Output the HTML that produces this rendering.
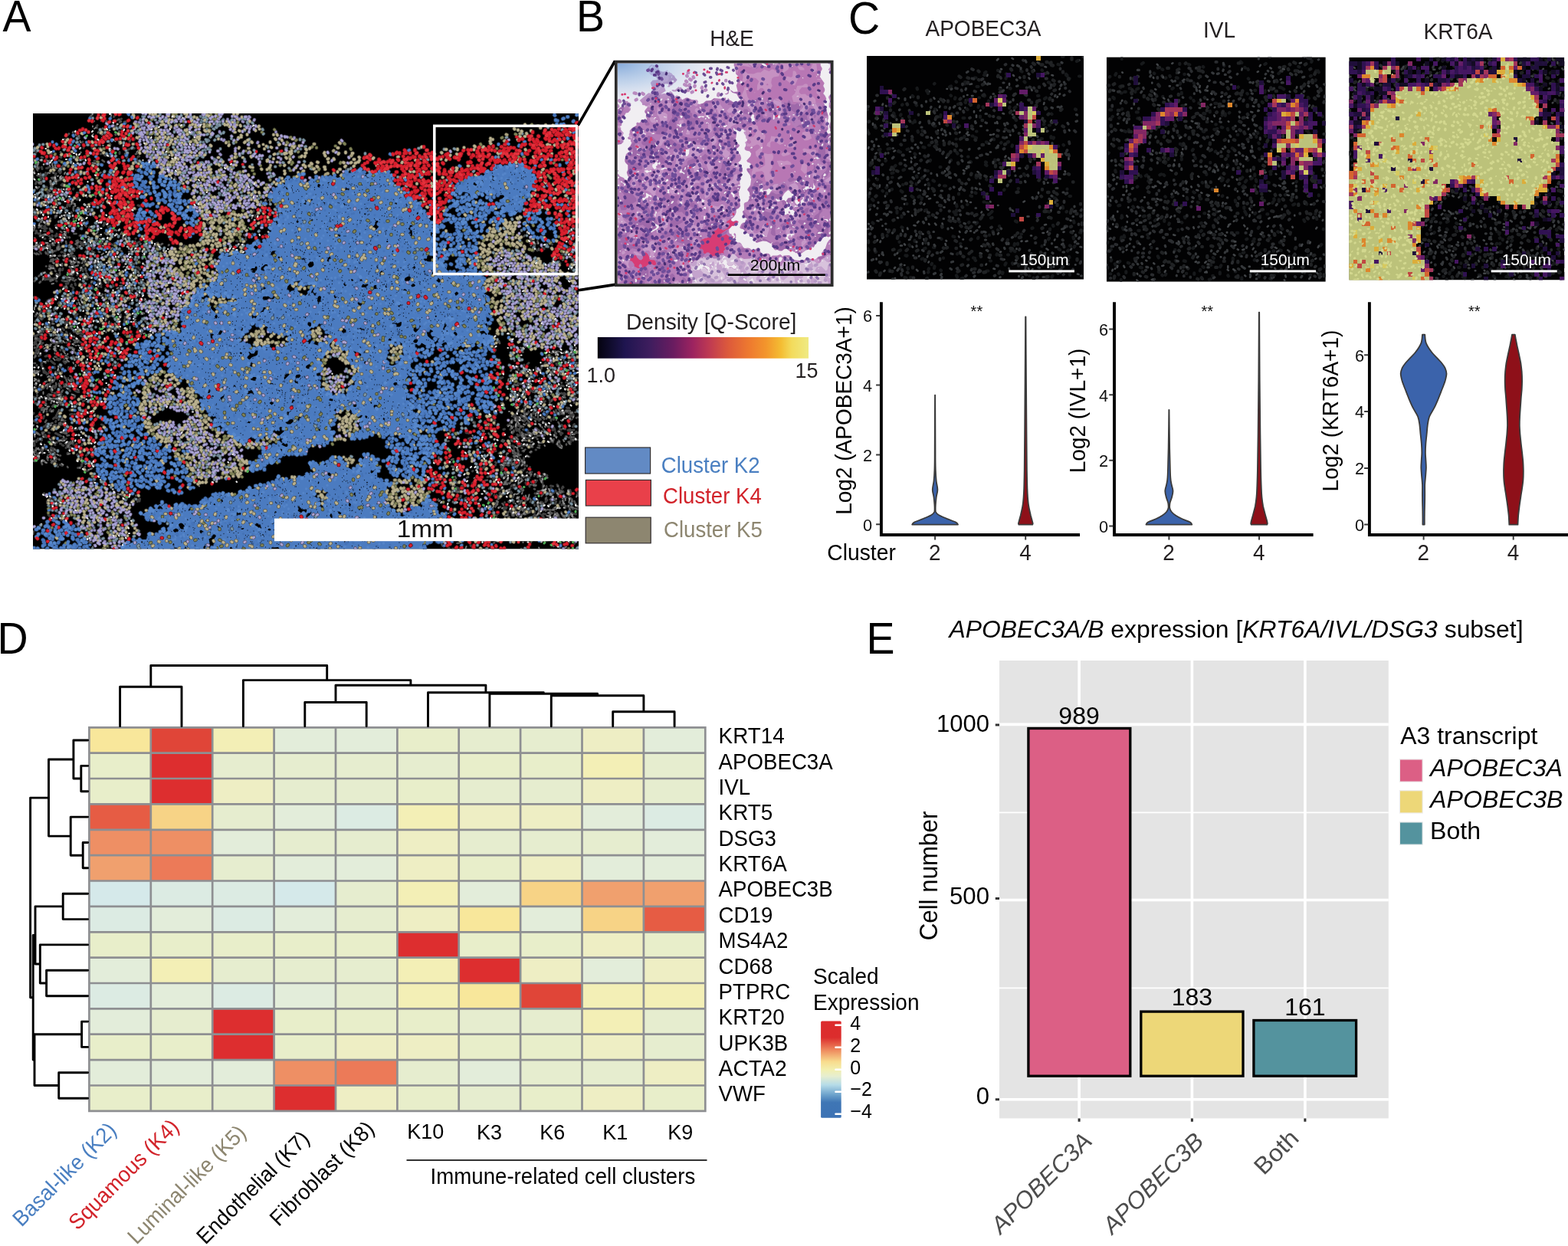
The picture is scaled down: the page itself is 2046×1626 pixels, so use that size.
<!DOCTYPE html>
<html><head><meta charset="utf-8"><title>Figure</title>
<style>html,body{margin:0;padding:0;background:#fff}svg{display:block;font-family:"Liberation Sans",sans-serif}</style>
</head><body>
<svg width="2046" height="1626" viewBox="0 0 2046 1626">
<defs>
<linearGradient id="inf" x1="0" x2="1" y1="0" y2="0">
<stop offset="0" stop-color="#04030f"/><stop offset=".06" stop-color="#100c2d"/><stop offset=".13" stop-color="#1f1550"/>
<stop offset=".25" stop-color="#3f1d5e"/><stop offset=".36" stop-color="#6a1c60"/><stop offset=".45" stop-color="#9c2360"/>
<stop offset=".53" stop-color="#bf3a52"/><stop offset=".62" stop-color="#dd5a3b"/><stop offset=".72" stop-color="#ee7a2f"/>
<stop offset=".8" stop-color="#f3962c"/><stop offset=".87" stop-color="#f4bd33"/><stop offset=".92" stop-color="#f3db5c"/>
<stop offset="1" stop-color="#efea83"/></linearGradient>
<linearGradient id="rdbu" x1="0" x2="0" y1="0" y2="1">
<stop offset="0" stop-color="#dc2b2c"/><stop offset=".17" stop-color="#dc2d2d"/><stop offset=".3" stop-color="#ee8a5e"/>
<stop offset=".42" stop-color="#f8dc8e"/><stop offset=".5" stop-color="#f3efae"/><stop offset=".57" stop-color="#e6eed0"/>
<stop offset=".66" stop-color="#b5dbe8"/><stop offset=".76" stop-color="#6ea3cc"/><stop offset=".84" stop-color="#3f76b5"/>
<stop offset="1" stop-color="#3c72b4"/></linearGradient><clipPath id="cpA"><rect width="712" height="568.6"/></clipPath>
<clipPath id="cpB"><rect width="278.3" height="288.2"/></clipPath>
<radialGradient id="hebl" cx="0" cy="0" r="1" gradientUnits="objectBoundingBox" gradientTransform="scale(1 1)">
<stop offset="0" stop-color="#7fa6d8" stop-opacity=".95"/><stop offset=".45" stop-color="#a9c6e8" stop-opacity=".6"/><stop offset="1" stop-color="#dfeaf6" stop-opacity="0"/></radialGradient>
<clipPath id="cpC1"><rect width="283.1" height="291.7"/></clipPath>
<clipPath id="cpC2"><rect width="286" height="293.3"/></clipPath>
<clipPath id="cpC3"><rect width="281" height="290.7"/></clipPath>

</defs>
<rect width="2046" height="1626" fill="#fff"/>
<g transform="translate(43 148)" clip-path="url(#cpA)">
<rect width="712" height="568.6" fill="#000"/>
<path transform="scale(.5)" d="M88 481l2 0M1196 990l-1 5M195 234l1 0M1245 941l4 4M16 696l-2 -1M1322 867l-2 -1M1253 632l2 2M28 665l1 2M38 736l4 5M1315 761l4 -1M1298 941l1 0M103 854l1 -2M1257 968l-5 3M122 390l-4 2M1405 1019l2 -6M19 740l1 2M1288 955l2 1M1281 882l-3 -1M76 188l2 -2M1285 771l2 -6M234 374l1 -1M1300 698l-5 -4M55 814l5 -1M1190 1104l0 4M1215 1076l-5 -1M21 259l4 -5M272 471l5 4M1300 1009l-2 5M4 862l0 5M56 391l-2 0M271 118l0 6M1199 793l4 4M1390 1004l2 -2M27 564l4 0M1295 969l1 5M199 472l-1 -3M1289 1044l-1 0M123 782l1 -1M1251 970l-3 3M118 706l0 1M192 537l-2 -5M1312 1066l-5 4M95 1050l5 -1M127 916l3 -3M1371 387l2 -1M1289 785l0 -3M1340 633l3 0M1127 1006l4 -3M1350 1093l4 -2M1321 1032l0 2M188 312l5 4M269 147l2 2M248 346l1 2M1218 691l3 -1M1314 799l-3 -3M42 320l2 1M293 445l2 1M44 776l2 -4M129 446l5 1M45 181l6 4M58 1016l2 1M1272 977l-1 1M1263 1068l0 4M148 250l-3 -2M1411 788l-3 3M1325 674l-1 -4M123 573l7 2M5 756l7 2M240 532l0 -1M1347 821l0 -5M206 676l3 0M32 161l1 2M1231 1015l0 1M1148 933l-1 1M65 211l4 1M50 696l-1 6M605 317l4 0M105 417l-4 -3M46 667l1 4M1370 676l-6 -2M1210 996l-1 4M1361 1116l0 -5M139 512l-4 -5M74 1061l-2 -4M1275 934l5 -3M5 199l-5 4M1380 369l6 -4M1227 1029l2 -1M1250 918l3 -2M1267 893l-2 -1M1330 965l-2 -6M1356 826l0 -3M27 349l6 1M43 560l6 1M13 849l1 4M123 348l0 2M237 491l6 -3M8 236l1 -2M217 379l1 -3M1258 922l2 0M1 878l0 5M1288 847l-2 0M72 760l2 -6M53 874l2 2M28 843l3 1M86 546l3 -1M36 199l2 6M1190 821l1 2M87 598l1 0M62 747l2 -4M166 529l-3 -6M105 284l1 -3M156 708l2 7M17 748l1 3M1250 990l-3 2M1382 835l-5 -3M56 662l1 3M86 873l5 -5M1323 696l-1 -4M1248 854l0 -2M127 884l4 -6M37 645l3 1M1283 866l-4 1M1325 769l2 -3M50 318l1 2M1272 932l5 -1M156 531l-1 -3M1305 727l-3 -6M1284 826l-5 -1M1420 418l5 1M1372 782l-5 -2M1137 849l6 -2M13 129l-1 4M6 590l3 -4M1413 811l-2 2M10 807l2 0M21 569l6 1M266 476l2 0M15 589l4 -1M250 396l6 1M30 672l-2 1M1222 924l4 3M1167 917l1 4M1264 904l0 -2M1312 772l1 -1M1405 726l-6 0M168 282l-1 -2M1264 738l2 -4M141 218l-1 -1M179 218l3 -5M29 295l3 0M24 883l1 4M1279 662l3 -6M212 35l6 -2M115 891l1 -1M1250 748l-1 -5M111 569l3 2M1420 987l0 -1M131 751l4 -2M1411 836l-2 0M22 876l-1 3M1256 900l1 -3M436 284l3 3M198 171l1 -1M289 408l2 1M131 509l-2 -2M51 851l1 1M246 113l-1 3M44 688l-2 5M6 529l3 -3M160 124l6 0M136 535l1 -6M1157 816l5 2M118 60l-2 -4M1066 977l4 -2M13 619l1 -1M137 914l1 -3M79 212l1 -2M1284 838l-6 1M1266 1045l-1 5M1273 820l-3 -5M1365 836l-2 -4M25 837l1 1M202 340l6 3M100 85l-3 -6M1202 882l6 -1M185 292l1 -7M194 479l-4 -2M59 1031l3 -5M118 224l-2 -1M11 579l2 -1M1399 770l-6 -2M1352 802l0 -4M9 178l-2 6M118 161l3 -2M1242 903l2 -2M1340 810l-4 -2M104 375l-3 -4M223 423l2 -2M39 364l0 4M64 138l-4 -5M1330 794l-3 -4M1101 983l2 -2M12 570l5 0M1382 676l-6 -3M211 9l4 -6M192 547l0 -1M131 370l-1 5M182 718l0 2M241 578l-2 -6M87 570l2 5M7 337l3 -1M154 896l3 -1M59 859l3 0M1402 985l0 -2M111 528l5 -4M1400 997l-3 -3M454 284l4 4M1383 767l-2 -3M256 1016l1 -2M531 333l3 1M9 853l0 4M1409 1067l-2 1M1266 842l-1 -1M195 336l5 2M119 222l-2 -3M326 338l-3 1M187 168l3 -4M233 388l0 -1M60 791l1 -3M58 711l2 2M1273 1025l-3 3M67 597l2 1M177 336l4 1M102 822l1 0M231 996l3 2M1410 786l-1 4M1279 1004l0 2M1375 1017l1 -4M9 619l1 -7M143 540l1 -6M72 714l1 1M1129 1012l2 -3M147 299l1 -3M1417 721l-2 1M9 232l6 1M8 307l1 -1M1407 782l-1 1M1267 882l-1 -1M109 373l-2 -1M1259 910l0 -3M1310 1040l-5 2M117 338l-2 5M1416 342l0 2M78 633l5 5M1309 1021l0 2M87 449l0 2M31 758l4 1M1252 835l-1 -4M1373 980l0 -1M1420 1096l-4 3M158 958l2 5M237 549l1 -2M29 416l-4 0M1204 669l2 1M71 156l2 -4M1328 1048l3 3M1335 840l-1 -2M1267 841l-3 -3M182 164l4 0M72 296l7 2M158 882l5 1M1262 850l-3 -5M1307 971l2 0M1168 929l-1 1M38 204l3 6M55 819l5 -1M87 864l2 -2M266 601l6 1M1403 858l-2 -2M56 730l2 0M1381 979l0 -2M1390 733l-4 -3M72 729l3 -1M126 338l0 4M59 898l3 4M1418 1023l-1 -3M1375 392l1 -1M1299 937l3 -1M579 334l1 2M1268 964l-1 6M205 379l-3 -6M1409 854l-5 -4M1236 942l-2 5M1355 994l1 -7M194 192l2 -1M139 240l-6 -2M32 338l7 1M266 67l-3 3M1420 832l-1 1M95 612l7 -1M156 854l4 -1M119 595l6 3M1287 1008l-2 5M91 285l4 -4M74 684l-1 1M55 599l3 1M122 319l3 1M1118 977l4 2M9 723l-1 0M1096 1058l-1 -1M1283 1030l-4 1M1135 832l2 3M61 600l3 0M23 538l2 -2M123 255l-1 -1M1338 1009l3 -1M1301 1036l-6 3M80 143l-5 -4M237 487l4 -3M191 717l1 4M1237 887l1 0M1371 998l-2 -5M1384 988l-1 -2M1207 910l2 2M1308 965l4 -2M71 862l2 0M9 229l6 -1M77 611l4 1M1332 1045l6 1M104 454l2 3M42 433l-6 0M104 863l1 -4M60 423l0 -1M56 844l2 2M1389 626l-1 -3M7 313l3 -3M36 226l4 0M1268 863l-5 -2M136 426l4 2M268 389l6 1M59 293l5 -2M1262 1046l2 5M32 219l6 1M248 389l7 0M40 857l5 2M250 471l3 0M1295 847l-3 1M204 304l5 1M178 453l-1 -1M1337 831l-4 -1M1376 662l-3 -4M41 833l2 1M1418 831l-4 5M102 422l-5 -3M200 382l0 -5M615 281l0 -4M1301 883l-2 2M54 154l0 -1M25 535l2 -4M1327 727l2 -1M1349 985l-1 -4M1214 649l1 2M15 633l5 -3M89 244l1 -6M127 76l3 -2M73 332l1 4M1228 825l3 -1M1113 905l4 -4M1340 787l3 -5M118 208l0 -1M1260 1098l3 1M37 1013l2 -2M222 424l-1 -5M30 327l2 0M98 337l-1 6M1278 1087l-2 1M92 444l-6 0M1392 629l-2 -4M258 584l1 -7M1262 664l4 -3M1397 630l-3 -3M179 812l6 3M109 528l2 -2M1262 894l-1 -2M1400 1119l-6 1M139 295l-2 -6M1313 878l-1 0M141 391l0 2M1294 951l2 0M1389 795l-2 0M1246 910l4 -4M1252 949l0 2M33 873l1 3M1310 992l5 1M100 387l-5 -3M1285 786l1 -3M63 330l2 4M1209 1115l-1 1M63 210l1 0M1384 976l-1 -2M191 23l1 -3M1404 990l-1 -3M1263 1096l2 3M1262 828l-2 -6M1289 937l1 -1M30 674l-2 2M59 805l1 -2M178 447l-2 -6M152 684l-4 6M48 359l0 3M155 91l0 -2M1336 720l1 -6M1253 1116l1 -1M124 580l5 3M271 410l4 3M28 172l-1 3M1272 1095l-1 7M108 179l1 -3M171 319l6 0M1291 966l4 3M46 875l2 2M68 839l5 3M63 822l1 -2M1302 792l-3 -5M1346 1021l3 0M47 905l3 2M75 326l0 3M1166 1136l2 -1M1141 896l4 -2M1046 952l1 -1M50 597l6 1M44 211l4 3M1292 1056l-3 1M1287 1078l-3 0M35 633l7 -2M1405 786l-4 3M254 92l-6 3M1248 987l-7 0M157 918l2 -1M23 140l1 5M1415 320l0 3M1258 852l-3 -2M3 855l-1 4M1154 1103l2 4M30 222l4 1M1404 1097l-3 1M1404 780l-5 2M69 321l0 1M1417 1046l-3 -1M1360 702l-2 -1M1260 689l-2 -5M1154 1075l-3 1M26 776l3 -2M602 255l0 -5M1154 965l-3 5M261 1020l3 -3M58 889l1 1M0 718l-3 0M26 352l5 -1M6 218l1 5M1262 925l3 -6M1270 812l0 -1M1401 1039l-1 -3M91 718l4 3M1422 621l-2 -2M270 340l-4 4M1395 694l-2 -1M28 818l3 -2M95 438l-3 1M104 461l1 7M86 709l6 1M153 406l1 0M1288 798l-3 1M127 667l2 5M195 492l0 -1M82 587l2 1M54 151l4 -5M62 643l6 1M125 613l6 0M8 743l0 4M11 889l1 5M1233 963l-3 0M36 192l1 3M187 109l3 1M115 270l-2 -3M135 375l0 4M1286 839l-6 -2M1347 1054l2 0M129 337l-1 6M150 427l3 -1M1271 1018l-2 1M1057 965l3 2M1362 1045l0 -5M22 576l5 3M80 190l3 0M133 676l-1 1M4 297l0 -3M334 572l1 1M49 690l-1 3M139 800l4 -4M196 443l2 -5M102 713l2 1M1408 699l-2 -1M123 335l3 6M1399 1005l0 -2M63 398l-1 -4M1362 1117l-1 -4M1285 801l-2 -6M599 292l1 -4M1356 984l-4 -5M332 246l2 4M1402 1036l-1 -2M265 91l-2 1M108 640l0 3M303 578l4 -2M39 892l3 0M1335 731l2 -2M1314 355l2 3M96 875l2 -4M1286 947l5 1M1376 869l0 -5M72 397l0 -2M152 410l4 0M89 322l0 2M1259 922l4 -1M1121 1115l-4 3M1229 1034l6 -3M46 397l-3 0M78 849l3 0M1386 645l-2 -2M231 479l3 -2M297 335l-5 3M1207 779l3 5M1097 910l1 0M148 256l-1 -1M1236 929l1 7M70 421l0 -5M1250 933l2 2M25 665l2 5M154 534l-1 -6M1265 798l-3 -6M1130 833l2 1M1392 1111l-4 1M31 302l1 -1M387 342l-3 4M110 724l6 3M1270 828l-1 1M1335 736l2 -1M1308 1098l-3 6M1273 867l-6 -2M198 352l6 2M1381 769l-2 -5M26 519l0 -2M1379 1044l0 -3M171 436l-5 -4M1402 825l-6 2M184 522l-2 -1M1293 834l-3 -3M48 1031l4 -5M1240 965l-5 1M1065 966l6 2M1120 1124l-1 1M106 637l5 5M196 296l6 -2M1208 1018l4 0M120 346l-5 5M1097 925l3 1M50 419l-2 -1M51 171l5 -1M1330 1051l3 3M56 614l4 1M226 17l5 -3M1286 767l0 -1M53 797l3 -3M1207 917l0 1M1413 701l-4 -1M1417 1092l-6 3M1349 755l0 -1M184 293l2 -6M1399 695l-4 -1M1421 852l-6 -2M573 314l2 1M18 601l3 -3M74 187l4 -3M1309 686l0 -3M159 497l-3 -5M264 549l4 -5M128 910l6 -4M1367 1049l0 -5M163 530l-2 -6M90 864l2 -6M1386 645l-2 -3M1380 1022l4 -5M254 526l1 -1M172 948l3 1M158 411l3 -2M53 371l-3 1M1099 1100l-3 -6M167 38l0 -2M122 619l1 1M184 517l-2 -1M140 250l-2 -1M281 447l2 1M1366 1111l-6 -2M1339 725l2 -2M6 626l2 -2M140 933l4 -1M1308 946l2 -3M278 458l3 2M1131 895l5 -4M1246 825l2 -5M1402 376l4 1M139 893l4 -4M157 387l4 4M1219 1000l0 3M61 795l2 -2M183 351l5 3M1166 1027l0 -3M1079 903l3 -3M165 244l-2 -2M18 498l1 -4M1260 820l0 -6M1322 988l3 -1M3 604l5 -4M77 866l3 1M1198 1080l-1 1M1143 1062l-1 -1M109 91l-1 -1M1344 1101l3 -3M1229 906l5 3M1214 1045l-3 -3M1423 998l0 -4M97 575l2 7M1228 912l5 1M51 650l6 4M1152 1013l5 -1M1172 928l-1 1M226 641l1 -1M1255 995l-2 6M17 672l-3 3M1363 1019l2 -6M144 782l5 -2M1277 792l-3 -5M193 424l-1 -5M278 1012l1 -6M253 496l3 0M1253 1037l3 3M276 444l7 1M1 803l5 -2M297 558l3 -2M1227 981l-4 -1M175 470l-5 -1M109 297l3 -1M1239 814l1 -1M159 473l-4 -4M135 686l0 6M1287 1032l-5 0M1398 1055l0 -3M105 198l1 -2M114 573l2 1M1311 961l4 -3M1357 858l-4 -3M1353 625l1 0M107 570l3 -1M32 634l7 -1M1280 912l-5 -5M1333 755l4 -4M253 44l3 5M1096 999l-1 -4M4 598l5 -4M194 109l6 3M1230 993l-4 2M1111 1093l-2 -2M40 679l-2 1M116 422l-1 0M76 224l6 -2M118 895l4 -3M48 872l1 3M523 950l3 -3M1333 352l1 2M157 391l1 0M9 213l0 2M52 573l6 0M1402 792l-3 6M1203 809l2 3M156 457l-3 -4M50 340l1 4M231 375l2 -2M131 551l3 0M37 680l-1 1M1106 976l6 3M25 590l3 -2M1369 1049l0 -3M177 286l0 -5M56 406l-5 -5M82 452l-2 4M1282 765l0 -3M1210 1099l-5 0M167 303l1 -5M163 383l6 1M25 580l5 0M1409 1109l-4 3M65 640l2 4M156 350l1 3M1308 972l4 0M1211 1102l-3 0M64 356l-6 3M170 448l0 -5M13 887l0 5M1349 1055l6 0M148 475l-1 -3M1367 656l-1 -3M117 727l3 0M1261 685l0 -2M33 155l4 3M291 453l1 1M1102 1017l-6 -2M1422 995l2 -2M1396 1026l0 -2M194 443l-3 -3M141 669l3 4M244 405l3 -2M1297 744l0 -3M189 288l4 -1M1172 1067l-2 1M1315 1008l3 2M117 387l-4 0M1268 762l4 -4M1236 1042l4 -1M1423 312l4 4M222 503l2 -3M1158 870l4 -2M1328 1028l1 3M1408 827l-4 2M60 432l-4 -2M113 378l-6 -1M1171 1086l0 2M54 434l-5 -3M1397 1049l-4 -1M5 804l5 -5M1280 677l-3 -4M21 163l-2 2M277 112l-3 1M1297 928l0 -5M1247 1030l5 4M46 527l-2 -5M1340 996l2 -6M86 544l4 1M28 257l6 -4M207 397l0 -2M167 389l4 1M16 141l-1 3M1323 695l-1 -2M1322 1081l2 6M1206 953l-5 1M1287 703l-1 0M1358 1032l2 0M72 1055l-2 -5M58 319l1 2M370 167l3 5M1264 1004l-1 1M6 350l6 -1M1229 1074l-1 -3M1250 698l1 -4M248 486l2 0M1320 751l4 -4M44 327l2 1M1302 1081l-1 1M588 330l3 3M64 921l1 1M1413 1059l-6 -1M56 918l3 1M1272 902l-2 -3M1373 1001l-1 -1M1346 643l3 -3M248 135l5 2M264 475l4 6M221 497l1 -6M1407 798l-6 3M91 434l-3 -5M55 527l3 -4M264 447l2 3M72 635l2 2M45 704l-1 5M1235 747l1 -1M115 225l-1 -3M1372 651l-1 -7M138 500l-6 -1M51 544l4 -6M1266 815l-4 -4M1207 616l-1 1M1263 823l-2 -3M71 617l1 1M10 592l3 -1M70 740l2 -5M90 887l1 -1M82 68l1 -1M154 90l5 -4M580 270l0 -4M1261 893l-2 -3M1239 957l-6 3M20 281l4 -5M444 286l3 4M1351 1080l0 -5M84 256l3 -4M75 801l2 0M1218 982l-6 2M257 357l4 4M1400 349l4 2M1286 964l2 5M1404 833l-1 0M202 563l-2 -5M1173 826l4 2M1051 963l6 -2M117 412l-6 0M52 599l2 0M22 656l2 4M73 812l3 -3M7 428l-2 2M1210 1050l0 -1M106 883l0 -5M1385 1012l-2 -5M116 468l1 -1M101 447l-2 4M1372 1025l-2 -4M1224 926l-1 5M199 313l6 1M96 611l2 1M1412 826l-5 1M1075 918l2 -6M1284 844l-6 -1M29 907l3 3M59 689l0 2M1327 1016l1 1M485 376l6 3M1211 1014l2 0M77 212l1 -1M1116 987l3 -2M111 626l3 2M1403 712l-3 0M85 638l3 2M110 532l4 -2M64 677l-1 2M1225 1102l-3 -3M47 721l3 6M9 675l-2 1M269 326l-1 1M1215 646l1 1M99 476l5 0M1395 624l-3 -4M176 614l-1 -6M1410 638l-3 -1M555 327l1 3M1414 356l3 5M1414 387l1 -1M1283 1020l-2 2M1265 1040l-1 2M103 350l-2 5M1353 853l-1 -2M96 724l1 0M80 706l2 3M167 301l6 -3M132 207l-5 -4M1330 1106l7 0M27 428l-1 1M1385 782l-1 -1M40 127l4 -4M1276 617l2 2M17 594l5 -3M1150 805l3 1M1416 1118l-3 5M600 272l0 -4M58 163l2 -6M1322 1095l4 3M39 517l0 -2M106 235l-4 -4M1394 779l-4 -1M10 592l6 -1M239 543l0 -1M61 318l1 2M1220 993l-2 3M1374 786l-3 -2M208 303l4 2M1411 1102l-2 1M1378 639l0 -4M117 925l6 0M84 271l1 -6M268 427l3 4M99 405l-1 -4M24 905l1 1M1341 951l-3 -1M127 866l3 -4M179 544l0 -1M62 438l-1 -1M1322 830l-3 -4M96 242l1 -4M23 683l-2 1M19 122l4 2M1229 967l-1 1M267 249l1 1M1305 784l2 -5M1267 886l-2 -1M1255 872l-2 -3M1245 809l4 -4M1225 940l-3 4M22 602l4 -3M55 514l0 -5M1216 887l1 0M226 590l0 -6M1337 709l2 -2M1413 414l2 -1M1095 1137l1 -1M107 415l-3 -2M255 49l4 5M53 711l4 6M1255 731l0 -5M57 588l2 1M231 424l1 -2M62 512l3 -5M234 996l5 -1M1032 953l1 -3M62 314l0 5M1270 829l-6 -2M1134 858l6 -2M1392 1096l-1 -1M103 359l-4 4M1405 338l4 5M66 735l5 -1M1270 910l-1 -2M152 753l3 2M68 738l6 -4M32 434l-1 0M1348 794l1 -2M1283 919l0 -1M1326 838l-2 -6M148 1113l-6 -3M200 360l5 0M643 266l1 -6M27 796l2 -6M1376 998l0 -7M131 339l1 6M116 627l2 0M1179 1113l2 5M92 691l0 2M1181 1034l-1 -5M116 696l-1 3M134 881l1 -3M35 518l0 -5M236 323l0 6M242 25l1 0M119 1071l0 1M1278 980l-2 5M13 533l3 -3M126 921l1 -1M1320 987l6 -2M258 454l3 4M1379 825l-4 -1M1361 794l-1 -1M1411 391l5 2M109 825l7 -1M149 257l-2 -2M1112 983l2 0M27 260l2 -3M207 406l-1 -3M19 519l1 -4M1259 972l-5 5M1100 1105l0 -4M77 362l-3 0M1281 1002l-1 1M38 248l1 -4M38 489l5 -3M6 632l1 -1M1397 702l-6 0M1330 755l2 -3M1200 1036l0 -3M1292 1086l-1 2M1201 789l6 -1M40 817l6 0M44 559l6 2M1254 700l-4 -4M608 229l1 -1M101 260l-1 -2M576 256l0 -2M335 364l-4 5M42 552l2 0M29 588l6 -2M1271 795l-1 -2M1136 866l4 -4M177 106l6 -3M1303 848l-3 0M19 338l2 -1M1281 1044l-5 3M1356 385l3 1M1204 996l0 2M206 318l2 4M1420 996l3 -4M1331 845l-1 -2M76 812l4 -3M1281 903l0 -4M1 867l-4 3M1268 750l1 -3M84 549l2 0M89 833l3 -2M95 239l0 -1M31 713l-4 5M1 265l3 -2M118 254l-4 -3M1416 359l4 5M28 992l2 0M1255 1011l-1 5M1399 811l-1 1M157 362l3 1M1254 1092l6 2M1382 816l-2 -3M1359 990l-2 -4M1246 979l-2 1M60 541l3 0M63 785l2 -5M1409 300l3 2M21 171l-1 1M122 444l1 1M11 578l1 0M1410 1045l-5 -3M16 700l-5 -2M8 99l1 2M131 704l-1 7M1402 863l-1 -6M1094 1109l2 -3M75 173l3 -3M1228 982l-1 0M154 540l-2 -3M1310 1047l-4 4M214 364l5 -4M52 650l1 1M1255 1116l2 -1M1292 828l-3 -2M1251 1029l0 7M1385 778l-5 -3M115 70l-1 -3M1249 903l0 -2M1407 1138l-3 1M308 584l4 -1M132 90l1 -6M1107 934l6 3M52 1015l2 0M60 599l1 4M285 445l1 1M23 236l7 -1M1204 930l-3 5M1168 1039l0 -1M1295 732l1 -6M1324 956l0 -3M157 420l2 -1M1244 1037l5 4M1326 1014l6 3M1385 712l-6 -2M34 813l3 -3M47 646l3 3M201 79l1 3M243 1003l3 -1M192 463l-3 -6M1195 1073l-1 5M1323 813l-1 -1M15 343l7 0M109 867l5 -4M10 483l2 -1M1116 1002l1 -4M1377 716l-1 -2M1342 945l-5 -1M1263 890l-1 -2M1413 814l-4 4M101 707l2 3M18 320l1 -1M1403 833l-2 1M116 155l3 -4M128 701l1 4M27 214l1 1M1258 800l3 -5M1423 833l-6 0M210 385l-1 -5M33 112l1 0M1341 945l-1 -1M1152 1102l2 4M1389 824l-5 -2M82 438l-6 -2M105 634l2 2M461 366l2 3M1252 848l-2 -4M1340 979l0 -6M24 715l-2 4M1110 986l3 -1M19 712l-3 1M125 708l4 6M1153 1085l-1 7M96 775l3 -2M5 437l-1 1M1398 989l-1 -6M1096 1062l-1 -3M1403 832l-5 -3M150 919l1 -1M1356 677l-1 -4M149 170l4 0M270 11l5 -3M1354 655l1 -4M1331 977l0 -7M201 678l1 -1M98 207l1 -3M44 342l0 2M182 53l5 -4M23 166l-2 1M1303 837l-5 -2M72 853l2 -1M6 880l1 4M1246 905l1 -1M1192 947l-6 2M1247 1082l2 0M1055 1022l0 -3M139 673l2 3M210 451l-1 -3M1362 826l-2 -5M65 583l2 0M1382 375l4 -1M41 497l2 -3M1387 361l5 2M63 1058l-2 -1M58 272l3 -3M156 238l-5 -4M82 806l2 -4M1243 1107l2 -6M71 174l2 -3M61 177l5 -2M1385 998l0 -2M257 405l3 -1M70 593l4 0M1136 1073l-5 -4M273 374l0 6M1282 795l-1 -5M201 173l1 -1M142 338l3 5M8 832l5 3M1366 1051l6 -2M1340 1103l6 -1M1298 726l0 -5M127 877l1 -2M274 504l6 4M1370 971l-2 -2M90 605l3 2M1286 1046l-3 0M126 184l3 -1M1350 337l5 5M1327 666l0 -7M130 406l0 5M185 3l1 -2M1178 922l-5 4M1239 1047l1 0M47 309l4 0M87 398l-2 -5M201 646l0 -4M1422 1027l-2 -2M41 733l3 1M5 829l3 2M50 880l3 1M326 345l-4 1M1285 1069l-6 0M84 200l2 -2M1313 667l0 -4M126 339l0 4M1268 949l2 3M1390 690l-6 -2M194 643l-2 -5M1231 1028l5 0M1243 914l6 -2M150 574l0 -1M91 309l1 1M401 195l5 -2M40 141l5 -1M1364 698l-4 -1M75 598l1 0M202 620l-1 0M94 374l-1 -1M1293 782l1 -4M106 786l3 -1M66 747l1 -3M281 435l5 1M34 676l-3 1M153 439l0 -1M1168 1061l-6 -2M66 496l3 -4M156 454l-4 -5M1257 870l-5 -3M1274 706l-4 0M1330 773l0 -1M153 485l-1 -1M167 114l2 1M278 335l-4 2M136 384l-1 5M106 276l0 -1M1256 878l-1 -1M1282 1036l-3 1M48 716l1 7M123 858l0 -2M108 880l2 -5M76 217l1 -3M1259 1082l-1 4M65 688l1 2M201 553l3 -5M1203 798l3 4M45 1052l-5 -4M13 892l1 3M1 784l1 -2M1267 669l0 -2M33 289l2 -1M1365 779l0 -5M11 605l0 -1M1262 1030l-4 4M14 314l5 -1M20 179l-6 1M50 489l2 -3M1357 973l-6 -1M50 847l3 5M1101 1080l0 -2M1279 774l0 -2M25 349l3 0M11 735l0 2M66 641l5 1M1339 789l0 -4M85 382l-2 -1M1325 1079l0 1M1357 827l-1 -3M29 307l4 0M1275 838l-4 -5M77 409l1 -4M82 852l5 -3M1284 608l2 1M1314 845l-6 0M51 765l4 -5M90 200l4 -3M1416 692l-4 2M65 838l5 2M23 197l-4 5M1330 1034l1 2M1409 787l-5 4M191 531l-3 -6M1268 797l0 -5M20 170l-2 1M71 524l1 -2M77 561l4 4M1378 839l-2 -5M1415 1056l-5 -1M1237 1081l1 -2M40 258l1 -3M1077 1108l2 0M278 389l1 0M199 562l0 -7M1090 1041l-1 -1M97 786l5 -1M1352 1014l2 -3M186 974l-1 2M110 444l1 4M65 689l-1 4M91 706l1 4M67 135l-5 -4M1401 683l-7 2M17 360l4 6M1351 1100l3 -1M1399 769l-4 1M70 315l3 5M1403 844l-4 2M1373 1056l0 -2M1335 655l3 -5M124 301l4 -4M18 294l5 -1M1304 871l-2 -2M208 399l0 -4M1338 943l-6 -2M1321 802l-3 -6M1346 776l3 -3M1085 835l3 4M43 534l2 -3M226 101l0 4M1349 832l-2 -4M1408 686l-1 1M1142 1127l3 4M10 657l0 1M1276 947l4 2M1268 735l-1 -5M5 741l0 2M1282 804l-2 -2M1405 406l5 0M253 73l-1 1M274 240l7 2M114 635l1 3M1420 1137l0 6M273 1013l2 -5M22 851l1 2M202 667l2 -1M1311 765l2 -5M67 152l0 -2M62 795l1 -1M58 196l3 1M1249 821l1 -1M136 774l4 -3M71 917l6 2M22 298l1 1M106 418l-6 -2M1415 734l-2 0M67 340l1 4M247 1107l1 3M1417 302l4 1M22 651l1 1M5 904l4 2M74 595l4 0M165 329l5 3M45 668l0 4M1393 357l3 3M1291 810l-3 -1M1392 1082l-3 -3M35 143l3 0M9 342l2 -1M1411 1031l-3 -3M1192 996l-1 5M73 349l-4 4M1378 1122l-1 -1M1338 347l1 2M21 860l0 2M1141 793l6 0M71 124l-3 -1M1275 919l2 -4M1268 778l0 -4M1036 924l1 -2M1283 851l-4 0M1418 755l-6 0M275 402l4 5M169 461l-4 -1M247 418l2 0M32 192l1 4M175 402l0 -2M67 345l-4 5M196 567l-2 -4M1382 732l-3 -2M28 300l1 0M1084 1133l2 1M2 740l2 3M1367 990l-3 -6M53 1004l1 1M1359 621l5 0M60 297l3 1M62 916l1 0M1185 1105l0 3M1314 696l-4 0M31 301l5 -1M139 377l0 3M49 106l-1 -4M1347 991l1 -5M72 679l0 5M1225 926l1 4M133 562l4 0M53 987l2 4M56 1008l6 3M194 372l4 -3M269 401l3 1M571 268l3 -3M1260 765l1 -1M281 436l4 2M1256 793l2 -6M53 399l-4 0M1396 352l3 6M1095 1104l2 -6M124 884l4 -5M1307 794l0 -1M59 835l3 1M1352 635l6 2M52 579l1 1M49 825l4 2M93 593l4 2M36 745l6 0M3 90l-3 4M1393 843l-3 0M80 647l4 5M47 690l-2 6M67 659l5 4M1359 799l-1 -2M273 475l4 1M1325 1017l3 1M1290 655l4 -4M265 78l-4 4M263 412l6 -1M1251 803l1 -2M111 405l-2 -3M1121 1104l-3 2M1404 693l-6 2M1220 990l-2 1M1409 1033l-3 -5M1266 704l-1 -1M1366 783l0 -4M67 349l-2 1M90 889l2 -1M486 389l3 1M114 760l6 -4M34 771l4 -5M58 738l5 -5M1250 1046l1 4M126 690l-3 6M45 427l-5 1M136 431l6 2M1274 747l1 -1M34 240l4 -2M1297 1097l1 2M1374 698l-5 -4M74 115l-4 -1M73 250l1 -5M1306 1015l-2 2M76 575l3 6M116 212l-1 -5M263 344l-1 4M166 34l2 -3M48 1035l-1 -2M93 417l0 -1M36 778l0 -1M1374 992l-2 -3M1348 748l0 -6M1381 1089l-3 -4M144 503l-5 -1M13 577l5 -1M166 83l1 0M1334 986l0 -2M126 953l5 0M80 638l2 3M1353 855l-2 -3M132 486l0 -5M70 711l4 5M1331 948l-2 -1M56 863l2 2M1238 1079l1 -1M1273 840l-3 0M1299 794l-2 -5M174 546l0 -2M1338 1014l4 -5M133 396l-1 2M1221 692l5 -3M1404 724l-4 0M274 566l1 -6M7 585l4 1M22 848l1 1M35 428l-7 -1M1086 825l-1 2M137 407l2 4M1405 658l-5 0M138 671l-2 3M32 839l3 6M88 632l4 5M239 540l2 -6M50 432l-6 1M395 345l-4 5M35 428l-6 4M81 1055l3 -6M149 556l6 -2M100 622l6 0M1374 859l-2 -5M1208 1086l-7 0M154 359l1 1M333 343l-5 4M1096 827l2 6M2 580l4 0" stroke="#5a5a5a" stroke-opacity="0.7" stroke-width="6.0" stroke-linecap="round" fill="none"/>
<path transform="scale(.5)" d="M1330 957l0 -3M158 873l5 -1M201 352l3 1M95 323l1 1M1225 669l2 0M1107 922l1 1M1090 969l2 0M57 635l4 1M386 199l3 0M23 240l5 -1M267 334l-4 6M1086 1062l-2 -4M174 156l3 -2M1248 804l1 -2M38 423l-3 -3M1362 1008l0 -2M439 271l6 1M152 442l3 -3M102 691l0 4M97 685l3 2M1262 680l-2 -7M145 359l1 1M260 1015l1 -7M1300 882l-3 2M112 340l-1 1M93 224l0 -1M1376 676l-7 1M81 834l6 2M103 79l-2 -5M216 555l-2 -7M58 268l4 -2M79 317l1 4M512 353l0 6M1413 602l0 -1M153 927l1 -1M128 600l1 0M229 530l0 -5M1365 630l3 -2M188 54l3 -3M1379 989l-1 -2M234 322l1 6M115 498l0 -3M1255 641l2 5M136 292l-1 -2M1283 787l0 -3M1421 1132l-3 5M82 826l4 4M1212 706l3 -4M7 716l-2 0M118 573l1 2M45 565l7 0M44 353l2 2M40 516l0 -6M78 741l2 -2M1272 677l1 -5M1344 779l5 -3M1120 972l3 5M1338 1005l2 -2M1384 1053l-2 -4M82 375l-4 -4M1366 800l0 -6M1240 953l-3 4M1365 1051l-1 -5M26 510l-1 -2M271 105l-3 1M1353 751l3 -5M1400 816l-1 0M22 610l1 -1M114 758l1 -1M1200 1056l-2 -1M19 320l4 -2M1316 1069l-2 2M35 399l-1 0M1314 1050l-1 1M76 673l0 5M1164 937l-2 2M240 106l0 2M48 911l1 1M1407 646l-1 -1M58 1021l3 -4M1308 1092l-2 7M1415 1061l-4 -2M1 166l-5 1M22 183l-2 1M1225 1018l3 4M60 704l1 4M1281 846l-4 -2M110 567l3 2M69 354l-2 2M33 560l4 -1M1363 646l5 -5M1302 718l0 -1M153 742l2 2M1214 1004l0 3M67 813l3 0M1290 797l-2 -2M1299 686l-2 -1M68 705l3 2M4 671l-1 1M1240 1054l3 -1M202 529l-1 -1M1356 1087l3 -6M1115 988l6 -2M1265 878l-1 -2M267 474l3 5M1303 325l-1 2M1285 735l1 -5M70 893l2 0M1291 682l-2 -3M1340 1035l4 -1M107 314l6 0M66 668l1 4M1224 947l-1 1M16 192l-5 4M1394 1108l-4 1M73 628l1 0M31 620l4 0M140 804l4 -2M256 477l2 4M1401 375l3 0M1400 862l-3 -5M1372 831l-1 -1M185 10l0 -2M1066 1123l3 6M1297 1005l0 1M56 688l0 1M60 585l5 2M1421 380l6 1M36 233l3 -3M1412 690l-3 1M264 555l2 -2M257 392l7 1M126 402l-2 1M1308 335l-1 2M1407 1073l-4 -1M193 315l6 0M52 778l1 -4M1418 779l-3 1M1409 1094l-4 -1M44 218l6 2M1210 1011l3 3M10 273l1 -6M68 903l1 1M1298 700l-3 -4M52 696l0 5M304 585l5 0M412 296l-1 2M190 765l2 0M97 75l-1 -6M1254 1033l0 3M1406 1013l1 -6M244 630l1 -1M99 558l3 4M1393 1049l-1 -4M1269 891l-3 -2M1403 996l1 -2M85 632l1 0M71 371l-4 1M1335 828l-3 -4M4 834l6 0M100 386l-2 -2M73 203l1 -6M22 216l2 5M48 168l6 -1M1213 774l1 0M1269 824l0 -1M22 910l2 6M287 369l3 2M1347 719l1 -2M1046 908l0 -3M151 8l2 -5M12 627l3 -4M247 531l2 -3M1303 1093l-1 2M22 114l4 1M1266 909l-3 -4M1263 742l-1 -6M119 472l3 -5M1307 1008l0 3M144 427l6 2M152 560l0 -6M1079 856l6 -1M9 255l0 -5M1042 957l5 0M185 484l-2 -2M117 331l1 4M76 725l2 -2M1227 857l3 -3M221 642l0 -1M1237 918l5 1M1384 667l-6 -3M82 816l6 -4M46 879l2 1M235 87l1 5M1259 894l-2 -1M97 401l-2 -1M213 513l-1 -7M31 123l4 -5M16 785l2 -5M231 993l5 3M38 291l3 0M88 438l-3 0M1223 855l3 -3M100 149l0 -5M15 892l1 4M7 270l-1 -4M1115 1095l-3 0M82 170l0 -2M132 329l4 4M17 423l-2 2M144 257l-6 3M1423 302l2 6M1353 994l0 -2M72 635l3 2M115 332l0 5M45 149l2 -1M1256 745l1 -4M1231 949l-2 1M263 2l1 -1M125 158l5 -4M51 720l0 2M1189 1011l4 3M1401 1033l-1 -4M174 434l-3 -1M1218 771l1 0M1255 831l0 -4M1327 999l3 -4M1302 867l-6 -2M86 427l-5 -2M1332 783l2 -5M178 20l0 -3M1349 858l-6 -1M1268 1026l-5 2M1274 862l-6 1M384 177l6 1M261 456l1 2M20 439l-2 1M67 550l6 0M91 232l-1 -3M97 419l-2 -2M36 699l-5 2M1362 625l5 -2M1287 760l1 -2M81 713l4 0M1255 848l-3 -4M83 372l-1 -1M1259 766l5 -1M180 132l2 1M25 905l4 2M1236 905l3 -2M152 594l5 -3M1360 1113l1 -6M1322 832l-2 -1M119 562l3 1M265 359l0 1M73 569l4 4M1026 952l1 -4M1317 1016l2 3M1059 904l0 -7M1097 1110l1 -6M1338 1058l1 0M1287 794l-3 -4M182 473l-1 -1M1250 808l0 -3M1415 1018l-2 -6M74 749l1 -2M1241 1013l2 2M1227 917l4 2M1331 1103l4 4M46 116l2 -5M1347 1035l2 -1M22 356l4 -3M1360 1107l-3 -6M1251 1043l4 4M1350 838l-2 -2M108 391l-3 -3M218 466l1 -1M89 58l5 -5M31 756l2 0M272 463l1 1M1306 970l7 0M1110 873l1 -1M62 206l2 0M186 265l-1 -4M157 346l4 5M19 583l6 -3M1368 1088l0 -1M238 371l3 -2M1285 1106l0 2M42 632l2 0M1173 829l4 1M1359 671l-3 -4M1276 945l7 2M12 609l2 -1M246 455l4 2M159 441l0 -2M1308 836l-3 -3M47 109l0 -1M108 353l0 6M162 475l-2 -3M1424 625l-3 -3M1186 957l-6 1M44 277l2 -3M140 479l-1 -4M1421 377l7 -1M327 571l4 -3M1275 978l-2 3M44 110l3 -3M230 460l2 -2M1238 714l0 -1M115 574l1 1M1410 650l-2 0M1223 742l2 -3M1284 318l-3 3M23 773l4 -5M1217 1108l-3 -4M29 775l2 -4M74 103l-2 -2M78 480l7 0M1382 383l2 -1M186 505l-2 -1M66 719l3 2M1267 1005l1 4M292 484l-1 3M1258 895l-4 -1M3 652l3 0M81 77l0 -2M79 618l3 2M51 435l-6 3M168 401l1 -1M1370 1049l-2 -6M87 452l-3 4M24 610l2 -2M1398 985l-1 -1M86 334l1 6M54 578l6 0M21 284l1 -1M1309 1104l-1 6M1222 939l-2 3M213 339l5 5M79 620l4 0M250 361l7 0M174 418l-1 -3M32 806l3 -5M1276 1032l-5 4M1274 953l4 5M1411 390l2 1M1335 1076l2 3M122 925l1 0M20 261l0 -4M274 414l3 4M91 196l2 -3M1116 1087l-2 -1M126 902l2 -4M1315 823l-4 -2M1252 1047l3 3M106 248l0 -5M47 1036l-1 -3M1300 815l-3 -5M18 182l-2 1M32 415l-3 1M1340 1114l4 -3M16 160l-3 1M12 836l6 3M166 236l-5 -4M143 387l0 2M1330 859l-6 1M1118 1048l-3 -1M62 596l1 0M42 664l2 4M283 519l0 5M43 673l-1 1M1320 1039l3 6M1250 790l4 -5M215 119l6 1M12 131l1 3M139 394l0 1M1102 1015l-6 -2M92 107l-1 -1M1220 1115l-1 0M55 904l5 4M105 582l3 1M242 1009l3 -2M67 424l-5 -5M1349 1037l2 -2M1247 961l-3 5M171 693l1 3M95 287l1 0M95 609l3 3M47 325l4 2M300 548l5 5M200 97l3 2M138 360l-1 2M1334 798l-1 -4M182 234l1 -2M73 833l6 -3M1360 1010l0 -4M1323 841l-6 0M6 543l3 -3M1284 1046l-3 0M56 695l-2 4M268 384l5 3M37 345l5 1M1189 835l4 4M83 310l3 4M207 351l2 1M1254 888l-2 -2M1100 1060l-5 -2M21 532l0 -3M108 598l3 0M1270 869l-4 -2M156 380l1 1M99 694l1 6M1401 646l-3 -1M1321 1027l-1 4M54 383l-5 0M76 398l0 -6M149 538l-1 -3M94 706l2 0M102 876l1 -1M294 593l5 0M1421 651l-7 0M48 372l-3 3M21 825l1 1M201 95l4 0M1408 780l-4 2M45 734l2 1M156 817l3 -5M138 647l6 3M161 135l6 3M34 229l4 -2M1266 710l-3 -2M2 907l3 1M257 458l2 5M86 706l4 5M65 817l1 0M1389 742l-3 -6M1103 960l4 5M1393 845l-1 -1M1422 666l-5 0M53 156l1 0M74 801l5 -1M1408 1051l-1 -4M116 509l-1 -1M1094 986l3 -2M159 790l3 -5M1199 989l-2 4M1273 1081l0 7M104 602l3 2M40 548l4 -1M1347 712l0 -1M1110 1081l-4 -3M1293 688l-4 -4M17 615l1 -2M1296 613l6 1M1301 841l-6 0M227 357l5 3M34 605l5 0M1220 917l1 2M214 103l1 0M1222 917l1 2M125 610l4 1M46 192l2 3M1295 896l-5 -3M1367 844l-5 -3M1372 1131l-4 -1M9 873l-1 6M1290 869l-4 -5M195 326l3 1M68 410l1 -4M1414 1017l0 -2M40 127l3 -2M355 343l-1 1M1343 1114l0 -1M1358 854l1 -4M1250 822l3 -5M48 437l-2 -1M1326 1099l1 3M82 686l0 3M46 186l5 4M599 258l1 -4M16 768l7 0M220 405l2 -3M1207 1027l2 -4M164 707l-4 5M102 612l6 3M9 524l1 -3M208 657l1 -3M1268 858l-1 -1M1205 600l0 2M1401 646l-2 2M1274 1136l3 2M1280 1031l-3 4M78 1039l5 -1M175 438l-3 -5M53 816l4 0M33 749l1 1M246 34l5 1M1386 785l-7 -1M23 180l-7 0M4 637l3 -3M1192 1092l-5 5M292 541l2 1M181 122l5 4M17 565l1 1M1068 950l3 4M6 907l2 0M75 833l4 0M188 415l-1 -1M1157 976l0 5M1195 693l4 1M187 824l1 1M1311 340l-2 6M69 755l-1 -7M1372 1028l1 -1M1085 900l2 -3M1349 1046l6 -3M113 590l6 2M98 345l-4 4M602 280l0 -2M162 403l1 -1M1291 1005l0 4M125 318l2 4M87 587l4 2M1268 645l6 1M127 456l2 -5M1415 742l-3 -1M1353 1006l3 -5M74 630l2 4M1301 676l-1 -5M83 740l3 -1M1350 1008l3 -3M1407 1011l-1 -3M4 365l5 3M1266 851l-4 -5M171 611l4 -6M143 285l0 -3M1112 1008l-2 -6M93 662l0 7M12 353l4 -1M146 471l-4 -3M246 510l6 -4M300 374l4 5M43 426l-3 -1M1323 1105l1 0M133 277l-2 -2M1260 941l3 2M1118 973l3 1M1269 914l0 -2M90 922l1 2M75 797l3 -4M567 264l4 -5M67 800l1 -3M1232 935l0 5M127 610l3 -1M230 40l6 -2M2 298l3 -1M1278 910l-2 -5M1316 1020l1 4M1086 913l4 -2M81 829l5 -3M67 777l1 -3M81 315l4 4M89 841l5 -1M1377 1071l0 -5M33 866l0 2M1377 1060l0 -3M1 306l3 -5M1412 845l-6 0M262 1010l4 -5M160 586l3 -5M1057 1009l1 -2M1380 703l-1 0M48 385l-3 1M202 694l5 3M1195 974l-5 5M197 1132l-5 -1M35 821l2 0M1416 1068l-7 0M37 1017l1 -1M52 1038l0 -3M1395 776l-4 -1M219 658l3 -6M1424 691l-6 -1M287 441l2 1M1410 623l-3 -5M43 246l1 -1M34 494l2 -1M174 562l0 -2M222 993l3 1M15 293l1 -1M314 273l-3 5M1267 1042l0 3M85 137l-6 -2M1359 683l0 -2M295 329l-4 4M91 208l1 -1M67 348l-4 5M1108 1060l-4 -1M1417 691l-2 -1M1281 720l-3 -4M1392 865l0 -2M1371 974l-2 -1M65 466l0 2M1299 969l2 0M1176 875l5 0M1187 799l5 3M157 421l3 -2M93 559l1 1M29 319l4 -3M45 523l2 -3M1364 1073l4 -4M1104 1104l-1 -4M1 722l-2 3M112 593l4 4M1320 948l1 -4M210 471l0 -4M811 157l4 -3M1239 1067l2 -1M1319 1043l-1 4M1332 806l-1 -2M104 542l6 -1M68 705l1 7M1179 871l1 1M1127 1091l-2 1M71 411l0 -6M1228 913l6 0M206 375l2 -4M1401 1113l-5 3M1279 1003l-2 2M78 320l0 4M1245 846l-1 -2M162 269l-4 -2M1099 1040l-6 -2M72 308l3 2M79 474l1 1M1317 850l-1 0M70 782l2 -2M108 742l2 -5M1320 353l1 4M176 438l-1 -6M100 414l1 -6M247 541l0 -2M48 745l6 -1M1302 869l-6 3M236 512l6 -2M155 312l1 0M1384 754l-1 -5M47 756l2 -5M112 382l-5 -2M1308 980l2 1M1166 1078l-3 3M226 23l4 -2M1278 802l-2 -2M1402 776l-4 0M1389 1030l1 -6M224 47l3 0M211 19l3 -2M1178 1070l-1 2M222 503l0 -3M28 284l7 1M1400 1056l-2 -3M92 871l1 -1M1274 1012l-1 2M1283 927l1 -1M28 872l-2 6M141 633l3 0M303 444l3 3M1275 1049l-5 4M1370 1087l-1 -5M9 143l3 6M226 546l-1 -2M1402 1006l1 -2M54 391l-3 -4M201 479l-3 -4M175 517l-5 -5M1283 914l0 -5M1343 951l-2 -1M1264 954l0 2M85 690l0 1M1308 342l-1 2M1289 956l4 2M1414 711l-1 -1M1314 669l2 -3M26 194l-1 4M1275 959l0 1M1102 948l2 4M1366 1073l2 -4M176 352l5 1M304 341l-2 3M279 575l6 -4M611 287l3 -5M38 213l4 4M1411 637l-5 -2M216 565l-1 -3M59 674l-1 5M122 257l-5 -4M1276 1085l-2 6M1299 946l2 -4M173 585l0 -4M81 762l0 -3M1401 395l6 -2M1228 921l0 5M104 394l-1 -1M77 476l3 0M1375 1133l-1 -1M1136 949l-4 2M1119 1097l-5 -2M1384 360l4 1M1378 780l-3 -2M1148 964l-1 1M8 742l2 1M84 366l-2 -1M227 450l5 0M19 596l1 -1M226 563l-3 -4M9 270l1 -4M71 466l0 1M1416 851l-6 0M31 172l-1 3M272 80l-1 1M53 338l2 6M1349 833l-2 -4M87 695l2 6M1299 865l-5 3M1346 1042l5 -1M29 262l1 -6M47 402l-4 -2M20 157l0 3M178 520l-5 -3M269 339l-5 2M100 561l5 4M1317 986l5 1M1323 1016l2 2M1380 745l-3 -2M1246 871l0 -5M7 133l0 1M215 55l1 1M36 347l5 3M438 266l4 -2M94 344l-1 1M215 304l3 2M33 749l1 0M1280 983l-1 2M153 1121l-6 -3M49 857l2 2M1251 731l0 -6M113 333l2 5M234 644l5 -3M1231 951l-3 2M1200 1098l-3 1M271 572l3 -3M157 919l7 1M1375 641l0 -1M338 340l-2 1M1072 1115l6 -2M141 475l-1 -1M48 825l4 0M60 176l1 -1M1343 817l-5 -4M24 833l1 2M1236 890l4 -3M1233 899l3 -4M68 809l4 -2M1146 968l0 2M1322 873l-5 -1M77 757l2 -2M50 684l-1 3M102 429l-7 0M1144 1080l-1 0M291 444l2 1M1221 717l1 -2M171 591l1 -5M51 153l0 -2M1165 1011l3 -1M96 421l-1 -1M1280 818l-6 -2M1422 793l-4 2M191 571l-1 -2M197 435l-3 -4M159 947l3 0M293 376l2 4M213 358l1 0M1310 1110l3 4M51 371l-1 2M1278 909l-1 -1M46 885l1 2M15 162l-4 0M56 764l5 -2M92 868l3 -3M210 519l-2 -5M6 562l2 1M1232 989l-5 4M164 217l-1 -5M3 151l-2 2M37 900l2 5M71 172l1 -6M65 1053l-4 -5M12 555l5 -2M1311 1000l1 1M1252 916l4 -5M139 417l2 1M1259 886l-5 -5M22 721l-6 2M1243 870l1 -3M1421 1033l-6 -2M283 400l2 2M1252 1103l4 -1M254 68l-1 2M1316 684l-2 -3M62 727l6 2M1090 828l-1 3M148 695l-2 5M169 128l5 4M74 1055l1 -2M185 59l7 0M1210 649l2 4M1257 923l2 0M1213 999l3 6M1316 1091l-2 3M1238 968l-5 0M114 719l5 3M171 452l-1 -2M22 577l2 0M1278 836l-2 -4M1420 1114l-3 4M7 695l-2 0M47 211l7 0M115 210l0 -1M1380 989l-1 -4M1302 334l-5 5M1309 838l-2 -3M107 622l5 3M250 995l6 -2M118 488l-1 -2M4 612l1 -1M106 430l-3 5M70 755l2 -1M1407 1011l-1 -2M181 957l-1 7M241 410l3 -3M45 305l5 1M1180 803l2 2M1209 720l5 -4M147 448l0 -1M1178 848l3 -2M42 1018l5 -4M105 757l2 -2M141 470l-2 -2M1144 1009l2 -4M142 420l3 6M64 725l2 0M104 50l1 -2M106 254l-1 -6M259 479l4 1M220 18l4 -3M1336 1035l2 2M1252 856l-1 -1M22 774l2 -2M11 672l-2 1M188 440l-2 -2M1298 614l3 4M20 439l-3 3M0 481l5 -2M37 549l4 -3M1367 1029l4 -4M1389 821l-5 1M42 200l2 3M233 385l1 -1M179 526l-2 -1M1201 1106l-2 2M88 108l-2 -1M1385 1085l-6 -4M1113 1121l-6 1M1369 621l5 1M1279 841l-3 -1M1301 1116l-1 3M1332 993l0 -1M140 466l1 -2M1366 710l-6 -2M266 420l1 2M285 520l5 2M142 389l0 2M89 454l0 2M1376 989l-2 -7M1202 1044l-2 -2M36 772l1 -1M238 22l5 -1M1317 949l0 -5M545 327l3 3M181 40l1 -1M14 791l2 -3M129 273l-5 -2M33 362l1 4M1392 719l-1 0M12 209l0 6M101 394l-2 -3M1310 942l1 -1M1402 1048l-3 0M225 78l2 2M6 587l3 1M121 65l-1 -7M1257 917l4 -4M138 1110l-6 1M112 434l-4 3M1263 920l5 -3M1310 728l3 -3M226 591l-3 -3M223 555l0 -1M43 1005l2 0M1093 921l6 1M99 348l-4 2M1398 337l4 3M1092 904l5 -2M1400 1100l-6 -1M1394 1066l-2 0M41 747l5 0M105 696l1 4M1320 1024l0 1M544 343l2 2M170 50l3 -3M294 544l5 2M39 706l-2 6M1204 1120l-1 1M64 383l-5 -2M53 380l-6 2M93 609l2 2M254 616l1 0M1317 333l1 7M48 685l-1 3M1149 807l4 3M1321 1035l0 2M1053 987l1 0M8 709l-3 -2M1276 1011l-7 1M1173 883l2 0M1196 904l1 1M1303 1106l-1 5M22 178l-1 1M46 810l5 -2M1275 942l2 1M207 570l-3 -6M145 343l5 2M224 590l-5 -2M1373 857l1 -1M1104 987l2 -6M1296 806l-4 -4M1320 778l0 -1M103 707l2 2M1372 869l-3 -4M1308 357l-3 3M44 563l5 -1M1244 1010l-1 3M66 394l0 -2M13 895l3 5M227 676l5 1M50 714l0 2M1289 921l0 -2M1283 846l-6 -1M1353 762l1 -2M1374 812l-3 -6M66 854l2 2M18 569l2 1M137 403l0 1M93 889l3 -1M44 301l1 1M13 144l-1 1M223 399l0 -7M1299 836l-4 -3M10 365l5 3M1385 780l-2 1M39 713l-2 5M175 341l2 0M1107 989l4 -1M112 1071l2 1M1339 1088l3 0M129 423l1 2M43 222l3 1M3 255l-1 -5M1 1091l-1 7M243 320l0 6M1204 1018l2 -1M551 317l5 4M95 862l3 -5M1401 717l-1 0M7 792l5 -3M527 357l3 3M257 388l2 0M216 636l-1 -3M58 182l3 1M241 520l1 -4M0 161l-2 -1M1247 672l3 -6M1215 1029l5 -2M44 177l2 2M1285 877l-4 3M136 287l1 -2M180 8l0 -6M1386 1022l1 -3M54 359l-3 5M1112 1093l-3 -3M158 832l5 -1M1262 808l1 -6M224 73l1 1M1181 985l0 2M1283 1104l-1 1M1289 1071l-2 1M27 164l1 6M1412 838l-1 0M1409 1029l-3 -2M135 700l0 5M1257 1070l1 4M31 649l2 2M1234 962l-2 1M1131 1076l-3 -1M1279 677l-2 -3M304 336l-6 4M1418 742l-5 -1M403 194l4 -2M1273 891l-4 1M1216 700l3 -2M1373 774l-3 -4M122 744l5 2M216 343l4 -1M79 666l0 2M298 437l1 1M125 502l-2 -4M1368 864l-1 -1M1233 966l-3 2M636 274l1 -6M107 412l-2 -3M241 104l1 4M224 476l4 -3M96 373l-6 -4M80 384l-1 -2M1290 1098l-1 4M1280 781l3 -4M44 347l1 3M1277 1096l-2 3M77 316l2 5M16 644l1 1M1417 336l3 3M1 678l-1 0M104 365l-6 2M106 224l0 -2M1222 756l4 -1M33 131l6 0M61 526l1 -3M125 616l4 1M251 351l0 1M17 235l5 -3M1261 905l0 -3M1216 594l2 6M1405 1028l-1 -2M1303 857l-4 1M1359 1130l-5 -4M164 481l-3 -3M1295 939l2 -2M56 895l3 3M130 120l4 -5M1300 327l-2 3M1269 987l0 2M1211 1022l1 -2M281 340l-1 1M1282 707l-7 -1M1274 1028l-4 2M1165 1034l-1 -5M66 1018l6 3M1277 874l-2 -1M1157 883l1 -1M107 400l0 -2M1275 622l4 1M1 118l1 4M273 573l3 -3M219 480l2 -4M106 885l0 -4M268 531l3 -4M1207 619l-4 5M1291 708l-2 -1M46 1003l4 -2M1397 802l-2 0M32 553l3 0M279 359l-1 1M1164 1100l3 1M27 316l1 0M1097 845l5 2M1246 997l-2 2M1306 691l-1 -2M1132 1106l-1 4M63 300l1 1M106 591l3 2M86 534l3 0M124 613l4 2M1239 945l0 2M276 494l1 1M1192 1098l-5 5M163 333l2 1M47 182l4 4M1337 1094l2 -1M223 119l2 1M1297 1041l-5 2M85 647l3 2M1219 888l4 0M133 382l-3 3M269 998l0 -1M1415 720l-3 1M1262 710l-6 -3M1249 1062l4 3M1327 986l5 0M98 862l4 -3M1395 790l-2 0M548 350l3 4M1318 792l0 -7M119 801l2 -1M1244 1024l1 1M27 832l2 1M132 927l4 -5M186 408l-3 -5M229 442l6 1M1288 854l-7 -1M103 470l1 -1M1168 819l2 4M817 147l0 -3M1346 721l1 -3M191 477l-2 -5M49 734l2 2M57 626l5 4M51 908l2 1M15 298l5 -4M1340 797l1 -2M1325 799l-1 -2M1230 937l0 1M57 877l5 4M1293 839l-6 -1M172 91l4 -1M1316 755l3 -1M59 412l-1 -1M19 535l2 1M1359 674l0 -5" stroke="#8a8a8a" stroke-opacity="0.6" stroke-width="5.2" stroke-linecap="round" fill="none"/>
<path transform="scale(.5)" d="M66 735l4 -1M1355 1035l5 0M18 351l1 0M27 648l6 0M1305 687l-1 -5M37 896l4 3M1295 995l-1 5M1244 982l-7 1M155 129l6 1M151 15l-3 -6M122 499l-2 -6M35 124l4 -1M170 474l-3 -3M274 546l6 -2M1231 1051l7 -2M51 696l-1 1M90 628l1 0M49 245l6 1M1420 306l1 1M1262 872l-3 -2M139 738l2 0M53 526l2 -4M247 339l1 2M1126 1071l-3 0M1323 771l2 -5M1284 680l-1 -1M1269 1040l-2 4M1361 782l-2 -5M54 404l-2 0M1269 1043l-2 1M165 403l-1 -5M1376 771l-1 -1M137 385l0 1M1420 425l2 2M1270 1028l-1 4M33 911l3 1M1300 962l6 3M1259 760l1 -6M1382 1004l0 -5M14 126l1 3M1240 699l1 -6M82 345l-1 2M1388 1066l-2 -1M84 861l4 -3M1348 1023l4 -4M1308 828l-3 -2M63 143l-6 -2M173 239l0 -4M1318 1025l0 4M105 650l1 3M1314 838l-6 -2M1277 990l-1 3M124 852l1 -2M1404 834l-3 0M1085 1027l-4 -3M1371 699l-2 -3M7 225l4 1M44 743l3 1M97 555l6 0M1386 686l-1 0M171 361l4 1M35 607l4 -3M1074 921l2 -2M53 202l6 1M119 430l0 2M1379 743l-3 -2M1312 784l4 -5M72 168l-1 -3M1292 896l-4 -3M1328 836l-4 -2M49 719l2 3M1325 813l-5 -3M66 284l4 -1M39 358l0 1M119 657l1 1M1373 996l-5 -5M179 369l5 -4M1161 1031l1 -1M12 894l1 1M232 310l-3 5M171 748l6 2M58 140l-1 -6M31 315l4 2M158 22l2 -2M198 561l1 -4M1269 1001l-4 2M1224 1031l1 -1M258 508l1 0M1315 991l5 2M1267 959l0 7M165 314l4 -4M51 338l0 2M2 352l2 -1M1418 1001l1 -2M75 298l4 2M81 308l5 1M1386 1018l-2 -2M1198 922l-1 2M1156 949l-5 3M191 684l1 0M1345 1050l5 -1M181 345l4 1M35 708l-2 2M1364 624l3 -1M141 473l0 -2M173 84l3 0M144 321l5 4M59 178l2 1M137 915l7 -2M145 930l6 -2M106 638l3 5M157 1133l-1 -2M1228 770l2 0M1380 874l-5 -2M135 317l6 -3M1355 855l-1 -3M1403 364l4 1M129 390l-1 1M5 698l-2 0M163 130l5 3M587 277l1 -3M1408 396l4 1M30 864l1 6M1260 817l0 -6M27 727l0 5M118 397l-6 1M1329 713l0 -2M179 476l-6 -2M54 615l4 2M15 604l3 -4M9 434l-2 1M1420 984l0 -1M103 416l-2 -5M202 508l-3 -4M101 388l-1 -1M158 214l2 -4M1259 802l0 -7M1080 1046l-6 -1M343 363l-3 3M179 955l1 2M1171 897l4 1M1353 763l-2 -3M1266 1045l-4 3M1147 840l1 2M1386 856l-2 -4M133 428l2 3M67 382l-4 -5M192 425l0 -2M1265 872l-3 0M1411 702l-2 1M124 376l-4 0M1288 1040l-4 -1M70 149l-2 -1M1418 613l-1 -2M1327 963l-1 -4M66 282l2 -1M101 420l-2 -1M113 563l7 2M4 673l-6 1M180 63l5 2M1360 842l0 -4M63 586l3 4M189 541l1 -5M1341 1050l5 1M39 155l5 0M1178 836l3 0M32 256l3 -5M49 413l-2 0M1411 791l-1 3M53 141l-2 -5M12 522l0 -1M1089 1055l-4 -3M1352 733l2 -2M1352 1095l3 -6M242 988l2 0M112 636l3 0M1401 692l-4 0M26 230l7 0M289 464l1 1M1294 1110l0 1M1302 342l-3 3M74 778l1 -5M605 230l2 -5M54 444l-5 1M104 855l1 -5M134 168l4 0M163 612l0 -3M128 258l-4 -2M270 381l2 2M1258 993l-2 2M46 195l5 0M167 352l6 1M182 84l2 0M1381 803l-3 -2M443 287l4 3M1275 960l-4 4M118 605l3 2M136 372l0 2M1408 838l-1 0M1280 667l-1 -5M141 464l3 -4M64 764l2 -4M1304 756l1 -1M53 857l5 4M1400 804l-3 2M1362 1120l-1 -4M219 457l4 -2M2 238l1 -3M56 615l3 -4M204 204l5 -3M1374 830l-1 -1M112 606l1 0M275 441l3 2M294 485l0 1M1337 819l-1 -2M1187 862l6 1M1341 741l5 -3M1330 955l-1 -2M1319 338l0 1M35 316l2 2M124 373l-4 5M1285 955l1 3M1336 868l-1 -2M1350 681l1 -7M1265 897l-2 -3M1267 992l-5 2M1375 732l-5 -5M16 894l0 2M249 56l2 2M57 173l3 -1M87 1048l3 -4M41 155l3 1M1220 965l-6 -3M1406 379l3 0M192 188l2 0M256 374l3 3M1054 966l3 2M1326 777l3 -3M1396 355l1 1M1194 1083l-2 1M50 356l-1 5M1364 630l1 -3M1278 1060l-2 -1M1168 936l-5 3M1325 1118l1 1M63 1040l0 -2M154 755l6 -2M71 832l4 0M1220 660l1 1M165 71l1 -2M63 430l-2 -1M56 332l2 6M1273 611l1 1M64 240l1 -4M74 507l4 -4M265 540l3 -2M60 596l3 1M219 556l-2 -5M174 174l3 -3M1356 985l-3 -2M200 86l1 1M27 781l2 -3M152 554l4 -2M27 353l5 -1M288 575l4 -1M1274 974l-2 2M117 511l1 -2M189 341l3 2M203 10l2 -7M8 694l-4 -2M123 346l0 4M253 421l4 -2M1369 863l0 -5M26 843l2 2M1333 974l1 -3M1240 817l4 -3M1320 1133l1 1M137 191l4 -5M1409 1053l-3 -2M1090 1066l-2 -5M38 765l4 0M1381 1047l-1 -3M1286 1086l-1 1M1352 997l-2 -6M1243 988l-5 2M181 729l2 3M1272 797l-2 -4M1263 781l3 -6M1325 817l-3 -6M168 614l0 -2M85 498l3 -5M13 728l-3 2M132 542l2 -1M103 616l4 2M1415 715l-6 2M45 603l3 0M50 405l-4 -1M195 421l-1 -5M9 898l4 5M1384 626l0 -1M19 277l3 -3M144 266l-5 -3M45 568l4 0M195 224l3 -5M156 35l0 -2M1288 1095l2 6M130 782l3 -2M1412 412l6 1M1268 951l1 5M130 430l1 3M44 137l-2 -5M76 287l2 -2M1403 839l-4 -2M201 501l-1 -1M1197 1089l-1 0M253 563l0 -6M207 497l-3 -3M234 1009l3 -1M7 343l4 1M127 402l-2 3M198 548l1 -5M1204 612l0 1M1040 973l1 0M10 678l-7 0M1350 653l2 -4M1100 970l1 2M120 388l-2 0M1259 1018l0 1M53 639l4 5M249 528l0 -3M39 822l3 -1M271 355l1 3M49 1023l2 -1M301 577l5 -1M1211 594l2 4M1293 1001l-1 6M24 587l3 0M4 325l2 1M190 424l-2 -4M43 640l1 0M213 627l-1 -4M156 3l0 -6M1131 1130l-2 6M1158 794l4 1M56 885l1 0M111 656l0 4M1416 662l-5 0M1287 676l-3 -6M116 1075l3 4M96 428l-5 -1M1282 791l-3 -2M1161 858l2 -2M1361 1029l3 -2M141 249l-7 1M1399 670l-7 -1M55 609l4 -2M146 363l2 2M1223 916l4 3M51 147l0 -6M266 353l-1 6M4 482l1 -1M1246 1012l0 2M50 549l5 0M236 483l6 -3M19 219l3 0M1256 970l-1 0M88 717l3 2M1333 1033l3 0M1107 854l5 1M1109 916l5 -1M1366 847l-1 -2M319 343l-3 3M1386 782l-3 -1M1251 881l-3 -5M1242 778l2 0M160 40l4 -3M70 698l3 6M1258 851l-2 -2M1284 813l-4 -2M1200 1029l2 -4M231 601l0 -3M22 683l-1 1M33 578l2 1M1329 986l0 -4M433 971l1 2M1252 1075l2 4M582 289l2 0M1310 1007l1 4M45 814l3 0M14 873l-2 3M1399 1016l0 -5M110 389l-5 -4M1398 790l-3 3M1264 1001l-1 4M15 875l1 3M1283 912l0 -3M1365 1033l3 -3M1301 707l-3 -2M27 431l-2 4M16 292l1 -5M57 370l-1 1M66 666l-2 5M127 490l-2 -3M1419 305l2 5M174 327l4 3M248 348l3 6M562 298l1 1M1354 710l-1 -2M29 158l-1 1M1318 832l-4 -3M91 420l-1 -5M1319 1043l-3 4M89 266l0 -2M50 135l1 -5M75 914l4 3M1290 726l0 -2M66 660l0 2M129 762l1 -1M45 407l-4 -2M222 364l1 -1M98 623l3 1M1400 1011l0 -6M100 231l1 -4M1284 715l-1 -1M1415 747l-1 0M194 434l0 -2M1249 834l0 -3M101 733l6 2M48 588l1 2M1215 1030l0 -1M103 544l7 0M1255 948l2 3M94 696l2 3M42 574l4 3M48 779l1 -3M1264 779l2 -5M1325 756l1 0M199 44l2 0M1153 897l4 0M16 525l1 -3M1 815l1 -2M2 684l-5 1M1200 1043l-1 0M1350 660l2 -2M217 411l0 -2M57 370l-2 0M1287 1039l-6 4M2 855l0 1M64 745l5 -4M72 744l1 -5M81 623l3 4M192 199l0 -2M1368 378l4 -1M225 516l-3 -5M14 674l-2 3M42 883l0 1M1168 1107l4 3M119 566l7 1M119 618l3 2M213 419l1 -4M1383 1013l-1 -2M16 698l-2 0M43 849l3 3M58 745l3 -1M1232 905l5 0M1351 1106l3 -3M103 602l2 0M1327 659l3 -2M1286 997l1 6M189 981l0 1M1400 316l2 4M115 252l-1 -1M1392 1131l-4 2M1289 944l1 0M17 567l5 -2M1261 813l-1 -1M1284 762l1 -2M99 433l-4 2M111 241l-3 -5M1330 733l2 -1M1398 1025l1 -2M1240 910l3 -1M83 821l5 0M4 512l0 -6M1263 785l1 -3M233 381l1 -1M1093 1082l-1 -2M1372 677l-1 -1M1317 1088l0 5M24 741l1 1M227 995l3 -2M1389 1055l-3 -6M1185 1100l-1 2M1309 942l0 -1M1042 966l3 -1M1395 685l-6 4M1302 798l-5 -5M79 843l2 2M89 644l5 4M126 484l0 -1M1349 986l-3 -6M73 171l5 -5M1281 999l2 5M1145 849l1 -2M290 394l2 2M1298 324l-2 1M49 750l2 0M179 329l3 5M236 401l3 -2M1223 993l-2 4M197 302l3 1M1254 939l2 6M11 137l1 3M1248 1114l2 -1M8 800l3 0M60 577l5 4M1402 797l-2 1M277 581l5 -4M616 226l1 -2M585 264l0 -4M110 242l0 -6M120 247l-1 -1M120 248l-4 -2M18 257l1 -3M46 175l1 2M1071 1129l1 2M55 177l6 1M40 616l4 -1M29 614l4 -3M24 279l1 0M172 475l-4 -2M155 676l3 4M82 314l3 4M571 274l1 -3M32 701l-1 0M1357 683l-4 -5M125 103l0 -2M82 158l2 -4M79 594l3 4M233 483l4 -4M77 300l6 2M1296 1064l-3 2M1362 276l-4 1M1284 773l2 -4M82 344l-1 1M1390 1010l-1 -5M64 890l2 2M1385 742l-3 -3M45 517l2 -3M1334 686l-2 -5M268 478l1 1M1289 1109l1 1M1423 771l-4 3M1312 805l-2 -3M112 57l-1 -4M1414 694l-4 0M1365 1057l2 -6M284 521l2 3M619 235l-1 -5M32 605l4 -2M1349 996l-1 -2M2 883l1 5M84 1043l5 -1M1254 1027l2 6M1289 786l0 -2M169 527l-1 -5M1378 682l-1 -2M1408 1048l-5 -4M73 631l2 2M125 408l-2 3M34 338l4 0M1328 837l-6 -4M154 58l3 -4M1421 1025l0 -1M212 405l-1 -2M83 249l1 -3M1268 810l-2 -5M1155 1062l-5 0M4 839l1 5M85 385l-3 -2M56 619l5 1M1122 1116l-5 1M1381 870l-1 -3M1249 807l0 -2M180 56l1 -3M1093 990l3 -2M1279 1119l0 1M1324 1082l2 1M31 415l-3 2M32 762l2 0M77 855l6 -1M70 168l4 -5M198 624l-4 -5M1362 786l-1 -3M1307 722l4 -4M142 524l-3 -3M47 242l1 -1M274 98l-3 3M31 740l3 5M570 320l2 3M1287 1022l-2 1M103 136l0 -3M1232 928l5 5M9 824l1 -1M1328 831l0 -2M201 316l2 0M1329 820l0 -1M1085 1044l-4 0M29 426l-2 0M257 469l4 3M2 347l6 -1M160 1128l-1 -2M1408 384l4 1M124 76l-1 -4M146 468l-4 -4M200 731l1 1M68 853l6 1M1331 1020l5 2M99 100l-3 -2M222 999l3 3M246 389l4 -1M117 871l1 -2M1060 1012l2 -2M1344 1043l3 0M45 889l2 6M1392 795l-7 2M1366 1007l0 -2M86 639l3 1M1359 1052l3 -6M193 509l-2 -1M147 548l2 -3M1312 789l-1 -6M38 344l1 2M1301 1030l-2 -1M1301 790l-1 -6M36 228l5 1M39 607l7 0M4 890l3 2M212 69l3 4M177 962l1 1M1349 726l1 -4M64 164l2 -1M1276 919l2 -3M1248 817l0 -2M1370 608l3 1M1305 960l6 -3M1411 1070l-3 0M1326 346l3 4M4 747l0 3M60 233l2 -3M42 685l-4 3M101 237l0 -7" stroke="#c4c4c4" stroke-opacity="0.6" stroke-width="4.0" stroke-linecap="round" fill="none"/>
<g transform="scale(.5)" stroke-linecap="round" stroke-linejoin="round" fill="none">
<defs>
<path id="a1" d="M87 214l0 2m-65 1l0-1m250 5l0 1m-183 32l-2-1m-22 2l1 0m25 11l2 1m72 20l-2-1m-80-5l-1-1m-70-2l2 1m81 15l2-1m61 5l-2 1m1119 6l0 1m-1148-5l0 0m96 21l1-2m67 0l2-2m-155 22l0 1m132 5l2-2m260 2l-1-1m810-2l-2 1m54 5l0-1m-49 0l-2-2m-34 3l-2 1m-973 2l-2 2m-107 1l2-2m1185 30l-2 0m-1123-7l0 2m-19 3l-1 0m-104-9l0-1m14 18l1 0m31 0l2 1m14-3l1-1m27 6l1 0m17-2l0 1m-108 6l1 2m-32 38l1 1m5 6l-2 2m67 5l2 2m-58 3l-1-1m57 20l1-2m-65-2l1-1m8 19l0-1m54-6l-2 1m72 5l0-1m0 13l2-1m-85 3l-1 2m-29-10l-1 0m-75 1l1 2m-4 6l2 0m-36 12l0 2m173-2l0 1m55 0l0 1m-116 1l1-2m12 12l2 1m38 0l-2-1m78 8l2 1m-1 15l1 0m-282 9l2 1m17 1l-2 0m29-2l-1-2m113-1l0 0m50 4l2-2m67 5l2 2m-131-2l-2-2m-9 1l-2 0m-1 6l2-2m-36-2l0 0m146 16l1-2m1003 29l-1-2m72 19l0 1m81 3l2-2m4 15l-1-2m-63 22l1 1m-106 21l2 0m88 23l-1 2m72 3l0-2m-33 7l-2 2m-27-2l-2 1m27 6l0 2m53 1l-1 1m-174 5l2 2m72 29l-2-1m30 7l1-1m-1191 184l2 1m-15 1l1-2m93 54l2 1m-200 16l-2-2m20 14l2-2m1258 21l1 2m-114 4l0-2m61 4l0 2m60 12l-1 2m-60-6l1-2m-60-2l-2 1m-6 0l-2 1m-83-2l-2-1m47 14l1 0m70 9l-2-1m3-6l-1 1m122 4l0 1m-81 8l1 2m-39 1l2 1m-111 9l0-2m216 1l0 2"/>
<path id="a2" d="M286 8l0 0m152 0l-1 0m111 7l-2 1m-51 2l2-2m-21 7l0-1m-36-5l0 0m-1 6l-1 0m-22-7l2 2m-48 5l-1-2m-89-4l0-1m9 12l0-1m33 6l2 0m70-2l0-1m14 5l2 0m56-1l1-1m14 1l2-1m70 12l-1-1m-98-3l-2 2m-147 11l1 0m14 1l1-2m98 3l-2-2m2-5l1 2m37 18l2 2m-52-9l0-1m-102 7l0-1m3 8l1 0m43-1l-1-1m93 2l1 0m253 18l1 0m-238-5l0 0m-163 18l0 2m43-2l-1 1m51-6l-2 1m61-6l-2-1m126 13l1 0m22 10l0 0m-175 8l1-2m20 5l-2-1m32-7l1-2m7 8l2 2m40 13l-2 1m-185 3l1 0m96 0l1 2m37 15l-1 1m-54 5l-1 1m97 9l-2 1m60 8l0-2m-75 2l-1-2m-33 9l-1 2m24-3l1 2m90 4l2 2m-24 13l2 2m-29-2l0 1m-38-7l-2-1m1 3l0 2m-31 2l-2 0m-23 11l1-1m46 2l-1-2m90-4l1-1m21 2l-1 1m7 10l0-2m-35 8l0 0m-270 106l1-2m4 4l1-1m7 12l-1-1m-3-5l1-2m928 13l1-2m28 5l-1 2m22 16l2-1m70 9l1 2m-59 3l1 1m-64-2l1-1m-919 17l1 1m1018-3l-2 2m66 18l1 1m-91-1l0 2m-21-6l-2-1m-931 0l0-1m-15 14l0-1m923 6l-2 0m6-5l0 1m48-6l2 0m2 3l-2 1m9-2l-2-1m37 21l1 0m-1045 7l-1 1m114-1l-2-1m838 2l0 0m80 5l-1 2m-932 8l0-1m-14 0l-2 2m-59-4l-2 2m-30-8l1-1m32 22l-2 0m12-7l2 0m919-1l1 0m76 0l1 1m4 2l2 0m46-4l1 1m15 2l-1 0m-126 18l-1 2m-4-1l-2 1m-10-10l-2 0m-884 10l0 2m-94 1l2-2m47 0l-1 0m909 2l-2-1m178 12l-1 1m-76 4l-2 1m-102 4l-2 0m-872-1l-1 2m873 8l-2 1m82-2l-2 0m13-5l0 0m-1020 17l2-2m52 16l2 2m881-7l1-2m19 7l2-2m20 4l2 2m38-6l1 2m23-2l1-1m2-3l0 0m8 13l2-1m-18 13l0-1m19 20l-1 1m-69-1l-1 1m110 7l2 2m-631 25l1 1m-412 79l-2 2m-46 16l-2 1m3 20l-1 1m-3 13l-1-1m13 12l-2 0m17-8l-2 2m67 12l-2-1m35 23l-1-1m-21 1l0-1m3 13l-2 0m-3 33l2-2m-19 10l0 1m34 12l0-2m51-5l-2-2m-34 16l-2-1m38 14l2-2m-31 25l1 0m9-3l2 1m38 8l1 1m23-4l1 2m-74 18l-1 0m23-1l0 0m-380 43l2 2m-42 1l0-2m26 7l-2-2m83 37l-2-1m-7 4l-2-1m-50 10l-1 0m119 9l-2-1m6 18l-2 2m23-3l-1-1m-72 14l-1 0m-17-4l1 0m-24 6l-1-2m29 7l0 1m71 1l-1-2m47 9l-1-1m-69 7l-2 2m-31 11l-1-1m44 7l-2-1m12 7l-1-1"/>
<path id="a3" d="M280 126l-2-2m-272 15l-1-1m818 8l-1 2m7-3l1-2m-804 18l1-1m0 17l2 0m354 3l2 2m-331 0l1 0m-26 9l-1-2m-25 12l0 1m23-3l-2 0m25-2l-2-1m26 5l1 2m21 3l-1 1m-12 3l2 2m-58-1l0 2m-4-8l2 1m-12 4l-1 0m2 14l1-2m19-5l0-2m30 2l2-2m11 10l0 0m351 2l1 0m192 10l-1 0m-15 0l1 2m-178-6l0-1m-359 2l2 1m-23-4l-2-1m-25 10l1 2m57 4l-2-1m44 6l-2 0m1203 1l2-1m-1253 8l2-2m-23-4l-2-1m-41 7l-2-1m91 9l1 2m470-3l1-1m78-1l0 0m-213 15l0 1m-300 7l2-1m-58 0l-2-2m0-4l-1 1m4 18l-1-2m27 3l2-1m55-4l-1 0m1251 4l0-2m-10 10l-1 0m-3 4l-2 0m-1226-6l2-2m-32 19l-1-2m68 0l1 2m2-6l0-1m1081 4l0 0m117 9l0-1m-859 2l-1-1m-248 3l0 0m-38 4l0 1m-8-2l-1-1m0-6l-1-2m-28 9l0 1m-30 0l1-1m-8-6l0 0m-20-2l2 0m-9 10l1-1m-5-9l-2 2m-6 5l2-2m-3 16l0 2m7-4l0-1m9-6l-1-2m11 5l-2-1m72-1l-2-1m311 7l-2 2m792 0l0 0m72-4l1-2m3 17l-2-2m-912 4l-2-2m-158-5l1-2m-64 2l-1 0m-7 6l-2 2m-51-8l0-2m-39 2l-2-1m-35 0l-1-2m-14 2l-1 0m-23 2l2 0m-6-5l1-2m-5 10l1 2m-11-3l-1 2m-58-5l-1 2m19 7l1 0m97 4l0 0m1-5l-1 2m8 3l2 1m76 3l2-2m28-1l-1-1m36-4l2-1m220 4l-1 2m876 1l1 0m17-6l-1-2m-48 20l0-1m-1083-4l0 1m-8-1l0 0m-79-1l2 0m-21 6l-2-2m-14 1l-1 2m-4-2l1 2m21 14l2-1m7 0l2 2m62-9l2-2m1124 3l-2 2m51 16l0 2m-6 0l-2 2m-9-11l0 1m-1146-3l0-2m-63 11l2 1m-20-7l1-1m-154 20l0 1m138-6l1-1m7 3l2 1m2-8l2-2m10 8l-1-1m6 0l0 2m12-2l-1-2m67-3l0 2m0 5l-2 0m-49 6l2 2m-10 3l-2-2m-21-3l0-1m-6-1l2 2m-15 7l1-2m-35-7l-2 1m-51 8l2 0m-72 3l0-1m184 2l1-1m54 3l0 1m10-2l1-2m3 9l1-1m20 2l0-2m6 10l-1-2m-21 8l1 1m-12-10l2 0m-6 8l-2-2m-120 14l1-2m20 3l2 1m71-6l1 2m27 2l0 2m24-13l0-2m2 10l0 1m7-8l-1 0m2 14l0-1m-161 7l-2 0m-24-6l-1-1m-16 0l2 1m-6 6l-1 0m-17 0l0 2m37 2l-1 0m11 3l2 0m112-2l1 2m16 0l1 2m21 8l-1 2m-75 2l1 0m-4 3l-2 0m-39 1l-2-1m-40-5l-1 0m-25-1l1 2m-50 6l-2 1m-11-10l-2 0m33 21l0 2m18-8l0-2m61 2l1-2m3 7l0 0m7-9l1 1m10 9l-1-1m59-5l-2 0m7-4l2-2m3 2l2-1m24 7l1-2m30 15l2 1m-24-2l0-1m-20-4l1-1m-37 6l-1 1m-3-2l1 1m-80-2l1 2m-35-1l2 1m-16-2l-2 2m-29-1l1-1m-16 17l-1 1m18-11l1 2m40 0l-2 0m31 7l-2 0m31 0l-1 1m87-2l1 2m50-7l1 0m26 4l-1-1m8 14l2 2m-19-6l1-2m-15 8l0 0m-48-7l2 1m-56-3l2 2m-53 6l-2-1m-36-4l2 1m-6 4l0-1m-2-6l1-1m-58 0l1 1m25 16l-2-1m93-2l2-1m76 3l-2 1m-160 20l0 1m19-1l2 2m2 6l-1 2m1143 2l0 1m-1140 2l-1 1m5 18l-1-2m1173 1l0 1m35-8l-1-2m125 15l-2-1m-10 7l-2-1m-116-5l-2 2m-28 6l0 1m5 3l-1 0m147 1l2-2m12 8l2 2m-33-1l0-2m-31 3l-2-1m-73 6l2 0m-8-4l-2 0m-12 0l0 1m-6 0l-1 0m-37 3l-2-1m-1107-2l-2-2m-27 19l-2-1m1142 1l2-1m28 1l2 1m133-1l-2 0m14-7l0 2m26 5l0 2m-5 5l-2 2m-7-2l2 2m-16 1l1 2m-26-2l-1-2m-5-1l-1-1m-70 3l2 2m-7 2l2 1m-12 8l1 1m5-7l-1 1m65 3l0-2m36-2l1 1m5-1l0 2m21 16l2 1m-7-5l1-1m-4 5l2 1m-27 2l2-1m-27-8l0 2m-46 0l2 1m-40 4l0-2m35 9l-1 1m39 0l1-1m24 2l2 1m40 2l2 1m-41 12l1-1m-12-3l2 1m-15-1l-1-2m-22 6l2-2m-25-2l-2 2m-38-3l0 2m-16 0l0-1m-1142-2l2 1m-30 10l0-2m1183 5l1 1m6 6l1-1m24-5l-2 1m35-3l-2 1m54 6l1 2m44-1l1 0m-8 12l-2-1m-32-9l-2 1m-25 5l2 2m-18-4l-2 0m-14 0l2 1m-38-1l0-2m-18 4l0-2m-1252 7l0 0m1256 5l1-2m26 6l0 2m21-9l1 2m13 6l0-2m67-2l0 1m-3 6l-2 0m-46 10l-2 1m-6-5l0 0m-77-5l-2 1m-25 8l2 2m-1218-10l2-2m1207 21l2 1m88-5l-2-2m112 4l2 2m-52 5l0-1m-1300 8l-2 0m-28 20l-1 0m-1 6l-1 0m22 5l1 1m1313-6l1-1m41 1l2 0m-82 14l2 1m-1319 18l0 0m1371-1l-1 0m-1324 33l0-2m-14 10l2-1m66 7l0-1m1126 10l-2 1m-1095 4l-1-1m-88 10l-1 1m1182-7l1-1m-1082 29l2 0m1062 2l2 0m67 12l-1 2m-1167 4l1-1m53 1l2 1m5 5l1 1m0-6l1 1m1074 15l-2 1m-1055-3l0-1m40 13l1 1m986 3l0 0m36-7l2 2m74 5l-2 1m-1072 14l0 0m-221 4l2 1m9-4l0-2m8 4l1 1m1183-2l-1 1m55 4l-1 2m53 1l0 0m47 1l2 2m-79 4l1 1m-67 0l1-1m-1201-3l-1-2m-8 16l-1 1m1152 8l0-2m89-9l1-1m21 1l0-2m80 17l-2 2m-91 5l-1 2m-117-6l1-2m-1093 2l2-1m-32 6l-2 0m1161 7l-1-1m122 6l1 2m21-11l-2-2m14 20l0 2m-74-4l-1-1m-24 2l0-1m-16 1l-1 2m-5-8l-1-1m-24 10l-1 1m-92-3l2 0m-45-7l-2 0m-1071 5l1 0m1087 8l-1 1m28 7l1-2m78-4l2 2m71-2l-2-1m19 5l0 1m30-5l-2-1m90 6l2-1m-23 13l-2-2m-11-4l2-2m-79 3l-1-1m-94 3l2 1m-20 3l-1 0m-1051-5l-1 2m-1 2l-1 2m988 7l-2-2m49 2l2 1m30 1l1 2m35-4l0-1m35 0l1 0m24-4l0 2m19 3l2-1m11-5l0-1m41 5l1 0m15 2l-1 1m16-2l-1-1m-163 9l0 1m-65-2l-1 0m-1025 19l0 0"/>
<path id="a4" d="M291 8l-2 1m34-2l0 1m9-5l-1 0m45 4l0 2m11-5l0 2m27 4l-2-1m33 2l-1 0m8-3l-2 2m122 14l2 2m-14-4l-1 1m-5-8l-2-1m-25 10l-2 2m-7-8l2-2m-32 6l-1 0m-32-7l-2-1m0 8l0-1m-7-1l-1 0m-95-5l-2-1m-5 2l2 0m-13 5l-2-2m-11-2l1 0m-164-4l0-1m120 22l-1-2m33-8l-2-2m50 8l1 1m123-2l1-2m6 2l1 2m8-4l1-1m55 7l1 0m9-5l-2-2m820 17l2-1m-38-5l-1-2m-744 6l1 2m-123-7l2 1m-8 3l2 1m-104 6l0 2m-94-5l1 2m-7 2l2 2m-44-13l0-1m-7 4l-2-2m-43 4l1 2m12 6l1-1m162 5l1 0m41-4l-2-1m21 4l-2-2m21 3l1-1m22 2l2-1m35-1l-2-2m9-2l-1 2m104 3l1-1m674-1l1 1m-42 10l2-1m-529 9l-2-2m-9-2l0 2m-132-2l0 1m-47-2l0-1m-33-5l-2-2m-3 2l-1 0m-5 10l1-1m-12-7l1-1m-13 7l2 1m-68-6l1-1m-8 8l0-1m-19-2l-2 0m-36 0l-2 2m-84-4l2 1m-121 0l-1-1m-89 16l1 0m87-5l2-1m26 7l2 0m20 0l1 0m30-9l2 0m40 3l0 2m101-5l1 1m32 7l0 0m13-5l-2-1m16 0l-2-1m10-1l2 0m29 1l-1 2m18-2l-1-2m70 4l1 2m40-2l0 1m77 0l-1-1m461 17l-2-1m-26 2l0-1m-67-2l2 0m-296-5l-2 1m-48 4l-2 0m-47-2l0-2m-124 5l0 1m-28 2l2 0m-7-2l0-2m-23 2l-2-1m-41-4l-1 2m-8 4l-2-1m-13-5l1 1m-15 1l1 2m-15-3l1 0m-12 6l-2-2m-67-2l2-2m-18 7l1 1m-162-2l2-2m-66-9l0-2m-12 9l1 1m-4 5l-2-2m3 12l2 0m7-10l2 0m178 8l1 1m54-3l-2 0m53-7l-1 2m50 9l-2 1m23-6l-2-2m10 0l0 2m67-5l0 0m8 6l0 1m95 0l2 0m29-8l2 2m59 8l2-1m9 1l2 0m33-7l2-2m181 7l0 2m354-1l1-2m-7 10l0 2m-203 3l1 0m-394-6l-1 2m-66 5l0 2m-12-11l-1-2m-95 6l-2-1m-7-4l0 1m-6 6l-2 2m-7-5l0 1m-17-4l-2-1m-63 5l-1 0m-27-4l2-2m-2 11l1 2m-96-9l1-1m-92 9l0 1m-17-6l0-1m-8 12l0 2m139-5l-2 1m33 4l-2-2m47 2l0 1m17-3l-1 2m65-7l2 0m40 8l0 0m56-7l-2-2m161 8l2 1m55-3l-1-1m323-4l-2-2m216 9l0 2m154-9l0-1m-731 23l1 1m-36-5l-1 0m-60-5l0 0m-21 6l-2-1m-35 3l1-1m-21-6l-1-2m-28 0l-2 1m-6 1l0 2m-98 2l-2 1m-13 3l2 2m-10-5l1 0m-168-6l1-2m-85 3l2-2m-15 13l-1-1m115 8l1-2m14 2l2 2m168-1l1 1m19-1l1 2m5-3l0 2m4-7l1-2m132 9l2-1m1-1l2 2m80 1l-2-1m110-10l-2-1m152 7l2 2m270-1l2-2m-138 17l2-2m-63 1l1 0m-325-3l2-2m-8 4l-1-2m-74-2l1 1m-32-3l1 1m-2 7l1 1m-30-6l2 0m-8-3l1 2m-82 7l1-1m-13-7l0 0m-178 0l2 1m-86-4l-1 1m-22 3l2-2m-14-1l2-1m63 16l-2 0m241 0l0-1m27-4l0 2m121 9l0 1m3-6l1-2m21 8l-1 0m79-12l-1 0m436 6l-1 0m335 15l2-2m-441 3l-2-1m-29-1l2 0m-321-5l-2 2m-67 0l0 1m-20-5l-2-2m-100 10l0 2m-5-10l2 2m-231 8l0-2m-76 11l2 0m278-7l-1-1m40 4l-2 0m20 4l1-2m39 3l-1 2m8-4l1 0m5-5l2 1m97 5l1-1m487-4l-2-1m235-2l-1-2m-731 25l-2 0m-8-1l0 0m-18-6l0 0m-11 6l0 1m-17 0l-1 0m-1-9l-1 0m-38 1l0 0m-10 6l2 0m-50-2l-1-2m-17-4l-2-1m-282 1l2 1m292 18l-2 0m8-6l-1 1m852 4l-1 2m101-4l0 1m-76 10l2 0m-787 3l0 1m-64 2l1 0m-11-4l-2 2m-280 4l0 2m-18-11l0 1m8 13l0 0m55 6l1 1m241-8l1 0m34-3l0-2m132 12l-2-1m250 1l0 0m400 1l2-2m-656 10l-2-1m-33-7l1 2m-85 0l2 1m-10-3l2 2m-53-2l2-2m-12 11l-2 0m-283-8l0-2m320 20l0 0m69 0l-1 2m390-7l2 0m317 11l-1-2m-542 9l1-2m-211 4l2-2m-279 6l2-1m358 3l0 1m37-3l1 0m609 9l2 2m-13 6l-2 0m-3-5l-1-2m-493 6l0-2m-128 3l-1 1m-44 0l0-2m-20-4l-2 0m-4 6l2 1m-64 2l-2 0m-97 11l-2 0m85 2l2 0m24 0l-1 1m24-11l-1 2m746 1l0-2m35 15l1 2m-834-1l1-2m61 16l2-1m14 3l0-2m187-6l-2 2m568 19l-2-1m-3-1l-1-2m-10 3l-1 2m-24-8l-2-2m-222 3l1 2m-579 4l0-1m-106 0l0 1m-6 3l-1 0m11 3l2-2m0 5l-1 1m92-6l1 1m39 5l-2 0m35-8l1 0m712 2l-1-1m51 9l-1 0m36-3l1 2m27 13l-2 2m-4-7l2-2m-68-1l-2-1m-55 4l1 1m-19-5l-2 0m-166 1l-1 2m-613 2l2-1m-35 1l-2-1m-4 0l2 1m-37 2l-2-1m-10 11l-1 2m19-8l2 2m150 4l-1-2m7-6l-1-1m711 10l2 1m11-1l-1 0m45-1l2-2m89 3l1 1m30-3l-2-2m-119 17l1 1m-600-1l0-2m-290 0l-1 0m-6-7l-2 2m-17 5l0-2m-15 15l2-2m5-3l0-1m35-2l2 2m823 6l-2 0m25-3l-2 2m37-4l1 0m87 5l-1 0m22 0l-1 2m19-4l-2 0m36 4l0-1m4 4l-1-2m-22 2l-1-2m-73 5l-1-1m-5-1l-1-2m-63 2l2 0m-22 1l2-2m-26-2l1-1m-735 13l-2 1m-36-3l-2-1m-2-7l0 2m-37-1l-2 1m-6 1l2 0m-16-3l-2 0m-55 6l1-2m11 17l-2 0m7-5l-2-1m30 6l1 1m14-12l-2 2m49 5l-1-2m94-3l1 2m238-2l0-2m507 6l1 0m28 0l-1 1m21-6l2 0m51 0l-2-2m10 14l0-1m-37 7l2-2m-36-4l2 0m-18 7l-1-2m-26 4l-2 1m-795 0l0-1m-56-8l2-1m-6 6l-2-1m-14-2l1-2m-66 4l-2 1m-1 8l1 1m37 5l1-1m33-5l-2 0m27-1l-2 2m33 1l0-2m776 2l0 2m49 2l-1-2m9-5l-2-1m62 7l1-1m82-1l2 1m1-6l-2 2m7 6l0-1m-48 13l-2-1m-38-5l1 1m-45-1l2 2m-19-1l-2-2m-34 1l1 0m-851 5l0 0m-18-6l2-1m-4 5l2 1m-37-6l-1-2m-27 25l1 2m15-2l0-1m4-10l-1-2m44 3l-1 1m43 7l2-2m39 2l1-2m785-6l2-2m0 10l-1 1m24 0l-1-1m35-6l-2-1m37 7l2-2m2-5l-2-1m21 8l0-1m17-1l-1 2m22-2l1-1m5-6l-2-2m4 13l2 2m21-6l0 0m-24 13l1 1m-39-1l2 1m-8 0l2-2m-7-2l2-1m-30 0l2 1m-76 6l1 1m-839-2l-1-2m-17-4l1 0m-34 5l-1-2m-28-6l2 2m-4 8l1 0m-9-2l-1 0m-12 2l0 1m-7-8l2 2m28 12l0 2m63-1l1-1m851-4l-2 2m27 7l1-1m9-10l2 2m75 3l0-1m26-1l-2 1m12 5l1 0m15 1l-2 1m19 5l-2 2m-14-3l2-1m-31 4l1 0m-35-6l-1-2m-92 2l2-1m-824 10l1 0m-100 2l2-1m-12-4l2 0m-5-7l2-1m19 22l-1 0m295-4l-1 2m26-1l2-2m591 6l-2 0m5-7l2 1m37 4l0 0m18 0l0-1m36 1l-1 0m10 1l1-1m30 0l0-1m27-5l-2-2m3 19l0-2m-53 3l1 0m-95-5l2 0m-24 0l1-1m-862-1l1-2m-18 8l2-2m-32 5l2-1m-5-6l-1 2m20 18l2 0m24-9l0-1m857 5l1 1m22-3l-1-1m16 0l0 1m4 4l-2 1m20-8l-1 1m18 3l2 2m4 3l-1 1m17-7l-2 0m6 8l0 0m82-10l0 2m5-1l2-2m-25 23l1 2m-13-11l0 2m-14 6l0 1m-85-3l1 2m-1-9l0 2m-34 8l-2 0m-25-2l0 2m-1011-1l2 2m-43 6l1 2m390-4l1 2m25 0l1-1m61 0l-1-2m671 0l-2 2m39 0l-1-2m4-4l2-1m59 8l0 2m-12 5l-1 2m-50 3l1-1m-7 2l0 2m-26-4l2 0m-5-5l-1 1m-193 2l-1 1m-590-3l1 1m-368 4l-1 2m-32 8l0 0m27 0l1 1m77-5l0-2m332 4l1 0m234 4l1-1m503 1l-1 1m34-7l1-1m30 1l-2 2m-1145 11l1 0m-50 20l0 0m605-1l-2 0m9 1l0-2m145-2l-1 2m276 13l0-1m-285-7l-2-1m-51 7l-1 2m-19-3l0-2m-651 3l-1-2m-86 1l1-1m39 7l1 0m53 1l1 1m0 9l0 1m729 8l-1-2m-125 3l0-2m-623 2l1 0m-92-3l2-1m81 15l0-1m635-4l-1-1m-1 13l0 1m-29-1l2-2m-23 6l2-1m-8 3l-2 0m-455-2l-2 1m-151 15l-1-1m174-2l1 2m174-10l0-2m265 7l-1 0m13 5l2-2m0-2l-1-1m31 19l-2 1m-85-3l1-1m-366 1l-2 2m-35-10l-1 1m-170-1l1 0m-64 18l2 2m53 0l1 1m7-5l1 1m197 2l-1-1m38-3l1-1m421 1l1 2m400 2l1 2m-343 2l-1 2m-511 4l2 0m-6 1l-1-1m-38 0l-2 2m-10-7l-2 0m-199 21l-1-2m46-1l1-2m155-1l0 1m70-5l-1 1m15-2l2-2m17 13l1-1m93-7l-1 2m715-3l-2 2m-381 9l-2 2m-426 0l-1-2m-13 10l1-2m-19-7l2 1m-28 5l1-1m-8 2l-1-2m-224 2l-2 0m-19 0l-1-2m-10-3l0 0m-2 13l-1 2m45-6l2 0m0 4l2 1m6 3l1-1m165 1l-1-1m13 3l-2 1m110-9l1 1m297 4l2-2m92-1l-1 2m398 3l0 2m-240 5l2 2m-694-5l1-2m-6 11l0 2m173 1l-2 1m26 7l-1-1m221 0l-2 2m110-8l1-2m351 7l0-2m69 14l-1 2m-31-1l1-2m-17-6l2-2m-16 12l2 1m-35-7l-1 2m-276-5l1-2m-107 11l2 2m-356-4l-1 1m-48-7l0-2m-9 5l1 2m-7 1l0-1m-216-5l0 0m-13 10l2 1m31 3l1 2m48 5l2-1m171-4l-1 1m12 3l1 1m22-4l2-1m308-2l-1-2m432 2l1 1m10 2l-1-2m-19 13l-2-1m-288-5l1-1m-383 8l-1-1m-5-1l0 1m-11 5l1 0m-24-1l2-2m-37-6l-1-2m-10 11l-2 1m-9-5l-1-1m-5-2l0 2m-170 3l-1-2m-17 10l-1-2m19 0l0 2m186 1l-2 2m12-9l0-1m21 12l-1-2m31-2l1 2m9 2l-1-1m204-8l1-2m473 5l0-1m100 20l-2 2m-72-4l0-2m-48-6l0-2m-489 6l2 1m-43-1l1 1m-45 0l2 1m-37 3l-2-1m-56-5l0-1m-6 3l-2 0m-17 0l1-2m34 14l0-1m3-4l-1 1m69-2l1 0m14 2l1 2m56 2l-2 2m522 2l-1 1m59-5l-1 0m53-4l2 2m33 14l1-1m-68-3l0-1m-22 4l-1 2m-621 2l0-1m-24-1l-1-1m0-3l-2 2m-36 4l1 1m-59 0l1 2m-241-4l0 0m-10 0l-1 1m329 6l-2 2m15 2l2-2m341 1l2 1m289 4l0 2m58-9l2 2m-117 7l1 2m-576-2l0-2m-1 12l2-1m-30-8l1-2m-7 8l0-2m-15-1l2 1m-47-6l-1 0m32 22l0 1m8-1l2-2m0-6l1 2m19 5l-2 2m58-1l-2-1m648-7l-2-1m5 9l0 2m17-10l1-1m-45 16l-1 1m-22-1l0-1m-38-5l0 2m-582 2l-1-1m-20 2l2 2m-68-3l-2-2m16 13l0 0m9-1l-2-2m12 9l-2 1m35-3l2-2m287 2l-2-2m326-1l1-1m13 0l2-1m97 8l1 2m-723 6l0 2m-17-7l-2-1m-384 21l-2-1m30-3l1-1m25 5l-2-2m34 4l0 1m794-8l-2 2m103-4l2 2m24-3l-2 0m26 2l-2 0m36 9l0-1m59-11l0 1m1 16l1 2m-22-2l2-1m-76 8l0 1m-56-1l1-1m-905-1l-2-1m-38-4l-1 1m-7-2l1-1m-24 13l2 0m1 7l-1-2m24 2l-1 0m79-6l-1-2m32 5l-2-2m752-5l-2 1m197 10l0 0m35-5l2 0m-175 9l2 1m-56 2l0 0m-212-4l0 0m-570 2l-2-1m-24-4l2 1m-32 1l1-1m-8 1l-1-2m-12 21l0 2m119-7l-1-1m299 5l0-1m239-6l1-1m223 7l-1 1m107-6l1-1m15 7l2-1m26-5l0 0m19-1l2-2m43 19l-2 0m-54-4l2 1m-945 1l2 1m-24-4l2-2m-24 5l-1 0m-33 4l0 0m-27 3l-2 1m1-9l2 2m-8 3l-1 0m114 6l2 1m943 5l1 2m45 0l2-1m-15 15l0 0m-435-3l0-2m-498-1l1 1m-83-1l-1-1m-9 0l1 0m-31 2l1 0m-11 5l2 1m38 7l-2-1m52-6l2-2m29 12l-2 1m24-11l0-2m10 7l1 1m535 7l1-2m-447 2l0 1m-90 5l2 0m-48-1l0 0m-14-1l-1 0m-71 9l2 0m8 4l0 0m50-4l0 1m14 6l1 0m35-3l1 1m279-5l1 2m542 15l-2 2m-601-6l0 2m-227 3l2 0m-58-2l0-2m-30-4l2 0m3 13l1 0m30 4l2-1m26 6l2 0m7-5l-2 1m46-7l2-1m692 3l-1-1m296 8l2-2m-94 16l0-1m-923-5l1 2m-43-1l0 0m79 7l2-2m0 7l2 2m907 0l-2 1m103-1l-2-1m136 0l2-2"/>
<path id="a5" d="M365 3l2-1m6 0l1 0m90 0l1 2m13-3l1 1m3 6l1 1m51 15l1-2m-58-8l-1 2m-4-1l-2 0m-78 6l-1-1m-81-4l2-1m-38 14l-1 0m109 1l0-1m8 5l-2 1m66-1l-1-2m2-3l0 2m5 3l1-2m169 10l1 1m-169 1l-2-1m-32-6l-2-1m-99 8l2-1m-31 10l-1-1m1-3l1 0m10 5l2-1m4-4l1 1m85-1l2 0m25 0l2 2m168-2l-1 0m89 22l2-2m-15-7l-2 1m-252 7l-1-1m-95-5l-2-1m2 11l2-1m52 3l-1 0m47-1l-1 0m2 8l0 0m87-9l0 1m19 0l0-2m135 4l-2-2m547 17l1 0m-527-7l-2-2m-8 9l2-1m-325 3l2-2m-31-3l-2-1m-4 0l0-1m-2 8l-1-2m-129-1l2 0m-128 14l-1 2m247-1l-1 0m50-8l0 2m203-3l0 0m88 2l2 2m47-2l-1 1m588 12l2 0m-14 1l-1-1m-572 1l1 0m-26-2l-1 2m-137-1l-2 2m-183 0l-2-1m-203-4l2-1m-28 5l1 2m-42 11l1 0m94 0l-2-1m187 3l-2-2m322 5l0 1m2-6l1 2m681 1l1-1m22-8l-1 0m-735 14l-1 1m-51 0l-1 0m-71 3l-2-2m-29 6l0 1m-73-9l-2-2m-31 10l2 1m-21-9l2-2m-276 5l0-1m328 10l-2 1m123 6l-1-2m32-3l2 0m46-2l-1 1m52 1l2 0m29 5l2 1m337-3l-2-1m310 16l2 2m-7-8l1 2m-457-1l1-1m-206 5l-2 0m-103-8l-1 0m-48 8l1 1m-40 0l0 1m0-12l-2-2m-25 6l2 2m-11-3l0-2m-18 10l2-2m-271 4l0-1m79 0l1 2m144-1l2 0m54 6l1 1m18-7l-2 0m46 4l2 1m25-5l0-1m82 4l0 2m124 3l1 0m65-8l0-2m312 10l-1 2m-53 2l-1 0m-182 3l2 0m-32 0l-1 0m-244 2l2 0m-84 5l-1-2m-7-7l-1-2m-269 4l-1 1m-215 14l2-1m211 2l0 2m135-1l-2-1m9-6l1 2m19 1l-2 0m41 4l-2-1m71 1l-2 2m10-1l-1 0m12-9l1 0m12 8l0 2m165-6l-2-2m161 7l2-1m526-1l-2 0m-240 7l2-2m-353 5l2 1m-145 0l0-1m-202 3l2 1m-26-6l0 1m-378 18l-1 1m361 0l-1 2m176-11l2-1m25 8l0-1m268-3l0-2m390 0l2 0m118 12l-1-2m-159-1l-2 0m-225 3l-1 0m-78 3l0 1m-290-2l1-1m-12 4l1 0m-117 2l-2 2m-265-9l-2-1m257 15l-2 2m95-7l0 1m178 1l2 1m299 1l-1 1m-355 17l-1-1m-278-1l-1 1m-326 10l-1 1m60-5l1 0m60 1l1-2m755 19l2 2m-66-7l-2 0m-50-1l-2-1m-150 6l2-2m-473-1l0 1m176 5l0 1m537 0l-2 0m342 2l1 2m77 1l-2-1m-257 12l2-1m-288 5l2-2m-64-6l1 0m-542 13l2 0m5 0l2 0m691 3l0-1m56 7l1 0m381-1l-1 0m-572 11l-1-2m-257 2l0-2m-326 15l-2-1m41-3l-1 0m6 5l2-1m642 2l0-1m445-8l2-2m22 17l-2-2m-358 3l2 0m-279-2l-1-2m-409 4l-2-2m9 13l-1-1m299 5l-2 1m350-9l2 2m15-1l1 0m33 3l2-1m64 5l-1-2m111 3l0 2m173-13l1-1m4 18l-2-1m-136 7l1-1m-204 1l0-1m-127 2l0-1m-128 0l-1-1m-91-5l-2 0m-475 4l2 2m-20-4l-1 2m76 7l0 0m30 4l2 2m7-1l-1-1m38-2l-2 0m283-6l-1-1m173 1l-2 2m331 0l0 0m69 4l1 1m57-7l-2-2m90 23l1 1m-38 0l-2-2m-8-2l0 2m-12 2l2-1m-64 1l-1-1m-2-8l0 0m-519 8l2-2m-346-3l-2 2m-35-6l1-2m-22 2l0 2m-101 12l1 1m28 4l-2-1m68-1l2 0m33-3l-2 1m13 8l1 0m148-4l-1 0m13-3l2-2m295 1l-1 1m414-3l-1 2m86-1l2 0m1 8l-1 1m108 10l0-1m-71-3l-2-2m-388 4l2 2m-226-6l1-1m-168-1l0 1m-173 0l1 2m-71 7l1-1m-53-7l0 1m352 18l0 1m46-6l1 2m478 4l2 0m100-1l1 2m132 6l2 0m-80 1l2-2m-28 7l2-2m-130-5l-2 0m-41-1l1-2m-779 9l-2 0m-249 8l-2 2m560 1l-2 1m256-11l2 1m95 11l0 0m256-12l-2 0m170 20l-1-1m-83-6l-2-2m-271 7l1 2m-699-1l-1 1m-4 0l0 2m-5-6l-1-1m-105 5l-1 2m-183 10l-1-2m89-4l-2 2m55-1l1-1m62 0l1-1m151 3l-2-1m236-2l-2-1m171 3l1 2m312 3l-1 1m65-4l-1-2m86 4l1-2m45-1l2 1m-1 5l-1 0m50-8l1-2m48 24l1 2m-308-13l0-2m-22 13l-2-2m-222-8l-2-1m-163 3l-1-2m-220 9l-1 1m-16-3l-1-2m-84 2l1-2m-184-5l2 2m-58-1l-1-2m-65 8l2 0m158 10l2 2m689-1l-2-1m89 1l-2 1m106-5l0-1m58 3l0 2m93-8l-2 1m10 11l-2-2m16 1l-1 1m35-5l0 2m-9 4l0 0m-374 3l2 2m-40 1l0 0m-388 1l-1 1m-466-4l-2 1m729 9l0 2m54-1l-1 2m20 5l-2 2m99-4l2-2m48 5l-2 1m168-2l1-2m100-4l2 1m39 3l-2-1m109 11l0-1m-44-5l-2 2m-59-1l1-2m-52 2l1 0m-348 5l1 2m-72-4l0 0m-94 1l-1-2m-281 1l-1 1m-78 2l-2 2m-3 0l2 0m-7-8l2-1m-56 16l2-2m13-1l0-2m11 11l-2-2m20-6l-1 1m13 5l2-1m307 1l-1 1m321-7l-2 1m46-1l1 1m86 0l-2-2m46 2l2-1m19 7l-1 0m88 0l-1 1m5-7l2-2m39 1l1-1m29 8l2 1m26-8l-1-2m-66 15l1 1m-69-1l0 1m-85 0l1 1m-277-2l0 2m-505 0l-2 0m-262-1l2-1m-75-4l2 0m200 18l2 0m666 3l0 1m48-4l-1 0m10 2l0 0m285-7l-1-2m28 8l2-1m46 1l-1-1m3-5l-1-2m66 7l2 2m-61 12l1 1m-180 1l1 1m-247-7l-1 0m-686 6l-2-1m-20 14l1 0m137-7l-2-2m27 5l2-2m200 7l-2-1m91-7l2-1m509 9l-1 0m-62 1l-1 0m-697 8l-2-2m-202 14l-2 0m159-6l-1-1m348 10l-2 2m561-5l-2-2m81 0l0 0m-687 8l-2 1m-19-1l-1 2m-124-4l2 1m-21 0l0 0m-100 22l-1 0m87-1l2 2m245-8l-1 2m202 17l-2 1m-362-4l0-2m-8-2l1 0m-22 15l1 2m267 0l-1 0m35 2l-1-2m550 2l-1-2m-971 21l-1 2m380 0l2-2m180-6l1-2m282 5l2-1m-289 18l1 2m-123-2l-2-1m-56-3l-1 0m-456 3l-1 0m-4 6l1-2m363 6l-1-2m664 10l1 2m-452 7l0 0m-9-11l0 0m-153 11l2-1m-399-9l2 0m-81 3l-1 1m98 16l0 0m27-5l1-1m147 9l2 0m49-2l2-2m157-4l0-1m259-1l0 1m323-2l-1-1m-285 15l-2-1m-139 4l-2 2m-182 0l1-2m-190 2l0-2m-117-1l-1 1m-52-2l-1 2m-24-2l1-1m-22-1l0-1m-73 4l-2 2m76 15l-2 2m213-8l1 2m122-4l-1 2m164-2l2-1m347 6l-1 0m-410 9l-2 2m-130 5l-1-2m-39-2l-1 2m-30-3l2 2m-51-8l0 2m-77 6l0-1m-254 3l1 2m517 2l2 0m23-1l2-2m31 10l0-1m206 0l1-1m236 14l1-2m-414-3l2 2m-268 0l-1-1m-86 1l0 1m-120-6l2-2m121 14l-2 2m22 5l1-1m164 1l1 0m50-1l-1 1m81 1l0-1m24-2l1-1m109 4l-2 0m231 12l-1-2m-105 3l-2-1m-571-3l2 1m-56-1l2-2m96 11l0 0m6 8l-1 0m431-8l0-2m130 0l0-1m-254 22l1 2m-411-6l-2 2m-185 3l-2 2m319 7l0-2m37 1l0 0m141-2l1 2m-10 9l-1 2m-163-2l-1-1m-9 0l0 2m-56 3l0 0m-11 6l-2 2m32-2l2 2m177 20l-1-1m-54-5l-1 0m-56-2l-1-1m-75 8l2-2m-37-6l0 2m12 13l2 1m12 4l0 2m21-2l0-1m32-9l2 0m17 5l-2 0m6-5l1 1m233 0l0-1m147 4l0 0m8 5l-1 2m118-11l-1 2m-563 17l-1 2m-4-2l1-1m-19 1l1-1m-280 16l-2 0m85-4l2 2m128 1l1 0m68-10l0-1m12 10l2 0m646 12l1 0m-109-8l-1 2m-154 6l0-2m-290-6l-1-1m-439 17l-2 2m142 2l0 0m-73 8l-1 2m-21-1l0 1m-33-7l-2-1m-11 8l-2 0m24 6l-1-2m39 12l-1-2m5-5l1-1m357 7l-2 1m383 0l-2 1m4-7l2-1m-80 8l-1-2m-178 7l-1-1m-110 3l2-2m-333-4l2-2m-15 9l-1 2m-119-9l-2 2m-4 9l1 1m-3-4l0 1m6 9l0-2m409-3l1-1m585 6l0-1m-163 8l-1 2m-49 5l-1-2m-6 2l1 0m-266 1l-2 0m-134-7l-2-2m-34 11l1 0m-175-8l2 0m-103 0l0 1m-8-3l-2-2m-10 10l-2-1m-76 2l-1 1m0 11l0-1m99-7l0 0m68 6l1-2m16-1l2-1m206 7l2 2m321-14l1 2m447 14l1 1m-277-4l1-2m-590 10l0-1m-169-1l0 2m-60-3l-1-2m-7 0l-1-1m-24 4l0-1m126 11l-1-2m3 8l0 2m39-12l-2-2m294 5l1-2m202 9l-1 2m433-5l1 2m44-3l0 1m37 0l1 2m8-8l0 0m-142 18l1-1m-89-2l1-2m-10 5l-1 2m-265-3l1 1m-313-7l2 1m-204 1l-1 0m-191 10l-1 0m94 2l-1-1m8 1l-2 2m34-2l2 1m14-1l1-2m288 3l0 2m516-5l1 0m275 2l-1 0m72 0l1 2m13 13l-1 1m-362-1l-2-2m-804-3l2 2m-28-1l1 0m30 22l2-1m26-5l2 2m125-8l0 2m70 7l-2 1m64-1l2 1m167-8l1 0m69 9l1-2m576-1l-2 2m-110 5l-2-1m-166 2l-2 1m-274 2l2 2m-28-6l-2 1m-53 6l-2 2m-65-1l-2 0m-238-8l-1 0m-50 1l-2 1m-220 0l-1 1m99 13l-1 1m11-7l0 0m286 7l0-2m13-5l-2 1m60 6l-2 0m420-7l0 2m429 5l0 2"/>
<path id="a6" d="M1300 31l2-2m17 3l-2 0m-56 23l-2-1m-34 9l-2 1m-409 16l-2-2m356 2l1 2m-339 12l-1-2m-40-7l1 0m-50 4l0 1m-11-3l-1 1m75 40l-1 2m-74 10l-2 0m21 5l-1 2"/>
<path id="a7" d="M548 254l0-1m-25 4l2 1m-28 13l-1-1m10-1l2-2m28 9l-2 0m734 0l-2-1m-717 11l0 1m-49-8l2-1m-35 1l1 2m-25 18l1-1m40-3l0 0m30 3l0 0m13-6l1 1m25 3l-2-1m-7 7l0 1m-44 4l-1-2m-20-5l1 2m-29 20l-1 0m11-5l-1-1m72 1l0-2m7 8l1 2m1-9l0-1m667 3l2 1m33 5l1 1m8-11l0 2m40 17l-2 0m-63 1l0 0m-32-4l2-2m-21 4l1-1m-655-1l-1 1m-8-6l-2 0m-15 5l1 1m-57 8l2-2m771 0l-2-2m35 10l-1-2m30-4l0-1m27 19l2-1m-9-1l2 0m-55 1l-2 1m-798-4l2-2m-21 3l1 2m-20 1l2-2m-6-7l1 1m-19 13l-2 1m11-1l2 1m10-2l-1 0m65 9l-1 2m-39 6l0 0m-29 8l-1 2m12 2l0-2m10 3l2 2m12-9l-1 2m30 8l2-2m700 2l0 1m7-9l-2-1m15 20l1 0m-12-3l2-1m-764 7l1 0m-12-3l0 0m-1-6l-2-2m-16 12l1 1m23 6l-1 1m19-2l1 1m34-3l-2-1m743 3l0-1m9 16l-2 0m-736-9l-1 1m-37 7l-1 1m-4-8l-1-1m-11 10l0 0m-12-6l-2 0m-1 13l1-2m54 1l1 0m744-1l1 2m-26 16l2 0m-457 0l2 0m-31 1l2 1m518 10l-1-2m4-5l1 2m-703 31l0-1m678 0l2 2m12 1l1 1m-719-3l0 1m710 12l2-2m29 44l2 2m-11-4l0 2m-639 29l2 1m157 4l-2 1m-3 11l1-2m-93 6l-2 2m-27 5l-1 1m186 16l-2-2m154 9l2 0m8 2l1 2m-15 6l2 1m-140-3l-2 2m-48 6l2-2m1 9l2 1m175-1l1 0m-606 29l-1 1m12-6l0 1m414 0l-1-1m3 16l0 2m-454 2l2 2m0 10l-2 1m14-12l1 2m509 6l-1-2m-526 11l-2 2m-10 6l-1-1m113 6l0-1m23 12l0 2m-147 16l1 1m161 22l2-1m378 5l1 2m-36 7l1-1m-339-2l0 0m3 11l1 1m371 1l-2-1m26-2l-2-2m-530 24l-2-2m157 7l0-1m8 1l1 2m346-8l1-1m14 9l-1 2m-6 8l2 1m-520-2l-2 1m-10-8l-1 2m40 13l1 1m157 6l-1 2m3-11l-2 2m8 4l-2 1m97 3l-1-1m195-3l0 2m-161 7l1-1m-18 0l2-2m-97 12l0 1m34 3l0 0m32 2l2 2m-209 4l-2 0m-8 9l1-1m9 9l2 2m159 12l-2 0m-134-8l2-1m-19 6l-1 2m13 5l-2-2m447 8l0-1m-305 7l0 1m-14 9l0-1m-118 9l2-2m85 0l-2 0m10 1l1 2m11-4l2-1m4 3l-1 1m488 14l-2 1m-585-8l1-2m581 15l2 1m-61 9l0 1m-12 20l-2 1m16-1l0 0m39 0l1 0m47-6l-1 0m-13 19l2-2m-2-8l0-2m-89 13l2-2m12 13l1-1m29-9l2-1m9 1l-1 2m20 1l0-1m1 4l-2-2"/>
<path id="a8" d="M1338 30l0 2m-101 24l-2-1m36-2l2-1m-540 28l2 0m495-8l2-1m-447 26l-1 1m46 13l2-2m-47 47l0 2m-15-1l-2 0m-5 4l1-2"/>
<path id="a9" d="M570 257l-1-1m-54 12l-2-1m32 13l1 2m-33-2l1-2m-25 6l-2 1m-3-5l1-2m-22 7l2-2m81 8l1 1m702 3l2-1m-12 14l0 1m-37-8l-1 1m-662 6l-1 1m-52-3l1-2m690 18l-2-2m12 1l-1-1m5-5l2 2m6 5l-2-1m26 0l1-2m-15 6l2-2m-709 2l-1-1m-83 21l2 2m27-7l-2 1m32-1l1 1m11 4l0-2m674-5l1 0m31 3l1 1m39-4l1 2m47 8l-1-1m1 6l0-2m-21-3l2 1m-798 4l2-1m-81 2l-2-2m3 20l-1 0m9-4l1 1m26 0l1 0m14 2l-2 1m742 0l-2 2m12-7l-1 1m-744 14l1 2m-36-8l-2 1m-21 6l-2 2m21 1l-2 2m35 2l0-1m742-4l0 0m-16 14l-1 2m-728-2l0-1m-60 7l-1 0m-4 9l-2 0m19 3l-1 2m54-4l0-1m8 3l2 0m31 4l1 0m-91 0l-1 2m-1 6l2-2m47 13l0 0m9-4l1 2m738-2l-1 1m7-4l-2 2m7 13l1-1m-786 7l1 2m12 3l-2 1m760 2l1-2m24 14l0 0m-748 16l-1-1m741-5l1-1m-1 8l2 0m12 1l-2 1m-1 4l-1 0m-25 2l2 0m-658-7l0-1m-26 1l-2 1m-9 8l-2 2m732 48l2 2m-627 7l1 2m148-2l1 0m466 14l2 1m-463-1l-2 1m-21 0l1 1m-126-1l0 1m-2-7l-2 0m-9 0l-1 1m-5 5l-2 1m1-7l2 1m-30 14l2-1m26-1l0 2m66-7l-2-2m87 3l-1-2m19 13l2-1m-130 9l2-1m155 10l1-1m164 18l-2 0m-140-3l-2 2m-15 0l1-2m-3-8l0-1m-6 11l1-2m35 15l1 2m138 0l0-2m-5 7l-1 2m-8 0l0 0m-123 2l-2 0m-51-2l1-1m-10 15l-2-2m-432 26l-2 0m442-1l-2 1m7-5l1-2m-470 30l1 1m33-9l2 1m27 6l2 0m402 3l-1 2m3 10l-1-2m-351 2l0-1m-99-6l-2 0m459 9l-2-2m50 3l1 2m-406 12l2-1m-124 22l1 2m-5 9l-2 2m554 18l-1 2m-45 0l-1 0m-342 0l-2 1m-157-4l0-1m154 17l-1-2m362 2l0 1m2-8l2-1m19 8l-2-2m10 10l1 1m-534-1l1-1m-16-1l1-1m23 18l0-1m485 0l0 1m30-7l-1-2m18 8l-1-2m-522 25l-2-1m189-5l2-1m13 9l-2 1m105 0l-2-1m177-2l-1 1m24-7l0-2m-217 23l1-1m-28-4l2 0m-225-2l-1 0m-6-1l1-1m-5 13l0 0m24 29l-1-1m18-1l1 1m18 3l1 1m422 12l1-1m-7-9l2 2m-11 0l2 1m-279 12l2 2m4-1l-2 1m312-1l-2-2m-337 18l-2 0m-95-1l-2 0m-8-7l2 1m587 32l0-2m-43 1l0 2m-10-2l-2 0m-452-7l0 0m-40 4l0 1m-35 1l2-1m-15-7l1 0m537 18l-2 0m62 5l1 2m9-9l1-1m9 0l2-2m-10 20l0 0m-48-2l2-1m-26 1l-1 0m-181 8l1 0m268 5l-1 2m-1 7l0 2m-53 0l1 2m-27-1l0-2m-18-1l0 0m-5 6l-2-2m-161-1l2-1m-9-6l-1-1m186 16l0 0m17 8l-1-1m37-10l1-1m-51 17l1-1m18 14l0-2"/>
<path id="a10" d="M275 131l1 1m-277 13l-2-2m50 5l-1 2m9-2l-2-2m292 19l2-1m45 19l0 0m-310 4l0 1m197 18l-2 0m-222-1l1-1m-56 13l-2-2m94 13l1 0m16-7l-1-1m-49 17l0-1m-30 3l-1-1m-5-4l-1 1m-18 3l0-2m51 8l-1 1m211 3l-2 0m157-1l-2-2m868 14l-2 2m-1151-3l0 2m-3-5l-1 2m-74 1l0 0m-16 0l1 2m-27-2l0 2m67 15l0 1m46-2l-2-2m-33 14l2 0m-49-5l0-1m-5 7l2 1m354 3l1 2m161 13l1-1m-362 6l1-2m-47-4l2 1m-10 6l-2-1m18 2l2 2m6 6l2 1m73-8l2-2m42 10l0-1m981-2l-2-1m135 4l-2 2m25 4l0 2m-118-3l2 0m-757 8l2-1m-242 0l-1 2m-63-2l1 1m-44-9l-1 2m-47 5l-1-1m-73 15l-2 0m110-6l2-1m136 2l1 1m1086 2l0 2m-871 2l2 2m-23 9l-1 0m-230-6l0 1m-15 4l-1 1m-66 2l0-2m1177 1l0 0m10 0l-2 2m-31 12l-1 1m-1121 4l0 0m-55 1l-2 0m-51-3l1 2m-71 15l1 2m24-2l-2 0m55-1l2 2m56-10l2 2m2 7l1 2m1170-3l1 2m32-2l2 2m-1149 10l1 2m-213 9l1 1m164-8l-1 2m16 7l0-2m42 11l0 1m-15-1l0-2m-15 4l-2 2m-2-9l-2 0m-30 1l1 1m-66 1l-2-1m51 11l0-1m15-1l-2-1m101 8l-1 0m-2 6l1-1m-49 5l1-1m-129-1l1-2m-66 20l-1 0m81-10l1 2m27-2l0 0m126-1l0 0m-83 12l2 0m-77 9l-1-2m-40-1l-1 0m1 10l-1-1m48 4l2-2m99 6l2-2m-13 6l1 2m-4 3l-2 1m-29 1l1 2m-29-8l-1 1m-16 3l0 2m-106-6l0 0m-27 15l-1-2m76 1l0-1m53 1l-2-2m38 6l1-2m24-1l-1 0m8 0l2 2m37-3l-2 0m2 15l-2 1m-38-1l-2-1m-1-7l2 0m-69 4l2 1m-35-5l1 2m-88 10l-2-2m20 2l2-1m1 9l1-2m48-4l0 1m29 5l2 1m54 0l0-2m17-8l2 2m27 7l-1 0m25-7l-1 2m-2 12l1 2m-62 2l2 0m-6-7l-1-2m-44 10l2 2m-39-3l0-2m-30 6l-2 1m-55-1l-2-1m9 7l0 0m20 5l1 2m49-7l0-1m99-1l-2 0m17-1l2 1m16 0l2 1m23 6l0 2m43-10l-2-1m-86 10l-2 2m-17 6l1 2m-126-3l2 1m-56 3l-1-1m86 5l-2-1m219 4l2-1m940 9l2 0m-38 9l0 0m-958-7l1 0m-214 17l0 2m1291-7l-1-2m91 20l-1 2m-151-6l2 1m-1269 6l0 1m1246 5l1 2m8-8l-1-1m167 11l0 2m-23 0l2 0m-32 6l-2 0m1-6l0 0m-6 7l-2 2m-21 12l-2 0m7 0l-2-1m81 1l2 0m-53 13l0-1m-25 1l-2 2m-1341 10l-2-1m71-3l-1-1m1208-2l1 1m9 6l0 1m11-5l-2-2m18-4l-1 0m68 6l0 2m24 4l2 0m-152 6l-1 2m-2-9l-1-1m-5 9l2-1m-1207 5l0-1m1297 12l-1-1m16-8l-1-1m63 0l-1-2m-49 16l-2 0m-19 2l0-1m-36 5l-1 0m-10-3l-1-2m-1273 2l0-2m-17 11l1 2m1262-4l1 2m50 4l-2 2m6 2l0 2m71-12l2-1m1 8l-2 2m8 7l2-1m-10-2l0-2m-31 7l2 0m-7 1l-1 2m-20-8l-2-2m-57 8l-1 1m-27-1l-1 1m-15 2l-1 0m-1160 2l-2 2m1172 0l0 2m132 5l2 1m20-4l-2-1m20 9l1-2m-43 11l-2-1m-3-9l0 2m-37 0l-2 2m-41 4l-1-1m-26 2l-2 1m-37-9l1 2m49 16l1 0m69 15l2 1m-98-11l2 2m-1180-2l-2 1m-32 3l0 0m-5 41l2 0m19-2l-2-2m4-4l0-1m11 0l-2 2m1231-4l-2-2m47 20l2 2m-29-2l-1-1m-1259 14l0 1m1279 7l-1 2m-37-3l0 0m-1249 8l2 1m1246 7l0 1m-1188 15l0 0m21 20l1 1m-9-5l-2 2m-61 11l1-1m89 1l0 0m1127 20l1 2m-16-3l0-1m-1123-3l-1-1m19 11l-2 0m371 7l1 0m716-10l2 1m25-1l2-1m-17 22l-1 0m-1131-5l1 0m311 15l-1-1m-242 10l1 1m45 12l0-1m5 7l1 2m988-13l0 1m108 3l1-1m61 5l-2-1m-149 6l0 2m-27 0l1-1m-946-3l1 2m-235 20l-1-1m1-7l-1 0m222 2l-2 1m941 5l1 2m80-3l-2 0m90 8l-1-2m-103 7l2 1m-35 9l-1 0m22-6l-1-2m6 10l1-1m28-2l1 1m16 0l0-2m85 2l1 1m-162 5l-1-2m-1151 13l2-1m1014 1l-2 0m7 8l-1 2m112-9l-1 1m24-1l0 1m10-1l-1 0m44 0l1 0m26-1l-2-1m103 23l2 2m-30-5l-1-1m-2-6l-2 2m-24 1l2 2m-78-6l1-1m-76 7l-1-1m-24-1l1 0m-87 4l2 2m-973 6l0 2m975-4l-2 1m49 2l-2 2m56-2l-2 0m24 3l1-1m72-6l-2-1m37 9l2-2m42-5l0 0m0 15l0 2m-72-1l-2 2m-19-3l0-1m-27 6l2 0m-22-4l1 1m-43-7l-1 0m-14 7l2-2m-1042 8l0 1m970 3l0-1m5-3l-1-2m7 7l2-2m197 3l2-1m16 2l1 2m12-4l-1 2m11-2l0-1m28 6l0-1m-313 4l-2-1"/>
<path id="a11" d="M177 11l2 1m82-8l2 1m0 4l-1 2m43-10l0-2m7 4l2 2m6-3l-1-2m9 7l0 0m24 0l2 0m14 1l-2-2m30-5l0-1m4 9l0-1m2-6l0 1m18 7l1-1m7 2l0 2m27-9l-2 0m5 3l1-1m65-3l0-2m10 0l-1 1m12 7l0 2m21 10l-1-2m-31-5l-2-2m-10 11l-2 0m-14-2l0-1m-57-3l-1 1m-35 2l2-2m-52-1l1 2m-9-1l1-2m-3 7l1 2m-18-3l2-1m-43-4l2 2m-65 11l-2 2m37-4l-2-2m5 7l-2 2m38-4l-1 1m29-2l2 0m4-2l2 1m18 5l0 2m14-5l-2 1m38-1l0 2m6-4l1-1m6 7l1 0m0-6l1 2m10 3l-1-1m13 1l-1 1m1-7l-1 0m16 1l-1 2m40-1l-1-2m9 0l-2 2m6 5l1-2m9 2l1-1m8-4l-2 0m11 1l1 2m46 2l2-2m2 8l-1 0m-10 4l-1-2m-28-1l1 0m-13 4l-2-1m-12-4l-1 1m-65 5l-2-2m-6 2l-1 0m-3-3l2 2m-48-2l0-2m-5 2l2 1m-68 3l0 1m-11-9l2-2m-42 3l0 1m-21 3l-2 1m-45-6l0 1m-24 0l1 0m-62 11l2 1m50-4l-2 2m46 2l1 1m101 0l-1-1m16 2l-2 0m7-5l-2-1m59 6l2-1m31 6l-1 1m2-10l-2-2m31 5l0-1m63-4l-2 0m17 8l1 1m15-4l0 2m69-1l0 1m10 1l-1-2m42 12l-2 0m-27 4l-1-2m-15-1l-2-2m-72 4l2-1m-18-7l-2 0m-6 1l1 2m-53 2l0-1m-51 2l1-2m-6-3l1-2m-5 9l1 1m-36-9l2-2m-13 1l0 0m-5 5l-2 0m-8 3l-2 2m1-11l2 0m-10 3l0-1m-3 4l0 1m-7-4l1-2m-5 9l-2 2m-7-11l1 1m-6 5l0-2m-26-3l1 0m-22-2l-1 0m-7 3l2 1m-31 0l-1 2m-150 2l-2 2m-52 10l1 1m45 1l2 0m0-7l-1 0m72 1l-2-2m43 10l2 0m29-9l1 2m32 3l1 0m32 0l2-1m18-5l1 2m41 5l-2 2m5-7l1 0m6 4l1 0m22-4l0 1m6 4l2-2m15-5l-2 1m18 1l1 1m9 6l-1 1m67-9l0 2m7 7l1-2m42-8l-2 2m20 0l-2-2m31 7l0 0m18-5l0-2m23 8l2-1m16 1l1 0m34 2l0 2m-14 3l1-2m-5-2l-1 0m-53 4l-2-1m-12-3l0 1m-5 6l0 1m-14-7l0-2m-28 7l2 0m-27 0l1-2m-73-4l-2-2m-119 5l-1 1m-42 1l-2-1m-20 4l0 2m-101 1l-2-2m-17-2l2 0m-122-5l0-1m-26 2l-2 2m28 7l2 2m1 4l-1 0m34 4l-1 1m15 0l-2 0m15-8l0 0m82 3l1-1m93 0l1 2m13-2l2-2m32 7l-1 2m13-8l1 2m21-2l1 2m11-6l-1-2m43 7l-2-1m25 1l-2 2m93 1l1 1m36-6l2 2m64 4l-2 1m27-3l1 2m5-2l-2-1m10-3l0 2m3 4l2-2m0-7l0 2m34 14l1-2m-8 0l-2 2m-38 4l-2-2m-32 3l0 1m-59-7l1 2m-22 1l-1 0m-20 0l0-2m-8 5l0-2m-34-1l-2 0m-36-6l2-1m-23 2l2 0m-18 0l2 2m-18-3l2 0m-5 7l0-1m-17 1l-2-1m-2 4l1 2m-7-13l-1 1m-11 6l-2-1m-19 1l-2 0m-14 1l2-1m-311 8l0 0m84 6l1-1m24-6l-2-2m149 11l0-2m66-8l2-2m6 13l-1 0m27-6l-1 1m5-1l1 1m-1-6l1 1m8 5l0 1m4-8l0-2m117 8l-1 1m31-2l2 0m83 0l2-1m-2-2l2-1m24 6l1 0m30 1l1-1m3-6l-1-2m36 15l-2 1m-19 7l-2 0m-27-7l-1 1m-36-1l0 1m-2 5l-2 2m-42-2l-1 0m-5-1l-2-1m-36-4l-2-1m-22 7l1-2m-20-4l-2-2m-7-1l0 0m-18 7l-2 1m-19-7l-1 2m-3 4l-2-2m-3 5l1 2m-4-8l2 0m-15 3l2 2m-21-8l0-2m-37 4l-1-1m-6 1l0-2m-10 3l0-1m-17 5l1 0m-43-1l1-2m-24 1l-1 1m-102-3l1 1m-46 7l2 0m-8-6l-2 2m-22 5l0-1m44 8l0 2m45-7l-1-2m140 11l1-2m30-2l-2-2m2-5l-2 1m23 8l2 2m15-10l2 0m-2 10l1-2m5 0l-1-1m55 2l2 0m8-7l1 0m9-2l2 0m4 0l-1 1m2 7l-2 1m23-5l0-2m32-2l0 1m31 5l0-1m48-5l-1-1m15 2l0-1m45 4l1 0m1 6l-1 2m35-4l0 1m15-5l-2 0m215 5l-1-2m-113 7l-2 2m-116 3l2-1m-128-4l1 2m-31-1l2-2m-33 2l-2 0m-4 0l-1 1m-12 4l2 2m-34-2l-1 0m-7-1l0 0m-15 0l-2-1m-47-5l0-2m-20 4l-2-1m-24-4l2-2m-200 3l0-2m-51 21l-2-2m90 3l2-1m228 3l2-1m8-4l1 0m13-2l-2 1m20 0l1-1m30-4l-1 1m156 10l0 1m21-11l0 1m2 7l2 0m132 0l0-1m140-2l0 1m306 8l0 2m-300-2l2 0m-216 8l0 0m-3-7l2-1m-6 6l-2 0m-11-4l2 2m-54-5l0-1m-9 2l-2 2m-37-3l0 2m-10 7l0 0m-7-10l-2 1m-20 0l0 2m-9 7l-1 2m-19-7l-1-1m-3 3l1 2m-12-1l2 2m-56-3l-1-1m-21 1l2 1m-15 0l-2-2m-2 5l-2-2m-113-8l-1-2m-130 2l-2-1m-54 10l-1 0m14 5l-2 2m5-5l2 1m257 2l1 2m23 4l2 1m33-3l1 1m76 0l0-1m74-5l2 2m2 4l0 2m3-9l2 0m195 4l2 1m24-4l2 0m86 7l2 0m30-4l0 1m282-4l-2-2m-41 18l2 0m-235-5l0-1m-12 6l-2-2m-79 5l-2-2m-14-1l-2 1m-241 2l1-1m-19-5l-1-2m-10 0l-1-2m-9 9l1-2m-7-4l-2 0m-30 5l0-1m-238 2l1-1m-103-3l0 2m-16 1l1 1m-28 2l2 1m-19-2l-1-2m280 14l1 1m8-8l1-2m4 10l0-1m29 2l-1-2m10 0l0 0m5-7l2 1m4-2l2 1m37 1l0-2m22 2l2-2m4 8l-1 1m13-7l-2 1m19 4l0-1m9 1l0 2m5 0l-2-1m70 0l0 2m102-7l2-1m33-2l1 2m56 7l2-2m53-5l1-1m252 14l2-1m-172 1l2 0m-77-1l-2 1m-82-5l-1 2m-104-2l1 1m-46 3l2 2m-90-2l-2-2m1 8l0 0m-45-3l0 0m-34 5l-1 1m-7-9l0 1m-14-4l1 0m-47 8l-2-1m1-4l-2 1m-2 4l0 0m-106-2l1-2m-133-2l-1-1m-49 8l0 0m259 6l1 1m30 2l-1-1m8-1l-1-2m5-2l2-2m5 12l-1 1m28-6l0-2m66-2l0 2m27 1l-2-1m84-1l0 1m5-2l2 1m268 4l-2 2m38 2l-1 2m8-4l-2 2m16-9l-1 2m221 4l-1 0m-64 9l2 2m-543 1l0 1m-13-1l-1-1m-95-4l-1 1m-4-2l2 1m-15 2l0-1m-14 3l-1-2m-6 2l-1-1m-11-3l-2 1m-283 6l2-2m283 7l2 1m2 7l2 0m12-1l1-1m4 0l2 0m19-8l-2 0m129 5l0 1m68-2l0 0m128 5l0 2m320-10l-2-2m157 21l-2 1m-83-4l-2 0m-23 1l2 0m-222 2l-1 2m-125-10l-2 2m-18 8l2 1m-194-9l0 0m-28 8l2-1m-135-9l-2-2m430 21l-2 2m129-5l2-2m15 4l0-2m176-2l-1 0m88 2l-2 0m-210 13l0 2m-173 1l0 1m-17-9l2 1m-98-1l-2 2m-95-1l1 1m-40 0l-1 2m-7 2l-1 1m-34 14l-2 1m128-5l-1-2m54 3l-1 0m89 2l0-1m85-4l-2 0m372 8l-2 0m-196 4l0 0m-49-3l0 0m-57 4l2-1m-25-3l0 2m-315-3l1 0m-17 8l-1 1m41 6l-2 1m142-3l2 0m141 0l-1 2m222 13l2-1m-9 7l1-1m-99-9l-2 0m-39 9l-2-2m-126-7l-2-2m-19 5l1 0m-208 0l1-1m-176 9l-1 2m-237 5l1 1m39-1l-1-2m5 8l0-1m169-5l-1-2m248-2l1 0m11 7l2-2m66 3l1 2m17-3l0 1m15-8l2 0m62 7l1 0m266-3l-1 0m14-6l1 2m0 8l2 0m23-5l-2 1m14 3l1-1m13 3l0-1m43 9l2 0m-26 4l0 0m-12-7l0-1m-16 2l-1-1m-9 3l-1 1m-5-1l2 1m-61-1l-2 2m-50-1l-1 1m-242 2l0-2m-29-3l-2-1m-6 0l2-2m-3 7l-1-1m-32-7l0-2m-70 12l1-1m-70-6l2-1m-40 6l-1-2m-87-4l-1-2m-224-1l-1-1m-1 11l2-1m-12-5l0 2m-6-3l-1 2m206 14l0-2m165 3l-2-1m226-1l1 1m101-2l1-2m129 1l-2 2m94 1l0 1m31-1l-1 2m18-2l-1-1m7-2l0 2m4 2l-1-1m13-3l-2 2m5-5l-1 2m10 2l-2 2m9-2l-1 2m1 3l-1 0m1-9l-2-1m34 8l0-2m-25 12l0-2m-1-4l0 1m-6 4l-1 1m-4 0l2 0m-7-4l2 1m-11-4l2 2m-35 6l-1 1m-10-7l0 1m-43-3l-1 1m-162 2l-1-2m-36 1l0 0m-76 2l2-1m-130-3l2-1m-60 13l1 1m-74-12l2 1m-15 9l0-1m-42-2l-2 2m-267-7l1-1m-60 5l-2 0m30 6l-2 2m25-2l2 1m2 7l0 0m7 0l1 2m7 0l2 1m151-2l-1-1m79 1l0-1m82-5l0 0m8 3l-2 2m51 3l2-1m88-6l0 1m68-3l1-1m14 8l-2 0m151-3l-2-2m161 4l1 2m46-7l1 0m48-1l-1-2m4 9l2-2m13-1l2-1m8-5l0-1m7 1l2 2m4-2l0 2m19 2l-1-2m5 5l-1 1m16 0l-2 2m17 3l1 0m-16 4l1 0m-5-4l2-1m-17 1l-1-1m-5 8l-1-2m-7 3l2-2m-31 0l-2 0m-12-3l-2 2m-4-5l0-1m-43 8l1 0m-43-1l-2 0m-184-5l1 0m-102 4l1-2m-294 4l2-2m-43 2l-1-1m-17 2l0 1m-225-5l0 0m-20 5l-1-1m-12 12l0-2m38-5l2 0m4 9l0 2m117-3l-2 2m379-8l-2 2m83 2l-2-2m41-6l0 2m78 1l0 2m30 4l-1 2m67-4l1-2m89 0l-1-2m12 7l2 2m2-7l0 1m17 0l-1 0m15-2l1-1m16-4l0 2m21 4l0 2m8-3l2-2m13 1l1 0m5 0l-1 2m39-1l2 0m3 5l1-1m0-4l2 2m-48 16l2-2m-75-5l2-1m-42-2l1 1m-32-1l-1-1m-112 6l2-2m-63 3l0-2m-314 1l-1-2m-106 1l-2-2m-24 2l-2-2m-19 2l1 2m-10 1l-1-1m-11-3l0 0m-155 4l2 1m-11-4l2-1m-14 7l2 0m-5-7l-2 0m-10-4l-1 0m-19 5l2-1m-12-3l2-1m-16 1l-1-2m-17 13l-1-1m47 8l0 1m2-5l0 0m66 5l2 2m133-7l-2 2m29-1l0 2m171-4l-1 2m31 6l-2 0m156-9l1-2m15 3l-2-1m84 3l-1 0m52 6l2 0m197-3l2 1m0-7l0-1m19 7l2-2m3-4l1 1m2 6l0 0m25 0l-1 1m14-7l0-2m9 9l2 2m6-6l-1-2m17 2l2 1m7 1l1 0m22 8l0 0m-18 7l2-2m-23 1l-2 0m-17 1l-1 0m-20-2l-1-1m-22 2l-2 2m1-8l1 2m-25-2l0 1m-36 6l1-1m-4-6l2 1m-7 4l0 0m-6 1l1 1m-90-5l2 2m-94 4l0 1m-5-6l1-2m-155 0l2 2m-201-1l0 0m-66 2l-2-1m-78-3l-1 2m-103-2l-2 1m-34-3l-2 0m-4 1l-1 2m-3 5l-2-1m-37 3l2-1m-47-2l0-2m-14 3l-2-2m13 12l-2 0m11 3l-2 0m7-8l2 2m23 4l-2 1m29-6l-1 0m19-1l-2-1m173 8l-2 2m219-1l0 2m43-6l2-2m51-2l-1 1m29-1l0 2m74-4l-2 1m105 8l-2 1m136-2l-2 2m14-8l0 0m3 7l-2 0m47 1l0-2m18-5l2 1m4 5l-1 2m21-1l0-2m5-6l2-2m2 8l2 2m18-8l-1 2m45-1l0 0m16 0l2 2m1 3l0-1m-10 8l1-2m-14 4l1-2m-13 2l2 2m-29-4l-2-1m-22 2l2-2m-9 3l-2 2m-18 4l0-2m-33-3l2 2m-35-5l-2 0m-163 2l0 0m-35-2l-2 2m-34 0l-1 2m-188-6l1-1m-30 9l2 2m-108-3l-1 1m-21 1l-2-2m-80-3l2 0m-153 3l2 1m-22-6l-2 2m-5-3l2-2m-4 11l-2 2m-9-1l0-1m-8-6l-1 2m-24-2l2 0m-17 0l2-2m-35 9l-1 2m-15-3l-1 1m17 11l2 0m63 1l0 2m154-6l2-1m49-2l1 1m36-2l0 1m76 3l-2 0m109-8l-1 1m45 10l-2-1m13-6l2-2m27 2l2-1m49 4l-2 1m108 3l-2-1m112 1l2 2m6-8l0 2m104-1l1-1m20-2l-1 0m17 1l-2 0m17 3l1 0m32 4l2 0m42-8l-1-2m16 3l-2-2m-21 16l2-2m-26 5l-2 0m-5-2l2 1m-22-7l2-1m-3 9l-1 2m-8-6l0 2m-18-5l2-1m-9 7l-2 2m-12-8l-1 1m0 9l-2 1m-33-4l-2 2m-5-4l-1 2m-207-6l2 1m-102 4l-2-2m-7 1l-1-2m-57 3l0-1m-276 0l-2 1m-9-6l1 2m-8 5l1-1m-66-6l-1 2m-22-2l1-1m-102 7l-1 2m-14-8l0-1m-2 3l1-2m-24 3l2-2m-24 16l0 0m19-6l-2 1m12 8l1 0m56-5l1-1m360 1l-2-2m72 8l1 1m321-9l-2 2m129 4l-2-2m20-4l-2 1m28 5l-1-2m12-4l0-2m14 1l-1 2m7 3l0-1m3-4l-2 0m27 7l-1 2m7-9l2-1m9 8l0-2m9 1l2 0m0-7l0 1m4 4l-2-1m7 7l0 1m-3 10l1-1m-13-9l0-2m-22 8l1 1m-2-5l1-2m-61-1l-2-2m-9 12l2-1m-50-2l-1 1m-751-2l-1 0m-65-4l-1 2m-17-3l2-1m-58 2l-2-2m-24 7l1-2m-4-4l1 2m-5 8l-1 1m-3-9l0-1m-23-1l-2-1m9 13l-2 0m37 7l0 1m12-4l-1 2m12 4l2 1m220-8l2-1m54-2l-1 2m148 9l2-1m82-8l0-2m169 0l1 1m39 8l1-2m66-5l1 0m79 8l1-1m129 1l-1 1m13-2l2 2m13-10l0 1m7 0l1 1m-8 17l2 1m-27-5l1 2m-10-3l0-1m-64 7l-2 1m-18 1l-2 0m-1-8l1 0m-581 2l-1 1m-34 0l-1 1m-200-4l2 1m-94-2l0-1m-5 3l1 2m-29 5l2-1m-200 12l-2-1m7-4l2 0m6-2l-2-2m269 6l-1 2m285-8l-1 2m73 3l-2-1m117-3l1 0m126-2l1-1m123 1l1 2m60 8l1 2m95-6l0-2m9 2l-1-2m42 6l-2 2m6-7l-2 1m19 0l-2-1m2 4l-2-1m13-1l0 2m4-9l1-2m3 5l1 2m15-2l0-1m11 17l2 2m-25-10l-1 0m-10 8l-1-2m-77-5l2-2m-9 6l1-1m-12 3l-2 0m-15 1l-2 1m-140 3l0 1m-252-3l-2 2m-8-7l-2 2m-97 4l-1-1m-89-7l0-1m-189 1l1-1m-124 4l2 0m-183 4l-1 0m-8 7l2-1m52-2l1 2m37 0l-2-1m216 1l0 0m399 2l-1 0m252 0l2 1m7 1l-2-1m61 1l-1 0m106-7l-1 1m7 0l0-1m19 9l1 1m4-8l-2 0m31 5l0-2m-51 8l-1-1m-8 2l-2 1m-181 4l-2 0m-212 0l1 1m-35 0l2 0m-53-1l0 2m-73-3l2-1m-109 5l-1-1m-168-8l-2 1m-32 5l2 2m-14-3l-2 2m-1-7l0 2m-94 2l-1 1m-104-1l0 2m-82 0l0 0m24 13l2 1m13-6l1-1m9 2l-2-1m94 7l2 2m119-8l0 0m100 7l2 1m1-8l0-1m343 7l-1 0m-4 11l1 0m-44-6l2-2m-57 5l-2-1m-197-4l1 2m-94 2l-2-2m-79 3l1-1m-66 5l0-1m-66-4l2-1m-112-5l-2-1m-4 8l1-2m2 12l1-1m32 8l0 0m8-8l-1 0m14 1l-1 0m222 6l1-1m5-8l-2-1m107 7l2 1m60 1l-1-1m14-5l0-1m245 7l-1 0m48-5l0 2m92-5l-2 0m71-1l-1-1m-192 24l2-2m-116-4l-2 1m-43 1l0-2m-143 2l-2-1m-52-1l-2 2m-316-1l-1 1m-8-3l-1 2m-33 16l2-1m160-9l1-2m174 9l1 2m56-7l0 1m32 0l1-2m43 1l2 0m13 0l1 2m51-1l1-2m187 6l0 0m26-5l-2-2m62 8l2-2m3 0l2 1m41 2l-1 0m32-7l0 1m43 6l-1-1m145 14l-1-2m-19-2l0-2m-393-2l0 2m-13-1l-1 2m-178-2l1 1m-48 2l-2-1m-135 0l0 2m-134-3l-2-1m-24 3l2-1m-18 5l2 1m-8-6l-2 2m-88 6l-2-2m257 5l0-2m95 4l0-2m118 0l-2-2m59-1l-1 1m126 1l0 1m7 1l1 2m1 2l-2-2m21-2l0 2m26-3l2 2m83 15l-2 2m-22-2l-1-1m-114-4l0-2m-7 8l-1 2m-6-9l-1-1m-48 0l-1 0m-54 9l-1 1m-33-10l0-2m-92 2l-1 2m-76 0l-1-2m-27-2l-2 2m-77 0l-1-2m-26 11l1-1m-112-6l1-2m-51 18l0 0m26 2l0-1m26-3l1 1m29 1l0 0m75-4l0 0m152-5l-2 2m40 5l2-1m58 2l2 2m93-6l0 1m117-3l1 1m212 0l2 0m45 6l-1-1m-267 5l-2 0m-235 9l1-1m-168-8l2-2m-26 9l-1-1m-238 0l1 1m-8 6l-1 1m51 6l0 2m17-10l2 1m116 7l2 1m8-7l2 0m9 6l0-2m4-6l-1-1m11 9l2 2m2-9l0 1m5 5l1 2m5-3l1 1m23 0l1-1m17 4l-1 2m153-9l-2 0m91 2l1-1m224 5l-1 2m18-9l1-1m257 17l0-2m-54 7l-1-2m-274-3l-2-1m-91 2l2 2m-310-7l1 1m-13 7l-1-2m-11-5l0-2m-8 2l1 2m-26-4l1 0m-21 0l1 2m-11 0l0 2m-13-2l-2-2m-1 7l0-2m-183-4l1-2m-19 17l-2 0m43-6l0-2m12 11l-2 1m6-8l2-2m86 1l-2 2m74 0l-1 2m12-1l-1-2m66 5l-1-1m62-5l1-2m62 4l2 2m95 4l1-1m232 2l2 1m83-1l1 0m71-1l-1 2m135-9l0 1m9-1l-1 1m43 18l-2 1m-7 0l2 2m-19-6l0-1m-231 1l0 0m-236 0l-2 2m-67-4l1 1m-58 2l0-2m-258 0l2-2m-234 9l-2-2m25 10l1 2m20-1l2 1m277-4l2 0m92-5l0 2m111 0l2-1m33 1l2 0m68 4l1 1m60 1l-2 1m110-7l1-2m5 9l-1-1m87 0l0-1m157 0l2-1m59 0l0 2m7 6l0 1m-276 5l2-1m-8-2l0-1m-13 5l2 1m-284-8l1 0m-31 1l2-1m-75 1l-2 0m-106 4l1 0m-4-7l0 1m-14 7l-2 1m-38-10l-2 2m-5 7l2 2m-13-8l1 2m-10 3l1 0m-191-7l0 1m-40 15l-2-2m57 5l-2-2m31-3l2 1m51-2l-1 1m88-1l2 0m24 1l0-1m34 7l-1 1m5-5l1 2m1 3l-2-2m4-3l2-2m9 5l1 1m23 0l0-2m13-2l0 2m135-1l0 1m11 1l1 0m440 3l0 1m46-3l0 1m132 4l0 0m-8-2l-1-2m-113 10l0 0m-72-6l-1-2m-28 0l1 1m-27 8l0 1m-11-2l1-1m-45 2l0-2m-14-3l0 2m-213-4l1 1m-67 6l0-1m-17 4l2-1m-143-1l-1-2m-1-5l-2 2m-20 7l-2 1m-7-8l-2 2m-13-2l-1 1m-33 3l-1-1m-17-5l2 0m-222 4l1 0m16 16l-2 2m211-7l-2 1m32-2l1 0m4-4l1-1m14 11l-2-1m39 0l-1 2m15-5l-2-1m279-1l-1 1m26-3l1 2m6 5l-1-1m429-5l1 0m47 17l-1 0m-2-6l1 1m-83-1l-2 2m-21 4l2 2m-209 0l-1-2m-203-7l0 1m-7 5l-1-1m-220-1l-1 1m-22-2l0-1m-27 0l2-1m-13 2l-1 1m-14 0l-1 2m-13 3l0-1m-26-5l-1 0m-94 6l-2-2m-138-1l2 0m-11 3l-1-2m125 6l2-2m135 0l-2 2m33-2l0 0m12 7l-2-1m56 2l1 0m16-1l-2 2m6-4l-2 2m165 4l1 1m3-5l2 2m47-6l0-1m261-3l2 2m227 20l0 0m-26-10l0 1m-1 9l-2-1m-42 1l1-2m-107 2l1 2m-348-8l2-2m-178 2l-2 1m-16 3l-2 2m-37-1l-1-2m-11-4l0 1m-14-2l2 2m-207-1l2 0m-100-1l-1 2m-11 4l0-2m295 14l1 2m25-7l1-2m2 7l0 0m85 0l0 2m74-8l0 0m3 7l2 2m7-9l-2 1m23 0l-2 0m152 6l0-1m22 1l0 0m331-6l-2-1m22 4l-1 0m30 16l1-1m-10-2l-2 0m-8-1l0 0m-26 1l0 1m0-7l0-1m-263 3l1-2m-348 3l0 1m-66 5l0 2m-25-9l-1 2m-20 4l1 1m-86 2l1 1m-5-6l2-1m-92-3l-1 2m-3 5l-1 0m171 2l0 1m23-1l1 0m9 4l0 1m23-1l0-1m14 0l1-1m16 3l-1 1m62-4l-1 0m29 5l-2 1m205-7l-2-2m33 9l0 0m168 1l-2 1m89-9l0-1m3 10l2-1m113-3l2-1m14 14l2 0m-30-2l2-2m-78 4l1-2m-160 0l-2 2m-212-2l1 2m-228-1l0 2m-12-6l-1 0m-198 0l1-2m147 20l-2-2m21-4l-2-2m36 2l2-1m284 7l0 2m9-3l0 0m256-4l1 2m17 7l-2-2m16 1l-1-1m56-7l2 1m74 9l0-1m-362 1l2-2m-75 11l-1-2m-40-7l0-2m-51 2l-1 2m0 6l1 0m-7-7l0-2m-22 7l-2-2m-219-4l0 0m-111 9l1 2m-249 3l0-2m5 7l2 1m126 0l1 2m419-1l-1-1m57-4l-2 2m375-5l0 0m36 2l-2 0m6 4l2-2m15-4l-1 1m92-1l0-1m6 19l2 1m-48-9l1 1m-69 4l0 2m-205-2l2-1m-165 1l-2 2m-119-1l-1 0m-18 0l-2-1m-181-1l2 1m-240-2l-2 2m-29 0l2 1m-6 5l-2-1m-11-1l0 1m-8 2l2 2m-29-7l0 2m108 8l-2 1m11 5l1-1m318 1l-1-2m223-8l-1 1m7 1l-2-1m177 0l2-2m147 4l-1 1m16-1l0-1m8 8l2 1m22-9l-2 0m38 5l2-1m-280 9l2 2m-199 2l2-1m-4 5l1-2m-18-3l2-1m-89 6l2-1m-17-8l-1-1m-1-2l0 2m-335 3l0-1m-53-3l1 0m-17 5l1 1m-19-1l0 0m-12 0l-2-1m-16 3l2-1m-8 2l-1-2m-10-5l0 1m-3 3l1-1m3 10l2-2m13 7l0 1m12-5l-2 2m22 3l1-2m3-5l1-2m2 10l0-1m15-5l0 0m3 4l-1 1m16-1l2 2m-1-8l1 0m4 7l-1-2m13-7l-2-2m8 3l-1-2m20 11l0 1m9-4l2-1m4 1l-1-1m327 1l-2 1m63 1l1 0m98-1l-1-2m20 5l0-1m52-2l2 2m80-9l1-2m316 23l1 0m-143-8l-1-2m-159 10l1 0m-153-4l-1 2m-10-2l0-1m-84 0l0 2m-198-2l2-1m-6 6l2-1m-79 2l-2-1m-108-1l-1 1m-17-2l1-1m-12-3l-2 1m-4-1l1 1m-28 5l-2-2m-14 1l0 2m-30-1l-2-1m-26-6l2-1m-18 5l-2 1m-18-4l2 0m-11-1l1 0m27 17l0-2m20-1l-2-1m15 2l2 2m35-5l-1 1m77-2l0 0m51 2l-1 0m135-3l-2-1m142 8l-2 1m39-4l-2 0m441 1l2 0m53-4l0-1m-28 13l-2 2m-23-3l1 0m-157 8l0 1m-80-1l1-2m-10 1l-2 0m-225-8l1 1m-24 0l-2 1m-47 9l1-2m-29-8l-1 2m-95-1l1 2m-8 6l1 2m-27-11l-2 0m-33 10l-2-2m-92 1l1-2m-8-7l-1 2m-34 1l1 0m-10 6l-1 1m-32 0l2-1m-2-7l1 1m-4 6l0 0m-12 1l0 0m-4 3l2-1m14 11l-2-1m4-4l1 0m27 4l-2-1m13-3l-2-2m24 0l-1-2m248 4l-1 2m16-3l0 0m92 6l2-2m95-7l1-2m420 3l-2-2m62 4l0 0m29-5l-1-1m-126 13l-2 0m-99 7l2 2m-40-3l-1 0m-21 2l-1 1m-208-9l0-2m-4 8l2-2m-87 0l2-1m-104-2l1-1m-19 8l2-2m-18 1l2-1m-176-5l-1 2m-13 5l0 2m-22-4l-1 0m-27-5l1 0m-47 4l-1 1m-2-6l-2-1m78 15l1 2m3 2l0-2m17-3l2-1m21 1l0 1m5 5l0 1m182-5l2 1m197-2l-2 0m2 5l-1-2m360-4l1 0m24 17l-1 2m-50-4l-1 2m-203-1l-2 1m-467-1l-2-1m-46-2l2 0m-19 7l0 1m-4-9l0-2m-23 5l0-1m-6 7l2 0m-5-9l0-1m-9 7l-1 1m-37 2l-1 0m-13-6l2 2m-2 1l2 0m-25-5l-1 2m-63 12l-2-2m104 1l1-1m4 8l2 2m61-8l1 1m115 5l0 1m63-10l1 2m58 7l1 2m58-2l1 1m39-9l2 0m55-2l2-1m45 10l1-1m214 2l-2 0m61-7l1 2m94-5l0 2m173 6l-2 2m41 4l-2-1m-98 0l2-1m-42-1l2 1m-241 2l1 0m-100 3l-1 1m-156-4l0 2m-102-3l2 1m-14 9l1-2m-9-6l-2-1m-99 3l2 2m-69-6l-2-1m-14 11l-2 1m-125-1l1-2m0 11l-1 2m28-11l-2 0m168 8l2-1m22 2l0 0m51-1l1 0m109-8l0 0m6 3l-1-1m138-1l1 1m65 5l1 2m20-7l0 1m57 3l1 0m93 1l0-1m221 1l1 1"/>
<path id="a12" d="M1285 31l-1-2m73 2l2 1m-35 6l1 0m-25 7l0 1m-25 0l1 1m-10-3l0-1m-10-3l1 1m28 19l-2 0m6-6l-1-2m114-2l-2-1m-128 12l-2-1m-2 11l0-2m-3-1l1 2m-66-2l0 0m-6-3l0 1m-392 12l-2-2m394-4l-1 1m2 6l-1-1m148 4l2-1m17 2l1-1m20-8l0 1m35-2l-2-2m-67 13l1-1m-175 6l2-2m-22 0l-2-2m-1 10l0-1m-26-4l0-1m-17 4l0 2m-29-1l-2 0m-63-6l1-1m-220 3l2 0m-74 0l-1 2m-8 3l-2-2m1 10l-2 1m50-2l-1 2m37 2l1-2m18-1l0-2m19 3l-2 0m214 1l1 1m18-4l1 1m40 4l-1-1m107-3l2 2m71-9l-1-2m41 12l-1 0m29 0l0-1m47-1l2 2m-60 13l-1-2m-36-4l1 2m-220-4l2-2m-24 10l-1-1m-112-4l2-1m-67 5l2-2m-37-1l-1-1m-80 4l-2 1m-6-8l-1-2m-36 21l2 2m16-4l-2-1m29 0l0 1m15-8l-1-2m25 10l2 1m19-1l-2 1m8-9l2 0m4 9l-2 1m9-3l-2 0m4-4l0-1m111 7l1-2m34-5l1 0m79 0l1-2m181 7l1 2m7-9l-1 1m-130 16l-2 0m-28 6l-2-1m-208-6l2-2m-62 4l1-1m-22 0l-2 2m-54 1l2 0m-21-2l2 2m-22-3l1-1m-11 2l0 2m-452 2l1 2m-49 8l0 0m5-7l1-2m37 3l-2-2m480 1l2-1m3 10l2-2m24-6l-1 0m33 6l0 1m5-7l2 0m183 6l-1-2m9 2l2 0m25 1l-1-1m73-6l1 1m11 3l2-2m220 6l0 0m4-7l2-2m79 5l2 0m-2 7l1-1m-86 12l-2 1m-169-8l2 2m-88 4l1 0m-841 1l2-1m738 1l2-1m82 11l-1 0m306 7l1-1m-21-3l-2-2m-248 10l1 0m-47 0l-1 2m-1-9l0 1m-38 1l0-1m-763 14l1-2m1070 4l1 1m54-2l1 2m52 12l1 0m-27 2l-2 1m-4-11l0-2m-75 10l-1 1m-9 3l0-2m-222-6l2 0m-822 6l2 2m757 5l1 2m311 4l0-1m32-5l-2 2m47 1l-1 0m-385 6l0 0m-780 18l-2-2m11-2l-1 2m781-1l-2-1m300 1l1 0m14 6l-1-2m37 5l-2 1m-305-1l2-2m-874 19l2 2m1211-3l-2 0m-9 7l-1 0m-339 6l-1-2m-837 3l2-2m27 18l-1-2m82 0l-1-2m10 1l1-2m1027-5l2 0m-972 17l-1 2m-55 1l0-2m-25-2l1-1m-48 3l1-1m1093 26l-2-1m-980 9l2 0m968 13l-1-2"/>
<path id="a13" d="M556 262l-2 1m-28 0l2 1m-10-2l1 0m-30 10l-2 0m39 1l1 1m10-9l-2 1m10-1l-2 2m15 2l1 1m705 3l1 1m8-3l-2-1m-5 15l-1 0m-8 0l2 0m-13 2l-1-2m-10 1l1-2m-3-5l-1-1m-2 10l-1-2m-689-1l0 2m-14-9l2-2m-14 11l0-1m-8-3l-1 0m-11-5l-1 2m-18-2l1 0m-5 7l-1 1m-25 1l2 2m0 5l-1-2m20 3l1-2m22 7l-2 1m17-7l2 2m7-2l1 2m7-4l2 0m0-4l-2 0m18 5l-1 2m12 4l1 1m684-6l-2-2m6 7l-1-2m5-4l0 2m17-3l-1 2m-4 9l2-2m-5 6l1 2m-6-8l2 0m-16 8l1 2m-16-9l2-1m-15 8l1-2m-7 2l2 0m-8-8l-1-1m-4 6l1 2m-661-1l2-1m-17 3l-1 1m-7-7l1-1m-35-2l2-2m-9 11l1-2m-18 2l1-1m-3 8l0 2m8-4l0 0m4 8l-2 1m15-6l2-2m5 7l0 0m2-7l0 2m28-2l-2-1m11 1l-2 0m5 8l-2-2m8-5l0-2m674 4l2 1m17-4l2-1m9 2l2 0m12-3l2 0m15 11l0 0m14-1l-2 1m-2 1l-1 1m-17 3l0 0m-17 1l-1-1m-14 0l-1 2m-6 2l2 1m-31-5l1 0m-670 5l-2-1m-34-4l2 0m-11 3l0 1m-9-1l-2-1m-8 1l1 0m-8 2l0 2m-34 10l0-1m21-4l-2 2m6 1l1 0m20-6l1 1m12 6l-2-1m14 3l1 0m2-9l2-1m15 1l-2 2m674 1l0-1m3 4l2 1m14 0l-1-2m8 5l2-1m7-8l-1-2m15 4l0 2m19-3l0-2m11 3l-1-2m3 5l2-2m10-4l-2-1m9 7l-2-2m-65 13l2 0m-19-1l1 0m-5 6l-1 0m-7-5l2 1m-9-3l-2-2m-667 1l1 0m-11 5l2 0m-79-1l0 0m-17-3l-2 2m-27-1l2 0m-11 6l-2 2m3 6l-2 0m5-7l-1 2m6 6l-2-1m7-7l0 0m5 10l-1 0m32-10l-1 1m23 6l0 0m7-8l0 0m11 10l1-2m719 0l0 0m5-5l0-2m19 1l-2 0m89-1l-2-2m-85 18l-2 2m-4 3l-2 0m-26-6l-2 1m-693 2l-2 1m-12 2l2 0m-32-7l0-2m-48 6l2 2m-4 2l-2 1m-4-8l1 2m19 12l1-1m14 2l1-2m15-4l-1-2m30 11l2 1m23-8l-2 1m12 5l0-1m678 1l0 0m4-8l0-1m14 9l-1-2m23 11l-2 2m-3 3l2 2m-4-9l1-2m-10 3l0-2m-700 9l1-2m-35-1l1 2m-11-1l-1 2m-14-10l0 1m-10 3l1-1m-8 0l0-2m-13 8l2-1m-6-4l0 0m-20 8l2-2m7 8l-2 2m50-8l1-1m43 6l0-1m708-6l-2 1m34 12l2 1m-9 2l2 2m-5 6l-2-1m-722-2l2 0m-16-4l2 1m-7-4l-1-2m-16 10l-2-1m-3-7l-2 0m-38 16l1 0m24 2l2-2m6-2l0-1m37 2l0-2m9 2l0-2m718 3l-2 0m25 10l0 0m-3 6l-1 1m-6 0l2 2m-18-9l0 1m-6 5l1-1m-4-9l-1 0m-469 12l0 1m-11-3l2-2m-13-8l0 2m-7 5l-2-2m0-1l2-1m-228 4l2 1m-16 2l2 0m-2-6l-1 1m-17-2l-2 1m1 3l0 1m-6-7l2 2m-16-1l0-2m297 14l-2 0m501 2l-2 1m9 6l2-2m14 4l1 0m-724 8l1-2m-35 10l-1 0m8 5l1-1m2-8l-1-1m17 6l1 0m10-3l-2 0m22 8l0-1m4-7l1-1m-31 11l-2 0m-14 0l2 2m729 12l1-2m1 10l2 2m9-4l2-1m0-8l1-2m10 5l-1 1m-11 11l2 0m-16 5l2-2m-12 1l2 0m15 16l1 2m7-6l-2-2m12 33l0-2m-8 1l1 2m-12-1l-1 2m-464-3l-2-2m-2 10l2-1m-6-4l0-1m-9 1l-2 2m-100 5l0-1m-59 2l2 1m2 3l1 0m22-4l-1 0m27 4l-2 2m22 0l-2 2m91-2l1 0m51 17l1-2m-35 1l0-2m-6-4l-2-2m-79-1l2 1m-12 8l1 0m-20 1l2 0m-20-1l-2-1m-1-7l-1 0m-6 7l0 2m-9 0l0 2m-4-8l2 0m-8 5l0-2m-2-5l2 1m-30-1l0-1m24 10l-1-2m4 7l2-2m17 1l-1 1m36 2l1 2m152 3l2 0m2-8l1 0m140 0l-1 2m15 6l0 2m7-6l-1-1m4 5l2-2m-4 13l2-2m-19-5l1-2m-6 8l-1-1m-133-8l1 1m-33 8l-2 2m-3 3l-1-1m6 8l0 1m39-6l2 1m8-2l2-2m117 12l-2 0m-128 6l1-2m8 10l-1-2m5 0l2 1m28 15l-1-2m-10 3l1 1m-7-7l1 2m-75 5l2-1m-425 7l-2-2m14 12l-2 2m8-4l0 0m8 0l-2 1m465-11l0 2m12-1l1 1m-451 16l2 0m-16 5l2 1m-7-8l1 1m-7 3l1 0m-39-1l-2 0m-8-1l-2-2m0 8l0-1m31 9l-1-1m3-5l0-2m8 10l-2-1m28-1l-2 1m381 0l-1 2m73-9l2 2m-63 11l-2 2m-364 5l1 0m-16 2l-2 2m-94-7l-1 1m-4 13l2-1m3 1l-2 2m9-10l2 2m1 5l1 0m90-3l0 1m15 2l-1-2m8 0l0 2m4-6l1-1m-9 20l-1 1m-8-5l2-2m-109 6l1-2m-5-5l0-1m-4 10l1-1m1 11l2-2m114 1l2 2m4-3l2 0m4-7l1 1m6 7l2-2m3 3l0 1m0 11l0 2m-5-8l-2-2m-4 3l2 2m-136-3l-1 2m-4 7l0-2m0 5l1 2m7 0l0 1m134-6l-1-2m6 9l2 2m9-5l-1 0m6 1l2-2m357 8l1-2m19-2l1-2m25 14l-1-2m-13 4l-2 2m-9-5l1-1m-7 6l-2 2m-380-3l2-1m-7-3l-1-2m-139-1l-1 0m-6 0l0 1m-20 7l2-1m37 6l-2 1m136 5l1 1m22-5l0-2m342 1l-1-2m17 8l2 2m1-7l-2 2m11-2l0-2m8 0l1 0m14 3l0 1m-25 10l-1-2m-7 6l0 2m-10-6l-1 0m-8 2l-1 1m-341-1l1 1m-8-7l1-1m-10 6l-1 2m-141-3l2-2m-9-4l1 1m3 14l-2-1m9 1l-2 0m20 1l-2 1m131-1l2 0m353-1l2 1m3 7l1-1m3-9l1-1m12 10l0-1m13-6l1 2m-16 16l0-2m-13-1l2-2m-328 2l-1 0m-5-1l0 0m-157 4l1 2m-16-11l-1-2m-7 7l0 2m17 9l0-1m10 1l-1-2m6 1l0 2m4 3l1 1m10 0l-1 1m135-10l-2 2m7 9l-2 0m35-8l-2-2m94 7l-1-2m24-4l-1-1m6 7l-1 0m149 2l0 2m24-1l2 1m-230 12l-1 1m-13-6l2 2m-10 2l1-1m-35-5l-2-2m-181 2l2 0m-11-2l-2 2m12 15l1 1m6-2l-1-1m23-5l-2 1m17 5l1 0m142-7l-2-2m10 4l-1-2m25 2l1 1m8 5l-2 0m23-7l1-2m-224 16l-2-2m8 12l1 1m24 6l-2 2m2-9l1-2m430 18l2 0m-278 4l-1-2m-5 4l-2-2m-5-6l1 1m-165-3l2 2m21 15l1 1m417-6l0-1m-262 15l2-1m-6 6l1 0m-12-1l0-1m-10 5l-2-2m-2-7l-2-1m-5 3l-2-2m-105 0l-2 1m1 4l-2-1m119 11l1 2m2 3l1 2m3-7l2-2m476 19l1-2m-37 2l0-2m-11 2l-2 1m-458-9l1 2m-9-1l2-2m-28 1l1 0m-39 0l1 1m-17 10l-1 1m12 0l2 2m7-1l-1 0m10-1l-1 1m511 0l-2-2m16 2l-2 0m40 8l0-1m-10 8l2-1m-10 3l-1-1m-7-6l0 1m-27 5l-1-1m-10 3l2 2m-13-9l0 2m-16 16l0-1m17-3l-1-2m1 7l0-1m5-7l0-2m20 3l0 2m7-2l2 1m9 2l-1-1m7 0l0-1m4 8l-1-1m12 1l0-1m5-9l1 2m7 1l-1-1m-1 16l1 0m-3-7l-1 2m-15 3l0 1m-7-2l-1 1m-10 2l-2 2m-7-9l2 2m-9 2l0 0m-25 3l-2-2m-167 1l-1-2m-13 2l1-2m-5-3l1-2m3 23l1 1m170-1l-2 1m14-2l-1 2m15-8l1 1m6-3l-1 2m16 8l-1-2m17 0l2 0m21-8l-1 2m-11 12l0 1m-6-1l-2 0m-23 2l0 1m-11-3l-2 2m-2 10l-2 1m10-1l-2 2"/>
<path id="a14" d="M347 11l1-1m95-7l2 2m88 5l-2-2m25 2l1-1m9 1l-2-2m14 8l-1 2m-28 4l-2-1m-7-7l-2 2m-12 1l0 2m-18-3l0-1m-23 0l-2-1m-96 2l1 0m-2 5l1-1m-16-2l2-1m-96 6l2 1m-12-2l2 0m13 8l2-1m12 1l1-1m13 6l-1 1m16-12l-2 0m202 6l2-2m34 5l0 1m7 2l0-2m66 14l0 1m-112-3l1-1m-36 2l0 2m-105-2l-1-1m-7-2l1-1m-5-6l0 2m-20 4l2 2m-54-2l1 0m-11-3l2 2m-5-5l0 2m-6 12l-2 2m87 4l0 2m60-2l-1 1m259 5l0 2m-183 4l-2 2m-162-1l-1 1m-24-1l0 2m-16-11l1 2m-11-2l2 1m19 21l1 1m22-1l-2-2m93 0l-1 0m29 0l-2 1m142-7l-1 2m-57 14l-1 1m-198-3l-2 0m-23 4l2-2m8 11l0-2m173 6l2 2m72-5l2-2m83 17l0 2m-130-8l2-1m-79-3l-2 0m-37 7l-1 1m-78 0l2-2m-17 2l-1-2m-8-1l0-2m35 9l1 2m5 5l1-1m4 3l-1 2m1-10l-1-2m5 3l-2 2m43 2l2 1m19-6l-1 1m50 6l-1-2m21-4l-1 2m36-3l-2 0m40 4l2 1m91 3l-1-1m-54 4l1 1m-141 8l-2 1m-13-8l-2-1m-65 9l1-2m-36 0l2 2m61 8l-1 1m25 2l-2 2m28 1l0-2m53-2l-2 1m21-1l-2-2m96 7l0 0m-109 9l2-1m-85-3l-1 1m-16-1l-1 0m-17 5l-2 1m-10-9l-1-1m-32 1l-1 2m79 15l2 1m35-1l2 0m11 4l0-1m9 1l2 1m13-8l2 1m37 0l-1-2m21 6l-2 0m5-5l1-1m-11 19l2 0m-54 0l2-1m-4-9l-2 0m-2 7l-2-2m-30-4l1 2m-18-3l1 0m32 20l-2-2m52-4l-1-1m38 0l-2 2m17 0l2-2m53 1l2 2m-50 18l-2 0m-117-6l0 2m-44-3l-1 2m55 14l-1 2m13-8l1 2m20 7l0-2m2-7l0 1m17 0l-1 1m6-2l-2 2m29 7l-2 2m28-8l-2 2m24-4l-2-2m-36 17l-2 0m-51-2l2-2m-71 1l2 1m-16 15l0-2m22 1l-1 0m82-5l-1 1m34 2l2-1m14 2l-2-2m-63 10l-1 1m-62 18l-2-1m22-5l-2-2m8 3l2 1m-176 104l-1 2m41-4l0-2m893-5l-1 0m35 3l2-1m-1 13l-1 1m-39 4l2 2m-18-3l0 1m-867 1l-2 1m-18-7l0 2m-18-7l0 1m903 19l-1 2m14-5l0 0m31 0l0 1m109 6l2-2m-3 8l1 0m-90-6l-2 1m-937 7l0 2m-7 10l1-2m42 4l2-1m837-3l1 1m20 3l2 0m51-3l-2-1m53-4l0 1m63 19l2-2m-36-5l-2 1m-10 6l0-1m-9-8l-1 0m-19 9l1 0m-52-5l-1 1m-5-3l2-2m-27 2l2 1m-861 5l-1 0m-46 1l-1 0m-40-9l1-2m8 12l-2 1m39 5l-2 1m8-2l-1 0m9 1l-2 2m987 3l2 2m28 10l0 1m-4-4l1 0m-66-8l-1 1m-8 0l-2-2m-14 12l2 0m-874 1l1-2m-38 1l1 0m-44-3l2 0m16 6l0 1m880 6l1-2m23-6l-2 2m56 3l-1 0m1-5l0 0m41 6l2-2m5 4l1-1m30-5l-1-2m22 0l-1 0m21 19l0 1m-13-7l-2-2m-12 4l0 0m-10-4l2-2m-6 11l-1 0m-78-5l-1 0m-2 7l-1-2m-8-2l0 2m-15 1l-2 1m-4-5l-2 0m-4 1l-2 1m-917-6l2-1m26 22l1-2m907-5l2-1m10 9l-2 0m88-8l2-1m39 11l1-1m-19 3l1 1m-82 6l0 0m-63-8l1 1m-890 0l-2 0m-51-1l1-1m-7 2l-1 0m-24 2l-1 2m11 8l0-2m38 5l0-2m36 0l2 1m19 4l1-1m855-8l-2 0m24 3l-1 1m9-1l-1 1m83 0l2-1m10 6l1 1m10-4l0 0m15-2l-1 1m12 4l-2-2m13-5l2 1m-53 15l2 0m-35-3l-1-1m-27 5l-2 1m-13-3l-1-2m-940-3l0 2m-36 11l-2-1m937 6l1-2m17 4l0-2m69 1l0-1m50-5l-1-1m9 7l0 2m22 6l-1-2m-35 5l0-1m-29 3l1 0m-21-5l1 1m-22-2l2 1m-952 0l0 1m-7 4l0-2m898 14l1 1m12-6l1 0m49 2l0-2m25 1l1 2m42 1l2-2m11 6l2 0m-18 11l2 1m-26-8l2 2m-30 4l1-1m-3-3l0 1m-27 3l0 1m42 8l-1-2m81 9l-2 1m-123 4l1-2m21 10l-1-2m88 13l0-1m-63 2l-1 1m-524 57l2-1m-7 23l-1 1m16 10l-1 1m-503 12l-1-2m13 8l-2-1m9-2l1 0m41 10l-2-2m-54 9l-2-2m-18 4l-2-1m19 7l1 0m11 5l-2-1m39 17l2-2m-5 6l1-2m27 9l0 0m40 34l0-2m-2-4l0 0m-68 5l-2 1m-36 14l-1 1m45-7l-2-1m27 3l-2 0m13-7l0 2m3 5l-1 2m51 14l-2-2m-79-7l-1-1m-36 2l1 2m18 14l-2 0m17 0l1 2m129 10l2-2m-29-5l-2 1m-11 0l1 1m-16 9l-1 1m-16-11l1 1m-12 4l-1 0m-23 15l2 0m9-7l-2-2m45 9l2-1m66 1l2 0m1 4l-1 2m-54 5l2-2m-61 2l0-1m30 16l-2 1m12-8l-1-2m61 0l2-1m1 11l-2 2m2 1l-2 0m-36 8l-1 1m-26-10l1 0m-39 15l0 0m31-5l2 1m28 2l-2 0m25 16l-1-2m-49-4l-2-2m29 21l1-1m-24 5l-2-1m-345 23l2-1m17-4l0 2m28 5l2 2m-32 2l2-1m-67 14l-1 0m37 0l0-2m8 4l-1-2m52 0l-1-2m23-3l1-1m5 2l-1-2m3 8l1-2m-15 13l-2-2m-41-3l0 0m-8 4l0 2m-12 5l-1 2m-28-7l0-1m40 16l-2 2m15-5l2 2m2-5l-1-2m23 4l2 1m73 14l1 2m-20-8l0 2m-48 2l-2-2m-34-1l1-2m-15 2l1-1m-36 6l-2 2m40 10l1 0m34-3l-2-1m37 1l1 1m15-2l-2 0m17-2l-2-1m33 17l2 0m-72 16l0-1m38-3l2-2m14 0l-1 1m20 9l-1-2m-7 5l2 0m-25-6l-2 2m-39 7l0-2m-23-1l2 2m-37-6l0 2m35 16l-1 1m8-1l0 0m16-5l-1 1m8 3l2-2m48-3l0 0m-7 15l1-1m-48 1l0 0m-5-4l-2 1m-23 19l0-1m55-5l-1-2m-17 12l1 0m20 13l-1 1m11 2l1 2m5-7l2 1"/>
<path id="a15" d="M37 131l1 0m773 21l-1 0m-477 7l-1 2m-245 45l2 2m-13 4l-2 0m-10-5l-2 1m-12 17l0 2m6-7l0 0m-44 20l0-1m138 25l0-1m26 18l2 1m-141-1l1 1m131 13l0-1m-61 7l-1-2m-2 8l-2-1m1166 8l0-1m31 9l-2 1m111-5l0 1m-1178 13l-2 1m-102-7l0-1m-50 6l-2 0m85 14l1-1m66-2l1-2m1099 3l0 2m91 7l-2-1m-5 5l-2-1m-1402-2l2 1m1385 21l-1 2m-1148-4l2 0m-13 9l2 2m-28-9l1 2m-28-1l-2 2m-29 12l2-2m103 0l-2-2m1163 1l0 1m-1193 12l1-2m-8 4l-1 0m-3 12l-1 0m3 16l1 2m-18-9l2-2m-159 3l1-1m204 20l1 2m-183 18l-2 2m133-1l2 0m35-7l-1 0m39 13l0 0m-51 4l0 0m-177 17l2-2m40-5l-2 2m12 4l0-2m73 1l-1-2m20 0l1-1m19 3l2-2m-2-3l1-2m11 7l-1 2m27 11l-1-1m-7 1l0-2m-10 12l-2 1m48-3l-1 1m14-3l0 2m-122 8l0-2m-8 7l-2 0m-57-5l2 0m-46 6l-2 2m1 11l0 0m202-2l-1 0m-110 6l2 2m-37 6l2 0m-42 15l0 2m81-10l2-2m142 7l1 1m958 33l-1-2m-1196 0l2 2m216 7l1-1m991 10l2 2m-2 9l0 0m-1228-3l1 0m67 6l0-2m1249 22l-2 0m-15-5l0 2m-60 18l0-1m72-7l1 0m73 14l1 1m-49-2l2 1m-57 0l1 2m-63-5l0 1m-30 0l1-2m139 28l-2-1m-14 1l0 2m-58 6l2 2m77-3l-1 2m-13 19l2 0m-78-7l1 2m-1266 41l0-1m1237-6l0-2m65 1l1-2m91 4l2-2m-171 55l-1 0m71 24l2 2m43-11l-1 2m-26 24l0-1m-91 61l1-2m17 53l1-2m-1221 44l-2 2m189-13l1 0m1162 16l-1-1m-1332 19l-2 0m1304-10l1 0m-27 23l-1 2m-1067-12l0-2m-191 24l-1-2m1199 5l-1-1m-1238 11l-2 0m1200 7l0-1m86-1l-2 0m35 4l-2 0m21-9l-2-1m-142 24l1 2m-1218-3l-2 1m1235 9l0 0m14 2l0 0m22 0l2 2m49-7l0 2m20 2l1-2m53 4l0 0m-51 7l0-2m-144 1l2-1m-101-4l0 1m0 9l-1-2m135 11l2 0m177 6l-2-1"/>
<path id="a16" d="M287 0l1-2m7 2l-1 2m8 7l2-1m6 3l-1 1m5-3l2 1m23-2l-1 2m13-8l-1 1m5 0l0-2m27 8l1 0m24 0l-2 0m6-5l0-2m36 1l1-2m19 8l2 0m7-1l1-2m10-5l-1 2m4 5l-2 2m6-9l-1 1m27 6l0-1m8 1l-1 0m26 1l2 0m7 5l-1 2m-48 7l-2-2m-15 0l0-1m-14 2l-2-2m-12 1l-1 0m-3-7l-2-2m-1 11l1-1m-30-6l-2 0m-3 8l2-1m-8-1l1-1m-10-7l1 0m-14 8l-1 0m-3-7l0-1m-14 0l-1 0m-5 7l-2-1m-12 3l2-2m-16 0l2-2m-16-5l-2-2m-44 4l2-2m-2 10l0-1m-93 5l-2-2m15 7l2-1m92 3l1-2m8-6l-2 1m7 6l-2-1m35-2l-2 1m30 3l0 0m57-6l-2 2m41-4l0 0m45 3l-1-2m12 7l-1-1m55 0l-1-2m-4 8l0 2m-12-1l0-1m-7-2l-1-2m-10 10l0 2m-32-6l1-1m-82 0l-1 0m-7 1l-2 2m-11-8l-2 2m-2 3l0 1m-23 2l1 1m-7-3l1-1m-29 6l1-1m-7-10l2-2m-6 10l1 0m-8-1l-2 0m-12 4l-1 2m-15-8l-2-2m-12-2l0 0m-26 3l-2 1m-3 11l1-2m21 6l-1-2m3-3l-1-2m4 7l-2-2m7-4l-2-2m18 2l1-1m27 1l1 1m-1 4l0-2m22 0l-2 0m22-5l0 1m4 6l2 1m1-3l-2 1m12 3l-1-2m20-6l0 1m25 5l-1 1m9 0l-2 0m23 0l-2 0m2-5l2 2m94-4l0-2m93 13l1 2m584 7l-2 1m-433 2l-2-2m-141-8l-2-1m-13-1l-1-2m-5 8l1-1m-110 3l0 0m-9 2l-1 1m-5-11l-1-1m-26 9l0-1m-88 0l-1 0m-6-4l1 2m-5 5l2 1m-9-2l1 0m-48-7l0 2m-42 4l0 1m-8 0l0 1m-9-2l-1 1m-142-5l-1-1m-137 18l0-1m280 2l1-1m-1-8l-1 1m21-1l2 2m11 6l-2 0m7 2l-1 0m15-9l0 1m4 7l-1-1m10 1l0-2m3-5l-1-1m25-1l1 2m9 5l2-2m4 5l-1 1m15-3l-2-1m32 2l-1 1m131-2l2 1m91-5l0 2m16 4l2-2m9-3l-1 2m20 4l2 0m3-8l0-1m-14 17l0-1m-31 4l2 2m-26-7l1 0m-186-2l0-2m-8 1l1-2m-7 4l2-2m-20 2l2 1m-3 3l1-1m-3-5l1 0m-9 2l-1-2m-10 8l0 1m0-8l2 1m-12 5l1 0m-11-7l0 1m-36 7l-1 1m-33-9l-1 1m-13 0l2 2m-12 0l-1 2m-62 0l2 1m-9-2l0 1m-107 0l-1-2m44 13l2 1m139-7l-2 2m12 1l-1-1m7 2l2-2m17 1l2 2m4-1l0 1m2 4l0-2m48 3l-1 2m2-6l-2 1m18-4l-2 2m7-5l-2 1m4 4l-2 0m6-6l1 2m13 5l-2-1m5-5l1 1m15 5l-2-1m21-1l0-1m23-2l-2 0m46-1l0 2m11 7l0-1m11-7l-1 2m31 4l-2 2m38-7l-1 0m155 4l-1-2m21 1l2-1m297-3l1 2m-266 14l1 2m-146-2l1-1m-38 2l-2 0m-41-5l-2 1m-6 0l1-2m-3 10l0-1m-5-5l-1 1m-10-3l2 0m-108 4l1 2m-48-7l0 0m-5 5l-2-1m-8-1l2 0m-22 1l-1 0m-11-6l1 2m-54-1l1 1m-115 0l0 2m-152 3l0 2m-55 11l-1-1m135 4l1-2m65 0l-2-2m108-4l-2 0m78 5l2 1m6-9l2 1m12 0l-1 2m11 5l-1-1m40-1l0 2m22 1l1-2m13-2l2 0m43 2l-1 1m60-2l0 2m26-1l0-2m8 2l-1 0m68 0l2 0m86-5l-1 2m43 6l-2-1m442 8l-1 0m-561 6l-2 1m-9-8l-2 2m-165-3l1-1m-21 1l-2 1m-54-3l-2 1m1 5l-1 1m-25 0l2-2m-22 1l1 2m-9 0l-1-2m-5-3l-1-2m-6 2l2-1m-3 7l-1-2m-3-7l1 0m-24 8l2 2m-25-9l-2 2m-6-1l-1 1m-197-2l2-1m18 20l-2 1m204 0l-2-1m13-5l-2 2m2 2l-2-2m10-1l0 1m26-4l-1-1m19 9l2 2m1-11l1 0m1 9l0 0m26-7l-2-1m17 9l1 0m5-1l1-2m20 2l-1-2m13-5l-2 0m20-1l-1-1m17 10l-1 2m28-7l2 0m125-2l1-2m180 20l0-2m-114 3l0 1m-119-10l-1-1m-11 9l0 1m-43 0l2-1m-21-4l2 2m-4 2l-1-2m-11-4l2 2m-20 4l-1 0m-62 1l-1-1m-11-4l2-1m-10 0l-2-2m-4 1l-2 2m0-6l0-1m-5 5l-2 1m-31 1l1 2m-6 8l-2 1m19-4l0 0m55 10l-2-2m4-5l2 1m9 1l0 2m5-4l2 0m17-4l0 0m6 5l-1-2m13 4l0 0m25-1l2 1m2-6l-2-1m17 1l-1-2m6 8l1-2m4 2l-1 0m21 3l-1-2m48-4l-1 0m74 4l2-2m12-6l-1 0m566 23l0 1m-394-9l-1 0m-273 8l-1 1m-3-5l0 0m-14-6l-2 0m-5 5l0-2m-12 4l-1-1m-9-7l1 1m-13 6l-2 2m-13-4l0-1m-8 5l2-2m-32 0l0 0m-28-2l0 1m-25 1l0-2m-6 2l-2-2m-28 2l-1 1m-13-8l-1 2m-248 1l0 1m267 16l0 1m6-9l2-2m6 5l1 0m1 5l2 1m11-6l-1-2m16 0l-1-1m9 3l1 2m17 4l0 2m6-9l2 1m38 3l1-2m13 5l-1 2m10-3l1-1m8-1l2-2m211 17l1-2m-164-5l1 1m-12-3l1 0m-7 2l1 1m-72 2l1 2m-6-6l-2 2m-11 7l-1 0m-3-5l-2 0m-6 3l-2 1m-2-6l-1 1m-54-2l0 1m-25 0l1 1m11 13l1 2m3-3l-1-2m17 1l2-1m6 3l-1 0m49 3l1 1m9 2l1-2m24-4l2 2m15-5l-2 0m6 9l1-1m28 13l-1-2m-16 3l-1 1m1-6l-2 2m-2 2l-1 1m-11-6l-2 1m-1 4l0 0m-5-4l0-1m-28 5l1 2m-18-6l2 1m-17-5l1-2m-6 9l-2-1m0-4l-1-2m-10 2l2 2m-6-3l0-1m-5 7l0 1m-10-4l0 2m-7-9l0-1m-24 17l-1 1m32-4l0 2m3 4l-1 0m20 0l-1 0m2-6l2-2m1 12l2-2m7-2l-2-2m7-5l0-2m2 8l-1 2m16-2l0 2m11-2l1 0m4 0l2 2m9-8l2 1m10 4l-2 1m10 2l1-1m183 3l-2 1m12-2l-1-1m89 2l0-2m-279 9l2 1m-81 0l0-2m-47-4l1 2m-9 1l2 1m-250-1l0-2m269 11l2 1m7 1l-2-2m97 7l-2-1m483 0l2-2m235 16l-2 1m-705-6l0 1m-101 20l1 1m133-3l2 0m346-6l2 1m324 1l-2 1m-447 13l2-1m-42-3l-2 0m-288 3l-1-1m-38-5l-2 0m109 14l-2 2m678 6l2 0m13 2l2-1m-50 9l-1 2m-563-6l1 1m-334 16l0 2m207-8l-2 0m138 7l0-1m164-9l-1 1m37 0l-1-1m83 8l-2 2m25-2l-1 0m326 10l0 1m-46 3l1-1m-463-7l1 2m-324 2l-2 2m-83-4l1-2m-49 1l1 0m-4 6l2-2m5 15l0-2m133-8l0 0m128 6l-2 1m99 2l1 2m375-4l-1-1m167-3l1 0m14 7l2 2m3-3l2 1m2-7l1 1m23 2l-2 0m35 16l0-2m-2-5l-2 2m-2-5l0 2m-4 1l1-1m-36 7l1 0m-10-9l0-2m-12 9l-1 2m-18-9l1 0m-5 5l-2 1m-6 5l1 2m-8-7l-1 2m-275-3l0-1m-473-1l2-1m-11 1l1-1m-14 8l-2 0m-20-7l-1 2m-39 5l2 0m-56-5l0 2m-10 6l0 2m4-2l-1 2m10 8l1 0m12-7l0 0m2-3l-2 0m14 3l0-1m4-3l-1-2m6 7l1 1m8-5l1 1m3 2l0-2m8 5l-2-1m117-5l2-1m708 9l0 1m15-10l1 0m10 7l-1 1m8-7l-2 2m15-3l1 0m-1 10l2-2m7-2l2 0m4 5l-2 2m23-5l-1 0m85 2l-1-2m12 10l-2-1m-12 0l1 0m-2-2l-1 1m-8-3l0-2m-7 8l-1-1m-37-7l-2 2m-3 8l-2-2m-11-7l-1 1m0 8l1 0m-15-8l-2 1m1 6l-1 0m-9 1l0-2m-7 2l0 2m-17-4l-2-2m-12 3l1 2m-6-2l2 0m-10-9l-2 2m-729 1l-1-1m-115 6l0 2m-14 0l-1-1m-26-8l-2 2m-1 7l0-1m-17-6l1 1m-8 4l1 1m-2 4l2-1m7 10l1 0m5 1l1 1m16-5l-1-1m19 4l-2 2m6-8l-1 2m20-2l-1 0m57-3l0 2m55 6l1-1m365-5l-2 2m197-2l1 1m150 2l-1 2m41 0l-2 2m7-7l-2 2m14 5l0-1m9 1l0 2m2-9l0 0m9 0l-2 1m4 7l1 0m6-4l1 2m2-4l0 2m4 4l-1 0m6-6l-2 0m10-4l1 0m16 1l1-2m0 7l0 2m14-4l2-1m30 5l2-1m10-7l-2-1m51 21l2 1m-60-8l-1 1m-7 0l0-2m-11 10l1 2m-11-10l2 2m-42-3l0 2m0 6l-2 2m-10-2l-2 2m-9-3l-2-2m-24 4l2-1m-10-7l0 0m-9 0l2-2m-7 10l0 1m-490-6l-1-2m-145-2l1 1m-115 8l0 2m-61-4l-1-1m-10 4l-1-1m-22-2l2-2m-42-1l0 2m-17-3l-2-1m-1-2l1 2m-10 0l1 0m-1 14l1-2m4 1l-1-1m16 1l2 2m33 2l-1 0m19-2l2 1m5 2l-1-2m2-5l1 1m19 7l0 2m169-10l2 2m324 1l0-2m76 5l2 1m169-1l-1 2m67-6l-1-1m11 1l-2 2m71-4l0 1m19 8l2 1m2-1l2-2m10-6l-2 1m10 5l-2 2m20-5l1-2m19 5l2 2m40-1l-2-2m6 11l-2 1m-6-2l0 0m-5-1l1 2m-49-3l2-1m-10 1l-1-1m-1-2l-2 2m0 1l-1 2m-31 0l-2 1m-28 0l1 0m-9 0l-1 2m-2-10l-1 0m-13 8l0 0m0 3l0 1m-15-5l0 1m-5 0l-2 0m-4-7l-1 2m-6-3l0 2m-4 5l0 2m-6-3l2-1m-13-2l1-2m-12 8l2 1m-38 2l1-1m-820-7l2-2m-6 5l1 2m-17-5l-2-1m-9 1l1 1m-1-3l0 1m-5 15l-1 1m10-4l-1-2m6 6l-2-2m10 3l-1 0m38-8l1 0m-1 8l-2 0m11-2l-2-1m10 2l-2 2m10-2l2-2m369-5l2 2m84-1l-1-1m386 7l0 0m9 1l-2 0m5 4l-1 1m6-4l-2-1m25-1l-1-2m21 1l0 2m29-6l-2-2m12 5l0-1m45 1l-1 2m27 1l1-2m10 16l1-1m-12-8l1 0m-43 0l-1 1m-3 8l0 2m-9-2l1 1m-16-1l2-2m-10 0l-1 1m-16 0l0-1m-9-6l-1 0m-10 6l0 0m-14-5l0-1m-37 0l2 2m-113 1l1-1m-246 8l-2-1m-208-5l2 2m-98-5l-1-2m-151 0l-2-2m-17 3l-1-1m-26 1l0 1m-3 5l-2 2m-1-7l2-1m-16-2l-2-1m-22 5l2 1m-18-1l2 0m-6 6l1 1m-5-7l-2-2m-22 18l-2 2m24 0l0 2m34-11l-2 0m13 9l2 2m0-9l1 0m11 7l2-2m4-5l-1-1m8 1l-2-2m6 8l-1 1m7 0l0 2m11-2l0-2m17-6l1 2m201 4l2 0m227-2l-2-2m273 2l-1-2m51 2l-1 0m79 4l-1 2m7-10l0 1m7 0l2-2m4 10l-2 2m14-11l-2-1m23 0l-2 2m6 8l-2 0m11-8l1 0m41 9l-2-2m48-2l-2 1m10 0l1 1m17-6l1 1m-5 18l-2-1m-40 0l-1 2m-26-9l1 1m-12 5l-1-2m-20-2l0 0m-3 7l-2-1m-12-5l-1 0m-3 0l0-1m-4 7l-1-2m-2-6l0 2m-11-2l0 2m-27 6l-1 2m0-8l2-1m-18 0l1 1m-845-3l2-1m-45 2l1-1m-22 9l0 0m-26-10l-1 1m-18 7l1 0m14 14l1-2m11-6l1 1m5-1l-2-1m8 7l-1 0m20 1l-2 0m2-8l-2 2m5-4l0 2m3 1l-2 0m8 1l1 0m2 5l0-1m23-4l1 1m10 1l-1 0m348-6l-2 0m518 4l1-2m36 1l1-2m13 4l-1 0m22 1l1 2m38-4l0 0m34-4l0-1m11 6l1 1m6 7l-2-1m-17 4l1-1m-8-4l2-1m-2 7l-1 1m-10-5l-1 0m-17 0l1-1m-7 0l2 2m-10 9l-1-1m-30-9l-1 1m-4 4l1-1m-18-5l-1-1m-9 7l0 0m-27-6l0-1m-6 8l1-1m-12-7l1 0m-11 0l-1-2m-12 8l-2 0m-50-3l1-1m-449 6l-1 1m-256-8l0 1m-80 9l-2-2m2-8l-1 1m-4 10l-1-2m-6-2l-2 0m-14 0l0-2m-15-5l0 2m-4 3l1 2m-5-7l1 2m-4 4l-2 2m-15-1l-2 1m-1 2l2 1m-9 8l-2-2m10 1l1 1m41-5l0 1m9-2l-1 0m18 5l-1 0m657-2l0 0m201-2l1 2m24-4l2 0m27 2l1-2m8 1l-1-1m31 1l1 1m43-2l1-2m9 4l-1-2m23 0l2 0m21 5l-1 1m-26 14l1 2m-8-9l0 0m-23-2l1 1m-2 7l1 2m-15-10l-2 0m-3 1l1-2m-6 11l2-2m-5-6l-2 2m-4 6l-1-1m-14 1l-2-2m-1-7l1-1m-46 0l0-1m-17 2l0 1m-2 9l0-2m-10 0l2-2m-375 0l1 1m-51-6l2-2m-10 0l-2 0m-45 7l0-2m-270 1l0 2m-15 0l-1-2m-152 2l-2-2m-3-4l2 0m-4 6l2 0m-11 15l2 2m7-1l-2 2m16-2l2-2m0-7l-1 0m8 0l-2 1m11-3l0 1m462 3l-1 0m24-4l1-2m275 4l-1 0m186 8l2-2m1-6l1 2m6 4l-2 0m15 2l2 1m44-3l-2-1m14-4l-2-1m14 2l0-2m12 8l1 2m10-5l0-1m6 3l-2-1m-3 6l2-1m-8 3l2 2m-16-4l-2-1m-42 8l-1 0m-28 0l1-2m-19-4l0-1m-28 8l-2 1m-1-7l-1 2m-7-1l1 1m-241-2l-2-1m-406 0l0 2m-114-1l-1-1m-141 1l-1-1m-9-1l0-1m-29 2l-2-1m-181 16l-1-2m385-3l1 0m77 3l1 1m149 0l0 0m17 1l-1 0m137-6l-2 1m106 6l-1 1m261-8l-2 1m7 3l-2 1m10 2l-1-1m14-3l-2 1m23-4l2 1m4 8l1 0m24-10l-1 2m15-1l2 1m-2 9l0-1m17-5l1-2m5 7l0-1m8 1l-2-2m29-4l1 2m1-5l1 0m2 18l0-1m-14 2l-1-1m-12 0l1 1m-20-2l0 1m-4 5l1 2m-2-5l-1 0m-24-3l2-2m-6-2l1 2m-5-2l-2 0m-10 5l1-1m-18 2l-1 2m-10-9l2 1m-12 0l2 1m-15-1l-2 1m-455 7l-1 0m-5-1l2-1m-51-5l-1-2m-207 4l0-1m-33-1l-2-1m-60 9l1 1m-62-1l-1 2m-239 1l1 1m40 8l-2-1m454-4l-2-2m640-2l-2 2m13 3l-1 1m22-2l0 1m18 2l2 1m2-10l2 0m-1 9l0 2m10-2l-1 1m25-3l-1 2m21-7l1-2m3 2l-2-1m18-1l2-1m-1203 15l1 2m-15 4l-1 1m482 15l-2-1m104-6l-1 2m10-3l0 1m5-2l0-2m-85 17l-1 0m-108 3l-1 1m-236-9l0 0m-135 7l-1 0m-89 15l2 2m520-9l-1 2m27-3l1 0m179 1l1-1m45-1l-1-2m-2 18l0-2m-144 5l2-2m-659 16l-1-2m28 3l-1-2m615-2l0-1m15 0l-2 0m7-4l2-2m56 6l-2 0m-19 9l1 0m-8-2l0-2m-2 12l-2 2m-4-3l1 0m-8-3l-1-1m-12-3l-2 2m-59-1l1-1m-96 3l2 2m-196 1l1-2m-68 3l-2 0m-168-6l1 0m-75 3l2-1m174 14l-1 2m4-8l-2-2m24 5l0-1m461-1l-2-1m15 3l2-2m23 8l-1 2m108 7l0 0m-135-8l-2 2m-9 2l2 1m-37 3l0-1m-20-6l-1 0m-136 10l1 1m-85-4l1-2m-144 0l2 0m-20-7l-2 1m-65 14l-1 0m5 4l2-1m28 6l0-1m47-11l0 2m25-2l-2-1m3 9l-2-2m400 0l0-1m4-4l0 0m4 0l-2-2m5 5l1 2m11 0l-1 2m110-2l0 2m-231 11l0 1m-77-5l1 1m-91 4l2 0m-119 2l0-1m-7-2l0 0m-6 0l0 2m-22-7l-2-1m-2 0l-1-1m-14 6l2 1m-8 3l0 1m-181-6l-2-1m38 16l-1 1m123-2l0-1m28-2l2 0m12-2l-2 1m9-2l0-2m16 5l2 0m137 0l-2-1m66 0l1 0m46 0l1 2m577 17l2-2m-367-8l-2-1m-425 11l2 0m-11-1l2 1m-12-6l-2 1m-13 5l-1 0m-10 1l-1-1m-7 2l1-2m-15-5l2 1m-29 6l2 1m-26 2l1-2m13 3l0 0m4 6l0 1m63-4l1 1m6-1l-1 1m10-3l-1 2m13 3l0-1m4-6l-2 2m389 6l2-2m-217 15l-2 1m-147-11l-2-2m-1 10l1 0m-140 0l2-1m-176 2l2 1m189 2l-2-1m101 11l-1-1m7-10l0 2m7-2l-1 2m5 5l-1-1m10 2l-2 0m170-1l2-2m250 4l-1 1m79 4l2 0m-51 1l0 1m-7 7l1 1m-29-4l2 2m-415-3l2 2m-10-9l2 0m-18 7l-2-1m-9-7l-2 1m-28 1l0 1m-6 6l1 2m-13-7l1 2m-1 3l0 2m-12-3l2 2m-209 7l-2-2m211 4l-2-1m7-3l0 1m14 0l-1 2m9-5l-1 1m4 9l0-1m14-9l2 2m17-1l-2 1m22 6l2-1m15 1l-2-2m27-5l1 2m20 7l-1 0m315-9l0-1m68 0l0 2m87 3l-1 2m-323 13l2 2m-136-7l-2 0m2-4l0-1m-28 13l-1 0m-12-7l-2 0m-6 5l0-1m-7-6l0-1m-26 8l0-2m-1-4l-1-2m-3 7l2-1m-27 2l1-2m-8 3l1-2m-21-5l-1 2m-12 3l-1 2m-10-5l-2-1m-151-4l1 1m-18-1l0 2m199 21l1 2m41-9l-1-1m15-1l1 2m9 2l-1-2m4 7l-2-2m6-4l-1 1m6-2l2 1m6 0l-1-1m18 2l2 2m51 3l-2 2m108-6l0 2m171-6l-1-1m8 0l-1-2m17-1l0 1m292 7l1 1m-36 13l2 1m-360-11l2 1m-117 5l2 2m-26 3l1 0m-58-5l0 0m-8 6l-2-1m-11 1l0 2m-14-8l-2-2m-8 7l1-1m-13-6l-2-2m-22 2l-1 0m-48 8l1-2m-220 0l2-1m-40-8l-2-1m-11 18l0 0m44 6l0 2m192-13l-1 1m28-1l0 0m26 6l-2 0m15 5l1 2m2-6l-1-1m4 5l-2 0m20-10l2-2m17 12l2-1m10-4l-2 2m45-7l-1 1m33-2l0-1m53 0l-2-1m145 5l1 2m381 0l1 0m55-3l1 2m-473 13l0 0m-169-4l-2 2m-10 5l-2-1m-6-1l-2 1m-11-7l-2-2m-26 8l2-1m-8 3l-2 0m-18-5l0-1m-12 6l0 1m-15-2l-2 1m-4 1l-1 0m-7-1l-2-1m0-8l-1-2m-6 6l0 1m-42-2l2 2m53 9l-1 1m14 7l0 1m1-8l-2 2m24 7l0-1m8-8l1 0m30-2l-1 2m31 0l-1-2m11 4l0 0m2 6l2 1m5-4l0-2m325 3l0 0m326-4l0-2m-45 15l1-2m-554 0l0 0m-101 2l2-2m-14 2l-1 0m-63-1l1 2m0 11l0 1m36-3l2-2m11 10l1 1m20-7l1-2m24 7l2-2m3-4l-1-2m5-2l1 1m511 11l-2-2m-527 13l-2 1m-25-5l1 0m-2-8l0-2m-6 11l2-2m-7 5l2 2m-41-7l0-1m-1 14l1-1m3-6l-2 1m14 0l-1 0m14 7l1 1m41-8l0-2m238 7l2-1m23-2l1-2m349 7l-2-1m97-4l1 0m-84 16l1 2m-94-5l-2 2m-250-7l-1 2m-296 1l2 1m-6 2l0 1m-11-7l0-2m-53 3l2 0m-341 10l1-2m5 5l-1-2m3 10l-2 2m6-10l2-1m3 10l2 0m20-10l-1 1m14 3l1-2m21 2l2 0m12 5l0 2m801-9l2 0m233 17l0-1m-181 0l-1 2m-191-4l1-1m-197 3l-1 1m-20-7l2-2m-421 11l1-2m-37 3l2-2m-11 2l-2-2m-14-5l2 0m-19 1l0 0m-27 6l1 0m-14-7l-2 0m-13 13l-2-1m7 6l0 2m11-4l2 0m5-7l2 2m18-3l0 2m13 4l2-2m5 1l-1 0m10 2l-1 1m16 0l0 1m34 3l-2 2m22-6l2 1m10-3l-2 1m671 2l2-2m96 1l2 1m18-5l-1 2m129-6l-1 2m2 5l1-1m52 13l2 2m-533-9l-2 2m-435 4l-2-1m-6 3l-2 0m-11-7l2 1m-4 6l1-2m-32 0l1-2m-22-2l0-2m-9 7l-1 2m-26-8l2 2m-21 17l-1 1m10 1l1-2m0-7l-1 0m19 2l-1 1m17-1l-1 2m24-4l2 0m15 8l0-1m5-7l0 1m14 1l0 2m3 2l2-2m16 4l-1 1m5-7l0-2m1 5l2-1m28 5l-2 0m580-8l1 2m82 4l-1 0m18 0l-2-2m165 16l0 2m-44-8l2 0m-53 2l0-2m-115-1l2-1m-296 1l1 1m-335-3l-1-2m-24 10l2-1m-17 0l0-1m-9 1l-2-1m-6-6l-1-1m-22 7l-2-2m-6-4l-2-2m-17 12l1-1m-10 1l0 1m-21-3l0-2m-7-5l1-2m-29 14l1 2m12 6l-1 2m2-6l2-2m7-2l2 1m10 7l-1-2m15 1l2-2m-1-3l2 2m29-2l-1 0m4 6l0 1m16 0l-2 0m7-8l1 2m4 6l-2 1m48-3l-2-2m6-5l-1 2m5-1l2-2m4 8l2 2m4-2l2-2m174 0l1 2m542-2l1 1m2-7l2 1m200 0l-1-1m2 5l-2-1m-326 17l-2 1m-103-7l2-1m-12 0l1-1m-141 7l1 2m-142-8l2 0m-31-1l2-1m-51 4l1-2m-119 1l1-2m-43 8l0 1m-20-7l1 0m-19 7l-1 0m-10-6l-2 0m-2 7l1-2m-8 0l2 0m-4-10l0 0m-9 7l-2 1m-21 9l2 1m3 1l-2 1m36-1l2-2m20 0l2 0m-1-4l-1 1m7 5l0-2m22-1l1 2m108 1l-2 0m169-1l0 2m196-4l2-1m468-1l1-2m-138 14l-1 1m-213 6l0-1m-324-6l1-1m-208 6l2-1m-56-3l2 2m-7 1l0-1m-13 3l-2-2m-52 3l0 1m-15 0l-1 1m9 3l-2 0m38 7l2-1m4 2l-1 0m35-10l-1 2m6 9l-2-1m20 0l2-1m225-8l1-1m328 2l1 1m-39 15l1 2m-25-1l2 2m-453-1l1-2m-3-2l-2 1m-35 3l2 1m-7-5l1 1m-65 5l2 2m-16-2l-2-2m8 7l0 1m3 5l-2 0m14 2l-2 0m25-6l1-2m11 0l2-1m362 2l2-2m499 15l0 1m-372-3l-2 2m-52 5l-2-2m-96-5l2-1m-96 9l-2-1m-52-8l0-1m-138 2l0 2m-22 0l1-1m-6 3l0 2m-6-8l2-1m-9 1l-1 2m-12 2l-1-1m-9 2l-1 0m-14 1l2 1m-6-3l1 0m-13 2l2 1m-5-3l2-1m-13-4l0-2m5 15l-1-2m52 8l1-1m628 3l-2-2m543 1l2 2"/>
<path id="a17" d="M1362 5l-1-1m8 15l-1 0m-1051 119l1-1m-20 4l0-2m-15 14l0 1m23 12l-1 0m-17 14l-1-2m94 7l-2 2m-90 0l-2-2m-3 2l1 1m-6 6l-2 2m7 2l-2 0m12-5l-1-1m8 10l-2 0m3-9l0 0m21 0l2-1m32 12l2 2m11-11l-2 0m3 8l0 1m-2 7l0-2m-26 2l0-1m-54-5l1-2m40 25l1-1m8-2l2 2m15-8l0 1m14 7l-2 2m740-10l2 0m83-2l-1 1m-73 14l1-2m-3-1l2-2m-774 5l1-2m-35 7l2-1m-14 1l-1 0m77 6l2 0m755 1l0 0m54 0l-1 2m15 6l0-2m-9 3l2-1m-4 7l1-1m-13 3l0-2m-25-2l2 1m-41 4l-2 2m-35-3l-2 2m-680-3l2 2m-127 13l1 1m9-7l-2-2m33-3l1-2m111 7l-2-2m677 2l0 0m40-2l0 2m15 5l-1-1m18 3l2 2m34-4l-2-1m10-5l2 1m70-2l-1 0m25 1l0 2m7 4l-2 2m32 8l2 1m-55-4l1 1m-3-5l0 2m-192 2l2 0m-24-4l1 2m-6 2l0-2m-9 18l-1-1m52-7l1 2m16-1l0 1m38 1l0-2m191 10l-2 1m4-9l-1-2m-42 16l-2-2m-210 1l2 2m-7 7l-2 1m18 0l0 2m10-4l2 2m6-1l-1-2m11 1l2 0m180 11l-2-1m-235 5l1 2m-36-2l1 0m-6 18l-2 2m20-10l2-2m27 2l0 1m41 0l0 2m18-1l1-2m-18 17l1 1m-82 15l1-1m19-9l2 1m10 2l-2 1m56 12l-2-2m-17 6l-2-2m-13 2l2-2m-21 15l-2-1m38-1l0-1m-15 10l2 2m-786 192l-1 1m-4-5l0 0m-40 11l0 1m18 4l1-1m876 5l2 2m-9 6l-2 0m-31-4l1-2m-10 5l2 1m-852 1l-1 1m13 11l1 0m6 1l2 1m22-6l0 1m8-3l-1 0m679 5l-1-1m8 3l-2 2m26-11l1 1m23 9l0-2m5-4l0 1m49 4l-2 2m41-3l0 1m17-2l0-1m5-3l1 2m-5 18l0 2m-7-10l1-1m-12 5l-2 2m-48-3l2 2m-13-3l-2 1m-755-3l0-2m-37 3l0 2m-44-2l-2 0m42 10l1 1m791-3l1 2m46 1l1 1m5 7l-1-2m8 2l0-2m13-8l2 0m12 9l1 1m9-3l-1-2m-60 11l2 0m-119-1l2 1m-702 0l-1-2m-4 8l0 1m-13-9l-1 0m720 17l0 1m24 0l-2 0m149 8l-2 1m-63 1l-2-2m-847 1l2 1m-18-4l2 2m-23-1l1 2m-17 13l2 0m4 4l-1-2m853-6l0 1m2 4l-1 0m121 12l0-2m-32 2l2 0m-43-4l-2 1m-25 6l1 2m-22-6l2-1m-14-1l-2 0m-89 0l1 1m-752 1l-1 2m33 6l-2 1m788 5l-2-2m129 4l0 2m23-13l1 0m-3 19l2 2m-48-2l-1 0m-3 1l-1 0m-107 3l-1 1m-6-9l1 0m-756 7l-2 0m-21 1l-2 1m-24-1l-1 1m5 11l1-1m9-4l-2-2m759 0l2 1m17 4l-2-2m60-7l-2-1m3 12l0-1m14-1l1 1m4-2l0-1m40 2l-2 0m9-2l-2 0m42 0l1-1m-10 9l0-2m-46 2l-2-1m-3 2l0-2m-21 3l-2 0m-47 6l2 0m-24-3l-1 0m-18-5l-2-1m-744 3l-1 2m-26-2l0 0m-12 0l0 0m-7 16l-1 1m15-7l-2-2m13 9l0-2m11 1l-1 0m12 1l1 0m5-8l0-1m4 8l2-2m728-7l2-2m22 4l0-2m87 16l0-2m-32 2l2-1m-56 1l-2-2m0 9l0 0m-32-5l1 2m-767-4l-1-2m-16 0l0 2m67 18l1-1m4-1l-2 1m2-8l0 2m738 4l1 2m7 0l1 1m95-8l0 0m18 14l1 1m-37-2l1 2m-3 7l1 2m-840-3l-1 0m-7 0l-1-2m-48-3l1-1m32 16l-2-1m35-5l-2-2m758 1l2-1m39 6l2 0m-15 8l1-1m-796 10l-2 2m-20-3l-1-2m-4-3l-1-2m-9 1l1-2m-2 9l-2 0m6 7l1-2m17 1l-2-2m22-3l-1 0m672 7l-1 1m109 0l-2 2m-2 3l1-1m-44 4l1 2m-28 3l0 2m-29-7l1-1m-13 1l0 2m-606-5l-1 2m-14 6l-1-1m-1-3l0 1m-28-4l-1 1m-23 6l-1 2m-66-5l-1 2m40 6l-2 0m36 7l-1 0m15-8l-2 1m33 5l-2 1m18-2l0 1m608-2l-1-1m50 4l-2 1m20-4l-1-2m74 4l2 2m-11 12l0-1m-4-7l-2 2m-8 1l2-1m-13 3l-2-1m-8-1l0-2m-5 3l-1 0m-15 6l1 1m-36-2l1 2m-616-10l2-1m-11 2l0 1m-9 1l0 2m-89-3l2-1m-19 6l2-2m-40 5l-1-1m33 0l1-1m28 7l0 0m65 5l0-1m9-3l2 0m643 2l2 1m4 8l0 0m-28 1l0 2m-561 3l-2-1m-3 1l1 0m-6-10l2 0m-57 5l2 1m-16 3l0 1m-7-1l0-1m-28-6l0 0m-46 1l1 2m-42 8l1 2m17 3l-2 0m6 1l-2-1m49 1l-1-1m7-8l1-2m5 13l2-1m65-10l1 2m49 3l2-2m550 4l-2-2m12 6l-1-2m28-1l0-2m55 3l-1-2m-630 11l2-1m-35 6l2 0m-24-9l1 0m-19 3l2 1m-7 4l-2 0m-1-8l0 1m-47 1l1-2m-16 4l0 0m-25 5l2 0m-6-9l0 1m-8-1l0 0m-43 9l-2-2m61 13l1 0m65 0l0-2m638-7l0-2m40 2l2-2m-2 15l-1-2m-568 11l2-2m-14-8l-2 0m-37 1l-2-1m-57 9l1 2m-18-2l-1 1m-19-1l1-1m-24-4l0 1m-25 0l-1-1m-28-2l2-1m32 19l2 1m8-4l1 2m122 6l1 1m-47 3l1-1m-65-1l0-1m0 7l1-2m-20-5l-2 1m163 14l1 2m-328 69l2 1m50 16l1-1m-69-3l0 0m8 14l1-1m12-2l0 1m33 0l-1 0m11 0l1-1m26 16l-1-2m-15 2l0-2m-7-2l-2-1m-66 6l-2 0m-10-7l1 0m0 18l2 2m23-3l0 0m66 0l-2 1m5 6l-1-1m-52 1l-1 2m-35 5l-2 0m-1-7l2 1m31 9l-1 2m55-2l-2 2m22-1l-2 2m12 5l1 2"/>
<path id="a18" d="M1281 138l1 2m-50-1l1 0m-19-1l0 0m-371 13l2 2m18 1l2-1m316 1l1-1m-36 13l-1 2m-228-10l-1 2m-97-1l-2-1m-43 9l2-1m-103 10l1-2m13-1l0 1m428 1l0-1m14 0l-1 2m29-3l-1 1m155 0l-1 1m-190 7l2 2m-16 6l-1 0m-152 0l1 1m-326 6l1 2m124-7l1 2m352 8l2 1m101 1l-1-2m5 12l0-2m-393-8l-2 1m-200 7l2-2m365 11l1 2m302-5l-2 0m9-1l0-1m-9 17l2 2m-62-1l-2 2m-254 4l0 1m-216-5l2 1m-128-9l2 2m8 13l1 0m370 1l0 0m3 4l-1 1m260 3l0 2m4-6l0-2m-30 16l1 2m-610-6l0 0m11 8l1 1m150-2l1-2m157 8l2 1m72-7l-2-2m19 30l0-1m-69 16l1-1m-419 38l0 2m482-3l1-2m2-4l0-1m-409 26l2 1m48 4l2-2m93 8l2 2m-163 16l0 2m85-6l0-2m372 10l0-1m-451 4l1-1m-140 15l0-1m112 3l2 1m427-1l-1 0m88-1l-2 2m37-4l-2 1m19 2l1 0m6 14l0 0m-32-7l2 0m-656 0l2-1m197 13l-1 0m163 2l0-2m329-1l0-2m-251 19l2-1m-52 4l-2 1m-163-9l0 0m-103 6l-1-1m-132-6l0-2m-44 18l-2-2m12 2l0-1m424 0l0 0m-72 13l-1 2m-50-1l2-1m-122 3l-1 2m-107 2l-1-1m-86 1l-1 2m760 1l0-1m-698 20l0-1m-85 11l0 0m192-2l-1 2m368-3l-2-2m224 20l2 2m-96-2l2 0m-602-3l1 0m-100-6l-1-2m-2 18l2 2m-1 2l-1 0m804-6l1-1m-655 30l1 1m45-8l2-2m273 6l2-1m82-2l-2-1m89 11l0 2m-171 4l2 1m-139 0l0 2m-65 2l-1 1m-26-7l2 1m-12-3l-1 2m-96 2l1-2m-176 9l1 0m184 5l-2-1m275-5l-1-1m9 1l2 1m282 4l0 1m43 15l-2-2m-75 2l-2-1m-293-8l-2 0m-38 8l0 0m-374-4l2 2m1 11l2-2m196 1l2-1m6 4l-1-2m40 3l1 0m158-4l2 2m162 5l0-1m108-4l-2 2m-109 15l-2 2m-2-11l2 1m-338-2l1-1m-228 23l0 1m469-8l0 0m147 1l-1-2m18 1l-2 0m4 5l0 0m-4 12l-2-1m-160-1l2 2m-96 13l-1 1m107-9l0 2m88-2l-2-2m26 0l1 0m-197 17l-1 1m-3 4l-2 1m-379 1l-2 0m17 9l-2-1m282-8l0 2m84 16l0-2m-372-2l2 0m369 17l-1-2m215 10l-1 2m-9-1l-1 0m-118 6l1 1m-410-2l0 0m340 10l-1 0m8 0l2-1m52 1l0-1m-254 8l0 2m113 19l2 1m-231 14l1-2m3 7l0 1m348-9l1 2m-329 17l0 0m4 5l1-2m304 11l1-1m199 10l-1-2m-513-2l1 1m24 17l-2 2m92 22l0 0m328-3l-2 0m62 1l1 0m14-2l-2-1m-436 11l-1 1m76 11l2 1m47 21l0 1m-64-8l2 1m-23 14l0-1m54 0l-2-2m56-3l1 0m143 37l1-1m151 16l0 0m-86 16l-2-2m-283 6l1 0m8 0l-2 2m303 1l0 1m-331 6l0-2m-118 25l1-2m52 1l-1 2m233-1l-2 2m153 4l-1-2m-176 9l-1-1m-12-4l-1 0m-279 4l-2-2m315 10l-2-1m236 15l2 1m-11 0l-1-2m-156-2l2 2m-320 3l-2-1m-94-4l2-1m-13-1l-1 1m-13-1l1-1m-48 0l-2 1m-12 13l0-1m653 5l1 0m-201 12l0 2m-1-8l0-2m-108 7l0 2m-146 0l-2-1m-229 7l-2-1m788 16l1-1m-134-5l0 1m-202 5l-1-2m-333-3l1 2m-87-3l-1-2m207 18l2 0m403-3l1 1m33-1l0-1m102 17l0 2m-635-1l2-2m-70 0l2 2m-46-1l-2 1m-66 14l-1-1m40-6l0 1m436-2l-2 1m78 5l1 0m240 4l0 2m14-11l2 0m-32 12l-2 1m-220 3l2-2m-343 9l0-2m270 6l1-1m275-3l-1 0"/>
<path id="a19" d="M356 171l2 1m30 25l0-2m-388 10l1 0m4 21l1-2m35-1l1 1m56-1l1 0m508 11l2 2m-7-2l-1 2m-585-1l0-1m23 10l-2 1m101 15l-2-1m-22-5l2-1m-69 5l0 2m258 14l-2-1m-164 15l2-2m-139 2l2 0m197 14l2-2m-11 7l0-2m-62 16l1-1m147-2l-1 1m-191 27l1 0m131-8l2 2m85-2l-1-2m-92 19l2 2m-20-5l1 0m-9 4l2-2m-17 0l-2-2m34 17l1-2m28-1l1 0m29 34l-2 1m-60 1l1-2m-16 1l1-2m-33 0l-1 2m-4 6l1 1m9 12l-1 1m29-11l0-2m58 7l1 0m41 1l0 0m8 12l2-1m-52-4l-2-2m-70 2l1 1m-11 5l2 2m-3 11l-1 1m108-1l-1 2m-28 10l0 2m-87 0l-1-2m-17 8l-2-1m89 8l-2-2m-24 8l0 0m-50-5l1-1m-41-1l0-1m-41 2l0-2m-56 23l-1-2m7 1l2-2m61 2l1 1m72-10l0 1m58 17l2-1m-55 4l0 1m-52-8l-1 2m-2 7l0-1m-7-1l-1-1m159 5l0 2m24 4l0-2m-10 8l-1-2m-86 6l-2 0m-2-4l-2 1m-105 19l-1 0m49-3l0 1m34-3l-2-1m18-2l-2 1m17-1l-2 1m99 18l1-2m-29-3l0 2m-11 6l0-1m-175-9l-2 2m-26 5l2 2m158 6l2-1m74 1l0-2m31 9l-2 0m-226 15l1-1m12 6l1 1m1154 0l-1 2m-1154 29l2 1m1240 13l-1-2m61 9l-2 2m-15 2l0 0m-1353 3l1 2m1384 8l0 2m7-5l-1 2m-1326 19l-2 1m-4-5l-1 1m-25-5l-1 0m-1 18l2 2m1280-4l-2 0m73-1l-1 0m11 1l2-1m-106 6l-1-1m-35 11l1 0m-28 9l-1 0m103 1l-1-1m67 4l2 1m-84 11l2-1m-13-5l2 0m-1306 7l-2 0m1319 12l1 2m-61 17l1 2m24 0l-2-1m19-1l0 0m66 15l1-2m-86-6l2 1m42 20l2-1m19 9l1 0m-28-1l-2-2m-1325 16l2-2m1285-3l0-1m-1273 29l0-2m1265 5l1 0m-1285 6l0-2m61 18l0 1m-30 21l1 0m1219 56l-1-2m-3 13l1 1m-747 16l2-2m-354 4l-2 0m17 11l-1 1m254 9l-2-1m-238-1l-2 2m-135 17l0-2m1312-8l2 2m-49 19l2 2m-1255-5l2 1m-14 32l-2 1m1358 4l-2 2m-1330 9l1 1m-9-1l-1 0m1093 11l-2 1m38-5l0 2m149 10l0-2m-35 0l-2 1m-125 10l-1 2m-63 10l0 0m32 0l-2 0m217-8l-1 1m30 5l0-2m-205 6l1 1m-39 8l-2 1m-44-4l-1 0m-947 27l-1 0"/>
<path id="a20" d="M250 3l-2-2m11 10l-1-2m-56 4l-1 1m-52-1l-1 0m89 15l2-1m14 8l2-1m-56 2l1-2m-94 25l-1-2m30-7l-2 1m119 2l0 0m-46 18l-1-2m-99 3l-2 2m-53 0l0 1m11 6l-1-1m38 1l-1-1m20 3l2-1m20-6l0-1m-86 24l0 0m56-2l1 1m93 6l-1 1m62 14l2 1m-24-10l2-2m-81 5l2 1m-154 5l-2 1m47 8l2 1m2-2l-1 0m21 4l2-1m13-9l2-2m121 3l0-1m31 2l1-2m-73 13l2 1m-68 1l-2-1m1 17l0 2m87 6l1 1m-16-1l-2 2m-38 28l1 2m-48-7l-1 0m52 14l0-2m36 1l-2 2m-21 43l-2 0m456 8l2 1m-18 38l0 2m-28 30l-1-1m9-4l1-1m7 15l-2 2m-421 246l0 0m56 2l-2 1m5 23l2-2m-105 23l-2 2m80 1l0 2m17-4l-2 0m-16 10l-1 0m-5 8l0 2m-11-2l-1 1m17 5l2-1m-50 26l-2 0m16 0l2-2m7 1l-1 0m1027 0l1 2m16 12l-1 2m-1007-7l2-2m-54 7l1 1m-37 13l-1 1m39-7l2-2m1052 8l2-2m-1002 17l2-2m-51 11l-1-2m8 4l-1 0m8-2l1 2m23-6l-2-2m-113 29l0 2m93-7l0-1m19 1l0 1m1027-1l2 1m-1114 29l-2 0m1098 7l2 0m-1031 10l-1 2m-75 4l-2-2m53 0l-1 2m-18 10l2-2m-20-1l0 2m-29 18l0 1m52-2l2 2m1029 11l-1 1m-4-7l-2 2m-45-3l-1 2m-21 6l0 0m-918-1l0-1m975 10l2-1m7 1l2 2m27 11l-1 0m-8 3l1 2m-27-4l2 0m-13 1l-1-1m23 25l-1 0m-100 0l1-1m-956-8l-2 0m1045 15l2 2m47 6l-2-2m16 11l0 1m-52-9l-1-2m-33 3l0-2m-22 9l1-2m-972 3l0 0m926 16l-1 1m10 15l1-2m44-2l-2 0m86 9l2 1m-160 7l1-1m-8 15l-1 2m7-6l2 0m126 6l2 0m-97 7l-1 2m-3 24l0 1m48 5l0 2m76 21l-2 1m-115 10l0 1m102-12l0-2m-40 24l0-2m-41-5l2-2m68 12l-2 2m-15 49l1-1m224 20l0 2m-56-13l1 0m-125 9l0 1m-76-10l-2 0m-27 2l2 0m-21 10l1 0m44 0l1-1"/>
<path id="a21" d="M521 277l0-2m-94 116l-2 2m31 17l1-1m239 36l-1 2m-248-1l-2 1m220 129l2 0m279 27l1 1m-563 93l1 1m213 174l0-2m-195 11l2 2m-13-2l2 1m592 84l0 1"/>
<path id="a22" d="M1412 48l-1 2m-15 16l-1-2m-25 3l0 1m-155 13l0-1m26 0l-2-1m30 4l-1 2m16-11l-2 0m-350 32l2 1m48-11l-2 1m296 8l1 2m-69 7l-1 1m120 6l1 0m25 0l-2 1m44 5l-2 2m-18 7l0-2m-64 2l0 1m-198 0l2 1m-912 11l2-1m1179 4l-1 1m-375 6l1 2m-750-1l-2-1m-57 19l0 2m773-6l-2-2m422-2l1 1m-51 17l1 0m-252-5l0-1m-827-2l1-1m-31 13l-2 1m29 0l0-1m1129 6l0 2m-39 14l-1 0m-339-1l-2 1m-30-8l-2-1m67 16l0 0m294 7l-1 0m60 10l2-1m-21 2l2-1m-12 0l2 1m-284-11l-2 1m-48 10l0 0m-818-7l-1 1m841 15l2 2m335 5l2-1m-1193 16l2 2m1191-5l0-1m-24 11l0 2m-1059 6l2-2m-40 8l-2-1m17 4l1 2m-11 6l-2-2m130 21l1 0m5-8l2 0m969 32l2 1"/>
<path id="a23" d="M1395 9l1 0m14 12l1-1m-26-7l-2 1m-19 3l0 1m21 10l-2 1m-1081 102l0 1m7 6l0 2m-19-1l-1 0m-13 10l2-2m15 8l0-1m4-8l2-2m16 9l0 2m25 10l-1-2m-7 1l0 1m-19-1l0 0m-16-6l-2-1m-20 6l-1-1m-5 0l-1 2m-4 7l-1-1m11 1l-2 0m21 9l1-2m14-6l0 0m7 8l-2 2m17-4l2 0m39 1l-2-2m-7 10l1 0m-9 1l2-2m-40 2l-1 2m-44 0l-1 0m-1-8l2 2m68 18l0 0m54 1l0-2m10 2l0-2m801 8l-1-1m-15 1l-1 1m-56 2l1 0m-746-2l-2-1m-26 4l-1-1m-9 1l-1-2m-17-1l0 2m-6 1l-2 1m-16-5l-1 0m-15 8l0 2m35 8l0-2m1-5l0 2m46-6l-1-2m8 11l2 1m4 1l0 2m711-2l2 1m29-10l-1 0m5 7l-2 1m8-5l0-2m2 6l-1 1m8-5l-1 0m12-3l0 0m39 9l-2-2m9-6l0-2m16 20l-2-1m-6 0l-1-2m-42-6l-1 1m-18 7l2 2m-25-9l-2 1m-17 7l2 0m-702-8l0 2m-8 5l-1 1m-4-8l2-1m-21 5l2 0m-13 4l-2 1m-73-3l2 2m5 4l0-1m9 1l1-2m19 4l-1 0m36-1l2 2m3 7l1-2m17 2l2-2m24 2l2 1m2-8l-2 0m7 7l2 1m668-7l2-2m6-2l1-2m6 3l2-1m10 4l2 1m7-2l0 2m5 4l1 0m6 1l2 0m18-1l1 2m3-9l-2-2m9 8l1-2m4-1l1 1m7-3l-1 2m17-1l0 1m20-4l-1 2m126 15l2 1m-37-1l-1-1m-98 1l1 2m-25-8l2 1m-18 6l-1 1m-32-5l-2-2m-9 2l-2 1m-42-4l2-2m-659 8l2 2m-39-1l-2 0m-4 1l2-1m-75-3l-1 0m-28 2l-1 1m-15 5l-2-2m15 2l-2 2m2 8l-1 1m10-1l2 0m5-8l-1-2m8 10l1-1m4 2l-2 0m19-8l1-1m75 6l1 1m9-1l0 0m9 2l1-1m14-9l0-1m675 11l-1 1m52-11l1 2m19 1l-2 2m8 5l0 0m46-8l2 0m76 8l-2-2m41 2l-1 1m-32 7l1 0m-119 0l0 1m-39 0l2 0m-43-8l2-1m-6 10l2 2m-19-3l-1-1m-680 2l2 2m-12-2l1 1m-129-6l1-2m143 14l2 0m647 0l1-1m3 6l2-2m35 2l-2-1m2-8l-2 1m12 9l-2 1m14-1l-1-1m9 1l0 2m36-3l-2 1m7-7l-2 1m35 6l2 2m-1-9l0-1m70-2l2-1m8 10l1 2m27-3l2-1m3-3l-1 0m20-1l-1-1m7 10l2-2m-17 10l1 0m-38-1l-2-2m-14-4l0 1m-95 3l-1 2m-15-2l-1 2m-36 1l-1 1m-21 0l-2 2m-42 9l-2 0m5-6l1-2m5 9l2-1m2-5l2 1m7 1l0 1m21-2l1-1m4 6l1 0m33 1l2 1m1-10l2 2m15 8l2 2m131-13l2 0m1 11l2-2m23-8l1 1m26 17l1 2m-13 0l-2-1m-13-3l2 2m-15-6l-2-1m-163 7l-2 0m-8-7l-2-1m-25 6l0 1m-7 3l-2-1m0-8l2 0m-14 1l-1 1m-28 18l-2-2m14-4l-2 1m33 8l-2 2m6-8l-2 0m15 6l-2 1m14-2l0 0m10 1l0 1m10 5l-1 2m-25 0l-2 1m-9-4l2-2m-20 7l-2-2m-36-2l1-1m-3 10l-2 1m11 1l-1-1m29 0l2 2m2 3l0 1m12 2l-2-1m32-10l-2 0m15 9l1-1m-19 5l0 2m-61 4l-2 0m-14 2l1 1m5 3l-1-1m40 9l1 0m5-5l0 0m8-1l2-1m17 15l2-1m-23 4l2 1m-17-5l2-1m17 11l-2 2m13-3l-1-1m5 9l0 0m3-8l1 0m-821 169l1 1m4 7l1 2m1-11l1 2m11 15l-1 0m-45 1l-2 1m-24 13l0 2m3-7l0-2m1 9l2 0m10-1l2 1m7-3l-1 1m17-6l1 2m10 3l-1 0m11 1l2-1m6 1l1 0m737-1l0 2m9-2l-1 0m102 0l0 0m11 12l1-2m-7-3l-1-2m-10 6l-1 2m-23 3l2-1m-58 0l-2 2m-9-10l0 1m-10 0l0-2m-83 1l-1 0m-658 1l-2-1m-31 4l-1 2m-5-5l2 1m-13 0l-2 2m-15 15l-2 0m24-8l1-1m12 9l1 1m11-2l2 0m30-7l1 1m648 6l-2 0m32-8l1 2m43-1l2 0m56 0l2-1m2 10l-2 1m7-11l0 2m24 6l-2-1m41 3l-2 0m-26 8l1-2m-29 2l1-1m-17-2l2 0m-10 4l2-1m-13 0l2 0m-47-2l2-1m-13 2l1-1m-57 3l-2 0m-2-3l2 2m-655 4l2 0m-8-11l1 0m-5 5l-2 2m-9-2l1-2m-29 1l-2 0m-6-1l-1-2m-8 6l0 0m-36 15l1 0m8-9l2 0m5 10l-1-2m12-2l1 0m9-5l1 2m5 3l0 1m29 1l1 2m3-10l1-2m5 9l1-2m678 6l0 1m8-6l1 1m11 0l1-1m7 1l0 1m10-2l0 1m14-5l0-2m6 2l-1-1m6 10l2-2m3-6l2-2m2 8l-1 1m7-8l0-2m43 11l1 1m9-2l-1-1m23-7l-1 1m17 6l2-1m22 1l2-1m1-8l1 1m-18 16l-2 0m-15-3l-2-1m-15 2l2 2m-87-1l1-1m-9 0l0 2m-17 1l1 1m-38-4l1-2m-672 6l2-1m-34-4l2 2m-19 3l2-1m-50-2l0 1m5 13l-1 0m2-4l0 2m12-2l-1-1m2 9l-1 1m23-3l-1 1m7-3l2 1m3-6l-1-2m4 9l-1-1m710 4l-1-2m29-3l2-2m43-1l-2 1m2 3l2 2m3-8l-1-2m5 9l0 0m7-8l1 0m6 8l1 0m7-1l0 1m6 1l0-1m9-8l0 0m37 2l-2-2m16 1l1 0m4 10l2 0m10-3l1 1m-50 7l-2-2m-73 1l2 1m-12-2l1-1m-18 9l1-1m-15 1l2 0m-799-6l-1 2m-7 9l-2 1m24-3l2 0m21 9l2 1m6-3l-2-1m10 0l-2-2m721 0l1-2m4-4l0-2m25 10l0 2m21-10l2 0m35 4l1 0m3 4l-1-1m58 2l2 0m21-7l-2 2m16 4l1 0m5 0l2-2m-4 13l2 1m-51-2l1-1m-9 1l0 2m-36-1l-2 0m-6-1l1-2m-60-1l0 0m-16 1l-1 0m-6 3l1 0m-760 0l2 2m-13 6l0-2m11 1l1-2m0 11l-2 2m12-2l2-1m754-1l-1 1m39 0l-1-1m3-5l-2 2m36 3l-1 2m8-4l2 1m16 1l2 2m7-4l-1 2m12-1l1 2m8-3l-2-2m11 6l2-1m14-9l0-2m5 1l1 0m6 9l-2 2m22-2l1-1m8-7l-1-1m5 19l1 1m-10 0l2 1m-19-3l0 0m-10-3l-2 2m-58-2l-1 0m1 9l1-2m-8-7l2 2m-4 7l0 0m-8-6l-1 0m-6 1l-1 2m-7-2l2-1m-14-1l1 0m-17-1l1-1m-8 8l-2 2m-4-2l0 2m-7-7l-2-2m-37 1l1 2m-7-2l0 1m-736 1l-1 2m-10-1l-2-2m-3 4l0 0m-21-4l0 2m-12-1l2 2m-2 4l-2 0m9 0l1 1m3 10l-1 2m28-4l-2 0m12-2l0 2m4-9l-2-2m21 3l1 0m1 7l2-1m721-8l-2-1m16 8l0 2m6-7l1 2m16 7l-1-1m27 0l2-1m30-7l2 0m25 1l1 2m5-4l2-1m10 3l-1-2m21 0l2 1m2 8l-2 0m3-8l2-1m24 9l-1-2m3 7l1 1m-5 7l-1 1m-8 0l1 0m-11-1l0 2m-66-6l2 1m-22-5l1 0m-19 4l2-1m-9 0l1 2m-53 3l0-1m-740-5l1-1m-32 0l-2 0m-30 7l2-2m-6-5l2 0m-8 8l0-1m23 7l-1 1m2-6l-1 0m9 8l-1 1m766 1l-2 2m31-5l-2-2m10 4l-2-1m11-7l2-2m13 1l-1-1m4 8l2 0m7-7l0 2m10 6l0 2m7-9l1 0m14-1l1 1m39-1l0 0m12 9l-2-2m13 3l-2-2m35 2l-2 0m11-8l0-1m-39 15l0-2m-36 0l1-2m-12 3l0 1m-25-2l-2-1m-47 1l-2-1m-2 8l-2 0m-4-6l0 0m0 8l-1-2m-13-5l2-2m-15 9l-2 0m-5-6l0-2m-2 6l-2 2m-732-10l-1 1m-11 3l0 0m-60 14l-1 0m3-5l0-2m48 0l1 0m4 9l-1 1m5-10l-2-1m8 11l0 2m12-12l2 2m737 6l0 2m30 0l-1-1m12-9l2 2m5 7l1 0m9-4l-1 0m5-6l-2 0m13 1l-1 2m13 5l-2-1m16-4l0 0m2 5l2-2m26 5l-2-1m-38 5l-1-2m-10 5l-1-2m-31 6l2 0m-785-3l1 0m-13-4l-2 1m-9 0l0 2m-9 0l1 1m-17-5l2-2m-16 12l0 2m-12-12l0 0m0 19l0 1m18-2l-2-1m35 3l-1 2m37-11l-2 1m7 5l0 1m717 1l1 2m9-9l2-2m4 6l2 2m14-5l1 1m2 3l1 0m20 2l2 0m21-1l1 1m8-8l2-2m-48 16l1 0m-11 0l2-2m-736 9l0-1m-5 1l2-1m-16-3l-2-1m-38-2l2 1m-31 2l-1-1m-22 8l-1-1m5 7l0 2m13 1l2-1m20-7l-2 2m18-2l2 0m31 6l-1-1m42 0l-1 1m632 3l2 2m47-6l-1-2m6 4l-2 1m9-9l-2 0m11 2l-2 2m29-4l2 2m2 7l2 1m-5 5l0-1m-21 0l0-1m-8 0l-1-2m-7 7l0-1m-21 6l1-1m-33 0l1 0m-626 0l2 1m-25-10l-2 2m-16 0l0 2m-25-2l0 1m-29-2l0-2m-36 1l2 2m-10 2l2 0m-20 4l1-2m15 12l1 0m4-7l2 0m4 5l1 1m4-6l2 1m-1 6l-2-2m10-3l1 2m18-4l-2 2m15 8l1 1m18-5l2 0m11-6l2-2m4 11l0 2m6-6l0-1m18 5l-1 0m4-9l-1 2m10-1l1-1m4 8l1 1m18 1l-1 1m13-5l1-1m577 2l1 0m3-5l-2 0m17 7l-1-2m9 1l-1 1m18 1l0 2m33-3l1-2m8 3l2 2m17-11l-1-2m5 9l-2 2m16-10l-2-2m15 3l2-2m0 7l1-2m-9 18l1-2m-5-3l1 1m-25 3l1 1m-28 0l2-1m-24-8l1-2m-9 10l1 1m-2-6l-2 1m-3 4l1 2m-31-2l-2 0m-596 1l2 2m-18-2l2 0m-16-8l-2 1m-24 8l1-2m-4-5l1-2m-8 2l0 0m-13 1l-1 1m-9-4l0-2m-51 6l-2-1m-24 4l-1 0m-4-4l1-1m-10-1l0 1m-2 6l2 2m4 1l1 2m33 6l2-2m9 1l2-1m5 0l-2 2m25-8l-2 0m21-1l0 2m14 5l-1 0m8-1l1 2m13-7l-2-2m10 0l-2-1m16 2l-2-2m11 9l-1-2m6-5l2 0m6 9l-2 1m7 0l-1 1m11-2l0 0m592 0l-1-2m39-7l-2 1m16 6l2 1m20 1l2 1m6-5l2 0m0 12l-2 2m-17 2l1 1m-27 0l-2 0m-7-9l-1-1m-14 10l1 2m-1-6l2-1m-14-3l-1 1m-4 6l1 1m-32-4l-2 0m-568 0l-2-1m-29 4l2-1m-6-2l-2-1m-21-2l0 0m-7-2l2-2m-37 10l0-2m-32 1l0-2m-27 0l-1-1m-6-4l0-1m-11 17l-2 0m12 3l-2-1m13 2l1-1m31-7l-1 0m3 7l-1 0m49 0l2 0m18-1l0 2m10 1l0 1m22-11l-2 1m6 4l2-2m6 2l0 0m56 3l-2 1m586-9l-1-1m5 10l0-1m24-9l0 2m14 8l1 1m2 4l-2 1m-33 1l-1-2m-12 0l-2 1m-2 0l1-1m-15 2l0 2m-25-4l2 1m-531 7l-2 2m-45-1l-1-2m-25-1l-1-2m-40-1l-1 2m-13 2l1 1m-32-7l1 2m-6 5l1 0m-8-7l2 2m-48 0l1 2m-16-5l2 1m4 14l-1 0m9 3l1-1m8-7l-1-2m1 7l0 0m12 2l-1-2m3-5l2-1m2 10l2 2m8-1l0 2m37-3l2-1m1-7l-1-2m6 8l1 1m13-6l-1-1m25 7l2 2m7-2l-1 0m11 2l2 2m6-4l0 1m22-5l2-2m18 0l0-2m8 0l-1 2m561 3l2 2m0-7l-2 1m10 8l-2-2m19 1l-1-2m18 0l2 1m3-8l2 2m28-2l1 0m-607 22l1-1m-6-3l2 2m-10-2l2-2m-17 7l-2 0m-46-9l2-1m-20 3l-2-2m-29 4l1 1m-5 4l-1 1m-67-8l-1 0m-10 9l-1 0m19 0l0-1m11 8l-1 1m6-9l1 1m32 7l2 2m15-1l0 2m16-8l-2-1m5 6l2 1m17-1l0-2m6-5l2-2m8 2l-2-1m13 9l-1 2m56-4l-2 2m5 8l-2 2m-26-2l2-2m-20 8l-2 0m-34-7l1 1m-45-3l-2 1m-27-1l1-1m-26 2l-2 1m124 9l-2-1m36 6l-1-1m-348 76l-2 1m44 0l0-1m5 5l1-1m-6 11l0 1m-14-11l0-2m-6 10l2 2m-22-1l0 1m-9-2l2-1m-24 9l-2 0m20 2l-2 0m42 2l0-1m7-1l-1-1m48 16l0 0m-31-2l-1 0m-9-3l-1-1m-10 0l-1 0m-5 5l-1-2m-15 2l0 1m-6-6l1-1m-32 8l-2 1m35 5l-1-2m10-3l-2-1m20 7l-1-1m4-6l-1-1m30 2l1 2m1 4l-2-2m35 11l1-1m-7-1l1 2m-26 7l2-2m-17-7l-1 2m-1 5l1 0m-48 1l0-1m-40 9l0 1m9 0l1 1m13-6l0-2m10 9l2-2m11-7l1-2m5 7l2 1m6 3l-2 2m14-4l-2-1m8-5l1-2m-1 7l-1 1m18-6l-1 2m7 2l2-2m4 6l-2 2m14-4l1 2m18-8l0 2"/>
<path id="a24" d="M1270 131l0 1m-16 4l1-2m-11-1l1 2m-426 18l-2-1m39-6l-1-1m49 7l1-2m7 3l0 0m16-1l-2 2m361-7l2 1m2 2l2-1m6 1l-2 2m7-5l1 0m5 21l-2 2m-138-3l0-2m-359-4l1 2m-25-1l0-1m-22 5l2 2m-11 0l0-2m-17-1l1 0m-33-7l-2 0m-11 1l0 1m-29 7l2 0m-26 7l-1 1m87-1l2 1m26-3l-2 0m180 5l1 0m6-7l0 1m198-2l-1-2m18 1l1 2m149 7l-2 2m-1 10l-1 0m-192-6l0 0m-287 8l1-2m-11 1l0 2m-89-12l1 1m-87 16l1 0m30 6l0-1m297-5l-1 0m211 5l-2-1m7-2l0-2m9 1l-1-2m112 0l0-1m6 2l2 0m-106 8l-2-1m-53 7l-2 1m-30-7l1 1m-22 4l1-2m-478 9l2 1m360 3l1-1m8 6l2-1m7 2l1 1m148-11l2 0m75 11l-1 0m60-2l-2 0m-3 10l-1-2m-267 1l2 1m-43-1l2-2m-154 11l-2 2m132-5l0 0m316 8l0 1m-32 5l-2 1m-207-1l-2 0m-383 19l0-2m10-1l1-1m155-5l2-1m-69 17l-1 2m-4 2l-2 0m-84-1l-1 0m-16 3l-1-1m-1 10l1-2m276-5l1 1m75 5l-2 1m14 4l-1 0m66-7l-2 1m2 15l2 0m-13-2l-1-1m-425 10l2-2m427 3l-1 1m0 7l1 1m-297 7l-2-2m-6 1l1 0m-130-1l0-2m-10 3l1 1m-15 5l1 1m165 0l0 2m292 12l2 2m-106 0l2-2m-387 6l0-2m-64 12l1-2m10 2l2-1m556 15l1 1m-12-6l0 1m-557 2l-1 2m-3 7l-1 2m136-3l0-2m392-1l-1 1m46 9l-1 2m94-13l-2-1m-151 16l-1-1m-517 0l0 0m-1 6l-1 1m-3-6l0 0m537 19l-1 0m73-4l0-2m10 6l1-1m-1-5l-2 1m58-3l-2-1m17 9l0 1m-28 8l-1-2m-22-5l-2-1m-26 1l1 2m-230 6l-2 0m-41 13l0 1m38-1l-1 1m7-10l1 2m120 6l2 2m187-1l1-1m1 14l0 1m-7-8l-2-2m-265 4l0 2m-175 4l1-2m-22-6l1-1m-248 9l-1 1m-16 8l-1-1m224 1l-1 1m24-8l0 2m51 3l-2 1m378 9l2 2m-8 4l1-1m-380-3l-1-2m-196 7l-2-2m-17-4l2 0m-16 4l-2-1m-2-7l0 2m-9 3l-2 2m-57-3l0 0m25 12l1-1m83 3l2 2m316-2l1 2m334-4l-1 2m-3 15l2 0m-448-9l-2 2m-142-3l1 1m-55-1l0 1m-31 1l2 0m-117 15l2-2m792 2l-1 0m4 7l-1-1m-613 8l1-1m-192 2l1 1m190 13l-1-1m83 0l1 2m537-2l-1 0m-5 10l1-1m-112 0l0-2m-6-4l-1-1m-323 5l2-2m-11 4l-1-2m-350 4l2 2m-3 11l0 0m171-5l-2 1m5 2l2-2m49 6l0 1m124-13l-1-2m18 7l-1-1m7 6l2-1m240-5l0-1m9 7l2 1m66-2l-2 1m106 7l-1-1m-141 7l1 2m-278-6l0 0m-124 3l-1-2m-3-4l-1 0m-78 0l0 0m-6 2l1 0m-180 6l1-2m-7 2l2-1m-8-5l1 0m-8 5l-2 1m-2-4l0-1m9 13l1-1m113 2l-1-2m65-6l0-2m5 7l-1-2m179 3l0 2m456-6l-2 1m15 2l1 0m-7 11l-1 1m-48 4l2 0m-74-6l-1 2m-11-5l-2-1m-6 10l-1-2m-88 4l-1-2m-3-6l-1-1m-149 9l2 1m-7-7l-1-1m-261 5l2 1m-7-6l1 1m-151 4l1-1m-28 2l-2 2m0-7l-1-2m195 10l2 2m6-3l-2-2m166 2l0-1m34 2l2-2m6 1l2 0m10 6l1 2m33-3l1 1m120-1l-2 2m71-1l0-1m15-6l-1 1m23 8l2-1m24-3l1-2m39 4l-1 1m52-2l2-1m17 0l-1 1m33-5l2 0m-97 11l1-1m-36 4l1 0m-10-2l2 2m-67 6l0 0m-3-8l2-2m-5 8l0-2m-18-2l-1 1m-140 8l-2 2m-18-11l-1-1m-34 2l0-1m-10 2l-2 2m-2 0l1 2m-117-7l0-1m-5 0l-1-1m-24 9l-2 2m-5-1l-2-1m-245-6l-1-1m201 14l-1-2m193 9l2 1m74-1l2 0m90-4l1 2m76-4l-2-1m-29 9l2 2m-5 4l0 1m-46-6l1 1m-565 5l1-2m3 10l2 0m232 6l-1 2m161-8l-2 1m83 0l0-1m150-1l0 1m1 14l2 2m-131 1l0 2m-106-11l-1 2m0 3l-2-1m-100-3l-2-1m-3 4l1 2m-50 1l-1 0m-231 0l2 2m-6 4l2 1m489 7l-1 2m140-2l2 1m-146 5l-2 1m-147 7l-2 0m-103-1l-1 2m-193-9l-2 2m453 14l0 2m83-3l-1 0m36 4l0-1m8-3l-1 0m10 2l-2-1m-137 10l2 0m-10 0l-2 2m-207-4l-2 1m-6-2l1 2m-90 6l-2 2m-5-10l-1 2m-84 16l1-1m529-7l-1 0m16 19l2 0m-2-5l-1 0m-137 8l-2 1m-15-10l-2 2m-14 0l2 1m-10-1l-1-1m-12 5l2 2m-17 0l-1 1m-93-9l-1 0m-237 1l-1-2m-1 18l0-1m540 4l2 2m-199 10l-1-1m-206 12l0 1m93-4l1 1m101-6l2-1m10 4l-1-2m5 11l1 1m35-11l2 1m14 8l2 2m56-2l-1-1m81 5l-2 2m-118-2l1-2m-6 5l-1 1m-69-2l-2 1m-317 1l2 0m237 12l1 0m81-7l2 0m78 2l-1 2m120-3l0 1m9-2l-2 0m6 21l-1-1m-136 1l-1-2m-72-1l1 1m-6 2l2-2m-310 5l0-1m147 8l-1-1m18 2l-1-2m121 3l-1-1m240 4l2-1m-58 12l-2 0m-9-4l0-2m-5 6l-1-1m-36 1l-1-2m-9 0l0-1m-21-5l0-1m-2 6l2 0m-11 0l1-2m-59-2l-1 1m-166-1l1 0m-16 7l0 0m-82-6l1-2m-5 5l-1-1m-3-4l-2 2m64 10l0-2m22 5l1-1m19-1l0-2m33 2l0-2m187 5l2 2m8-6l0-1m7 4l-1 2m11-2l0-1m7-2l0 1m88 0l1-2m14 9l0 1m7 0l1-2m-214 10l0-2m-21-6l1-1m-13 11l0 2m-76-6l-2-2m-1-3l-2 1m-13 5l2 2m-57-8l-1 2m-28-2l-1 2m165 12l-2 2m41-3l0-1m-49 11l2 1m-2 11l-2 0m-106-4l-2-1m68 5l-1 2m115 7l-1 0m82-7l1 2m22 4l-2-1m14 8l2 0m-10 1l-1-2m-82 8l-2 1m-29-8l1-2m-11 9l2-1m-39 3l1-2m-89-3l0 1m-16 2l-2 1m-8-6l1-1m-29 2l0 0m-22 6l0-2m9 2l1 2m29 4l-2-2m8-4l-1-1m128 3l-1 1m18 5l-2-1m63-5l0 1m33 6l-2-1m57 5l-1 0m-16 3l1 0m-284 0l0 2m-9-5l-1 1m-20 2l1 0m-1 5l-2-1m144 10l-1-1m286 7l1-1m-101 8l1 2m-152-5l1-2m-9 6l-2 1m-45-7l0-1m-35 7l1-2m-13 1l1 1m-13 1l1 2m-22 7l-1-1m26-2l0-1m292 8l-2 1m-11 9l0-2m-159-1l1 2m-10 1l0-1m-151-1l2 2m-131 15l-1 0m8-1l-1-1m73-4l0 0m214-5l1 0m81 10l0-2m71 3l2 1m108 12l1-1m-254-5l2 2m-200-1l-2 1m-69-8l1 1m-31 2l0 0m-9 5l1 1m-77 14l-1 0m52-5l-2 1m5-5l2 0m17-1l-1-2m273 1l1-2m179 2l0 2m102 7l2 0m24-1l1 2m8 5l-2-2m0 11l1-1m-45-2l2 1m-79 2l2 1m-5-10l1 0m-179 7l0 2m-61-1l1 1m-254-6l2-2m-32 5l-1 1m-32-1l2-2m-51-1l-1-1m399 12l1 1m249 6l2 0m82-5l0 2m20 10l2 1m-96-7l1 0m-26 1l0-1m-318 1l-1 0m-98 6l0 2m-17 0l-1 1m-6-2l-2 2m-216 0l0 0m283 12l-2-1m497-6l1 1m9 0l-2 0m-112 15l1 0m-24 0l-2-1m-325-1l-1-1m-19 5l-1-2m-244 8l2-1m-2 9l-2 2m126-11l-2 2m256-3l0 0m8 9l2 2m149-3l2-1m12-8l1 2m179 7l2 0m-761 13l-2 1m-3-5l0-1m-44 14l2 2m742-9l1-1m6 12l0 0m31-5l2 0m5 7l-1-1m-7 2l0 0m-29 2l-1 1m-13-3l1-2m-644 10l0 2m-124-10l-2 1m117 15l-1-2m27 1l2-2m75 1l2 2m553-2l1 1"/>
<path id="a25" d="M1419 4l1 0m-53 24l0 2m11-1l1 0m-1091 103l-2-2m10 1l1 1m17 0l1-2m-9 19l-1 2m-21 13l-1 2m-4 7l-2-2m53 2l2-1m11 6l2 0m2-9l1 1m12 9l-2 2m13 6l-2 2m-26-1l0 0m-6-2l0-1m-21 10l0-1m1 10l1 2m33-10l2-1m27-1l1 2m733 13l0 0m-12 4l1 0m-724 0l-2-2m-34-5l1 2m-60 9l-1 1m62 0l-1-2m14 11l1-1m22-7l2-2m736 2l1 1m65 0l0-1m-2 17l1 1m-10-3l-1 1m-8-1l-1 1m-14-5l-1 1m-15 5l-1 1m-26-7l1 0m-7 5l2-1m-720-1l1 0m-28 5l-1 1m31 6l2 2m720 4l-1 2m11-3l-2-1m24-9l-1-2m5 11l2 0m27 2l-1-2m32-5l-2-2m121 16l-2 2m-4-1l0 2m-21-1l-2 0m-72 1l-1 0m-8-1l-2 0m-809-7l-2 2m-29-2l1 1m-80 5l1-1m-5 0l-2 1m-7-7l2-2m110 16l2-1m7 2l0 2m681-4l-1 0m9 2l-1-2m9 9l0 1m27 1l1 0m18-3l-1-2m1-2l-1 0m23-1l2 1m14-3l1-1m40 11l-1 2m71-11l1 1m60 7l-1 0m-24 8l1 2m-6-8l0 0m-21 7l2 1m-87 0l0 1m-9-4l-1-1m-10-3l-1 0m-33 2l2-1m-17 6l0 0m-14-9l0-2m-5 10l-2 0m-7-1l1-1m-36-5l1-1m-660 7l0 1m-9-4l0-1m705 9l1-1m35 6l-1 2m174 2l1 1m31 11l-1 2m-202-3l-1 2m-17-3l-1-2m-10 17l-1 1m32-2l-2 0m205 0l-1-2m-281 10l2-1m-34 12l2 1m21 7l1-2m16-1l0-2m31-6l0 0m32 12l2 1m-6 6l2 2m-40-6l-1 0m-16 4l-2-1m-5 1l2 1m-33-4l1 2m19 16l-1-1m8-1l-2-2m30-3l2 0m9 6l-2 1m9-9l0 0m4 8l-1 0m18 1l0 0m-32 10l-2 0m-46-4l2 1m33 8l0 0m11 9l0 0m30 0l2 2m-1-11l-1 2m-14 29l-2 1m-820 168l-1-2m33 3l-2-1m-24 13l1 0m-14-3l0 0m-13 6l-1 1m8 0l2-1m27 2l-2 2m855-3l2 1m-19 16l0-1m-13 4l1 0m-109-7l1 0m-14 3l-2 2m-12-5l2-1m-10 3l-1 1m-689 1l1-2m-67 14l2-1m12 2l-2 0m16-8l0-1m9 2l-1 2m734-4l2 1m1 11l0-1m9-4l2-2m46 5l1 0m25-3l0 0m9-6l-1-2m7 3l2 0m1 9l2 1m19-5l0 0m48 16l0 0m-55-5l1-1m-22 7l-2 2m-65-9l1-1m-703 3l2 0m-59 5l2 0m-26-4l2 1m-10 2l2 2m-11 9l0 2m27 0l-1 1m774-6l-1-2m47-4l-1-1m62 8l2 2m25-10l1 2m22 0l-2 0m-51 17l1-1m-23 5l-2-1m-12-3l0-2m-35 2l2 1m-67 0l-2 1m-25 3l0 0m-676-7l1-2m-51 12l0 1m33 5l1-2m12-4l-1 1m12-1l2-1m676-2l2-2m7 4l1-1m28 0l1 0m17 2l-1 1m38-1l1-2m48 1l-1 0m43 17l-1 1m-34 0l-2 1m-9-2l1 2m-37-2l0 1m-7-6l-1-2m-29 5l0 2m-65 0l-1 1m-7-1l2 0m-716 5l1-1m-27 1l1-2m20 5l1 1m11 4l2 2m694-10l-1-1m22 8l1 2m3-6l-2 1m8 5l-2-2m47 0l0-1m6-2l-1-2m4 6l2-2m26 5l0 2m21-4l0-2m2-7l2 0m19 3l2 1m15-4l-2-1m27 1l-2-1m15 4l-2-1m-14 22l2 0m-4-6l-1 1m-18-1l0 0m-36 6l-2-1m-9-4l2-2m-36 6l2 0m-60-4l-1 1m-756-3l2-2m-12 0l0 1m-24 0l2-2m766 14l-2-2m3 6l2 2m3-7l1-2m17 2l0 0m37 4l1-2m11-5l1 1m5 8l2 1m26 1l0 0m9-8l2 2m86-4l1-2m-39 16l1 0m-104 1l1-2m-6 8l-2-1m-38-3l-2 0m-781-3l0 1m-6-1l2-2m-23 20l-2 2m60-1l2 2m729-4l0 0m28 3l-1 0m23-1l-1 2m7-4l-1-1m26-6l-2 1m9 0l-2 1m35 6l-1-2m66 3l1-2m16 3l-2 2m7 4l-2-1m-18 3l1 0m-6 0l2-1m-48-2l2 0m-6 7l0 2m-56-2l1 1m-43-8l1-1m-20 3l1 2m-737-4l2-2m-42 10l-1-1m-31 12l0 0m810-9l-1 1m26 8l1-2m11-3l0 0m64-3l1 2m68 3l2 2m-48 14l-1-1m-40-4l0 1m-27-2l-1-1m-14-2l0-1m-48 3l-1 1m-771-2l-1 2m-6 6l0 1m-12-11l2 1m-20 17l1 0m9 0l-1 2m26-2l1 2m29 0l0 1m28-4l-2-2m711 4l-2 1m17-9l-2-1m29 10l-2 2m33-1l1 2m10-11l-1-2m50 2l-1 2m1 10l1 2m-112 0l-1 1m-14 7l2-1m-6-4l-1-2m-711 6l-1-2m-55 2l-1 2m-7-2l-2 1m-11-7l0 0m0 8l2 1m48 5l-2 2m16 2l-1 1m768-10l1-2m0 11l0 0m33-8l-2 0m-68 14l-2-2m-720 8l0-1m-32-8l-2-1m-50 12l1 2m58 3l0 1m47 2l1 2m633-3l0 0m74 0l-1 2m7-1l1 2m4-8l2 0m3 6l0 2m0 12l-1 2m-9-2l2-1m-10 1l2 2m-35-7l-1-1m-725 1l0 0m-13 6l-2-2m-13-6l0-2m-7 2l-2 0m-43 19l2 0m8-4l-2 0m93 0l2-2m670 5l1 0m4-9l2-1m46 11l0-2m7-8l2 0m20 8l-1 0m8 1l-2 2m19-10l-1 2m-30 18l2 0m-55-3l-2-2m-10-2l1 0m-16 3l-1 0m-582-1l-1-2m-77 8l-1-2m-26 1l-1 1m-30-9l0-2m-35 5l-2 1m9 14l2-1m11-7l0 0m32 6l-1 2m19 2l1 0m48 0l-1 0m626 1l1-2m8 1l0 2m13-11l-2 1m33 9l1 1m13-5l-2-1m33-6l-1-2m14 11l2 0m-16 6l2 2m-11-3l2-2m-23 3l-2-2m-6 1l2 1m-54 3l0 2m-11-5l-1 2m-691 0l2 2m-43 8l-1 1m52 2l1 0m23-5l-2 1m14 7l1 0m27-3l-2 2m14 1l0 1m41-10l1 2m7 1l-2 0m5 5l-2-1m555 1l0-1m69-6l-1-2m8 7l-1-1m10 3l1-2m23-6l0-1m-32 19l1 2m-3 3l0-1m-20-1l2 2m-22-2l1-1m-21-5l2 2m-566 1l0-1m-14 2l-1 2m-27-3l2 2m-33-5l1-2m-6 10l2 1m-26-11l-2 1m-92 10l0-2m36 4l1-1m93 0l-1 0m81 0l-2-2m563 2l2 2m28 11l-1 2m-605 1l1 1m-47 0l-2-1m-19 2l1 1m-27-6l2-2m-33 7l2-1m-25-5l1 1m-29 1l1 2m-14 2l1-1m45 8l2 0m19 4l1-1m14-5l0-2m50 10l-2 0m18 0l-2 2m-10 5l2 2m-28-2l2 1m-20-3l2-1m-16 11l1-2m-43 1l1 0m36 10l-1 0m110-3l1-1m-308 78l1 1m29 7l-2 1m-4 4l-1-1m-69 4l-2-1m72 8l2 1m9-8l-2-2m16 6l1 0m9 0l-2-2m-24 9l0 1m-35-1l-2-2m-24 6l-2 2m-17-1l-1 0m62 13l2-1m49 4l0 1m7-6l1 2m-13 14l2 0m-68-4l1 1m-10-2l-1 0m46 13l2-2"/>
<path id="a26" d="M1278 143l1 2m-2-12l-1-1m-28 4l-2-1m-9 5l1 1m-17-2l-1-2m-15 1l0-2m-4 7l-1-1m-366 10l2 0m17-2l-2-1m336 2l-2 1m120 9l1 0m-111 6l0 2m-32-2l2 2m-229-8l0 2m-40-6l-1 0m-15 1l1 1m-5 3l-1 0m-172-4l2 0m-23 11l0 1m78 3l-1-1m108-4l0 2m6 5l2-2m295 7l-1 2m37-13l-1 1m104 10l0 0m-150 0l1-1m-222 4l-2 2m-269 6l1 2m-26-5l2 1m26 11l2 2m620 11l2-2m-100-6l1-1m-12 1l1-1m-12 7l1 2m-10-3l0-1m-9 5l-2 2m-56-9l2 1m-129-1l1 0m-7 7l0-1m-341 6l0-2m361 9l2-1m19 10l0 0m-55-6l0-2m-232 7l0 0m-12-6l1 2m-63 20l1-2m164-7l-2 2m420 5l0-2m32 13l-2 2m-7 2l0 1m-26-8l2 0m-212-2l-1 2m-368-1l0-1m155 17l0-2m425 11l2 1m-185 4l-1 0m-400-8l0 0m-9 0l1 0m10 15l2-1m412 11l-1 2m-435-4l-2-2m424 35l1-2m-464 8l-2 1m-3 15l2 1m-52 7l0 0m8-1l-1-2m414 2l1 2m93 3l2 0m6-7l-2 0m-554 14l-2 1m288 9l0 1m280 4l2-1m8 5l-1-2m3 5l2 2m84 6l-1 2m-249-7l1 1m-289 0l2 2m-10 1l-2 2m545 14l2 2m-22 7l-2 2m-78 0l0-2m-198-2l1 2m-369 0l2-1m-20 16l-2 2m18-9l2 1m191 7l-1-2m5-7l-2-2m22 11l-1-2m29 1l1 1m6-1l1 1m228-11l-1 2m208 0l0 0m-452 9l2 0m-255 7l-2-2m-34 17l0 2m23-3l2 1m144-1l1-1m315-7l1 1m53 9l-2 1m208-5l2 1m-473 14l1 0m-182 0l1 1m-15 0l-1-2m-7-7l1-2m-25 5l2-1m-11 0l-2 2m-3 5l0 0m-4-7l0-1m-18 4l0-2m-23 6l1-2m-4 12l2-1m759 5l-1-2m-221 5l-2-1m-202 2l0-1m-219-2l-1 0m-4 1l-2 2m-8-1l2 0m-15 6l-2-1m-9 0l2-1m-38-6l-2 2m-41 0l1 0m-5 6l2 1m687 5l0 2m-492 7l1-2m-84 9l2-1m562 10l-1 0m6 4l2-1m-25 11l1-2m-497 3l-2 1m-76 14l-1 0m27-2l-1 1m72-7l2-1m136 1l1-2m205 1l-2 1m242 0l2 2m-98 17l2 0m-9-5l1 0m-223 0l0-2m-134 8l-1 0m-48-5l1 1m-4 5l0-1m-15-6l-1-1m-3 1l0 0m-99 7l-1-2m-30-5l1 1m-148 1l-2 1m-26-3l0-1m328 17l-1 1m427-7l-2-1m70 1l1-2m32 7l-1 0m4 8l-2-1m-8 3l2 0m-14 4l-1-2m-85 3l-1 1m-147-8l0-1m-6 6l1 2m-8-1l-1 1m-263-10l0 1m-131 2l2 0m-151 7l-2 0m207 13l-1-1m23-4l-2 0m50-5l0 1m91 2l-2-1m42-4l0 1m176 6l-1-2m76 2l2-2m39-4l0 2m38 3l1-1m63-5l2-2m-219 24l2 1m-118-2l-1-2m-35-3l-2-2m-212 0l-2-2m-25 2l-1 2m183 12l-2 2m205 4l-2 0m25 4l-2-2m-63 11l1 0m-98-10l-1 1m-468 18l-1 2m210-6l0 2m182-4l1-1m108 11l2 1m103-10l-1 2m-116 8l2-2m-116 6l-2 0m-365 9l0-2m12 7l0-2m369-4l1-2m95 23l-2-2m-96-3l1 1m-60 0l0 2m-93-5l-1 1m-18-1l1-2m349 19l1-1m35-1l0 2m-527 22l-2 0m27-1l0 0m1-4l-1 1m102 4l2 1m18-7l1 1m3 5l1 2m178-8l-2 2m72-2l-2-1m149 5l-2-1m-161 16l-2 0m-15 1l-1 1m-16-2l2 1m-3-7l-2 0m-8 1l2-2m222 31l1 2m-8-7l1 0m-426 3l0-1m-118 1l2 1m-1 9l1-1m119-2l2-1m232 6l0 2m48 3l1-1m53-5l-2-2m86 6l-1 0m7-8l0 2m-326 21l-1 2m-3-6l0 2m-182 13l0-2m182 1l-1-1m7-2l-2 2m195-1l-2 2m7 9l0 1m-366 4l-1-1m-20 0l-2 0m11 9l0 2m22-1l0 0m120-1l-2 2m31-2l-1 0m119 0l-1-2m224-1l1-2m4 13l0 1m-167 8l0-2m-53-3l2 0m-5-3l2 0m-158 0l-2 2m-96 3l2 2m3 8l-2 0m11-1l-2 0m44-1l-1-2m61 2l0 0m16 1l2-1m3 5l-2 0m83 2l-2-1m39-4l0-1m2 5l-1-2m52-2l0 2m152-2l0-1m-436 13l1 2m-5-7l-1 2m-9-4l0-1m66 24l0-2m6 2l-1 1m9-3l0-1m4-3l-2 2m27 10l-2 0m-22 18l0 2m67-12l2 0m3 0l-2 2m111 8l-1-1m75-7l0-2m-19 15l-1 2m-52-3l2-2m-81 11l1 1m-101-7l-2 0m0 5l2 1m-51 8l-1 2m184-8l2-2m101 1l-1 0m7 5l0 2m30-6l2-2m123 23l0-2m-119 0l2 0m-49-7l0 0m-6 9l2-2m-12-6l0 0m-252 2l-2 0m-16-3l1 2m450 15l1 0m-4 13l1 0m-5-5l2 0m-91 7l2 0m-222-7l0 2m-62-4l1-2m-48 22l2 1m24 1l-2-2m307-3l-2 0m-339 6l-2 0m-16 5l1 1m-71 15l1-2m44-3l2-1m18-2l-1-1m176 9l-1 1m297 5l1 0m-522-3l1-2m-174 22l0-2m112 3l-2 2m300-1l-1 2m26-9l-2-1m256 5l0-2m10-3l-2 0m-273 13l1 1m-18-3l-2-2m-316 7l-1-1m-27 0l-1 1m-12-3l-1 2m-10-4l-2 1m-17 8l-1-1m-72 15l-1-1m23-6l1 1m4-5l-2-2m7 7l1-1m195-1l-1-2m30 3l-2 1m240-1l-1-1m166 1l-2-1m98 3l-1-1m31 7l0 1m-361-2l-1-1m-179 3l-2 0m-215 15l0 0m27 1l2-2m5 1l-1 2m197 5l-1-2m84 0l2-2m126 4l1 1m-177 6l-1 1m-214 1l2-2m-21 9l-2 1m3 4l-2 1m58-8l2-1m191 5l-1 1m483 13l-1-1m-60-3l1 1m-7-5l2 1m-120 0l-2 0m-536 3l2 0m-19-4l-1 0m-29 6l2-1m-67 31l0-2m-4 8l-1-2m195 4l2 1m43-4l2 1"/>
<path id="a27" d="M1416 42l-1 0m-43 18l0-1m30-3l-2 1m-164 17l1-1m117 15l-2 0m-378 16l1-2m102 6l2-1m232-4l2-2m65 11l2 0m-220 0l-1 1m-15 2l0-2m-61 0l-2 2m-89-3l1 2m238 7l-2 2m42 4l-1-2m56 13l2 0m-126-2l-1 1m-299 1l-2 0m174 9l0 0m60-1l-1 0m3 7l0-1m204-2l2 0m-239 15l0 0m-12-3l-1 0m-56-4l-2 0m-775 11l1 1m739 4l2-2m44-2l-1-2m283 5l-2 2m26 16l1-2m-4-5l0 2m-23 6l-1 2m-14-3l-2-2m-256-8l0 0m-83 2l2 0m29 10l0 0m414 13l2-1m-367 2l-2 1m-21 1l0 1m-26-4l2-2m79 20l-1 2m11-6l2 0m241 0l-2 0m47 3l-2 2m-66 4l-1 1m-232 1l-2 2m-868 6l-2-2m7 10l-1-2m852 6l2-1m5-3l2 0m301-2l2 1m-321 9l-2 0m-834 16l1 1m162 3l2 0m670-5l-2 2m16 3l2 0m310-9l0 1m42 9l0 2m-14 7l0 0m-13-9l0 1m-26 7l-2 2m-1102-1l0 1m-52-7l0-1m1 12l-1 2m59 6l1-2m1105 4l-1-1m35-5l0 1m-22 6l-1 2m-969 4l1-1m-67-4l1 1m-106 5l0 0m78 5l-2 1m56 1l1 1m-14 22l0-2m995 26l1 0"/>
<path id="a28" d="M406 21l2 1m-106 2l2 1m47 57l2 0m230 17l0 1m66-2l-2 1m-323 27l-1-2m108 4l0 1m85-2l2-2m30 8l-1 0m-64 45l-1 2m-17 87l-2-2m-125 113l-2 1m30 53l-2-2m942 6l-1 2m112 18l1 2m-187-9l2-1m-831 18l2 0m931 4l2 1m-945-3l-2 2m983 15l0-1m-39 27l-2 0m-992 23l-1-1m1032 17l1-1m-13 8l-2-2m11 1l0-1m-55 42l-1 2m-505 113l2 2m-460-2l2 2m35 38l0-2m-296 254l1 0m-12 7l-1 1m100 9l-2 0m12 37l1 2m45 15l-1-1"/>
<path id="a29" d="M31 124l0 1m803 25l1-1m5-3l0 2m-805 23l0-2m21 32l2 0m13 2l-2 2m-9 6l0-1m360 23l1-1m-6 3l-2-1m-321-3l-2-2m-36 5l2 2m-15 15l0 0m31-5l0 1m58 1l-2-1m-93 6l-1 1m-2 3l-2 0m-24 14l2 2m25-1l-2 2m82-6l-1 1m54 4l-2-2m271 3l0 0m-334 13l-1 1m-13 0l-2 0m-18 4l2 1m5-2l-1 1m140 2l-2-1m1200 19l-2-1m-1203-4l-1 2m-59-3l0-2m-55 1l-1-2m-49 9l-2 1m33 4l-1 0m1332-3l1 0m5 13l1-2m-8 10l0-1m-7-7l1 0m-1102 0l2 1m-14 0l1 1m-213 1l-1 0m-7 3l1-2m-58 1l1-2m19 8l2 2m73-4l1 1m74 10l-2 1m60-5l1 2m21 1l1-1m9-6l-1 0m1139 1l2-2m5 11l1 1m-9 5l0-2m-15 0l-2-1m-58 4l1 2m-773-4l0-2m-27-3l-2 0m-252 4l0 1m-77-6l2 2m-9-2l-1 2m-41 4l-2-2m-125 3l1-2m100 18l2 0m8 1l2 2m78-6l1-1m58-1l2 2m1132 0l-1 0m10 5l-1 1m-50 6l2-2m-1109 5l-2 1m-85-12l-1 1m-17 0l0 0m-63 7l1 0m-25 6l-2 1m24-1l1 1m137 7l1 1m1166-9l0 0m4 10l0-2m-1110 7l0 0m-33 0l2 1m-159 10l-1-2m20-1l0-2m40 10l1-2m20 2l-1 2m109 7l1 0m-84 3l-1-2m-36-6l1-2m-39 5l0 1m-92-1l2 1m172 16l1-1m26-7l1 2m-17 12l0 1m-23 2l-1-1m-46 2l0 0m-14-2l0-1m-62 0l2 0m12 14l2 1m52-1l-2 1m152-2l0 2m-25 14l-2 1m-8-2l0 1m-86-9l0-2m-162 15l1 2m45 4l-1-2m35 5l-1 0m26-8l-2 1m56-3l-1 0m12 18l-1-1m-69 5l2 1m-70-1l1-1m-19-4l2 1m7 17l-1 1m85-5l-1 1m80-1l1-1m54 7l-2 0m-53 0l0 1m-25 4l-2-2m-66-4l2 0m-41 14l1 1m91 6l-1-2m111 15l0-2m-73 1l-1 2m-54-9l-2-2m-4 11l0-1m-29-7l1 1m-83 5l0-2m255 24l0-1m-140-2l-1 2m-94 0l-1-1m-15 15l1 2m8-6l1-2m1 8l-2 2m68-2l0-1m159-2l-1 2m-236 24l-1 1m74-8l-1 2m1159-1l-2 0m109 9l1-1m-89 11l-1-1m-13-5l-1 1m-52 1l-1-1m-1160 16l1 2m20-9l-1 2m4 3l0 0m11 4l-2 0m1318-2l0-2m14 12l1 1m-66-1l1 1m-13-1l1 0m-43 17l-1 2m66-5l2 1m30 1l1 1m7-3l-1-1m-14 10l-2 1m-1333-4l-1 1m3 12l0-1m1228 8l-2-1m39-4l2 2m54-3l-2-2m30 4l2-2m-11 14l2-2m-54 3l2 0m-69-8l-2-2m-1199 5l-2 2m-35 16l0 0m45-1l2-2m19 4l-1 0m1146-1l-2 1m76-9l-2 2m12 4l1-2m5-5l0 1m90 6l-2 0m-16 16l2 1m-41-9l-2 2m-57 5l1-1m-41 3l1-2m-10 2l-2-1m-1186 8l-2 0m-10 10l0-1m-56 17l1 0m28 1l-2 0m1242-3l0-1m59-5l-1 1m44 20l-1-1m-18 2l2 2m-90-8l-1-1m-1241 2l-2 2m1302 13l0-2m32 7l1 0m-1334 5l-2-1m-1 15l2 2m3-8l0-2m1375 9l1 2m-95 6l-1-1m44 17l2 2m41-10l-1-2m10 19l0 0m-1357 7l0 1m61 6l2 0m1145-6l0 2m20 17l-2 0m-10-6l0 0m-14 24l2 1m-1143-3l1 1m-96 20l-2 1m43-3l-2-1m1216 15l1 0m34 18l-2-1m-62 0l2 2m-1070 18l-2 1m1088-6l0 1m69-6l1 2m-1194 14l2-1m10 8l1-1m50 8l-1-2m1032 2l-1 1m71-2l1-2m14-3l-1-1m115 20l-2 2m-149-9l1 0m-996 16l2-2m924-2l-1-1m127 5l0 1m83 1l1 0m-34 7l2 1m-96 5l-2-1m-72-2l0-2m-962-2l-2 2m1037 22l0 0m-32 4l0-2m-13-3l1 0m-1176 8l-1 0m-7 1l1 2m1160 9l-2 0m-15 10l0 0m-1117-7l0 0m-28 5l2 1m1145 14l2-1m96 2l2-1m25-6l2 0m74 17l-1 1m-77 0l2 1m-5-6l0 2m-29 3l1-2m-67-4l2 0m-97 0l-2 2m-2 5l1 0m14 8l2-2m37 0l-2 2m22 7l2 2m7-9l1-2m57-1l0-2m48 12l0 0m75-8l2-1m30-1l0 0m-82 16l2 1m-17-3l2 1m-29 7l-2-1m-148-5l-2-2m-7 1l-2-2m-7 7l0-1m-987-3l-1-2m942 16l-2 2m184-4l-2-2m22 4l0-2m77 7l-1 2m-173-1l2 1m-979 18l0-1"/>
<path id="a30" d="M1262 61l2 1m-480 85l2 2m-276 113l1-2m24 41l1 1m-47 30l0-2m-74 39l1 0m52 31l-2-2m-15 4l2-2m-22 15l-2 2m755 4l2-2m23 17l1-2m-21 26l-2-2m17 59l0 1m16 41l-1 2m-862 149l2-2m-70 86l2 0m174 18l1 1m100 43l-1-2m-196 21l2 1m238-2l1-2m-217 37l2 2m153 15l0 1m-122 32l0 0m42 6l-1 2m540 6l-1 1m-28 7l2 0m-13 27l-2 1m15 24l2 0"/>
<path id="a31" d="M703 168l-1 0m82 15l-1 1m103 41l-2 0m-237 18l1-2m250 7l-1-2m86 8l-1-2m24 20l-2 2m-210 20l2 1m8-3l-1 0m-212 56l1-1m436 7l-2 2m-76 0l1 2m-58-7l2 2m-357 58l-2 2m344 54l-1 0m126 11l1-2m20 5l-2-2m-44 16l0 0m158 15l0-1m-730 8l-1 1m700 31l-2 2m-710 5l-2-1m396 38l2-1m-82 1l-2 2m-238-1l0 1m-29 6l-2-2m190 15l0 0m217 16l1-2m-362 81l-1 2m1 9l-2-2m-24 23l2-2m214 30l1-1m123 150l0-1m-443 108l0 1m5 18l-1 0m341 8l1 2m13 6l2 2m-68 9l0 2m71 12l1-1m9 6l-1 2m139-1l-2 2m-528 15l-1 0m649 20l1-1"/>
<path id="a32" d="M171 4l0 0m16-1l-1-1m41 0l-2 1m48 8l-1 1m-22 6l-2 1m-61-6l0 1m-4 5l-2-2m-27 4l1-2m107 18l0 1m-72-1l0-2m-60 7l0-2m-6 4l-2 0m-6 6l1 2m87 6l-2-2m30 1l-1-2m2-6l0-2m22 10l0 2m6 9l0-2m-24-5l1-1m-10 5l0 1m-11 1l2 0m-20-3l-1 0m-8 3l-1-1m-4-5l0 2m-5 6l-1 1m-14-10l-1 2m-120 20l0-2m11 3l0 2m22-12l1 1m17 2l1 1m37 7l-1-2m41-2l0 0m70 2l1-2m29 2l-2-2m5 11l-1-1m-80-1l-2 0m-37-5l-2 0m-58 5l-2 2m-9-3l-1-1m-6 0l1-2m-12 7l1-2m-9 1l2 1m-37-2l-1-1m-2 10l-2 0m11 4l-1 2m113 0l-1 0m2-5l-2-1m18 5l-1 2m13-8l-2-1m40 2l-2 2m55 12l-1 1m-3 4l-2 2m-22-6l0 1m-66 3l2-1m-35-3l0-1m-9 2l-1 1m-42-5l2-2m-23 5l0 2m-15-4l0-1m-11 2l0-1m-35 0l2 0m55 8l0 0m88 9l2 2m77-3l-2-2m13 5l1 1m34 6l2 0m-109 4l1-2m-12 2l0 2m-34-1l0-2m-51-4l-2 0m30 18l0 0m3-9l-1 1m45 0l1-2m58 22l1-1m-8 0l-1-1m-7 2l2 0m-2-5l-1 2m-43-6l-1-2m-31 9l2 2m-25 1l-1-1m31 10l0-1m20-7l-2-1m42 9l2-2m-6 17l2 0m-52-9l2-1m-23-1l1-1m49 13l1 2m20 5l1 1m18 0l0-2m91 5l1 0m-89 10l-1 0m-31-6l1 1m-38-1l-2-2m-28 2l1 0m83 16l2 1m16-5l2 0m93 7l1 1m14-7l0 2m891 13l2 1m-11 0l-2 1m-988-7l-2 0m-25 1l2-2m-6 5l-2-1m-3-6l-2-2m-2 12l-2 0m-3-3l2 2m129 4l-2-2m303 12l-1 1m20-5l-2 2m11-1l0 0m4 6l-1 0m-2 8l1 2m-15-8l2 2m-282 0l-1-2m-24-3l-1 0m-116 18l1-2m414 1l-2 2m12-3l-1 2m26-3l2 0m581 7l1-1m82 0l-2 2m-138 1l-1 0m-534 6l0-2m-8 2l2 0m-13-1l1 1m-8 2l1-2m-388 2l-2 0m-10-3l-2-1m-17-3l-2 1m1149 27l2-2m-762 18l1-1m34 1l0 0m9-1l2 1m727 6l-1 1m-253 8l0 0m-612 20l2 0m-3 3l-2 2m651-1l1 0m35 3l1 1m-90 8l-1 0m87 20l0 1m-898 176l0 0m-9 3l1-1m-10 0l1-2m-79 2l1-1m-10 4l-2 0m-7 0l1-2m18 14l0-2m112-4l1 2m18 0l-1 1m-30 12l1-1m-9 1l2 1m-22-2l-2 0m0-5l2 2m-15 6l-2 2m-8-4l-2 0m-39-7l2 0m-6 9l-1 0m-10-4l-2 2m0-7l2-1m-20 15l-2 0m18 3l-2 2m38 1l-1 1m21-6l1-2m858 15l2 1m-760 5l2-2m-39 2l2 0m-30-3l1 2m-16-8l-1-2m-28 5l0 2m-4-6l1 1m-30-1l0 0m-38 13l1 1m40 0l-1 0m13 7l1-1m34 0l0-1m17 3l1 0m4-9l-2-1m93 7l-2 2m680-7l-1-1m194 17l1 0m-169 4l0 2m-716-9l1-1m-141 3l1-2m-48 17l1-2m72 2l2-2m25 3l1-1m118-1l2-1m867 6l2 1m-1002 2l2 0m-66 3l-2-1m-16 2l-1-2m-29 6l-2 1m-2-6l2-2m109 11l0 0m912 0l-2 1m108-2l0 2m-28 12l1-2m-42 0l0 1m-879 2l1-1m-137-1l2 1m-8-1l0 0m-25 0l-1 0m13 11l2-2m12 6l-2 1m3-7l2 1m2 6l0 2m37 0l0-1m26-7l1 2m779 4l1 0m174 4l-2-1m17-9l-2 0m50 10l2-2m-1058 8l-1 2m-3 3l-2 1m-23-7l-2-2m-2 8l-2-1m-3-7l2-1m3 18l1-2m10-3l2 0m49 4l0-2m791-3l2-1m195 7l-2-2m24-4l2 0m10 5l1 0m8 7l2 0m-1039 0l0 2m-23 7l0-1m-20-6l0 0m-62 7l1 1m75 10l-1-2m985 8l1 1m-958 5l-2 2m-4-9l2-1m-6 1l1-2m-23 5l1 0m-26-3l-1 2m-42-3l-1 2m50 17l0-2m980 0l-2-2m104 1l1 0m-17 18l2 2m-39-2l-1 1m-23-7l1 1m-5 2l-1 0m-882 2l0-2m-103-8l1 0m-17 3l-2 0m-14 5l-1-1m-16 3l0 0m61 7l-2 2m54-7l2 0m875 0l2 1m95 6l-2-1m7 14l0 1m-13-6l-2-1m-17 8l0-2m-116-6l2 2m-892-2l-1 2m-35-3l0 2m-23 13l1-1m52 4l-1 2m947-1l-1 2m72-5l2-2m25 2l1 1m9 1l-2 0m10-4l1-1m-38 18l-2 2m-23-10l0 0m-19-1l-1 0m-1025 9l-1 2m-3-11l0 0m-9 0l2-1m56 20l0 1m34 1l-2-2m50 1l-1-2m33 4l1 2m28-5l0-2m793 0l1 0m93 2l0-1m32-2l0-2m-45 11l1 1m-27 0l-1 2m-12-3l-2 0m-17 2l-1 2m-57-2l2 1m-941 13l1 2m10 4l1-1m951-3l1 2m100-5l-1-2m27 0l2 2m0 8l-1 0m17-7l1-2m-23 16l-1 1m-9-5l-1 1m-28 4l1 2m-39-3l-1 2m-34-2l0-2m-9 5l-1-1m-127-3l-2-2m-624 1l1 0m-112 0l2 2m-63-6l1 1m-27 14l2-1m139 7l0 0m782-4l0-1m29 5l1 1m44-5l-2-1m11 0l-1 1m97 6l0-2m-4 8l0 1m-27-2l-2-2m-85-2l1 0m-29 7l-1 2m-865 8l-1 0m713-5l-1 2m177 1l-1 1m66 12l0-1m-53-3l-2 1m-76 6l1-2m-8 4l-1 0m-36-4l-1-2m-747 10l-2 2m12-2l-1 0m89 0l-2-2m696 2l1 2m2 6l1 1m10-10l-1 0m108 10l0 2m22-10l-1-1m15-1l-2 2m23 17l-2 1m-42-8l-2 0m-7 5l1-2m-110 4l0 0m-4-7l0 0m-24 7l1 1m-664-6l1 0m-115 12l1 1m141 6l-1 2m655-1l2 1m6-3l-1 0m17-4l0-1m4 8l-2-1m82-2l-2-1m3-4l-2-1m24-1l1 1m2 7l-1-1m22-1l2 0m-56 4l2 1m-28 5l-2 0m-52-2l-1 2m-23 3l-2-1m-7-1l0-1m-785 0l0 2m8 6l-2 0m129 0l-1 1m673 0l0-1m7 1l-2 0m8 5l0-2m65-4l1-1m16-1l-1 2m42 9l-2-1m5 14l2 1m-37-6l-1 1m-13-2l0 1m-7 5l-2-2m-29-7l1-2m-19 3l2 1m-8-2l1 2m18 7l2-1m23 12l2 1m26-3l1 0m-27 10l-1-2m-53 2l-2-1m18 7l0 2m28-2l0 0m3 9l-2 2m7-3l0 1m43 7l2-2m-29 2l-2 0m-8-3l1 0m-4 9l-2 1m-8-2l-1 0m-32 0l-2-1m-1039 5l-1 2m1072 3l1 1m50 8l-2 1m-1067-3l0-2m-45 5l-2 1m-14 15l1 1m28-9l0-1m51 18l1 0m-32-4l-1 2m-74 14l-2-2m240 4l1-2m911-2l0-1m245 21l1 0m-14-4l-1-2m-5 3l-1 0m-91-1l0 1m-108 2l1 1m-7-8l-1 1m-1 5l-2 1m-14-8l-2 1m-22 0l-2-2m-49 6l-1-1m-3-4l0 0m-1046-2l-1 0m1043 11l2-1m21 7l2-2m13 1l-2 1m32-2l2 1m0-5l0-1m57 1l1 2m13 6l-1-1m9-1l-1 1m63-3l1 0"/>
<path id="a33" d="M1418 25l2-1m-10 20l-1 0m-7-3l-2 0m-8 3l-2-2m-18-1l1-1m-9 5l-2-1m-58 6l0-2m16 12l-1-1m15-8l1 0m9 0l-1 2m3 7l2-2m6 0l-2-1m7-8l0-2m6 9l1-2m5-2l-1-2m6 3l-2 0m6 4l2 0m4-8l-1-1m10 1l2 1m14 8l2 2m3-3l-2 1m9 8l2 2m-12-4l1 1m-28 2l0-2m-24 3l-2 1m-12-3l-1 1m-8 0l-2-2m-22 3l1 1m-11-2l0 2m-12-9l0-1m-15 8l-1-1m-7 2l-2 2m-35 11l-2 0m46 1l1-1m7-1l-2 2m15-2l1 1m11-7l-2 0m5 6l2 2m3-8l0-1m9 3l-2 1m32-3l-2 0m11-2l2 0m11 11l1 2m21-11l2 1m8 1l0 1m10 3l-1 1m-1 8l0-1m-13 4l-1 1m-13-5l2-1m-24 1l-1-1m-29 9l-2 2m1-8l-1-1m-6 7l-1-1m-22-6l1 1m-6-1l2 1m-32-3l0-1m-18 4l-2 0m-7-1l0 1m-5 5l-1 2m-2-7l2 2m-11 0l1-1m-9-4l2 0m-23 0l0-2m-10 4l-1-2m-170 1l0-1m-81 19l1 1m8-3l2-2m7 3l0-2m12 1l1 0m1-7l-1-1m27 1l0-2m35 10l2 0m8-1l0-2m41 3l-2 2m37-2l-1 0m6-8l1-1m13 1l-2-2m13 13l2 2m9-7l0 0m0-5l2 0m3 8l-1-2m11 3l0-2m13-7l2-2m17 2l-1-1m12 2l2-1m8-1l1 1m8 1l-2 2m15 5l-1 1m14-10l0-1m23 8l0-1m6 3l-2 0m7-9l-2 1m21-1l0-2m6 9l0-1m25 5l-1-2m7-9l-2 1m25 7l-1-1m7-2l-2-1m13 5l2 0m-1-7l1-2m14 7l-1-2m8 12l0 1m-9-1l0-2m-11 3l0 0m-23 5l1 0m-7-9l0 1m-14-2l1 1m-10 2l-2 0m-9-2l2 1m-11 1l1-1m-7 7l1-2m-46 2l-1 2m-10-6l-1-1m-2 6l-1-1m-12 0l-1 2m-20-9l0-2m-38 3l2-1m-10 0l-2 1m-62-1l2-2m-4 9l-1 2m-10-7l-1 1m-14 3l2 1m-19-6l0 0m-8 2l0-1m-16 0l1-1m-31 2l2-1m-8-1l0-2m-12 3l-2 1m-11 3l2-2m-7-1l2 2m-15-5l1 0m-64 8l1 1m-24-1l-2-2m-13-3l-1 2m2 14l0 0m7-3l0-1m20 2l2 2m7-4l-2 0m26-1l-1 1m7-5l0 2m13 6l2 1m5-11l2 2m27 9l-2-1m10 0l-1 0m14 1l0-1m3-8l-2 2m17 4l2-1m6 1l0 0m17 3l1 1m10-12l-2-2m15 11l2 2m64-3l1 2m7-2l-2-2m52-5l1 2m10-1l1 0m4 5l-2 1m6-7l-1 1m1 5l0-2m5-3l1 2m6 5l2 0m7-2l2 1m49-1l-1 1m14 1l2-2m0-4l2 1m10 5l2-2m17 2l2-2m18 2l1 0m39-9l2 2m16 0l0 0m6 8l1-2m4 10l2-1m-7 5l1 0m-9-8l-2-1m-2 10l2-1m-6-6l2-2m-35 1l-1 0m-43 3l2-2m-17 7l2-1m-14 1l-1-1m-97 1l0 2m-13-11l2-2m-16 10l2 2m-3-7l-2-1m-7 0l0 2m-8 5l2 0m-7-6l0 0m-51 6l-1 1m-35-3l1 2m-14-8l-1-2m-3 9l-2 2m-9-9l1 1m-12 3l0-2m-4 6l2 0m-16-8l2 2m-3 5l0 1m-25-6l0 1m-9 1l2-1m-11-1l2 0m-18 0l2-1m-33 1l2 1m-5 5l1 0m-50-7l1 0m-613 1l0 0m-6 7l-2 0m0-5l-1-1m-27-2l0 1m-4 5l-1-1m-5-4l1-1m17 18l1-1m16 0l-2 2m21-1l-1 2m639-5l-1 1m8-7l-1 0m12 5l-2 0m40 3l-2 0m16-9l-1 1m6 6l-2-1m21-5l-2 1m16 7l1-1m5-6l1 2m4 6l0 2m11-11l2-1m5 10l1-1m23-6l1 1m19 3l-1 0m39 3l1 0m5-9l0 2m1 4l1-1m7-1l2-1m13-3l1-1m24 8l0-2m8 1l-1 0m4-6l-2-1m132 9l-2-1m14 1l-1 0m28 1l1-1m3-7l1 2m6-3l2 1m9-1l0 2m3 4l2-1m4-5l-1 0m7 1l-2 2m15 5l1 1m22-10l0 2m-17 16l0-1m-33 5l0 2m-4-6l-2 0m-32-4l1-2m-10 5l-1-1m-5 5l1-1m-2-7l2 2m-159-2l2 1m-26 1l-1-2m-4 8l-1 2m-6-8l-2 1m-2 6l0 2m-8-1l-2-2m-3-6l-1 2m-22 6l2 2m-7-10l-1 0m-7-1l1-2m-11 2l-1 0m-34 0l1-2m-10 3l-1 1m-14 2l2-1m-14 0l-2 1m-2 4l0 2m-5-7l-1-2m-15 2l2 2m-23-2l-2 0m-691-3l-2 1m-33 1l2-2m-6 10l1 2m-4 7l0 1m5-1l-2-2m14 0l-2 1m27-3l1-2m693 4l0-1m8 1l0-1m10 1l-2-1m18-4l0-2m0 10l2-1m7 1l-1 1m22-3l-2-1m18 3l2 1m7-2l-2-1m14-2l1 2m15 2l1-1m10-1l1 2m16-5l-2-1m12 3l-2-2m8 4l-2 1m13-5l2-2m193 7l1-1m26 0l-2-2m25-6l0-1m7 7l-2-1m9 1l-2-2m9-3l0 1m4 4l2 0m7 3l-2-1m5-8l-2-1m-5 17l0-2m-9-1l-2 2m-9-4l-2-2m-7 3l-1 1m-33 3l1 1m-15 4l-1 1m-218-1l0-1m-9-8l2-1m-9 9l1-2m-7-6l0 1m-5 6l0 0m-8 0l0 2m-5-6l2-1m-5 9l-2-1m-31-1l0-2m-5-4l-1-2m-27 3l-1-1m-28 0l-1 1m-4-2l-1 2m-709 5l1 2m-12-8l-1 2m-6 5l1-1m-8-6l-1-1m-1 7l1 0m-21-5l-2 0m20 13l1 0m8 3l-1-1m34-2l-2 0m10 3l-1 0m715-2l-2 2m17-9l0 0m3 9l1 0m7 0l-2 2m13-7l-2-2m21 5l-2 2m7-2l-2 0m10 2l1-1m8-4l-2-2m8 10l0 1m5-8l0 2m9-1l2-2m17 3l0 1m224-2l1-1m9 0l2 1m17 1l1-2m6 0l-2-1m19 3l0-2m22-5l2-1m11 9l1 1m12-3l2-2m1-4l0-1m-26 17l-2-1m-45 0l-1-2m-20 10l2 0m-14-1l0 1m-230-10l-2 0m2 10l-2 2m-7-5l-1 1m-21-4l-2 1m-14 4l0-1m-5-6l1 2m-20-1l-1 2m-20 5l-2 2m-4-11l-1 1m-4 6l0-1m-8 2l-2 1m-702-10l2-2m-28 13l1 0m-6-9l1 1m-8-1l0-2m-8 4l0 1m-3 4l-1 1m-6-11l-2-2m-8 2l2 2m19 15l-2 0m10 2l1 1m18-2l0-2m10-4l-2 0m11 0l0 0m724 6l-2 1m15-3l-2 0m17 3l-1 2m36-3l2 0m244 2l-1 2m19-2l2 1m24-3l-1-2m14 7l-2 2m11-1l2 2m13-6l1 2m20 2l0-2m12 10l1-2m-8 4l-1 1m-10-2l1-1m-10-8l-1-2m-12 2l2 1m-41 11l-1 0m-6-5l-2-2m-17 4l-1 0m-7-1l2 1m-7-8l-2 0m-1 10l2 1m-15-5l2-1m-220-3l2 2m-6 5l-2 1m-1-8l2 0m-14-1l-2-1m-5 7l1 2m-4-8l-1 0m-5 2l0-1m-8 5l-1 0m-7 4l0-1m-757 0l1 0m-3-7l1 0m-6 8l2-1m-17-8l1 0m-7 5l-1 2m-5 1l-2-2m22 14l0 2m10-5l1-2m80-1l0 1m3 6l0-1m7-4l-2 1m696-1l-2-2m263-2l2-2m17 4l2-1m14 2l0-2m11-1l-2 1m4-4l-2 2m18 4l1 1m17 1l1-2m-1 5l-1 0m6-11l-1 2m5 5l-1-2m10 2l-2 2m-7 12l1 1m-87-7l0 0m-10-3l0-2m-14 11l1 2m-219 0l-2 2m-16-9l1 0m-10 4l2 2m-2-7l0-2m-685-1l-2 1m-11 6l-1-2m-82 5l2 2m-22-3l-1-2m0-3l2 0m-17 6l0 0m-2-9l-2 1m-4 8l0-2m-9-1l-2 2m21 6l2 2m-2 7l0-2m36 0l-1-2m1109-1l0-1m13 6l-1 0m8 9l2-2m-10 3l-2-2m-327-7l1-2m-612 11l-1 0m-66-8l-1-2m-68 3l-1-2m-15 6l-1 2m-39-8l-2 2m-1 6l0-2m-26 3l1 0m-13-7l-1-2m36 21l1 1m4-5l0 0m10-4l-2 2m41 6l2-2m3-5l-2-1m11 9l-1 2m6-11l1 0m3 0l-1-2m11 3l1 0m26 1l2-2m7 5l1-1m42 5l1 2m18-3l0-1m11-4l-2 2m965-5l-1-2m-3 12l0-1m-4 11l0-2m-12 0l0-2m-968 4l-2-2m2-6l1-2m-15 2l0 2m-24 6l0 1m-11-1l-2 1m-3-3l-1 2m-17-4l-1 2m-10-1l2 1m-9-6l-1 1m-6-1l1 2m-3 4l-1-1m-17-1l1 1m-28-1l-2 0m-15 9l-2 0m48-1l2-1m14 11l1-2m3-8l1-2m35 1l1 1m7 1l0 1m36 0l-1 2m3 6l1-2m7-6l2 2m30-2l-2 0m943 0l1-1m6-2l-2-2m-1024 18l-1-1m-56 1l0 1m1067 18l1-2m2-8l0 0m8 3l-2 0m-12 19l1-2m-3-4l1 2m-9 14l-2 1m16-2l-2 1m8 7l0-2"/>
<path id="a34" d="M396 192l-1-2m-361 35l0 0m600 33l0 1m-48 15l2 1m-463 12l-1-1m-17 6l2-2m91 51l-1 0m50 0l1-1m35 7l0 1m1016-9l1 0m95 17l1 2m-892-2l0 1m912 25l-1 1m-1226 43l1 0m-16 0l2-1m42 8l-1-2m17 11l0 1m35-6l0 1m-156 29l-1 2m130 0l-2-2m-34 7l1 2m21 7l1 2m28-5l-2-1m25 8l0-2m-65 19l2 1m-170-10l2-1m-21 10l-2 1m56-1l-2 0m7 32l0 2m135 12l0 0m-17 1l1 0m-59-7l1 0m-5 4l-2-1m162 9l2-2m937 50l-1-2m101 16l-1 2m-79 32l2 0m140 7l2 2m-160 2l-1-1m37 37l1-1m4 28l1 1m3 5l1-2m30-9l-2-1m85 7l2 1m-124 24l2 2m76-7l-2-2m14 0l0-2m-1213 163l-2 2m-14 11l2 1m364 33l-2 0m-461 64l1 0m37 42l2-2m1204 15l2 1m73 18l-2-1m30-8l1 1m8 15l1 0m-197 1l2-1m164 7l1 0m-109 14l0-1"/>
<path id="a35" d="M183 5l2 2m31-5l-1-2m-1 20l-2 0m-12 2l-2 1m-30-10l1-2m-22 7l-1 1m91 14l0 1m9 1l2-2m0 12l0 1m-110-2l0-1m-52 15l1-2m58-7l0-1m47 10l2 1m3-8l-2-1m48 2l0 1m7 12l-1 1m-84-1l0-1m-66 5l-2 2m51 4l-2-1m19 2l-2-1m12-1l-2 0m11 0l-2 2m68 6l-2 1m-8 9l-2 0m-75 4l-1 0m-48-9l2-1m-23 10l-2 0m-67 8l0-2m71 5l1 2m71-3l1-1m42 14l-1-2m-62 5l-1-2m59 3l2-1m-81 20l2-1m30 9l2 0m9 10l-1-1m-20 7l-1 1m-30-5l-2-1m-12 6l2 0m-15 6l0 2m5-7l0 1m31 4l0-1m39 18l1 2m-53-8l-1-2m-17 15l-2 1m45 0l0 2m28-2l1 2m14 5l1 2m-67 6l-1 2m72 30l-2-2m417 4l-2-1m-416 16l0-2m4 15l-2 0m420 3l0 2m-29 6l2-2m-7 6l-1 1m38 0l0 1m-34 8l1-2m-9 19l-2-1m18 10l0-2m-128 31l-1 1m-279 216l0 1m21 14l-1-2m83-6l1 2m-12 9l2 1m-79 3l-1-1m-51 4l0 1m-5-8l-1-1m43 20l-2 2m74 6l2-2m-82 4l1 1m-20-1l-2 1m-7-8l1 1m11 23l1 1m0-9l-1 0m55-3l2 0m37 1l-1 0m-6 11l1-2m-77 3l1-1m-46 12l2-2m15 11l-1 0m17-5l1 0m1068-2l-2 0m-1067 31l-2-2m45-8l2 2m3-1l-1 1m999 8l-2 1m19-4l2 2m-8 10l-2 0m-990-2l-2 0m-86 3l-2 1m-17 14l-1-1m69-6l-1 1m1044-2l2 2m-2 13l1 0m-1017-2l-1 2m-89-3l-2 0m-2 8l1 0m25 19l0 1m-32 4l-1-1m7 13l2-1m42-2l0 2m1064 12l2 1m-1051-6l1-2m-17 32l1 0m-24 0l-1-1m-9-8l-1 2m2 17l1-2m61-1l0-2m-29 17l2 1m-71-1l0-2m91 13l2-1m1007-2l2 0m43 17l0-2m-19 4l0-2m-6-2l2 2m-63-6l-1 0m-63 7l1 0m154 24l2 2m-120-3l0 0m-10 0l-2 1m-925-11l1-1m-22 4l1-2m-38 2l1 2m21 21l-2-2m15 15l-1-1m934 4l1-1m-29 14l1 2m-9 0l-1-2m-912-5l2 2m916 10l0 0m56 4l2 2m8 2l0 1m45-7l2-2m12-1l1 2m19 17l-1 1m-2-9l2-2m-82 10l1 0m-61 14l2-1m110-6l-2-1m-1 18l1 0m-14 1l-1 2m-65-2l0 0m-15-1l0 1m-12-3l1 0m58 8l1 2m5 5l1 2m58-2l-2 0m24-1l-1-1m-45 17l-1-2m-76 10l-1 2m53-2l1-1m8-3l2-1m59-1l-2 1m-50 20l-1-2m-105 3l-2 0m71 8l-1 2m24-1l1-1m23 8l0 0m-21 7l1 0m-31 10l-1 0m36-3l0-1m41 5l1-1m177 86l-2-2m-9-1l2-1m-138-5l1-2m-22 18l-2-2"/>
<path id="a36" d="M1386 34l0-2m19 3l2 1m13 0l1 2m-10 0l1 2m-58 2l0 0m-17 1l-1 2m-37 15l2-1m39-1l1-2m8-6l0 2m44 4l-1-1m-17 13l-1-1m-77 0l-1 2m9 14l2 0m18-1l-2-1m25-9l0 0m19 9l2-2m18 1l-1 1m10-1l1 2m9-2l0 0m7 0l2 1m-10 14l0 0m-5-3l1 1m-18-3l0-2m-39 0l2-1m-15-3l-2 1m-10 6l0 0m-122 4l0 1m-16-4l1 2m-3 1l0 0m-6 0l0 2m-8-9l-2 2m-20 5l1 0m-160 8l0 1m18-1l-2 2m24 2l-1 0m4-11l2 0m85 11l-1 0m24-3l1 2m53 1l-2 1m40-4l-2 0m9 3l1-2m20 1l2-1m7 0l-2 1m7-8l-2-1m54 2l-1-2m67 3l1-1m23 1l-1 1m6 7l-2 1m-29 4l1 0m-51 6l2-1m-27-6l-2 0m-27 8l-1 0m-28-6l-1-2m-13 0l1-1m-42 4l0 2m-25 2l0 0m-6-8l-2 1m-59 3l-2 1m-56 3l2 0m-11 0l0 1m-2-8l2 0m-15 1l2 2m-52 4l1 1m-95-10l-2-2m-7 7l0-2m-657 18l-1 0m694-1l2-2m7-1l-2-1m20 3l0-1m4-5l-1 2m31-4l0-1m3 9l1-1m36 2l1-1m11-7l2 2m33 7l-2 2m110-12l1 1m6 9l1-2m17 1l2 1m60-5l2-2m55 5l0-1m1-6l-2 2m55-2l2-1m41 7l-2 0m-7 16l2 1m-63-10l1 1m-51 2l2 1m-126 4l2 2m-107-8l0-1m-58 0l-1 0m-12 1l1-1m-11 7l0 1m-24-6l1-2m-19 3l2-1m-11 0l-1-2m-58 6l1 2m-616 9l-1 2m626-9l-2 1m12 5l2 1m31-7l1-2m6 1l1-2m122 8l-1-2m13 4l-1-2m28 1l2 2m5 0l1-2m260-1l2 0m59 2l0-1m-31 8l1-2m-25 0l1-2m-25 11l-2-2m-191-6l0 2m-29-2l2 1m-120 8l-2-2m-23-7l0-2m-13 11l0-1m-737 3l-1 1m14 7l-2-2m10-2l-1-2m777 1l-1 1m387 3l-1 0m13 4l2-2m-11 4l-1-2m0 7l0 0m-7-8l2 0m-14 8l0-2m-18 6l2-2m-337-2l-1 2m-7-2l-1 1m-5-8l-2 1m-35 6l1 1m-9-5l2 2m-720-1l1 2m-6 1l-1-1m-15-2l2 1m-28 0l-1 0m-4 5l1 2m25 6l1 2m736-5l-1 1m55 3l0 1m63-4l-2 1m251 3l0 1m40-9l2-1m5 5l0 0m39 7l1 2m-18 2l-1 0m-27-3l-2 1m-6 3l2 1m-10-1l-1-2m-18-3l1 0m-35 5l-2 0m-257 4l0-1m-27 4l-2 0m-759-11l2 0m-11 2l1-2m-11 7l2 0m-14 2l0-2m-13 8l1-2m786-1l-2 2m335-3l2-2m72 2l2 0m2 7l-1 0m4 8l1 1m-57 5l1 1m-5-8l-2-1m-33 9l-2 1m-264 0l0 0m-814-2l-2 1m-12-7l1 1m-15 0l-2 2m17 9l2 2m22 6l0 2m82-1l-2 1m717-6l1-1m260-3l-1 0m100 4l2-2m-1 15l2 0m-39 3l-1 2m-10-5l0 2m-18-2l2 0m-32-6l-1-1m-25 1l-1-2m-231 7l0-2m-8 5l1 1m-17-1l-2 0m-666 0l-2-2m-35 3l-1 1m-79-1l-1 2m-16-5l2-1m-25-5l2 0m33 15l0 0m8-1l-1 1m81 5l1 0m0-7l0 2m38-1l-2 2m696-2l0 1m358 13l-2-2m-9 2l1 0m-5-4l1-2m-11 6l-2-1m-336-2l2 2m-6 3l2 1m-687 0l-1 1m-3-10l-2-2m-40 12l-1 2m-18-6l0-2m-10 3l-1-1m-14 2l1 0m-11 0l2 2m-35-10l-2 2m-3-2l0 0m-36 1l-1 0m71 17l0-1m80-1l1 2m87 4l-2 1m956-4l-1 0m-952 10l-1-2m-8 6l1 0m-41-8l1-2m-4 7l1 1m-80-2l-1-1m-62 6l2-2m19 5l0-2m34 11l1 1m1094 2l-2 0m-4 4l2 1m-7-4l1 0m-1009 7l1 1m3 4l0-1m1002 12l0 0m-16 19l-2-2"/>
</defs>
<use href="#a17" stroke="#22395c" stroke-width="11"/>
<use href="#a18" stroke="#22395c" stroke-width="11.4"/>
<use href="#a19" stroke="#263e61" stroke-width="9"/>
<use href="#a20" stroke="#263e61" stroke-width="9.4"/>
<use href="#a21" stroke="#263e61" stroke-width="9.8"/>
<use href="#a22" stroke="#263e61" stroke-width="10.2"/>
<use href="#a23" stroke="#263e61" stroke-width="11"/>
<use href="#a24" stroke="#263e61" stroke-width="11.4"/>
<use href="#a25" stroke="#2b4466" stroke-width="11"/>
<use href="#a26" stroke="#2b4466" stroke-width="11.4"/>
</g>
<path transform="scale(.5)" d="M997 941l0 5l3 0l0 3l6 2l6-1l-4-1l-7-8zM1083 1092l-3-30l-28-24l-9-22l-8-11l-12 12l-6 2l-1 7l-3 3l-19 2l-14 14l-16 7l-9-3l-7-8l-12-4l-16-16l-2-7l1-7l-2-2l0-3l2-1l-1-20l14-17l-6-1l-3 3l-2-3l-13-3l-5-8l-4-1l-1-17l4-9l-8-5l-1-13l2-6l-16-4l-10-5l-11 15l5 6l-1 7l-5 5l-24 5l-17-10l-7-7l-4-11l-11 1l-13-7l-2 9l-11 10l-8 3l-6 0l-12-4l-12 2l-8-4l-5 1l5 6l2 10l7 1l4 4l-3 3l-10-2l0 3l-4 4l-10 2l-5 6l-6-2l-13 4l-9-1l-7 5l-13 3l-15-4l-1 1l5 2l-1 3l-7-1l-6 6l-22 9l-10 2l-10-2l-14 5l-8 0l-14 9l-23 7l-12 0l-12-3l-12 5l-16 0l-11 9l-7 2l-6-1l-14 15l-10 4l-17-5l-13 6l-9-6l-11 1l-9 9l-6 1l-3-1l-5-7l-8 1l-13-7l-5 1l-5 3l-9 12l-10 4l-11 1l-11 8l28 14l4-2l9 3l5 6l10-12l6 0l3 3l0 5l10 13l0 10l-5 5l-5 1l-7-3l-5-5l-1 10l-5 6l-10 1l-17-4l-9 13l-25 0l-16 11l-12 4l-11 10l134 0l-1-12l3-3l8 10l1 5l16 0l0-3l5-4l3 3l-1 4l31 0l2-2l4 2l9 0l0-6l4-4l2 2l-2 8l33 0l1-2l5 2l26 0l0-3l3-3l5 6l101 0l0-3l3-3l4 2l10-1l4 5l94 0l3-5l2 0l3 5l277 0l-7-8l0-9l3-5l-1-4l4-5l6 2l0 6l7 7l5-12l7-5l5 1l7 10l4 1l0-12l7-7l10-1zM684 1128l3-1l1 3l-3 1zM812 1116l5-4l4 0l3 6l-2 3l-7 0l-3-2zM282 1112l4 6l-1 4l-6-6zM742 1104l6-1l3 5l-3 5l-7-3l-1-4zM475 1099l3 4l-8 11l4 9l0 6l-6 5l-7 1l-3-4l3-10l-2-10l7-4l4-8zM598 1101l1-3l4 2l-2 2zM864 1094l2 5l-3 2l-2-4zM888 1088l3 4l-4 3l-3-4zM438 1087l7 4l2 4l-1 5l-5-1l-5-5l-1-4zM1007 1088l2-2l8 1l3 5l-4 4l-3 0l-4-3zM735 1084l7-1l4 5l-6 2zM366 1087l7-4l5 2l2 4l-3 4l-6 1l-4-3zM617 1082l4 4l-2 3l-5-1l0-4zM535 1081l3-3l6 5l6-1l1 2l-4 2l-9 0zM481 1077l5 1l0 8l-3 0l-3-3l-1-4zM978 1075l2 2l-13 11l-1-5l7-7zM947 1071l2 5l-9 8l-4 0l-2-2l1-6l5-5zM539 1069l2 2l-3 4l-2-4zM383 1070l4-1l4 2l5 6l1 5l-3 3l-7 0l-5-5l-2-7zM913 1068l2 9l-5 4l-3-3l2-7zM746 1068l3 1l-1 5l-5-2zM619 1071l5-5l6 2l-5 5zM571 1068l6-2l18 8l4 5l-4 5l-3 0l-10-8l-8-1l-3-3zM419 1065l3 3l-2 3l-4-3zM983 1062l6-2l3 4l-4 3l-3-1zM647 1060l3 1l-2 4l-3-2zM953 1059l3 0l3 3l0 4l-3 3l-3-1l-2-5zM869 1059l3-1l2 3l-4 1zM515 1051l5-2l3 3l-6 2zM680 1047l3 2l-2 5l-3-3zM778 1044l8 6l-1 4l-3 2l-3 0l-4-5l0-4zM1041 1041l1 3l-4 2l-2-2zM543 1044l-2 5l-8 4l-7-2l8-12l5 1zM798 1038l7 5l-3 4l-6-4zM632 1038l4 2l0 5l-2 2l-4-4zM778 1038l1-3l4 1l-2 3zM724 1034l3 7l-4 7l-8 6l-3-3l0-5l6-2zM852 1031l2 2l-2 3l-2-2zM514 1031l4 3l-2 3l-5-2zM690 1028l4-2l9 8l11-1l1 3l-2 5l-4 3l-6 0l-11-6l-2-3zM412 1026l2 4l-7 8l-2-6zM325 1028l4-3l5 0l5 7l-4 3l-5-1l-5-3zM473 1018l3 2l-1 3l-4-2zM825 1015l5 5l0 5l-2 2l-4-4zM492 1005l4 7l-2 3l-3-3zM573 998l4-3l4 4l-5 3zM840 989l6 3l0 3l-4 4l-5-4l0-3zM851 981l2-1l2 3l-3 2zM757 976l7 2l4 4l0 5l7 8l1 9l-11 9l-3 12l-6 6l-4 1l-7-5l-1-14l-13-13l0-7l20-15zM629 968l2 2l-1 5l-3-2zM745 960l2 2l-1 5l-3-1zM748 949l1 3l-4 6l-2-4zM770 938l3-1l4 3l1 5l-2 2l-5-2l-2-3zM850 930l1 2l-4 3l-1-2zM893 928l1 1l-8 9l-3 1l-2-2l1-7zM929 154l-12 6l-13-6l-15 9l-16-2l-9-5l-5-6l-16 6l-25-1l0 4l-3 3l-20 6l-9-4l-5 0l-18 8l-10 0l-14-5l-3 1l-10 11l-7 2l-7-4l-1-5l-4-3l1-4l-2-3l-11-2l-5 8l-7 6l-9 0l-15-7l-5 6l-12 6l-2 12l-22 21l9 11l3 9l13 12l-1 12l6 1l3 3l0 6l-13 13l6 7l-2 4l-5-1l-4-7l-4 4l-1 6l-6 8l-1 14l-5 12l-7 7l-20 8l-7 1l-8-2l-10 3l-2 2l0 12l-7 8l-6 2l-14-6l-4 2l-4-2l-11 12l-7 1l-10-3l-6 3l-3 18l-5 6l5 15l0 9l-4 15l-9 7l-6 0l-4 8l-8 9l-7 3l-10-1l-10 3l-5 13l-8 6l-4 6l-1 12l-6 6l-8 2l-11 15l-1 4l3 14l-4 9l5 7l-4 3l-1 8l-7 5l-15-2l-11 3l-6-2l4 7l4-1l2 2l-4 7l0 11l6 8l3 8l-1 12l-4 7l1 24l-2 11l9 1l12 12l11-1l12 15l7 16l12 1l12 10l11 16l0 6l-5 7l4 10l16 10l1 12l13 6l4-3l4 3l0 6l-4 3l-3 10l3 6l5 1l9-4l4 1l10 11l19 9l10 12l15 6l2-1l2 3l3 0l17-12l7 1l7 6l4 0l9-9l15-1l3-4l2-10l11-6l6 2l6 8l2-2l-1-8l3-2l4 1l5 5l1 5l-13 12l3 4l6-2l5 2l3 3l0 4l-9 7l-10 2l-16 8l-11 11l-6 2l-4-1l-7 5l-1 10l-6 7l-12 3l-7 8l-4 1l3 5l-1 9l6 0l9-6l11 5l10-8l7-10l10-2l9 4l16-17l12-1l12-8l16 6l12-5l5 1l9-5l-1-11l4-4l10-4l13-2l9 5l22-8l2 1l0-2l6-4l4 4l-1-11l3-8l-10-13l0-9l10-13l-5-10l0-4l5-14l5-5l19-5l7 2l6-3l3 1l9 13l21 3l6 7l1 20l-4 9l-1 15l-7 6l-10 1l-4 4l24 2l4-2l9 1l6-6l7-3l15 1l11 6l17-7l12 0l8 2l17 9l16 1l16-9l-5 0l-2-2l4-13l-1-7l-5-7l2-15l-9-1l-4-4l1-12l7-9l3-10l-7-3l-7-8l0-10l4-8l-2-6l1-6l-6 3l-6-1l-5-5l0-4l7-9l6-3l1-7l9-12l3-22l-5-6l0-5l10-16l-2-22l7-6l15-2l3-2l12 7l16-4l4 1l1-7l5 0l2-6l-3-1l-5 6l-16-14l-3-13l6-3l6 0l5 3l-1 11l2 2l18 7l-1 11l-6 1l-5 5l14 4l6-2l-2 0l-4-6l11-4l3 1l1 3l12 0l8 9l4 1l7-1l10-7l8 1l10-6l9 2l5 4l0-4l5-2l2 2l-2 7l5 1l14-12l6-2l13 5l4-8l-2-5l-10-8l-1-4l2-9l-1-15l5-9l-1-1l-4 4l-4-2l-1-12l2-2l4 1l-1-11l-3-8l-8-9l0-9l8-7l4-9l-11-5l-9-14l1-16l5-8l-2-7l-17-13l-12 13l-5 2l-6 0l-11-4l-12-12l-6 4l3 3l-2 4l-5-4l-9 3l-6-4l-2-8l-4-3l2-7l-15-1l-9-5l0-12l-13-22l-2-21l1-15l-5-6l0-7l3-3l6 0l3 4l3-2l2-13l-10-3l-5-4l-3-12l-10-11l-4-10l-13-9l-7-14l-10-8l-17-4l-10-8l-5-16l-5-5l-13-4l-6-6l-4-24zM615 898l4 2l-2 5l-4-2zM646 875l5 2l-2 5l-5-2zM650 862l4-3l6 0l4 3l1 5l-2 3l-3 0l-9-4zM752 820l2 6l-7 3l-2-4zM563 803l5 2l-3 4l-5-2zM680 801l0 3l-8 7l-8 0l-5-4l0-3l5-4l13-2zM915 794l4 3l-2 4l-4-3zM701 794l0 4l-3 3l-5 0l-4-4l3-4l6-2zM868 788l5 3l-2 5l-5-3zM671 773l3 4l-6 4l-2 10l-2 1l-5-9zM574 770l1 3l-3 5l-1-5zM557 763l3-1l2 5l-2 1zM890 761l7 0l4 4l-5 12l-3-1l-4-11zM775 759l6 2l0 5l-4 4l-3 0l-4-4l0-3zM834 763l6-5l5 2l-2 6l-7 0zM880 754l3-1l2 3l-2 2zM617 756l5-4l7 4l-6 5zM678 746l5 3l-2 8l-6-2zM774 740l3 0l5 4l1 5l-2 2l-8-2l-1-7zM498 736l1 3l-6 8l-3 0l-1-5zM467 737l3-1l2 3l-3 1zM676 730l2 4l-4 5l-2-4zM642 721l3 3l-1 2l-4-3zM579 726l0 5l-4 3l-7-3l-8 2l-5-2l2-6l9-1l4-3l6 0zM719 720l2 4l-4 4l-1-5zM458 720l4 1l2 3l-4 6l-3 0l-3-3l0-4zM519 712l3-3l5 0l3 5l-2 3l-3 0zM611 707l3-3l12 0l2 5l-15 1zM594 704l3-1l1 3l-3 1zM940 706l4-4l6 0l5 3l0 4l-8 4zM927 697l1 4l-5 3l-2-3l1-2zM568 691l7-3l9 0l4 5l-4 5l-13-1l-3-3zM696 681l3 4l-9 10l2 7l-3 3l-3-1l-4-4l-1-8l7-10zM662 674l7 5l0 3l-13 13l-1-10l4-9zM495 663l2-1l3 5l-3 1zM641 662l2-1l4 5l-3 0zM593 659l3 4l-5 3l-2-3zM730 657l-1 5l-6 5l-8 0l-3-3l1-5l6-4l8-1zM566 651l6 0l3 2l0 5l-3 3l-3 0l-5-4zM866 646l4 3l-3 5l-3-2zM846 626l6-3l5 7l-2 3l-3 0zM540 623l4-1l2 4l-3 3l-3-2zM838 623l3-2l5 5l-4 2zM605 617l6-2l2 4l-6 2zM890 607l2 1l-1 4l-2-1zM786 593l13 4l8 6l3 7l11 4l7 10l0 7l-4 8l6 3l4-1l3 13l12 3l7 6l-1 8l-15 11l3 9l0 9l2 2l-1 3l-16 15l-3 12l-9 7l-10-3l-15 4l-11 0l-10-4l-8-10l-3-9l-7 1l-3-3l3-5l-7-11l-5-14l1-10l8-7l-2-16l5-21l19-18l4-12l6-6zM946 591l9 3l14 12l6 13l0 7l-4 5l-5 2l-2 11l-7 7l-17 7l-5 0l-5-2l-10-12l0-13l5-10l-3-7l0-9l8-7zM997 589l5 0l3 4l-4 6l-5 0l-4-4zM384 589l5 4l-2 8l-4 0l-3-4l0-3zM930 587l5 2l0 3l-3 3l-5-3zM465 575l4 0l5 4l1 6l-3 3l-8-1l-1-9zM1100 570l4 1l3 4l0 3l-3 3l-4 0l-4-5zM1165 572l3-3l7-2l5 2l5 7l-2 2l-15 1l-3-3zM493 564l2 5l-5 8l-4 1l-2-4l4-7zM810 561l7 4l0 7l-4 6l-7-3l0-8zM529 565l-7 6l-7-2l0-3l5-4l7-1zM655 560l5 5l-2 2l-5-3zM849 564l4-4l7-2l5 4l0 5l-3 3l-11-2zM542 557l3 0l3 3l0 5l-2 2l-4-1l-3-4zM1011 554l2 6l-6 3l-7 8l-3 0l-4-5l1-6l11-3l3-4zM1182 548l2 0l3 5l-1 6l-5 0l-3-4l0-3zM529 592l1-7l5-5l22-10l4-4l2-11l10-7l13 4l12 0l7 4l5 0l14 12l9-1l31 3l5 2l5 6l0 5l-8 15l-10 10l-17 9l-7 0l-13-7l-11 3l-14-2l-9 6l2 2l-1 10l-4 4l-10 3l-7 7l-6-5l3-8l-1-7l4-1l5 5l7 0l5-9l-9-2l-19-14l-8 0l-11-4zM755 549l13 14l2 13l4 0l-4 3l-1 20l-8 6l-19 0l-11-4l-7-5l0 3l-3 3l-4 0l-4-4l0-3l8-3l-7-10l0-7l5-8l17-17l9-3zM719 545l5 0l2 3l0 6l-3 3l-6-5l0-5zM962 545l-1 8l-4 4l-8 0l-12-5l0-3l3-3l12 2l8-4zM1075 543l4 1l2 3l-3 10l5 13l-3 4l-4-2l-6-9l4-10l-2-7zM664 537l2 1l-1 4l-3-1zM709 531l2-1l2 4l-3 1zM1092 528l5 3l0 5l-2 2l-5-3l0-5zM1052 527l2 3l-3 2l-2-3zM584 524l2 2l-6 11l-5 2l-3-3l-1-9l2-2zM478 524l4 5l-2 6l-3 0l-3-4zM517 522l3-2l2 3l-4 1zM495 518l4 2l-2 6l-5-3zM616 518l3-1l1 2l-3 1zM608 508l1 3l-3 5l-5 2l-5 0l-2-2l0-4l5-5l6-1zM1102 505l3-1l3 4l-5 1zM519 501l2 1l-1 3l-3-2zM430 497l3 1l-2 4l-3-2zM957 495l7 8l-2 5l-6-1l-3-4l1-5zM593 495l3-1l2 3l-3 2zM851 489l4 1l4 5l-1 5l-3 2l-5-2l-3-5zM749 476l3 3l-1 8l2 5l-8 6l-4-4l3-17zM793 473l3 5l-8 5l-3-7l3-3zM634 471l-4 11l-4 3l-10-2l-6 4l-5 0l-6-4l2-5l12-1l5 2l11-9l3-1zM539 483l-1 11l-5 5l-6 2l-20-2l-12 7l-8-1l-6-5l-9 3l8 12l0 4l-3 2l-12-11l-1-5l2-2l-10-4l-4-5l0-4l-7-1l-5-5l0-6l3-3l10-3l11 4l7-3l16 0l1-3l6-4l6 4l2 6l5 2l13-7l10 8l5 0zM1106 465l3 1l3 5l-3 6l-4 0l-3-3l0-6zM966 460l5-2l5 4l-3 3l-3 0zM913 457l2 2l-5 4l-1-3zM730 457l4 2l1 4l6 6l1 4l-2 2l-13 0l-3-3zM607 452l2 4l-5 3l-7 9l-2 0l-1-5l3-6l4-4zM919 454l2-6l3 0l3 3l-3 4zM892 448l5 0l3 3l-4 7l-5 0l-2-2l0-5zM861 445l4 2l8-2l2 2l-2 11l-2 2l-5-6l-7 0l-2-2zM985 446l2-3l8 2l3 4l-3 3l-6 1zM938 443l1 2l-3 2l-1-2zM810 445l4-3l5 0l2 2l-1 4l-6 3zM662 462l3-11l20-18l13 4l7 7l6-3l24 3l-3 3l-1 6l-15 12l1 5l-7 7l-3 0l-6-7l-4-1l-9-8l-13 2l-5 4l-4 0zM581 434l5-1l1 3l-4 2zM830 433l3-1l4 4l-5 2zM853 427l5 1l4 4l0 5l-3 3l-7-2l-3-4zM986 428l-4 11l-9-1l-5-4l4-5l8-4l3 0zM1046 411l8 11l2 6l7 6l0 5l-3 3l-7-5l0-7l-12-11l2-6zM1022 410l5 6l-2 5l-3 0l-3-3l0-5zM910 410l4 5l-7 7l-2-2l0-5zM583 399l2 2l0 5l-3 7l-4 3l-6-1l-4-4l0-4l4-3l7 0l1-4zM998 398l2 2l-2 4l-4 2l-2-4l2-3zM1045 396l4-1l2 3l-4 3zM902 395l2 5l-5 4l-3-4l2-4zM611 394l3 5l-7 6l-4 7l-4 0l-4-5l1-5l10-8zM623 391l4 2l-1 4l-5-3zM729 386l3 3l1 7l-5 5l-7 1l-4-7l6-8zM700 379l6-2l4 4l1 6l-3 2l-2-1zM641 373l4 2l-3 4l-3-3zM777 372l1 6l-2 6l-3 3l-5 0l-1-2l4-9zM1046 374l-1 5l-7 8l-17-1l-4-3l4-4l7 0l1-7l4-2l8 0zM691 361l2 4l-3 3l-3 0l-2-4zM635 358l2 3l-5 8l-8 2l-3-3l0-4l4-5zM939 356l4 2l-3 5l-3-2zM580 344l9 6l-8 7l-5-4l0-4zM924 332l3 2l-1 3l-4-2zM745 328l4 1l3 9l-2 4l-2-1l0-4l-5-4zM795 318l2-3l4 0l2 5l-3 2zM984 292l5 0l2 2l-2 8l1 16l-2 3l-4-2l-5-8l1-14zM900 280l2 2l1 13l-8 9l-3 0l-4-4l0-5l5-6l0-5l4-4zM689 279l5 3l-3 4l-4-2zM728 275l5 2l0 4l-3 3l-3 0l-2-3zM957 273l4 2l-2 4l-4-2zM798 265l2 6l-5 3l-2-6l2-3zM866 260l3 2l-1 3l-4-2zM1004 257l2 3l-3 4l-2-2zM670 254l3-1l1 2l-3 1zM871 245l4 2l-2 3l-4-2zM742 236l2 2l-1 3l-3-1zM810 235l2-1l7 8l-6 2zM971 233l2 0l4 6l-1 5l-6-8zM946 231l4 1l0 5l-2 2l-4-4zM757 231l6 2l-2 6l-6-2zM708 226l3 0l5 5l0 4l-4 3l-6-2l0-8zM725 226l2-3l3 1l-2 4zM811 193l11-2l3 3l0 6l-2 2l-9-2l-4-5zM662 190l6 4l1 3l-3 4l-6-5zM745 184l4 1l3 4l-3 5l-6-2l0-6zM773 179l1 1l-4 4l-1-3zM652 180l4 0l2 4l-2 2zM868 160l7 4l2 4l-2 6l-2 0l-7-11zM1308 168l-6-8l-3-10l-13-1l-13-15l-14 5l-14-1l-4-2l-8 4l-4-2l-18 1l-11 10l-15 3l-10 11l-15 7l-17-2l-10 3l-13 8l-5 6l-10 4l-1 10l-5 7l6-3l9 0l4 2l14 1l14 7l10 0l11-3l14-10l18 1l11 5l4 4l1 6l5-3l7 0l3 3l-1 3l-8 6l4 5l4 11l3 0l1 2l-5 2l-6 8l16 4l7 4l19-2l12-12l7-21l8-9l10-18l1-13l3-10l3-3zM1265 249l1 5l-4 4l-3 0l-2-6zM1151 180l5 1l2 3l0 3l-3 3l-6-5zM1167 176l6-2l3 6l-5 1zM1199 163l6 2l0 11l-3 0l-7-5l0-4z" fill="#4b7bc0" fill-rule="evenodd"/>
<g transform="scale(.5)" stroke-linecap="round" fill="none">
<path d="M1235 141h0m-33 9h0m7-4h0m48 5h0m5-5h0m0 6h0m17-5h0m9 6h0m-8 10h0m-48-6h0m-5 3h0m-13-1h0m-40 8h0m-325-2h0m-10 1h0m-186 9h0m86-6h0m25 6h0m40-5h0m6 7h0m60-6h0m1 1h0m287 0h0m0 0h0m10 3h0m14-4h0m41-2h0m13 3h0m10 0h0m21-2h0m11 4h0m3 6h0m-29 0h0m-9 0h0m-1 3h0m-49 4h0m-20-1h0m-15 6h0m-5-2h0m-220-2h0m-4 0h0m-73-6h0m-3 4h0m-79-1h0m-22-1h0m-47 0h0m-2 2h0m-35 0h0m2 17h0m4-4h0m16 4h0m38-5h0m63-5h0m54 3h0m54 2h0m30-5h0m18 2h0m191 3h0m0-4h0m137 6h0m-2 12h0m-318-4h0m-33-4h0m-10 1h0m-77 4h0m-20 0h0m-79 5h0m-12-4h0m-2 0h0m-7 5h0m-64-9h0m-11 15h0m72-2h0m19 1h0m3-2h0m11 4h0m7 2h0m97-5h0m1 8h0m16-8h0m22 8h0m10-6h0m1-3h0m85 9h0m246-5h0m6-2h0m20-1h0m6 6h0m1-9h0m18 13h0m-7 1h0m-5 1h0m-11 5h0m-19-1h0m-4 1h0m-5-7h0m-4 5h0m-259 6h0m-7-9h0m-104 5h0m-15 1h0m-4-4h0m-47 4h0m-8-5h0m-11 2h0m-15 6h0m-9-6h0m-2 4h0m-101-7h0m-6 4h0m28 16h0m18-9h0m13 1h0m32 1h0m10-3h0m45 8h0m88-4h0m6 5h0m93-1h0m1 1h0m29-5h0m248 12h0m-239 3h0m-48-1h0m-41-4h0m-98-3h0m-14 9h0m-19-9h0m-16 10h0m-28-5h0m-22-3h0m-65 9h0m-5-5h0m11 10h0m0 4h0m31-4h0m35 4h0m1 4h0m11-11h0m39 7h0m75-1h0m5 4h0m36 1h0m54-10h0m12 6h0m44 3h0m-1 11h0m-5-5h0m-21 4h0m-29 2h0m-49-4h0m-36 2h0m-17-2h0m-11 0h0m-19-7h0m-55 8h0m-3 0h0m-56-1h0m-23 0h0m-24-6h0m-18 3h0m7 19h0m7-7h0m50 2h0m22-5h0m29 6h0m35 1h0m2-7h0m3 0h0m11 1h0m96 0h0m11 10h0m19-4h0m4-1h0m20-4h0m42 20h0m-43-4h0m-27-4h0m-15 4h0m-31-1h0m-17 5h0m-13-4h0m-46 3h0m-10-4h0m-34-1h0m-24-3h0m-26 4h0m-36-1h0m-26 7h0m74 7h0m19 2h0m14-2h0m27 5h0m35-9h0m19 8h0m17 1h0m37-11h0m28 6h0m62-3h0m19 3h0m4-6h0m-32 19h0m-76-3h0m-4-1h0m-13 2h0m-19 1h0m-8-7h0m-5 1h0m-20 6h0m-42 1h0m-17 0h0m-17-6h0m-2 0h0m-21 3h0m-19-1h0m-61-1h0m-75 14h0m56-3h0m1 3h0m30-3h0m19 6h0m27 1h0m28-6h0m9 7h0m24 0h0m21-5h0m5-3h0m48 1h0m15 1h0m18 5h0m9 3h0m25-3h0m17-6h0m2 0h0m52 0h0m12 6h0m17 7h0m-9 5h0m-12-8h0m-46 6h0m-18-4h0m-21 1h0m-23-2h0m-8 2h0m-18 8h0m-14-7h0m-6 6h0m-30-9h0m-17 1h0m-110-2h0m-71 21h0m3 0h0m0-1h0m49-7h0m29 9h0m85-9h0m76 6h0m3-4h0m7 7h0m123-6h0m8 2h0m39-4h0m-14 14h0m-24-2h0m-49-1h0m-2 0h0m-43 1h0m-5 8h0m-1-5h0m-9-4h0m-18 8h0m-40 0h0m-68 2h0m-8-5h0m-6-3h0m-28 3h0m-14-3h0m-16 3h0m-7 1h0m-117-1h0m-54 12h0m10-2h0m9 1h0m8 4h0m92-8h0m26-1h0m25 9h0m12 2h0m31-10h0m8-1h0m13-1h0m24 11h0m3-7h0m58-1h0m14 2h0m2-3h0m6 1h0m82 1h0m24 0h0m16 0h0m2-3h0m43 2h0m12 0h0m21 8h0m-7 1h0m-69 4h0m-4 2h0m-7 4h0m-41-7h0m-2 0h0m-2 4h0m-22-4h0m-49 0h0m-36 4h0m-66 1h0m-21 1h0m-33-6h0m-10 0h0m-13 2h0m-31 1h0m-42-5h0m-29 7h0m-10-2h0m-17-5h0m-21 10h0m-18-8h0m16 11h0m29 9h0m11-8h0m15 4h0m2-4h0m13 2h0m23 6h0m2-4h0m21 4h0m37 0h0m51-3h0m0-6h0m3 1h0m4 6h0m43-7h0m64 3h0m17 7h0m19-11h0m82 9h0m4-6h0m13-1h0m28 0h0m25 5h0m10-4h0m28 7h0m1-9h0m3 8h0m5-2h0m100 8h0m-45 6h0m-17-1h0m-16-3h0m-20 1h0m-39 2h0m-92 1h0m-31-2h0m-34 1h0m-66-7h0m-5 1h0m-12 6h0m-10 1h0m-45 0h0m-45-6h0m-19 5h0m-9-6h0m-9 3h0m-7 4h0m-8-10h0m-32 9h0m-20 0h0m-39 2h0m-7-10h0m-36 1h0m-11 20h0m53 0h0m11 0h0m7-10h0m18 3h0m15-1h0m97 1h0m58 0h0m48 7h0m43-5h0m57 5h0m30-4h0m36 6h0m35-8h0m16 4h0m36 4h0m17-1h0m4-8h0m12 6h0m53-6h0m9 0h0m-79 17h0m-45-6h0m-137 0h0m-34-1h0m-31 4h0m-51-5h0m-108 3h0m-6 1h0m-2 2h0m-18 4h0m-37 1h0m-19-2h0m-90-4h0m-20 16h0m44-2h0m33 0h0m24-2h0m43 3h0m7-5h0m4-2h0m16 1h0m139 2h0m6-3h0m4 7h0m16-1h0m10 1h0m31-6h0m14 0h0m19-1h0m23 10h0m5-7h0m16 1h0m1-3h0m29 8h0m66-6h0m10 1h0m34-2h0m46 6h0m37-1h0m2-7h0m37 23h0m-23-1h0m-17-1h0m-5-5h0m-47-4h0m-3 8h0m-2-4h0m-70-2h0m-31 0h0m-41 4h0m-55-2h0m-59 7h0m-5-8h0m-19 7h0m-28-7h0m-1-1h0m-19-3h0m-116 7h0m-35 0h0m-18-4h0m-48-1h0m-58 2h0m-51 6h0m-6 7h0m6 2h0m5-1h0m102-2h0m13-4h0m37 7h0m64 4h0m29-8h0m8 3h0m6-3h0m34 6h0m25 2h0m57-2h0m3-2h0m13 3h0m5-2h0m11 1h0m23-7h0m22 3h0m50 0h0m5 7h0m13-4h0m40 3h0m5-10h0m8 10h0m3-8h0m6 9h0m35-7h0m10 6h0m1-10h0m40 5h0m10-1h0m27 5h0m14-5h0m17 10h0m-9 2h0m-6-1h0m-34 4h0m-71 3h0m-4-10h0m-39 10h0m-3-1h0m-9 1h0m-21-6h0m-33 1h0m-25-2h0m-15 1h0m-12 1h0m-3-2h0m-34-3h0m-23 0h0m-1 0h0m-18 1h0m-8 10h0m-16-2h0m-15-2h0m-3-1h0m-4 2h0m-15 2h0m-5-5h0m-83-5h0m-35 0h0m-48 1h0m-2 8h0m-66-2h0m-94 11h0m32-1h0m6 3h0m45-5h0m34-2h0m13 8h0m72-1h0m87-8h0m61 1h0m8 6h0m46-5h0m35 8h0m94-6h0m11-4h0m56 2h0m9 1h0m57 7h0m1-10h0m31 0h0m1 10h0m6 1h0m31-12h0m11 4h0m-43 8h0m-11 10h0m-116-6h0m-1-3h0m-2 3h0m-44 2h0m-42-1h0m-40 0h0m-31 0h0m-42 7h0m-9-9h0m-7 1h0m-12 3h0m-12-5h0m-10 6h0m0-5h0m-23-1h0m-57 8h0m-39-7h0m-3 6h0m-18-2h0m-12 5h0m-31-10h0m-4 4h0m-3-1h0m-12 4h0m-40 2h0m-13-1h0m-42-7h0m-5-1h0m-54 14h0m1 7h0m21-9h0m36 9h0m59 0h0m3-4h0m16-6h0m37-1h0m6 9h0m18-6h0m33-1h0m24-1h0m74 9h0m54-7h0m2 2h0m1-2h0m27 5h0m23-7h0m45 4h0m16-4h0m40 8h0m12-7h0m5 6h0m9 3h0m39-4h0m13 0h0m10 0h0m64 1h0m54-6h0m4 0h0m15 9h0m-30 11h0m-5-2h0m-3-1h0m-25-5h0m-9 3h0m-15-1h0m-3-1h0m-4 2h0m-24-2h0m-8 3h0m-4 4h0m-50-7h0m-60-2h0m-17 6h0m-29-3h0m0-2h0m-23 1h0m-11 4h0m-57 4h0m-10-6h0m-57 3h0m-1-8h0m-17 8h0m-11-8h0m-50 8h0m-77-7h0m-113 10h0m-35 8h0m56-1h0m1-2h0m20 7h0m15-5h0m19-1h0m5 6h0m26-6h0m62-5h0m46 10h0m3-10h0m27 5h0m50-5h0m48 9h0m81-1h0m1-3h0m7 2h0m102-1h0m30 2h0m38-2h0m89-2h0m4 0h0m32 5h0m10-6h0m6 4h0m-48 7h0m-43 8h0m-75-2h0m-20 3h0m-3-2h0m-69-1h0m-29-2h0m-49-3h0m-6-3h0m-156 5h0m-134-5h0m-1 7h0m-11-3h0m-67 3h0m-14-2h0m-1 2h0m-32 3h0m-7-6h0m-13 0h0m-11 7h0m-13 1h0m4 1h0m18 11h0m12-8h0m27 0h0m37 2h0m32 4h0m18-4h0m151 3h0m111-3h0m30-2h0m18 2h0m34 1h0m104-2h0m24 2h0m57 2h0m10-8h0m3 7h0m5-8h0m35 8h0m8-1h0m8 1h0m74 7h0m-42 0h0m-23 5h0m-4-6h0m-61-2h0m-4 1h0m-86 7h0m-6 1h0m-20-6h0m-33-2h0m-9 11h0m-78-2h0m-55-9h0m-68 3h0m-2 7h0m-16-8h0m-233 5h0m-27-4h0m-11 2h0m-10 3h0m-16 11h0m20-3h0m21 1h0m11 3h0m33 1h0m20-2h0m0 0h0m22-2h0m200 0h0m26 0h0m69 3h0m9-2h0m42 0h0m7-5h0m20 3h0m1 3h0m90-1h0m44-1h0m-48 15h0m-63 0h0m-20 3h0m-12-4h0m-8 1h0m-50-8h0m-63 2h0m-114 3h0m-26 1h0m-24-5h0m-60 7h0m-25-4h0m-5-4h0m-10 2h0m-21 1h0m-30-4h0m-30 2h0m-44 3h0m-7-1h0m25 16h0m79-8h0m33 3h0m1 2h0m31 1h0m43 6h0m41-7h0m75 0h0m133 6h0m51-6h0m13-4h0m13 13h0m-168 9h0m-50-4h0m-17 2h0m-40-3h0m-21 3h0m-4 1h0m0 1h0m-21-8h0m-59-3h0m-50 6h0m-3 5h0m-6-1h0m-2-9h0m-67 10h0m-40-7h0m22 14h0m33 2h0m1-4h0m15 6h0m6-3h0m32-2h0m126-5h0m79 2h0m10 2h0m167 7h0m35-4h0m21-7h0m51 7h0m1-7h0m4 4h0m5 13h0m-56 7h0m-17-11h0m-12 7h0m-166 1h0m-5-2h0m-12-5h0m-53 0h0m-46 8h0m-32-4h0m-8 3h0m-38 1h0m-18-2h0m-20 3h0m-83-10h0m-19 11h0m-13 3h0m40-3h0m22 3h0m61 9h0m8-11h0m15 2h0m11-3h0m32 6h0m17 3h0m37-8h0m6 10h0m4 0h0m6-2h0m28-2h0m76-6h0m0 1h0m146 4h0m78 7h0m-77 11h0m-27-2h0m-6-9h0m-193 0h0m-33 9h0m-12-3h0m-9 5h0m-7-6h0m-31-1h0m-28-5h0m-2 0h0m-53 12h0m-36-5h0m-41-7h0m56 13h0m46 6h0m66-4h0m38 6h0m4 1h0m67-5h0m10 6h0m12 0h0m21-6h0m9 4h0m3 3h0m222-10h0m12 4h0m-17 16h0m-80-5h0m-29-4h0m-93 10h0m-27-2h0m-9-2h0m-69 5h0m-11-4h0m-17-6h0m-10 6h0m-4-3h0m-94-1h0m-23 4h0m-30-5h0m-2 1h0m-3-3h0m-7 0h0m42 18h0m14 0h0m35 4h0m67-1h0m5-9h0m74 4h0m37 0h0m19-3h0m8 2h0m6 3h0m11 0h0m86 4h0m21 1h0m2-6h0m24 4h0m7-8h0m4-1h0m1 10h0m19-1h0m40 13h0m-30-9h0m-4 1h0m-59 4h0m-27 4h0m-96 1h0m-29-1h0m-12 1h0m-28-2h0m-30 0h0m-10-6h0m-4 4h0m-23-7h0m-6 9h0m-1 1h0m-15 0h0m-37-10h0m-104 7h0m4 12h0m5-8h0m96 9h0m6 1h0m38-2h0m33-3h0m11-2h0m62 1h0m17 1h0m81 0h0m8-1h0m4 0h0m6-4h0m36 1h0m30-1h0m6 7h0m1 2h0m72 5h0m-13 0h0m-85-2h0m-6 11h0m-9-3h0m-20 1h0m-30-5h0m-1 2h0m-9-5h0m-31 8h0m-25 0h0m-9 0h0m-26-1h0m-9-1h0m-40 3h0m-57-7h0m-2 9h0m-27-6h0m-15 6h0m-31-12h0m-3 0h0m-10 5h0m-38 0h0m-6 7h0m-3 3h0m76 4h0m38-1h0m3-2h0m12 7h0m21-2h0m4 3h0m38-5h0m4-6h0m39 7h0m47-4h0m50-3h0m62 4h0m37 2h0m31 2h0m15-4h0m2-2h0m27 1h0m9 12h0m-1 8h0m-23-8h0m-32 2h0m-27 6h0m-195-9h0m-38 0h0m-62 7h0m-100-9h0m-12 6h0m13 10h0m37 1h0m5 4h0m13-5h0m12 5h0m1-6h0m47 1h0m33 3h0m4-3h0m118-4h0m107 7h0m16-5h0m1-2h0m4 0h0m7 6h0m52-1h0m-27 9h0m-18 5h0m-1-7h0m-11 2h0m-134 3h0m-27-3h0m-41 6h0m-76-7h0m-12 1h0m-34-1h0m-54 12h0m64 1h0m183-2h0m216 12h0m-32 0h0m-20 4h0m-6 3h0m-46-4h0m-8 2h0m-174 3h0m0-2h0m-23 4h0m-107-9h0m-16 21h0m119 1h0m6-2h0m54-9h0m13 2h0m120 1h0m102-3h0m13 1h0m-222 18h0m-27 1h0m-22 2h0m-8-3h0m-9-6h0m-12 5h0m-22 17h0m19-3h0m69-9h0m-41 12h0m-9 10h0m-1-5h0m-18 2h0m-22 0h0m-2-5h0m-52 12h0m43 0h0m223 8h0m-233 9h0m-6-6h0m95 16h0m2-3h0m43 8h0m29 0h0m16-5h0m74-5h0m8 9h0m2 3h0m-61 11h0m-47-10h0m-194 1h0m-3 2h0m-19-3h0m241 16h0m70 9h0m-70 10h0m-7-7h0m-16-2h0m-3 6h0m-33-8h0m-28 5h0m-1 0h0m-1 6h0m-7-2h0m-60 11h0m21-4h0m14 0h0m37 5h0m38 1h0m73-10h0m47 19h0m-22 0h0m-118 0h0m-3 3h0m-32-3h0m-91-3h0m-8 0h0m-26 10h0m12 1h0m2 1h0m38 6h0m14-1h0m15-8h0m7 6h0m30-1h0m21-3h0m91 0h0m1 4h0m55-2h0m8-6h0m2 11h0m23 6h0m-48-4h0m-160 1h0m-31 0h0m-10 10h0m-15-7h0m-25 4h0m-22-9h0m-31 8h0m-109 15h0m18-7h0m37 0h0m38 0h0m20 4h0m49-6h0m25-1h0m29 0h0m29 1h0m33 5h0m53-2h0m1 5h0m24-4h0m3 0h0m6 2h0m17-1h0m5 1h0m12-1h0m186 5h0m-128 2h0m-3 0h0m-13 8h0m-8-7h0m-14 6h0m-67 0h0m-13-6h0m-64-1h0m-69 0h0m-6 4h0m-6-5h0m-11 4h0m-21 1h0m-1-3h0m-24 8h0m-16-6h0m-40 1h0m-52-4h0m-7 9h0m-15-10h0m-3 2h0m-43 7h0m-76-6h0m-8 19h0m54-11h0m32 1h0m157 8h0m6-7h0m70 6h0m15-8h0m1 12h0m14-3h0m6-5h0m98-3h0m12 3h0m17 3h0m8 3h0m59 0h0m26 0h0m78 13h0m-7 0h0m-114 0h0m-25-5h0m-67-5h0m-37 2h0m-5 8h0m-18-8h0m-17-2h0m-19 10h0m-14-9h0m-12 0h0m-28 7h0m-9-2h0m-7-4h0m-30 1h0m-18 3h0m-9-4h0m-28-2h0m-4 0h0m-28 8h0m-62-7h0m-39 2h0m-42 0h0m-16 7h0m-24 0h0m-1-5h0m22 7h0m29-1h0m42 2h0m7 8h0m13-2h0m8 1h0m26-7h0m21 2h0m4 4h0m24 2h0m18-5h0m43 1h0m62 5h0m3-6h0m38 4h0m28 2h0m69-2h0m1-1h0m8 1h0m7-6h0m8 0h0m15 6h0m14 2h0m32-9h0m23 4h0m14 4h0m22-3h0m3 4h0m3-10h0m8 8h0m39 1h0m7 1h0m10-5h0m44-2h0m0 5h0m7-4h0m6 5h0m29-1h0m4 0h0m7-3h0m1-4h0m-5 12h0m-58 1h0m-4 5h0m-26-2h0m-76-1h0m-50 0h0m-9-2h0m-39 7h0m-21-6h0m-12 7h0m-16-2h0m-6 2h0m-1-1h0m-60-6h0m-61 8h0m-141-12h0m-36 1h0m-15-1h0m-62 8h0m22 13h0m58-8h0m12 10h0m56-1h0m59-9h0m16 7h0m13-6h0m4-1h0m15 2h0m32 8h0m7-10h0m11 8h0m21-2h0m53-7h0m27 10h0m45-6h0m78 5h0m31 3h0m6-5h0m9 2h0m26 0h0m1-9h0m41 6h0m57-5h0m2 4h0m0 3h0m-77 9h0m-38-1h0m-13 3h0m-18-1h0m-40-4h0m-32-1h0m0 8h0m-8-5h0m-8-2h0m-9 9h0m-32-4h0m-21 0h0m-75-6h0m-22 9h0m-101 1h0m-3-9h0m-5 9h0m-9-5h0m-31-1h0m-7 7h0m-21-11h0m-28-1h0m-7 2h0m-57 9h0m-13-1h0m-10 2h0m-1-5h0m-20 5h0m-37-2h0m-1 14h0m9-3h0m4-3h0m3 1h0m14 2h0m6-2h0m15-7h0m19 0h0m5 1h0m23 2h0m16 0h0m48 5h0m4 2h0m13-5h0m42 7h0m14-8h0m6 3h0m13 5h0m10-12h0m52 5h0m62-5h0m106 6h0m55-3h0m26 0h0m6 5h0m91 1h0m6-4h0m23-3h0m-10 16h0m-41-6h0m-60 6h0m-11 2h0m-20-6h0m-90 5h0m-8-5h0m-6 8h0m-16-1h0m-4 1h0m-35 1h0m-9-6h0m-5 4h0m-64-8h0m-2 5h0m-79-6h0m-34 11h0m-2-1h0m-10 0h0m-35-6h0m-10-1h0m0 8h0m-113-3h0m0 2h0m-8-8h0m-45-1h0m-29 9h0m0-4h0m-2-3h0m-22 5h0m46 9h0m13-3h0m3 0h0m11 8h0m37-8h0m50-2h0m60 7h0m11-3h0m40 3h0m0 2h0m38-6h0m4-1h0m17 2h0m18-4h0m76 4h0m2-2h0m27 7h0m57 0h0m32-1h0m16-5h0m40-3h0m20 4h0m1 4h0m16-1h0m120-2h0m4 2h0" stroke="#5c8ccd" stroke-width="7" stroke-opacity=".55"/>
<path d="M1267 140h0m-8 2h0m-17 0h0m-45 13h0m0-3h0m33-2h0m27 6h0m-14 11h0m-31-5h0m-283 2h0m-24-4h0m-49 8h0m-33-10h0m9 11h0m334 1h0m32 10h0m63-12h0m27 20h0m-5 4h0m-24-8h0m-37-2h0m-293 10h0m-226-3h0m-60 12h0m33 0h0m194-7h0m39 8h0m294 0h0m2-2h0m23 1h0m6 2h0m39 1h0m8-9h0m1 14h0m-9-5h0m-106 3h0m-249-2h0m-104-1h0m-21 4h0m-16 7h0m-13-10h0m-32 7h0m43 9h0m52 2h0m30 0h0m34-6h0m2 10h0m25-5h0m18 1h0m6 4h0m301-1h0m1-6h0m23 7h0m-24 10h0m-367-3h0m-4 1h0m-58-3h0m-48 2h0m-2 3h0m-73 1h0m-32-7h0m-5 8h0m-4 5h0m32-2h0m50 2h0m13 0h0m122 1h0m2-1h0m17 6h0m30-2h0m89 0h0m232 9h0m-6-1h0m-243 6h0m-106-6h0m-12 5h0m-33 0h0m-5 1h0m-2-9h0m-7 10h0m-22-5h0m-39-5h0m-26 2h0m-21 2h0m-61 17h0m36-1h0m20 2h0m11-10h0m171 0h0m73 10h0m17-1h0m25-5h0m11-2h0m9 8h0m1 10h0m-61-3h0m-50 3h0m-62-2h0m-43 3h0m-27-6h0m-17 7h0m-84-7h0m-40 19h0m75-4h0m59 4h0m68-4h0m131-3h0m48 3h0m28 4h0m-49 7h0m-131-3h0m-21 7h0m-14 1h0m-18-6h0m-29 0h0m-8 0h0m-12-2h0m-30 3h0m-24-1h0m-33-2h0m110 18h0m6-6h0m17-2h0m16-1h0m65 6h0m34 0h0m59 1h0m37-4h0m8 9h0m6 0h0m-35 2h0m-10 6h0m-38 3h0m-211-9h0m-4 4h0m-7-2h0m-43 3h0m-81 3h0m-12 14h0m20 0h0m35-3h0m211-7h0m6 7h0m23 2h0m5-4h0m30 4h0m52-1h0m4 13h0m-9 0h0m-13 1h0m-1-12h0m-48 11h0m-120 0h0m-55-5h0m0 2h0m-38-6h0m-62-2h0m-21 8h0m-19 0h0m-4-1h0m4 13h0m9-7h0m6 9h0m20 1h0m50-10h0m22 4h0m13 0h0m11 2h0m12 2h0m25-3h0m53 2h0m167-7h0m46 2h0m14 9h0m-48 4h0m-71 5h0m-70 3h0m-3-1h0m-15-7h0m-15-4h0m-47 4h0m-25 3h0m-20 0h0m-31-3h0m-49 4h0m-37-5h0m-22 6h0m-8-6h0m-37 2h0m-29 3h0m108 16h0m56-9h0m121 0h0m46 5h0m16-8h0m23 2h0m2 3h0m134 5h0m24 13h0m-30 0h0m-35-1h0m-26-3h0m-2-2h0m-11 2h0m-50-5h0m-62 0h0m-96 6h0m-28 2h0m-3-8h0m-167 5h0m-29-6h0m19 19h0m13-2h0m17-5h0m99 6h0m79-6h0m18 5h0m139 5h0m5-5h0m29 4h0m45 1h0m26-5h0m42-5h0m82 20h0m-8 2h0m-128-9h0m-50 9h0m-24-1h0m-65-2h0m-164-3h0m-159-2h0m-18 8h0m-18 10h0m12-8h0m8 3h0m1 0h0m70 4h0m57 0h0m110 2h0m28-7h0m6 1h0m11-3h0m7 0h0m63 7h0m52-5h0m15 5h0m3-1h0m32-1h0m50-2h0m67 4h0m22 3h0m55-8h0m-3 18h0m-40-8h0m-270 5h0m-24 0h0m-49 6h0m-8-9h0m-1 4h0m-278-4h0m11 16h0m343 2h0m31 2h0m15-8h0m65 2h0m30 1h0m35 5h0m102-3h0m3-7h0m-18 22h0m-158-9h0m-17 4h0m-28 4h0m-306 1h0m-17-2h0m-6-8h0m-105 2h0m-21 0h0m118 13h0m9 7h0m49-2h0m42-6h0m45 1h0m43 4h0m14-4h0m81 7h0m40-4h0m70 4h0m26-4h0m88-4h0m24-2h0m34 16h0m-14-4h0m-46 6h0m-76-4h0m-50-3h0m-3 7h0m-58 1h0m-55 3h0m-3-6h0m-53 1h0m-1 6h0m-2-9h0m-3 2h0m-4 5h0m-70-2h0m-80 3h0m-190-7h0m-1 12h0m18 2h0m41 0h0m52 0h0m55 0h0m50 0h0m8 2h0m45 1h0m66 1h0m115-4h0m36 6h0m148-3h0m6-6h0m52 7h0m15-2h0m17 3h0m7 0h0m27-8h0m-37 16h0m-38-1h0m-41 1h0m-56-2h0m-3-2h0m-6 1h0m-25 0h0m-10 1h0m-26-1h0m-30-1h0m-55-2h0m-94 11h0m-44-1h0m-33-5h0m-57-2h0m-117 2h0m-27 0h0m-67 2h0m56 12h0m20-4h0m25 0h0m43 8h0m35-2h0m30 2h0m4-1h0m59-8h0m7 7h0m3-4h0m28-5h0m4 5h0m95 6h0m0-11h0m50 4h0m19 5h0m37-8h0m3 9h0m67-1h0m32-5h0m45-5h0m31 7h0m8-7h0m-9 15h0m-1 3h0m-100-6h0m-94 12h0m-31-8h0m-32-4h0m-163 0h0m-79 1h0m-106 1h0m-3 8h0m-1-6h0m-8-3h0m-9 4h0m-58 4h0m-30 2h0m92 9h0m145-2h0m42 0h0m32-5h0m2 10h0m267-10h0m4 0h0m5 0h0m35 3h0m17 7h0m2-2h0m50-5h0m7 5h0m5-7h0m80-1h0m13 11h0m-47 11h0m-20-6h0m-100-2h0m-63 6h0m-10-6h0m-20 9h0m-36 0h0m-71-4h0m-50-2h0m-215-3h0m-8 6h0m-68-4h0m-5 3h0m-20-8h0m-39 8h0m-1 0h0m87 5h0m29 5h0m246 6h0m103-9h0m119 3h0m0 5h0m92-4h0m21 9h0m-31 3h0m-96 5h0m-9 0h0m-83-2h0m-63-9h0m-49 2h0m-260 5h0m-3-8h0m-13 11h0m-54-10h0m-10 1h0m-14 5h0m-65 0h0m-4 10h0m36-4h0m29 7h0m10 0h0m61-7h0m17 4h0m5 0h0m316-3h0m26 9h0m-152 5h0m-4 0h0m-130 4h0m-5-8h0m-96 4h0m-27 5h0m-31-7h0m-46 19h0m39 3h0m54 0h0m52-12h0m128 5h0m14 6h0m13-8h0m9 6h0m187-8h0m13 15h0m-211 3h0m-6-6h0m-42 0h0m-38-1h0m-13 8h0m-37 2h0m-58-6h0m-30 11h0m33 5h0m201-3h0m10 6h0m176-8h0m120 21h0m-3-6h0m-2 1h0m-40 5h0m-256-6h0m-89 6h0m-63-9h0m-12 5h0m-32-5h0m35 15h0m15-1h0m80 5h0m279-2h0m47 9h0m-2-1h0m-47 0h0m-13-1h0m-15 6h0m-18 1h0m-137-5h0m-46 7h0m-17-8h0m-38 0h0m-132 2h0m-2-4h0m-1 2h0m20 17h0m38 1h0m10 0h0m53 1h0m88-10h0m30 7h0m202-1h0m7 0h0m13 7h0m-3 3h0m-33-3h0m-19 9h0m-130-6h0m-41 3h0m-84 2h0m-17-7h0m-74 6h0m-86 10h0m18-3h0m76 5h0m73-1h0m49-1h0m78-4h0m73 16h0m-106-6h0m-21 2h0m-14 5h0m-20-1h0m-85-3h0m-54 18h0m207-3h0m115-1h0m28-4h0m10 0h0m50 5h0m48 3h0m-14 8h0m-14 2h0m-91 2h0m-86 1h0m-1-5h0m-81 2h0m-24 2h0m-66-6h0m-36-1h0m-5 2h0m-53 7h0m-26-7h0m47 14h0m32-3h0m73-3h0m175-1h0m45 8h0m30 2h0m59-4h0m34 0h0m-32 12h0m-12 5h0m-190-5h0m-15-3h0m-12-1h0m-95 6h0m-22-3h0m-35-3h0m-7 5h0m-24 0h0m0 3h0m-49-9h0m79 20h0m40-8h0m25 8h0m31-6h0m244 5h0m3-1h0m22-1h0m5 3h0m38 11h0m-56-4h0m-44 7h0m-161-4h0m-60 0h0m-85-4h0m-33 5h0m-18 5h0m41 3h0m5 7h0m115-8h0m64 3h0m29 3h0m141 2h0m21-6h0m4 4h0m59 12h0m-64-8h0m-222-1h0m-115 4h0m90 16h0m100-4h0m-10 14h0m-1-5h0m-42 4h0m-82 8h0m41 19h0m-24 9h0m212 8h0m-68 4h0m-197 4h0m-31 8h0m29 5h0m175-7h0m29 0h0m77 10h0m-61 0h0m-19 5h0m-12-5h0m-35 8h0m-22 13h0m12-5h0m18-1h0m72 4h0m5 1h0m19-4h0m1 5h0m9-7h0m-98 18h0m-42 0h0m-12-1h0m-32 2h0m2 8h0m38 5h0m120-8h0m41 1h0m29 13h0m-77 4h0m-18-5h0m-30 6h0m-200 3h0m41 2h0m105 3h0m74-4h0m82 5h0m-11 14h0m-84-4h0m-15 2h0m-134 2h0m-23-5h0m-35-2h0m51 13h0m0 8h0m20-5h0m5-5h0m245 6h0m123 1h0m1 5h0m-116 0h0m-7 5h0m-30 0h0m-13 2h0m-53 2h0m-7 2h0m-16-10h0m-211 3h0m-8 2h0m-43-1h0m-109 4h0m-68 13h0m62-7h0m95-2h0m69-2h0m10 5h0m180 2h0m112-7h0m8 9h0m3 1h0m129 11h0m-74-2h0m-39 4h0m-76-2h0m-7-6h0m-121 4h0m-13 2h0m-3-7h0m-91 9h0m-4-8h0m-25-1h0m-16 6h0m-108 2h0m-25-6h0m-38 2h0m-19-6h0m-46 3h0m49 20h0m67 0h0m69 1h0m128 0h0m3-10h0m73 4h0m117 1h0m36 2h0m6-3h0m42 3h0m90-8h0m33 1h0m3 7h0m-52 5h0m-25 6h0m-61 1h0m-9-6h0m-9 0h0m-43-3h0m-1 11h0m-51 0h0m-12 1h0m-75-3h0m-69-2h0m-10 1h0m-17-6h0m-9 1h0m-77-2h0m-40 2h0m-62 7h0m-30 2h0m56 5h0m55 4h0m22-7h0m80 10h0m48-5h0m0-6h0m39 1h0m6 5h0m11 2h0m13-8h0m74 1h0m26-1h0m110 10h0m29-10h0m2 9h0m52-4h0m1 1h0m27-1h0m4 6h0m6-4h0m10 3h0m6-4h0m-33 9h0m-12 1h0m-64-4h0m-36 8h0m-13-6h0m-50 7h0m-21 0h0m-55-9h0m-3 8h0m-32-9h0m-97 11h0m-25-2h0m-9-3h0m0-4h0m-35 5h0m-6-6h0m-18 4h0m-89-3h0m-95 9h0m-36 6h0m61-2h0m30 2h0m24-1h0m93 1h0m17-3h0m11 6h0m12-8h0m82 6h0m8 4h0m148-8h0m12 2h0m45-1h0m111 7h0m7-6h0m72-3h0m-72 21h0m-58 0h0m-66-10h0m-30 5h0m-2-4h0m-164 2h0m-11 1h0m-73 5h0m-11-4h0m-68 6h0m-33-2h0m-137-7h0m-8 10h0m51 3h0m44-1h0m1-2h0m68 2h0m86 6h0m14-6h0m34 1h0m118 0h0m153-2h0" stroke="#3f6cae" stroke-width="6" stroke-opacity=".5"/>
<path d="M1210 143h0m-25 13h0m14 0h0m5-10h0m43 8h0m12-10h0m22 7h0m3 4h0m1-6h0m18 17h0m-17-1h0m-5 1h0m-5 2h0m-1-6h0m-5-6h0m-4 12h0m-9-9h0m-7 1h0m-50 3h0m-4 3h0m-263-5h0m-15 4h0m-12 1h0m-44-9h0m-24 6h0m-4 2h0m-27-1h0m-2 4h0m-144 5h0m8 0h0m29 5h0m13-2h0m19 0h0m3 3h0m5-2h0m9-3h0m35 4h0m28-6h0m0 1h0m14 4h0m46-2h0m4 5h0m11-9h0m6 4h0m14-2h0m290-5h0m0 10h0m23-2h0m20-3h0m4 0h0m5 7h0m19-4h0m9-6h0m4 2h0m21 5h0m-18 13h0m-32-6h0m-34 0h0m-23 7h0m-28-9h0m-5 10h0m-25-9h0m-15-1h0m-189-1h0m-4 6h0m-7 3h0m-4-4h0m-7 3h0m-1 0h0m-2 3h0m-2-8h0m-6 1h0m-17 4h0m-1-1h0m-21-1h0m-12 5h0m-3-3h0m-5-2h0m-7-3h0m-2 4h0m-3-3h0m-4 1h0m-1 4h0m-3-8h0m-8 10h0m-39-6h0m-15 1h0m-32 1h0m-1-5h0m-6 0h0m-3-1h0m0 5h0m-38 2h0m-20 2h0m-14-6h0m11 9h0m4-2h0m17 2h0m2 8h0m0-4h0m10 5h0m4-4h0m3 4h0m11-11h0m11 4h0m3-1h0m3-3h0m13 1h0m0 6h0m34-6h0m36 8h0m30-8h0m17 8h0m8-2h0m33 0h0m64 2h0m151 3h0m26-12h0m2 6h0m25 5h0m8-11h0m11 5h0m15-3h0m7 2h0m3 8h0m15 0h0m1-8h0m12-4h0m23 5h0m8 2h0m16-4h0m4-3h0m0 4h0m5 4h0m-6 14h0m-12-9h0m-27 3h0m-22 1h0m-52-5h0m0 4h0m-23 4h0m-21-6h0m-228 8h0m-5-5h0m-15 0h0m-6-3h0m-8 1h0m-23 5h0m-2-6h0m-40 3h0m-4 0h0m-18 2h0m-8 1h0m-2-4h0m-8 3h0m-6-5h0m-15 6h0m-24-2h0m-34-3h0m-15 3h0m-3 1h0m-8 4h0m-10-11h0m-1 6h0m-2-4h0m26 16h0m0 3h0m26 0h0m9-8h0m52 10h0m0 0h0m27-5h0m21 0h0m6 5h0m3-2h0m11-7h0m8 10h0m35-12h0m5 1h0m5 10h0m1-3h0m50 1h0m15 0h0m16-4h0m3-2h0m13 4h0m279 2h0m18-8h0m1 1h0m18 3h0m-10 15h0m-10 2h0m-16-2h0m-4 2h0m-3-8h0m-6 0h0m-12 9h0m-235-10h0m-9 3h0m-1 1h0m0 3h0m-45-3h0m-17 6h0m-29-1h0m-26-1h0m-42 3h0m-6-1h0m-19-5h0m-3-1h0m-18 6h0m-3-2h0m-43-2h0m-8 1h0m-2 3h0m-23-3h0m-8-4h0m-3 0h0m-5 4h0m-34-1h0m-10-2h0m1 9h0m18-1h0m4 5h0m3-2h0m17 0h0m11 7h0m1-1h0m5-9h0m53 2h0m70 6h0m6-2h0m22 5h0m8-3h0m10 0h0m25-9h0m7 3h0m7 9h0m4-5h0m19 2h0m12-2h0m5-2h0m9 1h0m17-2h0m21 8h0m235-6h0m29 2h0m16-3h0m-257 17h0m-51-3h0m-30-2h0m-13 0h0m-4 4h0m-42 2h0m-3-8h0m-21 2h0m0 3h0m-37-2h0m-9 3h0m-13-2h0m-21 1h0m-24 1h0m-11-3h0m-4 4h0m-6-3h0m-7-1h0m-19-1h0m-1 4h0m-12-7h0m-3 5h0m-21-2h0m-5-2h0m-17-1h0m41 10h0m3 8h0m8 1h0m4 0h0m24 2h0m1-7h0m6-2h0m6-2h0m0 3h0m30 1h0m10 5h0m10-4h0m35 2h0m3-2h0m35 1h0m15-5h0m17 10h0m20-8h0m6 1h0m7 2h0m18 0h0m0 1h0m7 3h0m8 2h0m5-5h0m21-3h0m10-3h0m9 11h0m3-2h0m23-6h0m8 15h0m-19-4h0m-13 7h0m-3 1h0m-5-6h0m-1 5h0m-18-1h0m-14-7h0m-58-1h0m-1 7h0m-8-2h0m-2-3h0m-12 5h0m-3 3h0m-22-7h0m-3 6h0m0-6h0m-7-1h0m-18-1h0m-8 8h0m-1-8h0m-7 10h0m-10 0h0m-8-1h0m0-5h0m-13-4h0m-5 4h0m-2-4h0m-1 4h0m-13 5h0m-7-6h0m-13-4h0m-21 7h0m-17-5h0m-12-1h0m-12 9h0m-5-2h0m-47 14h0m9-9h0m17-2h0m15 0h0m19 7h0m4 3h0m9-10h0m35 4h0m34 3h0m18 3h0m1-7h0m1 3h0m29 4h0m18-9h0m10 1h0m26 4h0m11 6h0m55-3h0m36-3h0m35-6h0m13 1h0m8 1h0m12 8h0m-6 7h0m-17 4h0m-17 3h0m-7-10h0m-1 7h0m-2-6h0m-17-3h0m-5 9h0m-19 0h0m-6-4h0m-7-3h0m-15 4h0m-1 0h0m-3 2h0m-22 1h0m-29-6h0m-56-1h0m-6 8h0m-11-2h0m-21-7h0m-6 10h0m-2-9h0m-16-1h0m-7 10h0m-13-11h0m-2 6h0m-35 3h0m-6 1h0m-3 2h0m-33-7h0m-2 9h0m12 0h0m0 2h0m26 4h0m40-2h0m11-6h0m37 7h0m13-4h0m5 7h0m19-2h0m4 0h0m26-4h0m4 6h0m7-6h0m0-3h0m33 9h0m1-1h0m6-5h0m7 3h0m21-7h0m0 4h0m29 1h0m7 3h0m8 0h0m31-6h0m0 12h0m-23 10h0m-3-7h0m-12-3h0m-3 5h0m-1-2h0m-29 0h0m-41-4h0m-2 5h0m-1 3h0m-18 3h0m-10-3h0m-10 2h0m0-6h0m-6 5h0m-3-9h0m-45 9h0m-5-6h0m-88 2h0m-3-4h0m-4 4h0m-37 6h0m-42-3h0m7 11h0m4-7h0m38 4h0m15-3h0m3 10h0m13-7h0m29 0h0m36-1h0m23 6h0m36-8h0m11 2h0m4 7h0m13-9h0m3 4h0m25 1h0m0 0h0m2-2h0m6-2h0m4 3h0m16 4h0m4-3h0m32 5h0m8-4h0m9-5h0m19 1h0m7-4h0m2 6h0m66 16h0m-3 2h0m-8-7h0m-19 6h0m-17-1h0m-2-5h0m-10-4h0m-2 11h0m-6-9h0m-87 3h0m-2-5h0m-21 8h0m-5 0h0m-36 2h0m0-10h0m-14 11h0m-30-8h0m-5 4h0m-8-7h0m-4 9h0m-4-8h0m-14 0h0m-8 8h0m-13-4h0m-8-3h0m-5-2h0m-3 8h0m-8 3h0m-4-2h0m-2-2h0m-8-1h0m-2 2h0m-1-3h0m-6 3h0m-3-3h0m-22-4h0m-15-1h0m-17 1h0m-89 17h0m34 1h0m18-3h0m2-3h0m11 9h0m21-10h0m0 8h0m18-2h0m20-5h0m15 0h0m3 5h0m30 1h0m2-5h0m1 0h0m13 5h0m5-5h0m16 0h0m3 2h0m4 0h0m4-4h0m37 10h0m37-9h0m6 10h0m1-11h0m11 2h0m16 3h0m6 1h0m20 0h0m8-2h0m1-4h0m33 11h0m7-5h0m7-5h0m2 6h0m38-5h0m8 2h0m26 5h0m1-3h0m8 1h0m0-4h0m1 3h0m-13 15h0m-19 0h0m-24 1h0m-2-4h0m-31 2h0m-26-4h0m-4-1h0m-8-2h0m-19 4h0m-14-4h0m-21 9h0m-3-6h0m-4-2h0m-6 4h0m-38 1h0m-1-6h0m-5-1h0m-22 4h0m-12 1h0m-7-5h0m-2 0h0m-25 8h0m-10-2h0m-4-1h0m-14-3h0m-9 8h0m-6-8h0m-16-2h0m-14 1h0m-16 1h0m-4 3h0m-29-5h0m-25 0h0m-11 0h0m-27 8h0m-5-2h0m-3-4h0m-7 8h0m18 12h0m2-5h0m11 6h0m5-11h0m23 5h0m18 4h0m33-5h0m17 1h0m2-1h0m10 2h0m0-2h0m34 5h0m17-5h0m17-1h0m28 6h0m18 0h0m16-1h0m21-1h0m2-8h0m3 9h0m34-5h0m1 3h0m2 0h0m7-7h0m45 6h0m8-4h0m20 8h0m4-1h0m8-8h0m36 9h0m13 1h0m4-5h0m4 6h0m15-1h0m7-4h0m26-6h0m1 9h0m25 9h0m-70 3h0m-16-3h0m-9 4h0m-3-5h0m0-5h0m-19 6h0m-7 3h0m-11-10h0m-7 7h0m-16 4h0m-19-1h0m-16-9h0m-1 8h0m-24-2h0m-13 1h0m-5-1h0m0-2h0m-13-3h0m-4 7h0m-2 0h0m-15-7h0m-12 7h0m-8-3h0m-15 3h0m-8-8h0m-2 1h0m-1-1h0m-2 6h0m-60-5h0m-9 3h0m-21 1h0m-16-5h0m-1 10h0m-11-3h0m-21-6h0m-9 9h0m-20-8h0m-38 8h0m-12-2h0m-34 0h0m-2 3h0m0 0h0m12 10h0m5-6h0m9 7h0m1-7h0m1-2h0m4 8h0m0-3h0m6 1h0m4-6h0m35 9h0m4 0h0m15-3h0m2 4h0m13-12h0m6 10h0m4-7h0m24 2h0m6 5h0m9-5h0m5 0h0m3 0h0m27-2h0m11 1h0m8-3h0m2 3h0m51 1h0m9-5h0m43 0h0m14 3h0m1-2h0m5-1h0m27 3h0m5 8h0m1-5h0m3-2h0m14 4h0m19 4h0m1-9h0m28 4h0m9-5h0m2-1h0m0 10h0m1-8h0m6 8h0m6-11h0m2 1h0m14 11h0m11-12h0m3 5h0m5 3h0m5 2h0m7-1h0m28-7h0m22 5h0m86 11h0m-25 3h0m-10-5h0m-20 1h0m-6 6h0m-3-2h0m-16-3h0m0 5h0m-20-1h0m-11 1h0m-7-8h0m-3-3h0m0 3h0m-5 8h0m-12-11h0m-9 7h0m-7-1h0m-7 6h0m-6-9h0m-25 0h0m-9 8h0m-6-2h0m-10-8h0m-1 7h0m-3-7h0m-22 4h0m0-2h0m-7-3h0m-3 10h0m-9-5h0m-79-2h0m-2 5h0m-39-2h0m-4 6h0m-23-6h0m-14-2h0m-9-1h0m-30-1h0m0 4h0m-10 4h0m-13-10h0m-25 5h0m-7-3h0m-2 5h0m-35-6h0m-17 10h0m-1-3h0m-3 1h0m-10-4h0m-4-4h0m-13 1h0m-6 9h0m-5-4h0m-3 4h0m-26-8h0m-4 2h0m-13 16h0m4-8h0m23 5h0m24 1h0m5-7h0m35 9h0m6-1h0m3 2h0m2-10h0m2 1h0m12 10h0m2-5h0m19-3h0m1 0h0m8 3h0m8-1h0m2-3h0m21 0h0m11 2h0m23-3h0m6 11h0m23-3h0m8-7h0m26 0h0m6-1h0m11 4h0m26-1h0m1 1h0m6 4h0m11-6h0m17 7h0m4-2h0m35 2h0m0 1h0m5-3h0m5-5h0m19 6h0m10-3h0m16 1h0m18-7h0m7 3h0m35 6h0m12-2h0m1 4h0m2-3h0m8-3h0m7 1h0m4-4h0m41 2h0m11 0h0m9 7h0m43-6h0m3-3h0m26 6h0m9-3h0m1 1h0m-40 9h0m-11 3h0m-15 2h0m-38 3h0m-6-9h0m-8 5h0m-2 3h0m-1-2h0m-20-7h0m-10 9h0m-12-8h0m-28 0h0m-25 3h0m-17 2h0m-10 0h0m-5-2h0m-2-3h0m-6 0h0m-1 1h0m-3 0h0m-7 3h0m-68 3h0m-4-5h0m-25 6h0m-28-9h0m-4 9h0m-4-8h0m-5 5h0m-1 0h0m-23 4h0m-140-7h0m-4 2h0m-4 6h0m-2-4h0m-37-4h0m-11-3h0m0 7h0m-13-4h0m-4 5h0m-11-8h0m-20 9h0m-1-6h0m-2 1h0m-17 0h0m-6-2h0m-37 19h0m40-2h0m5 2h0m10-6h0m14 3h0m18-1h0m12-2h0m29 5h0m9-7h0m18 7h0m0-2h0m39 2h0m21-5h0m13 3h0m19 2h0m51-8h0m5 9h0m0-2h0m9-6h0m23 10h0m3 0h0m4-6h0m12 0h0m70-1h0m26 1h0m4-3h0m9-2h0m7 0h0m13 7h0m5-4h0m27 7h0m4-3h0m1-4h0m8 0h0m18 1h0m31 2h0m1 5h0m43-3h0m14 0h0m48-6h0m20 8h0m43 9h0m-4 3h0m-2-3h0m-13-4h0m-5 7h0m-17-4h0m-2-5h0m0 9h0m-11-6h0m-1-1h0m-7 3h0m-18-5h0m-34 3h0m-16 5h0m-37 0h0m-6-4h0m-2-3h0m-6 2h0m-37 7h0m-29-5h0m-12 2h0m-17-3h0m-39 1h0m-3-4h0m-1 6h0m-1 0h0m-6-8h0m-2 5h0m-11-1h0m-8 4h0m-1-2h0m-29-6h0m-6 1h0m-3 5h0m-10-6h0m-12 2h0m-14 8h0m-35-4h0m-3-5h0m0 3h0m-2 1h0m-16 2h0m-12 1h0m-10-7h0m-8 9h0m-15-5h0m-11-5h0m-7 10h0m-58-6h0m-25 3h0m-3 1h0m-54-7h0m-26 0h0m-4-2h0m-16 6h0m-4-1h0m-21 4h0m-9 12h0m4 0h0m3-2h0m5 1h0m1 4h0m111-10h0m11 9h0m14 0h0m2-5h0m3 2h0m14-7h0m13 4h0m2 2h0m12-1h0m12 4h0m16 2h0m0-9h0m8 0h0m28 2h0m22 2h0m8 4h0m21-3h0m10-5h0m3 0h0m1 5h0m13-2h0m40-5h0m3 10h0m1-1h0m5-10h0m9 12h0m25-5h0m20-2h0m5-1h0m2 7h0m30-3h0m5-4h0m18 5h0m6-6h0m4 3h0m9 4h0m1-2h0m50 4h0m5-5h0m1 4h0m5-8h0m31 8h0m11-2h0m0 3h0m14-4h0m6-4h0m2 4h0m12-4h0m3-2h0m21 9h0m30-4h0m0 5h0m4-2h0m10 2h0m5-11h0m5 4h0m3-2h0m5 3h0m19-4h0m-17 15h0m-19 6h0m-3-5h0m-6 0h0m-17-3h0m-2-1h0m-38 1h0m-22 7h0m-2 0h0m-35 1h0m-30-1h0m-27-2h0m-23-7h0m-4 4h0m-3 4h0m-3-5h0m-3 7h0m-37-7h0m-6 6h0m-48-9h0m-11 2h0m-4 7h0m-28-9h0m-2 0h0m-6 9h0m-16-9h0m-7 7h0m-6-4h0m-1 7h0m-15-7h0m-20 4h0m0 3h0m-4-7h0m-23 3h0m-16-4h0m-7 6h0m-36-8h0m-18 11h0m-5-7h0m-22 2h0m-10 4h0m-8-3h0m-48 3h0m-41 1h0m-2-2h0m-37-2h0m-9-7h0m-20 5h0m-11 15h0m8-3h0m19-1h0m3 6h0m4-10h0m24 5h0m1 2h0m17 4h0m12-6h0m14 6h0m17-3h0m16 0h0m6-5h0m5 0h0m8-1h0m8 2h0m9 2h0m3-1h0m3 2h0m34 0h0m1 1h0m5-2h0m27 1h0m16-3h0m6 2h0m3 3h0m6-5h0m33-3h0m44 9h0m0-6h0m3 6h0m12-6h0m3 6h0m9 0h0m18 1h0m25-1h0m7-7h0m5-1h0m28 7h0m14-3h0m0-4h0m6 6h0m10 0h0m3-5h0m13 1h0m9 1h0m34 2h0m14-1h0m8-6h0m11 10h0m24-2h0m3-3h0m10 1h0m15 0h0m3 0h0m5 3h0m2-9h0m2 3h0m24 2h0m9 1h0m5-4h0m29-1h0m1 5h0m32-7h0m6 9h0m5-1h0m8-5h0m9 6h0m-25 13h0m-8-7h0m-7 0h0m-7 1h0m-46 4h0m-4 4h0m-1-4h0m-10-5h0m-4 6h0m-4-6h0m-14 3h0m-69 0h0m-14-1h0m-9 4h0m-3 2h0m-18-3h0m-1-6h0m-32 1h0m-11 5h0m-34 3h0m-5-6h0m-43-1h0m-11 2h0m-29 0h0m-27 2h0m-6 0h0m-17-1h0m-48 5h0m-12-9h0m-1-1h0m-6 7h0m-26-1h0m0 3h0m-33-8h0m-59-2h0m-13 4h0m-18-4h0m-15 8h0m-5-4h0m-21-1h0m-2 6h0m-3-6h0m-5 4h0m-3-2h0m-9 5h0m-12-9h0m-3 0h0m-3 6h0m-30-1h0m0 4h0m19 11h0m1-10h0m22 2h0m5 1h0m1 2h0m32 2h0m10-2h0m1-1h0m49-1h0m14 9h0m40 0h0m4 0h0m1-3h0m0-8h0m5 8h0m8-7h0m31 3h0m1 1h0m3 5h0m2-4h0m17 2h0m18-1h0m1-1h0m5 1h0m6-6h0m7 3h0m10-2h0m1 9h0m7-10h0m56 4h0m3-5h0m8 11h0m1-4h0m3 1h0m21-3h0m9 1h0m17 3h0m10 0h0m10-5h0m12 4h0m2 0h0m2 1h0m3 1h0m13-7h0m28 3h0m6-6h0m11 8h0m5 0h0m1-6h0m31-2h0m7 4h0m20 6h0m15 0h0m1-1h0m5-5h0m17-3h0m2 6h0m15 2h0m10 2h0m16-10h0m33-2h0m28 9h0m1 2h0m2-5h0m5 1h0m9 3h0m3-3h0m8-4h0m14 21h0m0-4h0m-4-7h0m-3 11h0m-7-6h0m-1 2h0m-29-4h0m-9-3h0m-3 2h0m-2 9h0m-13-7h0m-34 2h0m-3 4h0m-4-9h0m0 6h0m-11-4h0m-17-3h0m-28 3h0m-15-3h0m-17 2h0m-29 7h0m0-3h0m-4-4h0m-1 5h0m-4 0h0m-24-2h0m-11-5h0m-2 0h0m-25 0h0m-5 3h0m-5 4h0m-31 0h0m-17-1h0m-41 3h0m-8-9h0m-18 5h0m-2 0h0m-14 4h0m-18-4h0m-25 2h0m-3-5h0m-31 6h0m-13 3h0m-27-1h0m-5-7h0m-1 2h0m-3-1h0m-8-4h0m0 4h0m-23 4h0m-12 1h0m-24-6h0m-13-2h0m-10 8h0m0-7h0m-34 5h0m-33 4h0m-4-2h0m-1-1h0m-5-5h0m-15 0h0m-2-2h0m-8 3h0m-3 4h0m-21-7h0m-3 7h0m19 3h0m35 8h0m68-7h0m9 6h0m5-6h0m1 11h0m19-11h0m6 4h0m7-1h0m58 3h0m11 2h0m13-3h0m0-5h0m2 11h0m20-9h0m5 8h0m3-7h0m100-4h0m5 2h0m47 9h0m9-8h0m14 6h0m0 2h0m20-3h0m6 2h0m1 1h0m6-7h0m12-2h0m0 8h0m1-3h0m19-2h0m1-3h0m4 9h0m2-7h0m31 7h0m6 1h0m19-5h0m3-1h0m10-6h0m10 7h0m49-3h0m7 1h0m27 0h0m20-2h0m34 3h0m18 0h0m13 4h0m2-9h0m6 4h0m-9 12h0m-2-5h0m-18 0h0m-44 3h0m-17 6h0m-6 1h0m-8-1h0m-3-4h0m-30-4h0m-25 1h0m-50 1h0m-1 0h0m0 8h0m-6-2h0m0-4h0m-2 4h0m-2-5h0m-12 6h0m-5-5h0m-13 6h0m-39-8h0m-11-1h0m0 5h0m-1 3h0m-15 0h0m-1-3h0m-4 1h0m-3 0h0m-21-3h0m-30-2h0m-10 9h0m-6-3h0m-5 1h0m0-4h0m-67-5h0m-4 5h0m-6-4h0m-14 7h0m0-5h0m-6 6h0m-1-3h0m-125-1h0m-4 5h0m-11-2h0m-29-5h0m-77 5h0m-9-7h0m-3 10h0m-9-2h0m-8-1h0m-44 9h0m7-3h0m5 8h0m2 1h0m5-8h0m15 3h0m34-5h0m11 1h0m4 5h0m14-5h0m7-3h0m13 8h0m7-7h0m24 9h0m6-2h0m4-5h0m8 9h0m3-10h0m13-1h0m148 9h0m18-2h0m0 3h0m96-8h0m1 0h0m32-3h0m11 10h0m11-1h0m6 0h0m0 3h0m6-1h0m9-5h0m20-3h0m21 3h0m15 3h0m3-6h0m14-1h0m1-1h0m3 1h0m27 4h0m5-3h0m2 3h0m1-5h0m4 4h0m1-3h0m8 2h0m13-1h0m57 5h0m19-3h0m33 2h0m50 4h0m15-6h0m-50 14h0m-11 2h0m-9 2h0m-6-7h0m-8 5h0m-11-8h0m-9 10h0m-14-5h0m-2 0h0m-1 2h0m-32-1h0m-6-3h0m-5-1h0m-22 8h0m-13 1h0m-10-8h0m-12 4h0m-43 1h0m-15-3h0m-6 5h0m-1-9h0m-16 9h0m-23-6h0m0 7h0m-1-8h0m-28-1h0m-24 7h0m-8-9h0m-1 6h0m-11-3h0m-94 7h0m-12-7h0m-5-2h0m-10 1h0m-147 2h0m-15-2h0m-10 0h0m-6 5h0m-8-7h0m-2 1h0m-7-1h0m-36 2h0m-7-3h0m-22 5h0m-3-2h0m-11 5h0m-2-4h0m-22 6h0m-3-1h0m-10-5h0m4 13h0m10 6h0m5-1h0m3-8h0m7-1h0m5 4h0m10-3h0m12 7h0m26-3h0m8 4h0m27-7h0m11 4h0m6 0h0m11-4h0m7 3h0m4 1h0m9 1h0m7-5h0m11-2h0m6 7h0m112-2h0m6-2h0m5-2h0m2 0h0m13 0h0m14 3h0m3-4h0m5 6h0m5 4h0m110-1h0m3-3h0m20-4h0m6 6h0m1 2h0m11-11h0m15 5h0m13 6h0m22-7h0m67 4h0m6-7h0m7 4h0m105 4h0m16-8h0m-131 16h0m-95-3h0m-26 8h0m-1 2h0m-26-3h0m-85 1h0m-2-1h0m0-9h0m-7 5h0m-6-3h0m-12-1h0m-3 5h0m-18 0h0m-19-3h0m-12-3h0m-1 8h0m-68 2h0m-26-4h0m-26-4h0m-3 0h0m-9 1h0m-26 9h0m-3-1h0m-25-11h0m-3 8h0m-23-4h0m-18 7h0m-8 0h0m-19-9h0m-10 1h0m-12-2h0m-10 9h0m-2-7h0m-8 1h0m-8 4h0m14 9h0m4 0h0m1-4h0m40 7h0m3-1h0m2 5h0m43-12h0m9 1h0m23 7h0m12-6h0m0 3h0m6 5h0m2-7h0m3 6h0m4-7h0m7 7h0m10-3h0m7-6h0m34 10h0m42-1h0m2-5h0m4 8h0m11-11h0m13 3h0m32-3h0m20 4h0m18 1h0m6-5h0m3 7h0m10 0h0m115-8h0m4 0h0m10 7h0m2 2h0m5-9h0m2 12h0m5-11h0m12 0h0m73 3h0m6 7h0m2-1h0m-20 11h0m-47 1h0m-3-8h0m-23 7h0m-17-3h0m-14 2h0m-14 3h0m-18-5h0m-88-3h0m-5 0h0m-1-2h0m-19 2h0m-9 5h0m-7 0h0m-8-3h0m-5-3h0m-6 9h0m-24-4h0m-23 2h0m-10-1h0m-12 2h0m-12-6h0m-28-1h0m-24 0h0m-17 4h0m-17 0h0m0 4h0m-31 1h0m-22-8h0m-14 0h0m-4-2h0m-12 3h0m-18 5h0m-44 0h0m-1 13h0m17-9h0m3 6h0m32-2h0m23 0h0m17 0h0m51 0h0m58-4h0m17 8h0m22-3h0m7-4h0m19 4h0m7-3h0m8-1h0m33 9h0m19-4h0m26-7h0m154 7h0m17-7h0m11 10h0m6-11h0m0 12h0m0-9h0m39 2h0m24 0h0m-1 16h0m-2 2h0m-11-3h0m-4-1h0m-14 1h0m-4-3h0m-12 5h0m-4-7h0m-4 0h0m-20 7h0m-34 0h0m-124-1h0m-8 2h0m-37 1h0m-23-5h0m-31 1h0m-4-4h0m-1 5h0m-31 0h0m-17 1h0m-36-7h0m-12 8h0m-24-1h0m-18-7h0m-1 9h0m-2-5h0m-7-1h0m-1-5h0m-31 6h0m-20 0h0m-12-6h0m-30 0h0m-2 5h0m-16 2h0m0-1h0m3 8h0m2 6h0m9-9h0m22 3h0m33 1h0m7 1h0m7 1h0m3 2h0m9-2h0m25-1h0m17 7h0m10-7h0m6 6h0m14 0h0m1-8h0m1 3h0m1-5h0m14 5h0m25-4h0m7 5h0m28 4h0m51-5h0m15-2h0m38-2h0m13-1h0m104 9h0m12-1h0m24-6h0m41-2h0m2 3h0m12-3h0m2 1h0m2 2h0m12 4h0m23 0h0m2 2h0m-13 13h0m-17 1h0m-10-8h0m-4 3h0m-9 4h0m-12-10h0m-21 10h0m-5-11h0m-4 10h0m-27 2h0m-9-9h0m-115-2h0m-17 1h0m-3 7h0m-4-5h0m-1-2h0m-5 2h0m-4 3h0m-2 3h0m-50-10h0m-8 3h0m-1 7h0m-2-1h0m-4-1h0m-23-4h0m-13 7h0m-1-5h0m-24-5h0m-13 4h0m-9 5h0m-6 0h0m-5-6h0m-41 7h0m-4 1h0m-15-6h0m-8 5h0m-10-9h0m-2 9h0m-7 0h0m-3-3h0m-16 4h0m-18-4h0m-4 10h0m25 2h0m16-2h0m1 6h0m9-7h0m4-4h0m7 3h0m61 0h0m49 7h0m33-2h0m17 2h0m16 1h0m5-8h0m3-2h0m1 3h0m7 3h0m27 1h0m31-7h0m17-1h0m121 10h0m6-5h0m0 1h0m3 1h0m22 4h0m7 0h0m47-5h0m12-6h0m3 20h0m-51-7h0m-5-2h0m-18 11h0m-143-8h0m-17 2h0m-17-2h0m-5 1h0m-1-2h0m-3 2h0m-24-1h0m-1 7h0m-3 2h0m-20-12h0m-16 12h0m-20-4h0m-18-2h0m-7 2h0m-19 1h0m-5 2h0m-8 0h0m-10-8h0m-5-2h0m-2 8h0m-1-4h0m-28 5h0m-5-5h0m0 2h0m-4 5h0m-8-7h0m-1 2h0m-3 1h0m-8 1h0m-26-6h0m-8 9h0m-7-5h0m-23-7h0m36 14h0m22-2h0m1 3h0m33 1h0m11 3h0m10 5h0m4-3h0m6-9h0m38 6h0m15 5h0m13-9h0m3 9h0m13-1h0m12-7h0m2 7h0m9-8h0m3 2h0m0 5h0m8 0h0m13-4h0m2-2h0m7 8h0m13-4h0m14-6h0m10 9h0m29-1h0m5-5h0m12 1h0m66-2h0m6 4h0m9-2h0m9-4h0m18 1h0m30 5h0m10-5h0m18 1h0m15 2h0m29 5h0m-43 8h0m-50 1h0m-13-4h0m-16-3h0m-4 5h0m-11 3h0m-63 1h0m-19-2h0m-4-6h0m-34 0h0m-6 0h0m-5 3h0m-3-1h0m-11 0h0m0 7h0m-10-6h0m-11 8h0m-13 0h0m0-11h0m0 5h0m-1 6h0m-7-10h0m-5 6h0m-27 2h0m-53-3h0m-3 4h0m-6 1h0m-9-9h0m-2 4h0m-46-4h0m-32 8h0m-1-4h0m-12 4h0m-9-5h0m-3-1h0m2 7h0m4 1h0m8 7h0m31-4h0m22 6h0m5-4h0m31 2h0m3-5h0m8 2h0m12 2h0m37 4h0m12-8h0m11-2h0m5-1h0m25 6h0m6 5h0m28-1h0m10 1h0m1 1h0m6-2h0m11-10h0m13 4h0m6-1h0m17 7h0m31-5h0m3 3h0m9-3h0m2 4h0m11-4h0m9 0h0m3 0h0m1 5h0m7-2h0m13-4h0m3 2h0m1 1h0m45-5h0m5 6h0m4 3h0m14 0h0m0-8h0m10 4h0m13 2h0m39 9h0m-24-1h0m-3 7h0m-14-4h0m-30-2h0m-4-5h0m-35 3h0m-5 3h0m-65 0h0m-5 4h0m-21-11h0m-11 11h0m-23 0h0m-16-2h0m-13-9h0m-9 0h0m-23 7h0m-2 0h0m-3 1h0m-17-6h0m0 5h0m-14 4h0m-11-5h0m-20 1h0m-5-5h0m-22 9h0m-8-10h0m-20 7h0m-26 3h0m-16-5h0m-1 3h0m-34-7h0m-1 3h0m-16 19h0m18-9h0m4 1h0m53 0h0m2 4h0m14-6h0m14 1h0m7 7h0m0-1h0m4 0h0m6 0h0m21-7h0m11 1h0m71-1h0m2 7h0m8-2h0m10 4h0m2-3h0m5-2h0m22 6h0m15-2h0m25-1h0m67-5h0m5-2h0m65 1h0m6-2h0m6 11h0m12-10h0m35-2h0m5 9h0m-4 10h0m-9 5h0m0-11h0m-9-1h0m-4 4h0m-29-1h0m-5-2h0m-1 6h0m-7 2h0m-141-5h0m-16 1h0m-46 6h0m0-2h0m-65-1h0m-7-2h0m-27 5h0m-11-9h0m-6 9h0m-24-8h0m-2-2h0m-10 3h0m-4 7h0m-21-9h0m-28 6h0m-16 0h0m-6-5h0m-8 3h0m-4 4h0m19 6h0m23 2h0m4-4h0m29 9h0m37-10h0m10 0h0m14 7h0m8 2h0m2-2h0m15-3h0m5 6h0m8-9h0m10 8h0m7-9h0m16 6h0m5-3h0m13 5h0m1 1h0m25 0h0m3-9h0m15 10h0m10-3h0m3-6h0m4-2h0m2 10h0m3-9h0m117 2h0m2 9h0m9-10h0m6-1h0m12 4h0m14 5h0m9-7h0m6 2h0m14 1h0m10-4h0m11 1h0m13 0h0m11 4h0m-2 14h0m-1-1h0m-1 3h0m-31-4h0m-34-1h0m-3 0h0m-46-1h0m-98 6h0m-25-8h0m-9 5h0m-5 0h0m-4-3h0m-9-1h0m-35 5h0m-64-9h0m-2 6h0m-10-3h0m-7 8h0m-2 0h0m-36-10h0m-8 2h0m-42 4h0m-5-4h0m-12 0h0m-10 0h0m-7-1h0m-6 1h0m45 14h0m4-1h0m5 4h0m1-7h0m23 0h0m18 7h0m2-3h0m7 5h0m14-4h0m30-5h0m3 3h0m2-4h0m27 7h0m6 3h0m9-8h0m21 2h0m9 6h0m5-8h0m17 9h0m18-4h0m2-3h0m4-4h0m131 10h0m12-9h0m5 6h0m6 3h0m8-5h0m4 5h0m0-6h0m2 1h0m9 1h0m26-3h0m9 5h0m12-6h0m0 1h0m10 5h0m4 1h0m5-2h0m-5 16h0m-11-10h0m-8 8h0m-6 0h0m-41-5h0m-4 4h0m-19-2h0m-20 0h0m-5 4h0m0-6h0m-12 0h0m-2-3h0m-124 8h0m-35-4h0m-29 1h0m-19 6h0m-57-12h0m-48 11h0m-6-4h0m44 13h0m2-5h0m1 7h0m74-4h0m19 3h0m4-3h0m5 1h0m9 3h0m8-8h0m14 7h0m7 1h0m20 1h0m160-9h0m47 1h0m24 5h0m-217 14h0m-1-7h0m-7 7h0m-40-3h0m-21-6h0m-1 11h0m-8-5h0m-15-1h0m-5-1h0m-15 7h0m-9 0h0m1 4h0m42 2h0m8-3h0m15 3h0m-14 14h0m-6-7h0m-7 7h0m-43 2h0m-19-3h0m-19 11h0m1 5h0m6-7h0m15 7h0m6-1h0m5-3h0m4 3h0m20-8h0m5 2h0m224 18h0m-7 1h0m-92-4h0m-7 4h0m-145-8h0m-35 4h0m-1 3h0m-25 13h0m2-1h0m7-3h0m165-1h0m9 1h0m11 2h0m0-1h0m18-7h0m11 6h0m6-4h0m0 0h0m76 3h0m16-3h0m2 0h0m-40 19h0m-10-2h0m-26 0h0m-10-3h0m-50 4h0m-14-1h0m-37 16h0m13-6h0m1-4h0m6-1h0m29 9h0m1 0h0m25-3h0m6-6h0m4 4h0m17 5h0m8-5h0m27 6h0m31-8h0m17 6h0m108 2h0m3-1h0m8 6h0m-106 6h0m-4-6h0m0 6h0m-9-6h0m-29 5h0m-16 3h0m-29-1h0m-8-2h0m-5-6h0m-31 2h0m-15 2h0m-19-6h0m-21 11h0m0-2h0m-48-1h0m-51 15h0m16-2h0m13-4h0m5-3h0m14-2h0m68-1h0m62 12h0m8-11h0m8-1h0m6 4h0m6-2h0m9 6h0m6 0h0m28-5h0m1 1h0m0 5h0m1-6h0m16 7h0m13-7h0m2 16h0m-7 3h0m-7-1h0m-2-8h0m-7 1h0m-2 1h0m-7 4h0m-9-5h0m-6 2h0m-22 5h0m-32-5h0m-17 5h0m-48-7h0m-51 0h0m-3 0h0m-25 6h0m-7 4h0m0-3h0m-6-4h0m-2-2h0m-4-1h0m-50 8h0m-7-3h0m-19 15h0m25 1h0m1-4h0m0-5h0m7 7h0m27 3h0m13-1h0m20-9h0m4-2h0m1 8h0m11-6h0m20 5h0m22 1h0m12-8h0m6 9h0m7-6h0m49 7h0m21-2h0m16-5h0m10-3h0m16 7h0m23-7h0m16 9h0m13 2h0m2-5h0m-1 12h0m-12 0h0m-12-3h0m-2 9h0m-5-10h0m-15 1h0m-2 5h0m-16-5h0m-11 9h0m-10-8h0m-3 3h0m-35 3h0m-59-4h0m-23-4h0m0 8h0m-3-9h0m-1 2h0m-10 1h0m-8 4h0m-32-5h0m-2 0h0m-12-2h0m-18 0h0m-9 6h0m-9 1h0m-2 0h0m-23 3h0m-13 1h0m-5-4h0m-6 2h0m-5-1h0m-20-3h0m-14-3h0m-6 1h0m-6 4h0m-8-4h0m-6 8h0m-28 11h0m9 0h0m1-4h0m27 1h0m26 0h0m7-3h0m3-4h0m14 1h0m3 4h0m2-4h0m33 6h0m7 2h0m7-7h0m40 3h0m1 2h0m2 1h0m8-1h0m5-3h0m0 6h0m4-6h0m22-2h0m2 5h0m7-3h0m1-2h0m18 9h0m17-6h0m2 2h0m54-6h0m15-1h0m7 2h0m7-2h0m19 2h0m21-2h0m12 5h0m2-3h0m1 8h0m38 0h0m131-5h0m3-3h0m6 3h0m-18 11h0m-8 7h0m-93-3h0m-3-3h0m-2 6h0m-33-3h0m-2-3h0m-16-3h0m-37 8h0m-9-9h0m-10 1h0m-4 6h0m-12-8h0m-1 2h0m-7 5h0m-6-8h0m-10 5h0m-3 0h0m-36 6h0m-3-3h0m-3 0h0m-19 4h0m-5-2h0m-3-4h0m-3-1h0m-9 1h0m-71-5h0m-19 9h0m-1-7h0m-31 8h0m-37-1h0m-9-3h0m-15 1h0m-46 3h0m-6-2h0m-1-8h0m-18 10h0m-13-6h0m-15 5h0m-10-6h0m0 8h0m-36 0h0m-7-1h0m-11-8h0m-7 1h0m-20 20h0m6-4h0m3-3h0m4 2h0m28 4h0m17-1h0m10-4h0m1-3h0m10 5h0m8-3h0m17-4h0m1 10h0m31-10h0m11 0h0m23 6h0m24-2h0m18-2h0m22 0h0m1-2h0m10 2h0m5-1h0m14 2h0m80 8h0m50-11h0m14-1h0m22 2h0m3 6h0m4-7h0m39 6h0m10 0h0m31-3h0m5 1h0m2-1h0m8 5h0m15 3h0m2-7h0m28-3h0m13 9h0m12-3h0m23-2h0m65 5h0m19-9h0m14-2h0m5 10h0m1-7h0m5 7h0m13 13h0m-14-6h0m-2 2h0m-23-5h0m-2 3h0m-11 1h0m-1 1h0m-10 1h0m-13-2h0m-5 6h0m-25-8h0m-11 2h0m-14-2h0m-15 5h0m-14-1h0m0 3h0m-9-8h0m-35 8h0m-20-3h0m-7-1h0m-6 5h0m-4-6h0m-49 0h0m-28 3h0m-1 0h0m-10-5h0m-31-4h0m-9 6h0m-3 4h0m-3-10h0m-16 2h0m0 10h0m-35-7h0m-5 4h0m-24-3h0m-5-6h0m-5 6h0m-9 5h0m-4-3h0m-12 1h0m-1-2h0m-34 3h0m-33-3h0m-9-7h0m-3 6h0m-9 2h0m-7-4h0m-11 6h0m-24 1h0m-1-10h0m-20 0h0m-48 3h0m-2 0h0m-6 2h0m-18 4h0m62 6h0m1 1h0m7-4h0m13 7h0m17-1h0m10 0h0m45-3h0m15-4h0m16 7h0m21-3h0m3 7h0m1-1h0m5-3h0m3 1h0m39-2h0m7-5h0m31 9h0m22 0h0m23-7h0m35 9h0m12-5h0m3 4h0m1-11h0m6 12h0m10-9h0m6 6h0m71-2h0m41 5h0m29-2h0m6-1h0m5-3h0m13 6h0m1-4h0m10 2h0m13-1h0m1-9h0m7 2h0m3-1h0m8 9h0m2-3h0m11-7h0m16 6h0m1 0h0m2-5h0m3 10h0m6-8h0m13 0h0m8 3h0m9-6h0m9 10h0m0-5h0m12 7h0m24 11h0m-2 0h0m-1-5h0m-18-4h0m-9 1h0m-2 9h0m-7-5h0m-12-6h0m-1-1h0m-31 10h0m-7-7h0m0 3h0m-5 0h0m-58-6h0m-22 7h0m-4-4h0m-2 5h0m-5-6h0m-6 8h0m-23-7h0m-12 5h0m-9-1h0m-9-5h0m-9 6h0m-18-7h0m-15 3h0m0-1h0m-19-3h0m-13 4h0m-26 4h0m-1-2h0m-5-4h0m-17 4h0m-1 3h0m-10 0h0m-2-5h0m-13-2h0m-2 0h0m-6 7h0m-3-6h0m-40 6h0m-1-1h0m-11-2h0m-8 4h0m-15-6h0m-35-3h0m-21 10h0m-6-1h0m-16-2h0m-2 4h0m-5-7h0m-5 6h0m0-4h0m-15 3h0m-1-1h0m-6-5h0m-24 3h0m-25 2h0m-5-8h0m-25 9h0m-11-6h0m-32-3h0m-2 8h0m0-8h0m-1 22h0m20-6h0m6 5h0m7 1h0m6-10h0m17 0h0m2 6h0m2-4h0m42 4h0m0-1h0m48 2h0m6 1h0m12 2h0m6-9h0m24 6h0m16 2h0m31-9h0m0 11h0m7-6h0m1 0h0m14 1h0m14-5h0m2 3h0m12-3h0m10 4h0m0-5h0m7 4h0m13-3h0m5 8h0m9-7h0m9 6h0m33 3h0m24-4h0m8 0h0m17-3h0m2-3h0m1 8h0m6 1h0m19-3h0m15-7h0m5 10h0m44-7h0m0-4h0m2 12h0m11-4h0m3-1h0m4 0h0m5 4h0m4-6h0m5 0h0m11 6h0m20 0h0m0-6h0m7-2h0m2-2h0m10 10h0m31-3h0m4-2h0m1-5h0m8 2h0m16 3h0m2 5h0m14-4h0m17-3h0m4 3h0m8 3h0m1 1h0m0-8h0m4 3h0m0 9h0m-31 1h0m-4 8h0m-4-8h0m-33-3h0m0 5h0m-20 3h0m-25-3h0m-7-5h0m-8 0h0m-27 2h0m-40 8h0m-12-10h0m-21 5h0m-9-1h0m-10 5h0m-4 1h0m-1-4h0m-1 1h0m-4 4h0m-26-1h0m-10-6h0m-11-4h0m-10 7h0m-8 0h0m-10-1h0m-10-1h0m-2-2h0m-10-1h0m-5 7h0m-2 2h0m-19-12h0m-8 8h0m-6-8h0m-14 5h0m-32 1h0m-31 6h0m-8-2h0m-2-5h0m-3-5h0m-28 9h0m-7 0h0m-19-6h0m-6 7h0m-6-7h0m-11-2h0m-15 4h0m-8 4h0m-24 3h0m-3-11h0m-4 7h0m-39-5h0m-16 5h0m-28 2h0m-17 1h0m-6-7h0m-2 1h0m-11 0h0m-3-3h0m-35 17h0m48-5h0m2 10h0m6-7h0m51 1h0m22-1h0m2 2h0m9-2h0m1 4h0m1-5h0m64-2h0m8 1h0m15-1h0m21 4h0m7-5h0m39 9h0m4 0h0m34-10h0m8 7h0m2 4h0m6-2h0m7-2h0m12-2h0m0 2h0m17-2h0m1 5h0m3-3h0m16 3h0m5-3h0m10-5h0m12-1h0m10 8h0m10-5h0m43 5h0m62 3h0m3-12h0m3 12h0m5-11h0m3 6h0m26 4h0m27-10h0m8 7h0m15-7h0m3 0h0m8 2h0m34 3h0m41 2h0m1-4h0m-56 8h0m-25 4h0m-106 7h0m-53-11h0m-5 7h0m-2-1h0m-18 4h0m-10-10h0m-17 8h0m-18 3h0m-3-2h0m-22-2h0m-9 1h0m-25 2h0m-23-8h0m-4 7h0m-4-2h0m-24-7h0m-17 2h0m-3 3h0m-19 3h0m-2-6h0m-1 4h0m-3-5h0m0 1h0m-1 8h0m-34 0h0m-10-5h0m-3-4h0m-2 1h0m-62 6h0m-6 1h0m-27 3h0m-23-1h0m-2-10h0m-10 3h0m-1-4h0m-50 11h0m-1-2h0m-10-1h0m-25 2h0m-2-9h0m-7 10h0m-2-5h0m-19-2h0m-3-3h0m-2 2h0m-4 1h0m-9 9h0m46 6h0m13-1h0m2-4h0m14 5h0m12 2h0m63-7h0m84-1h0m43 3h0m2 0h0m0-3h0m16 1h0m36 3h0m23-1h0m10 3h0m7-1h0m58 2h0m41-2h0m10-1h0m7 2h0m22 1h0m4-7h0m0 6h0m10 2h0m3-4h0m15-1h0m8-4h0m4 3h0m6 6h0m21-8h0m24 6h0m31 3h0m4-1h0m4-7h0m5 3h0m29-1h0m2 0h0m3 4h0m22 1h0m3-6h0m10 3h0m5-5h0m15 0h0m29 7h0m2-1h0" stroke="#0d1626" stroke-width="2.6" stroke-opacity=".85"/>
</g>
<g transform="scale(.5)" stroke-linecap="round" stroke-linejoin="round" fill="none">
<use href="#a1" stroke="#354048" stroke-width="8.6"/>
<use href="#a2" stroke="#354048" stroke-width="9"/>
<use href="#a3" stroke="#3e4a51" stroke-width="8.6"/>
<use href="#a4" stroke="#3e4a51" stroke-width="9"/>
<use href="#a5" stroke="#3f412b" stroke-width="9"/>
<use href="#a6" stroke="#3f412b" stroke-width="9.4"/>
<use href="#a7" stroke="#3f412b" stroke-width="9.8"/>
<use href="#a8" stroke="#54503f" stroke-width="9.8"/>
<use href="#a9" stroke="#54503f" stroke-width="10.2"/>
<use href="#a10" stroke="#5c5847" stroke-width="9"/>
<use href="#a11" stroke="#5c5847" stroke-width="9.4"/>
<use href="#a12" stroke="#5c5847" stroke-width="9.8"/>
<use href="#a13" stroke="#5c5847" stroke-width="10.2"/>
<use href="#a14" stroke="#4c4862" stroke-width="9"/>
<use href="#a15" stroke="#55516a" stroke-width="8.6"/>
<use href="#a16" stroke="#55516a" stroke-width="9"/>
<use href="#a27" stroke="#640d14" stroke-width="11"/>
<use href="#a28" stroke="#6c0f16" stroke-width="9"/>
<use href="#a29" stroke="#6c0f16" stroke-width="9.4"/>
<use href="#a30" stroke="#6c0f16" stroke-width="9.8"/>
<use href="#a31" stroke="#6c0f16" stroke-width="10"/>
<use href="#a32" stroke="#6c0f16" stroke-width="10.2"/>
<use href="#a33" stroke="#6c0f16" stroke-width="11"/>
<use href="#a34" stroke="#71181d" stroke-width="9.4"/>
<use href="#a35" stroke="#71181d" stroke-width="10.2"/>
<use href="#a36" stroke="#71181d" stroke-width="11"/>
<path d="M221 28l-1 0m-11 40l0 2m27 13l0 1m-114 8l2-2m77 7l-1 0m-110 14l1 0m-70 11l2-1m93 9l2 1m-90 2l0 0m-25 22l1 1m345 9l1-2m-231 4l-2 1m-59 1l0-2m304 2l-1-2m7 5l1 0m19 5l0-2m-336 10l2-2m-46 9l1 1m58 5l0 2m13-2l0 0m8 0l1-1m-47 17l-2 0m-23-8l-2 2m32 9l2-2m17 9l2 1m10-5l0 0m2 4l0 2m24 1l0-2m85-3l1-2m-54 19l-2-2m-93-4l0-1m-9-1l-2 0m88 30l-1-1m-55 0l2 0m-40 14l0-1m51-5l0-1m7-1l-1 0m2 9l2 1m19-8l0-2m533-1l0 0m645 0l0 0m-703 13l-1 0m-468 9l-2 1m-20-8l-2 1m-56 4l-1-2m125 12l-2 1m1216-3l0 0m38 12l-1 0m-115 4l0 2m-676-2l1 1m-391-5l2-2m-206 3l0 1m182 8l-1 1m17-1l1 1m1087 20l2 2m-1067-11l1 2m-96 0l-1-1m-129 19l-1 1m143-7l0-1m79 6l0-2m9 4l0 0m49-7l1-1m92 2l-1-2m130 8l-2 0m22-7l-1 1m-56 14l0-1m-139 4l0-2m-55 2l0 2m-28-8l-2 2m-198 16l-2 1m27 0l2-1m7-3l1 0m64-2l0 2m38 1l1-2m2-4l2-2m20 4l0 1m1-4l-1 0m39-1l1 0m1141 13l0 0m-1163 0l2 1m-16 0l-1-1m-11 8l-2-2m-68-4l-2 0m-13 4l0-1m19 10l0-1m3 5l-2 0m14-4l2-2m24 8l-1 0m7-5l-1 0m5 6l2 1m52 9l-2-1m-4-3l1-2m-144 16l1-2m61-4l-2 2m17-3l1-1m26 7l2 0m28-2l-1-1m54 10l1 0m-15 2l-1-2m-85 18l1 2m97-8l0 0m-21 15l-1 0m-12-5l-1-2m-124 11l-2 1m23 9l1 1m39-1l1-2m57-5l0-2m3 10l2-2m19 13l1-2m-124 2l2-2m-47 18l0-2m27-8l-1-1m30 2l-2-1m25-1l-1 2m29 8l-1 1m24 0l-2-1m15-7l2-2m-104 17l-1 2m-14-6l-1-2m-92 5l-2-1m-17 8l0-1m-10 0l0-2m39 3l1 1m136 6l1 1m-124 24l-1 0m16 1l0 2m6-1l-2-2m44-5l1 0m21 4l2-2m7-3l1-2m71 2l2 2m35 12l-1 1m-236 5l-1 1m-20-1l-1 1m54 13l0 2m73-5l1 2m181 8l0 2m-179-8l2 0m-13 0l-1 1m-32 13l-1 1m133 11l-2-1m-129 1l-1-1m-44 1l1 2m1157 9l-2-2m156 23l-1-2m-78-9l2 2m-1126 8l1-1m70 5l-2 1m1146 3l-1-2m35-4l1-1m-65 14l0 0m-72 6l2 2m-1130 6l-1 0m1190 8l2 0m48-8l1-1m-57 21l-2-2m-40-4l2 2m-1225 12l2 2m68-9l0-1m1136 5l-1-2m108 9l0-2m39-9l1 0m-1229 23l0 0m-173 10l-1-1m92 2l1 0m97 2l-1 1m1048-9l1-1m151 7l1 0m9-6l-1 1m-58 17l-1 0m-19-4l-1-1m-1170-2l1-2m-154 6l0 0m200 14l1 1m1124-4l1 1m23 0l-1-1m-30 13l-1-2m-1187 5l-1 0m-117 1l1 0m47 12l-2-1m88-7l1 1m1270-1l1-2m-42 15l-1 2m-30-2l-2 1m-37-1l1 1m-5 5l2-2m-11 2l0 2m-12-10l-1-2m-1123 33l-1-1m-33-4l-1 0m1274 31l1 1m-70-8l0-1m-19 4l-2 0m-1230 0l0 0m-68 7l-1-2m1298 15l-2 0m-1170 9l2 2m-13-11l0 1m-5 8l-2-1m-114-1l0 0m1199 13l1-1m129-2l-2 0m20 1l-1-1m-32 9l1 2m-15 5l2-2m-30-8l1-1m-1252 21l-1-2m135-2l1-1m963 1l1 1m113-1l1 2m50-6l1-2m-1235 35l1 2m1130-8l1-2m71 14l-2-1m-1233 3l0 0m1134 24l2 2m-63-4l1 0m-74 17l2-1m235-1l2-1m62 4l-2-2m13-2l0-2m-95 10l-1 2m-10-2l0 1m-1053 4l0 0m22 14l2 0m278-9l2 0m742 1l1 2m115 17l-2 2m-4 1l0-1m-108-6l1-1m-1016 5l-1 0m1029 5l-2-1m162 1l1 2m-41 14l0-2m-292 16l1-2m41 1l-2 1m59 2l-2 1m5-11l2-1m95 6l2 0m52 2l-1 1m69 13l0 0m-11 1l-2 0m-238 1l-1 1m-881-11l0 2m1044 32l-2 1m-22-3l1 0m-156-5l-2-1m-1061 8l1 0m1042 3l-1 1m230 9l-2-2m12-2l0-1m5-5l-1 2m11 3l-1 1m41 13l-2-1m-45 1l1 1m-165-3l-2-1m-20 4l-1 0m-1136-6l-2 2m1203 8l1-2m30 4l1-1m45 6l1 1m23 1l0 2m68-4l-1-1m14-4l-1 1m-46 14l1-1m-42-1l-2-2m-46-3l0 1m-9 9l-2 2m-34-5l-1 2m-105 1l-1-1m22 9l-1 2m26-3l-1 1m133 0l2 1m76 2l2 1m-49 4l1-1" stroke="#b0b0b0" stroke-width="5.2"/>
<use href="#a1" stroke="#6a8190" stroke-width="5.6"/>
<use href="#a2" stroke="#6a8190" stroke-width="6"/>
<use href="#a3" stroke="#7d95a3" stroke-width="5.6"/>
<use href="#a4" stroke="#7d95a3" stroke-width="6"/>
<use href="#a5" stroke="#7f8256" stroke-width="6"/>
<use href="#a6" stroke="#7f8256" stroke-width="6.4"/>
<use href="#a7" stroke="#7f8256" stroke-width="6.8"/>
<use href="#a8" stroke="#a8a07e" stroke-width="6.8"/>
<use href="#a9" stroke="#a8a07e" stroke-width="7.2"/>
<use href="#a10" stroke="#b9b08e" stroke-width="6"/>
<use href="#a11" stroke="#b9b08e" stroke-width="6.4"/>
<use href="#a12" stroke="#b9b08e" stroke-width="6.8"/>
<use href="#a13" stroke="#b9b08e" stroke-width="7.2"/>
<use href="#a14" stroke="#9890c4" stroke-width="6"/>
<use href="#a15" stroke="#aaa3d4" stroke-width="5.6"/>
<use href="#a16" stroke="#aaa3d4" stroke-width="6"/>
<use href="#a17" stroke="#4573b8" stroke-width="8"/>
<use href="#a18" stroke="#4573b8" stroke-width="8.4"/>
<use href="#a19" stroke="#4d7dc3" stroke-width="6"/>
<use href="#a20" stroke="#4d7dc3" stroke-width="6.4"/>
<use href="#a21" stroke="#4d7dc3" stroke-width="6.8"/>
<use href="#a22" stroke="#4d7dc3" stroke-width="7.2"/>
<use href="#a23" stroke="#4d7dc3" stroke-width="8"/>
<use href="#a24" stroke="#4d7dc3" stroke-width="8.4"/>
<use href="#a25" stroke="#5788cc" stroke-width="8"/>
<use href="#a26" stroke="#5788cc" stroke-width="8.4"/>
<use href="#a27" stroke="#c81a28" stroke-width="8"/>
<use href="#a28" stroke="#d81f2d" stroke-width="6"/>
<use href="#a29" stroke="#d81f2d" stroke-width="6.4"/>
<use href="#a30" stroke="#d81f2d" stroke-width="6.8"/>
<use href="#a31" stroke="#d81f2d" stroke-width="7"/>
<use href="#a32" stroke="#d81f2d" stroke-width="7.2"/>
<use href="#a33" stroke="#d81f2d" stroke-width="8"/>
<use href="#a34" stroke="#e3303b" stroke-width="6.4"/>
<use href="#a35" stroke="#e3303b" stroke-width="7.2"/>
<use href="#a36" stroke="#e3303b" stroke-width="8"/>
<path d="M141 58l-2 2m78-10l-2-1m35 8l1-1m-142 28l0 0m106 20l1-2m-116 10l-2-2m-91 19l2-2m157 27l-1 1m-149 18l-1-1m77 19l2 0m-7-1l2-2m84 17l-1 2m-16 6l-1 0m-85 7l2 2m53 39l2-2m-7 7l-1 2m-7 12l0 0m-5 2l-1 0m-23 11l-1 1m37 0l-1-1m93 6l-2 1m360 2l-2-1m-406 5l-2 0m135 29l1-1m-121 1l2-2m-46-7l-1 0m162 48l-1 0m-73 35l-2 0m-125 11l0 1m74 40l-2-2m-55 49l2-1m60 2l1-1m111 10l0 0m-6 4l-2-1m-54 10l-1 1m28 17l-1 0m-136 7l-1 1m68 6l1 0m5-2l-1 1m114 18l0-2m-36 11l-1 2m-13 6l-1 0m1049 13l2-2m118 14l2 2m-1244 2l-1 1m1166-2l2 1m-75 10l-1-2m113 17l-2 2m19 17l1 2m-173-7l0-2m-1098 17l1 1m72 3l2 1m1022-5l0 0m40 5l1-2m-1095 14l2-2m1079 24l0 0m-43-4l0 2m12 20l0-2m-1054 4l0 0m-5 6l1 0m1160 12l-2 2m-66 1l2 0m-26 8l2 1m-1134-8l1-1m-36 6l1-2m1306 30l2 1m-1362 30l-1-1m39 34l0 0m1166 10l-2-1m-120 11l0 2m11 30l0-2m-967-1l-2 1m-122-3l2 1m551 29l1-2m-426 3l1 1m1086 0l1 2m115 13l-2 2m-240-5l-1 1m187 25l-1 0m-178 4l0 0m217 20l0-1m-1076 3l2 1m942 16l1-2m-14 6l2 1m239 17l0-2m-214 19l1-2m206 21l-1 0m-279-7l-2 2m-15 6l2 1m37 11l2 1m39-9l2-1m185 8l0-1m-27 16l-2-1m-109-5l-2 0m-115 1l2 1m283 20l1-1m-34 1l-2-2m-21 10l-1-1m-16-6l-2 2m75 13l0-1" stroke="#4fae55" stroke-width="6"/>
<path d="M200 2l2 0m161 7l2-1m26 3l0 1m-181 13l-1-1m121 11l-2 1m60-6l-2 2m53-3l-2 2m137 2l2-2m-168 17l2 2m-53-10l1 2m-49 0l2-1m-73 1l-1 2m-45-4l2 2m-84 6l1-2m43 2l2-2m266 17l-1-1m-112 0l-1 2m-139 4l2 1m-14-8l-2-2m-76 9l-1 0m212 9l1 1m118 2l2 2m-90 12l-1-2m-119 0l-2 1m-165-1l-1 0m15 8l-2 1m60 3l2 0m5 2l1 2m8-2l-2 2m227-7l2-2m22 17l2 1m-10 0l0 1m-8-9l1 0m-160 2l-2-1m-150 19l2-1m4-6l-2 2m38-4l2 0m18 11l0-1m32-7l-1-2m150 1l0 0m17 4l-1 2m213 5l2-1m-18 10l2 2m-151 2l2 2m19 1l2 2m-210 11l-2-1m-147-3l-1 0m-11 13l2 2m138 5l0 1m291-4l-2-2m145 12l1-2m-376 15l-2-2m364-3l-1-2m22 24l0 2m-131-11l-1 0m-175 4l-1-1m-73 6l2 0m-68 0l1-2m-62-8l1 0m-73 7l0 0m1 6l1 2m10 0l-1 2m25-4l-2 1m55-2l2 0m27 8l-1 2m83-6l0 2m370-3l1-2m-145 19l1-2m-9 5l-2-2m-221-3l-2-2m-113-3l-2 0m-50 10l1 0m23 11l-1 0m5-6l0 0m76 7l2 2m3-10l-1 0m7-1l-1 0m112 9l2 1m-167 7l2 1m-11-2l0 0m-12-5l2-1m-53 5l0 1m-10-7l-2-2m6 25l-1-1m12-8l-1-2m14 7l0-2m31 2l-1 0m23 1l1 2m45 0l2-2m51-6l-1-1m381 2l2 0m13 1l-1 2m-408 15l-1-1m-6 1l2 0m-7-3l2-1m-41-1l2-1m-9-1l0-2m-3 11l1-1m-114 7l-1-1m57 6l1 1m27 0l-1-1m41-6l-1-1m52 9l-2 0m18-12l-2 2m1212 12l0 0m-111 10l1 2m-1095-6l1-2m-31-4l0-1m-144 22l-1 1m57 0l1 1m94-9l1 0m36 3l1-1m21 1l2-2m354 1l-1-2m831 5l-2 2m-28 12l1-1m-97 0l-2-2m-1005-4l0-2m-95 0l1-2m-14 3l2 0m-49 9l2 0m-63-12l-2-2m-20 7l2 0m-9 4l2 0m-37 5l1 0m12 7l0-2m45-6l-1 0m84 1l0-2m161 3l0-2m7 4l0-1m229 2l-1 1m790-1l-2 1m84-2l1 2m-109 10l0 1m-777 2l-2 0m-7-3l-2 0m-7-1l-2 2m-161 0l1 0m-5 5l-1 0m-16-10l-2-2m-62 5l2 0m-231 1l-2-2m10 20l-1 0m146-10l0 1m59 6l1-2m39 0l1 2m218-8l0-2m41 3l-2 2m850 6l1-2m-178 10l2 1m-970-2l1-2m-5 7l-1-1m-32-5l0-2m-53 10l0 2m-56-7l1 2m-37 15l1 1m98-10l1 2m70 5l2 0m44 0l0-2m1025 0l2-1m46-2l-2-2m54 9l1 0m4 6l1 0m-11 1l-2 1m-7 3l0-1m-59-9l-1-2m-93 4l-1 1m-1039 1l-1 0m-36 1l1 2m-65-2l-2-1m4 13l-1 2m12 3l-2-2m110-7l0 1m16 0l0-2m21 8l0 1m44-5l2-2m1109 6l-1-1m-1137 8l2-1m-24 0l-2 2m-74 4l2 2m-29-1l-1 1m-18-3l0 2m-73-5l2 2m59 7l0 1m50-1l2 2m0 8l-1 2m38-11l2 2m51-3l-2 1m92 9l-2 0m1045-6l2 2m-1158 10l1 0m-77-2l-2 1m-84 9l-2 2m15 5l1 0m115-2l0-1m69 6l1 1m76-4l-2 0m44 1l-2 1m883-2l2-1m-894 13l0-2m-60 3l-2-2m-36 0l-2 2m-62-2l1-1m-10-6l0-2m-42 5l1-2m-116 15l2 2m4-5l-1-2m13 5l-2 0m34 5l-2 1m38-9l1 1m113 6l2-1m23-3l1 2m-6 10l1-1m-83 2l0-2m-26 6l1 1m-80-8l-2-2m-53 17l-1-1m10-1l1-1m19 1l-2 2m19 1l1-1m49 6l-1 1m30-7l-1 0m14-1l1-1m26 7l0 1m146 8l1 1m-47-4l1-2m-42 5l1-1m-18-5l-2 2m-18 5l-2-1m-123-2l1 0m-97-3l-2-2m47 12l1 0m88 7l0 2m48-2l-1-1m79 2l1 0m1101 0l-2 1m-35 11l1-1m-1071-3l-1 0m-31 0l2-1m-57 0l0 1m-12-1l1-2m-40 7l2-1m-11-4l2 1m-23 7l-1 2m-47-8l1 1m-11 12l0 0m81 6l-1 0m5-7l1 2m110-3l1 1m11 4l2-1m58-3l-1 2m944 16l-2-1m-2 1l2 0m-934-6l1-1m-27 1l-1-2m-56 7l-1 2m-14-9l1 1m-24 0l1 0m-20 6l2 1m-96-10l-1-2m-8 6l1 2m-24-2l2 0m-27 2l-2-1m87 9l1 2m208-3l-2 1m900 2l-2 1m56 0l0 1m-8 6l-2 1m-977 0l2-2m-89 1l0-2m-72 1l-2-1m-48 20l2 0m56 5l-1 0m1085-3l2-1m31 4l-1 0m52-6l-1 1m124-3l0 2m1 11l-1 1m-36 6l2 2m-3-11l2 2m-31 6l0 0m-7 1l-2 1m-1109-3l-2 2m-102-8l-1 0m-106 11l1-1m100 8l-1 2m1155-5l1 0m116-7l2-2m-15 21l-1 0m-18-4l-1 2m-1204 2l-2 2m-10-2l0-2m30 17l1 2m1081-1l-2 0m73-9l0 1m72 0l0-1m5 8l-1-2m-58 10l0-1m-37 5l0-1m-9 1l-2-1m-34-9l2 1m-1058 8l-2 1m-46-3l-1 0m-130-1l0-1m-12-1l1-2m-12 1l2 0m9 17l0 2m120-6l1 1m646 2l0 1m446-1l1 2m64-8l0 1m33 4l-1-2m27 7l-2-2m12-8l0 2m28 5l1-1m30-2l2-1m-11 17l1-2m-18-5l-1 1m-65 5l0 0m-32-1l-2 2m-1081-9l2-1m-139 4l-2-1m-55 22l-1 1m174-5l-1 0m1061-6l0-2m26 8l2-1m13 4l1 0m11-8l-1-1m17 0l-2 1m53 7l1 2m21-11l0 0m23 13l2-2m-19 5l-2 0m-5-2l0-2m-15 8l-1 1m-83-1l0-2m-7 5l1 2m-48-3l-1 0m-1117-5l2-1m-19 0l-2-2m-59 2l1 0m143 9l-1-2m1072 6l-2 0m79-2l-2 1m9 0l0 2m46-6l-1-2m-110 15l1-2m-15 2l1 1m-19 2l1 2m-1179 5l2 1m-37-1l2-1m-14-4l1 0m33 12l0 2m84-7l1 0m38 7l2-1m1086-5l1 1m3-4l-1 1m17 2l1-2m41 8l-1-1m59 0l2 1m15 8l2 2m-46 1l1 1m-34-7l-1 0m-102 4l2 0m-876 5l1-2m-248-6l-1-2m1 9l0-2m49 14l1 0m266 1l-2 0m793-1l-1-2m92-1l2-1m22-3l-2 0m61 4l-2 1m13 16l-1-1m-68-4l-1 1m-5-6l0-2m-56 3l1 1m-73 1l1 1m-1049-4l-1-2m-8 18l1 2m1136 1l-2 0m29-3l2 2m83-1l0 1m-37 8l2 1m-10 2l1 2m-1254-5l-1 1m-3 17l-1 2m32-7l-2 1m1297 10l0 0m-56 7l-1-1m-24-4l0 0m-94 4l0 1m-843-7l-1 2m-232-3l-2-2m-41 10l-2 1m14 6l1 0m955 1l0-2m91 1l2-1m-2 6l0-1m109-2l1 0m14-8l2 2m7 5l-1 1m113 3l-1-2m-70 9l-2-2m-80 1l-2-2m-49-2l-2-1m-4 9l-1 1m-1045-2l2-2m-10 4l-1-1m-41-8l-1 2m-23 4l2-2m-36 1l1 1m-34 4l2 1m82 11l-2-1m1011-5l0 2m54 0l1 1m77 1l-2-2m37-7l2-1m-152 24l-2-2m-1013-7l-2 1m-18 0l1 2m-57-2l1 0m-9 7l-2 0m-12 1l2-2m-17 10l-2 2m522-8l-1 1m652 4l-2-1m6 7l1 2m17-2l2 1m21-7l1 1m4-1l-1 2m64-1l0 1m-20 8l2 2m-181 4l1-1m-579 1l1 1m-352-3l-1 2m-40-2l-2-1m38 6l1 2m2 5l2 2m889-9l-1-1m60 12l1-2m35 2l2-2m9 2l2-2m-1025 6l1 1m39 18l2 2m955-8l-2 2m34-6l1-1m27 3l2 1m51 5l0 0m37-1l1 1m10 0l1 0m-22 5l-2 2m-6 8l2-2m-53-1l2-2m-179-6l-1 0m-869 15l2 0m307-1l-2-1m64 0l-1-1m601 0l2-2m80 3l1 2m-1189 31l2 1m183-9l1 2m41 7l0-2m920-1l-2 0m6-8l2 2m48 4l0-1m13 0l-2 2m76 14l1 1m-78-6l-1-1m-985 1l1-2m-17 5l2 2m-192-6l-1-1m-6 1l-2 1m25 16l-2 1m12-3l2 1m184-1l0 0m826 3l-1 2m51-6l0 1m112-5l2 1m170 13l-1-2m-47 8l0 0m-25-6l2 2m-13-2l2-1m-52 6l2-1m-14-2l-1 1m-24 4l-1 2m-61-6l0-2m-100 2l1 1m-1033-3l-1 1m61 11l-2-2m1144 6l-1 2m72-4l1-1m24 17l0-2m-1145 1l-1-1m-122-4l-2 2m-32 5l1 0m22 1l0-1m16 8l-1-2m57-5l-2-1m115 7l1 1m937-7l0-2m21 4l1 2m108 3l2-1m30-5l-1 1m6 3l2 0m34-4l2 2m1 1l-2 1m-23 6l-1 2m-11 2l1 1m-94-2l2-1m-11 2l2 1m-9 3l1 0m-6-5l0-1m-50 7l1 1m-35 0l-2 2m-59-3l0 2m-855 2l1 2m846 7l0 2m26-9l1 0m84 8l2 2m36-5l0 0m45 3l0 2m91-9l-2 2m19 11l0 1m-60-6l-1-2m-4 7l2 1m-13 4l2-2m-57 4l-1-2m-12-6l-1-2m-11 9l-2-1m-48-3l-2-2m-25-4l0 1m-10 5l0 0m-903-3l-2 0m-26 5l1 2m-15 0l-1-2m-67 11l0-2m6-2l-1 1m96 0l-1-2m833 2l-2 1m258-6l2 1m54 5l0 1m16-1l0 2m-5 5l0 0m-28 1l1 0m-78 1l-2 0m-118-1l0 2m-939 6l0 1m1137 4l-1 0" stroke="#e8e8e8" stroke-width="4.4"/>
</g>
</g>
<g transform="translate(805.7 82.4)" clip-path="url(#cpB)">
<rect width="278.3" height="288.2" fill="#b47db8"/>
<g transform="scale(.5)">
<path d="M169 560l2 9l6 1l3 3l0 4l9-4l4 1l3-10l-9-1l-6 4l-7-8zM0 553l0 4l4-2zM7 576l6-4l9 0l5 5l44 0l0-6l-15-12l-19 4l-12-12l-4-1l-4 2l2 9l-2 6zM151 559l-5-9l-4-1l-13 12l-19 4l-4 5l-13-1l-4 8l6-6l5 0l4 6l17 0l0-9l7-6l4 1l7 9l12-10zM91 525l-2-2l-7 2l-12 11l-12 5l0 6l16 11l7-1l0-16l-5-10l6-5zM473 515l-1 3l8 2l1-3zM144 505l-9 0l-2 2l0 8l-15 9l-7-1l-7-9l-6 1l4 6l0 4l-5 3l2 4l12 10l5 8l5 0l18-10l-7-8l0-5l5-8l11-2l1-4zM450 503l-1 7l6 1zM379 502l-9 0l-2 5l7 2l4-3zM41 501l-10-1l-3 5l5 6l0-5l8-3zM557 497l-5 3l5 1zM271 497l-11 6l11-3zM535 494l-2 8l-3 3l-6 1l1 4l4 3l12-6l-3-11zM463 491l4 6l7 0l-2-7l-6-1zM129 489l-7-2l-13 6l-7 9l2 8l21-9l4-6zM220 485l-6 1l-2 21l10-2l7-7l-6-3l0-6zM318 489l4 4l10 0l6-7l9-1l-23-2zM544 482l-2 4l3-1zM294 474l-12 6l8 0zM557 459l-3 2l1 5l2 0zM359 463l4 5l17-5l9 1l13 6l5 11l4-3l5 4l0 5l13 2l7-5l13 1l-2-4l2-12l-21 3l-9-6l-4 0l-10 4l-22-13zM47 456l-7 1l-4 6l10-2zM469 452l-2 5l4 4l5 1l4-4l-2-6zM214 448l-3 4l3 6l5 3l2-2l-3-10zM431 438l-4 2l0 3l4-1zM289 434l-18 11l-2 4l5 1l10-5zM111 443l7 6l4 8l20-8l4 3l8 14l20 6l7 9l-3 12l2 9l9 11l5-6l5 3l-6 11l4 0l4-6l5-1l-16-15l0-7l4-8l-2-16l-10-13l1-20l-4-6l-5 2l-4 8l0 9l-5 4l-6 0l-5-4l0-4l5-6l-3-4l-6 1l-7 9l-10-4l-7 0l-7 4zM289 427l-17 6l5 2zM368 426l-5 3l-2 4l1 5l8-4l1-3zM1 421l-1 16l5-8l0-4zM461 421l-9-8l-7-1l-19 9l-1 3l7 8l3 0l10-6l14 4l2-2zM172 410l-2-3l-7 4l-22-2l-3 4l0 6l6 7l4 1l22-12zM299 405l-5 0l-3 4zM238 400l-5 1l-1 5zM414 396l1 7l5 2l2-3l-1-5zM277 394l-9 3l-12 0l-10 4l2 5l-2 7l-19 15l-3 5l0 6l12 6l-1 9l12-6l1-8l3-3l5-1l6-7l4 0l-3-21l11-6l4-5zM449 387l-2 0l0 5l-7 4l9-5zM385 386l-5 5l3 11l-1 8l16 3l4 19l-2 12l4 5l7 2l2-1l-2-17l3-10l-14-13l5-18zM329 385l-2 2l2 12l5 4l1 9l-3 5l-4 0l1 2l-5 5l0 7l8 5l7-12l12 1l5-3l0-3l-5-6l-4-11l-8-5zM461 384l2 4l3-2zM436 384l-5 4l3 6zM288 382l-2 7l5 0l2-4zM534 380l-6 2l-3 9l-10 7l-5 11l-15-3l-8 4l-13-1l-4 5l9 7l3 13l11 9l1 5l-2 4l14-7l-5-11l0-6l3-4l7-1l13 13l-11 21l-20 19l4 10l15-6l6-13l8-8l7 1l7-10l10 3l7-2l0-4l-3 0l-4-5l3-30l-4-3l-7 0l-4 3l-1 4l3 10l-4 4l-4-2l-2-8l-6-7l4-19l7-8zM231 380l-5-2l-4 5l7 1zM500 377l-8 1l-5 5l1 9l4 4l6-8zM39 377l1 5l3 1l1-4zM350 373l-2-1l-4 4l4 0zM319 365l-13 7l-2 11l3 3l4-6l8-5zM191 363l-4 9l10 5l6 14l7 4l7-8l0-3l-10-9l-7-11zM63 362l-6 4l-1 8l15 10l5 8l0 5l-6 9l-8-1l-9 7l-6 0l-4-4l-1-12l-5-6l-9-1l-9 8l0 8l4 3l8 0l11 10l1 5l-6 8l-14-1l-2 3l1 11l-3 3l-19 2l0 50l5-3l3-8l6-5l5 0l8 7l4 0l7-7l13 3l6 4l4-1l1-12l-16-5l-14 1l-3-3l1-6l-6-12l1-8l14-8l10 0l1-6l9-7l7-1l11 9l0 6l-13 8l5 25l6-1l18-14l0-8l-7-6l4-6l9-4l3-4l-12-13l2-4l5 7l7 3l-2-8l-15-15l-1-11l-9-16l-6-1zM10 468l3 1l-1 4l-4-1zM395 361l-4 0l-5 5l0 3l5 0zM511 355l-5 3l-3 6l0 11l10-2l5-4zM181 344l-2 5l3-3zM272 360l-3-13l-8-4l-14 3l-7 8l0 4l4 4zM60 338l-3 2l-1 6l8 12l0-5l6-3l0-7l-3-4zM114 333l-1 2l6 7l2 9l-19 16l-2 7l0 9l2 2l3-2l8-16l10-9l4-1l7 7l-2 17l-9 7l6 9l7 2l2-11l5-3l12 4l13-1l7 8l8-2l-1-6l-6-6l-1-8l-16-5l-5-6l7-14l-2-6l-19 8l-8-11zM282 331l-4 3l0 7l9 3l4-4l1-6zM512 331l-3 1l-12-4l-5 4l-7-9l-4 0l0 11l-6 6l-7 2l-5-4l-7-1l-2 2l9 3l-2 5l-8 5l-8 1l-5 9l-5-4l-8 1l3 3l1 7l9 4l9-12l13-4l3-3l-1-8l15 5l17-17l13 1zM511 321l-7 5l5 0zM303 323l-1 6l14 9l4-15l-11-2zM204 320l-3 8l14 1l3 4l1 8l3 2l3-7l-8-13l-8-4zM155 317l-1 3l5 2l1-4zM538 316l-2 2l6 6l5 10l0 15l-11 7l-5-10l-8-6l-7 1l-2 7l10 5l2 6l10 7l2 7l8 8l11-1l0-26l-2-1l2-3l0-32zM387 316l-4 0l-2 3l3 2zM445 326l-6-11l-6-3l-4 3l-1 7l-4 6l1 10l-3 3l-8 1l-8-5l-4 0l-7 7l-4 1l-3-5l0-9l-4 0l-10 6l-1 6l18 10l19-1l10 4l1-3l4 0l5-4l2-4l-1-9l11-5zM517 304l-6 1l4 14l-1-2l5-6zM19 304l-5 2l3 16l-9 12l8 7l5 12l-9 9l-11-7l-1-9l0 24l6 3l4 11l12-1l5-6l7-3l5-8l11-6l-1-7l-9-10l1-9l-8-6l-9-13l0-8zM380 308l-16-7l-1 5l-8 9l0 5l-13 5l-2 6l5 6l0 16l-4 7l7 0l6-6l-2-16l5-14l16-5zM491 309l-6-4l-3-8l-4-1l-7 1l-5 5l-5-1l-4-4l-5 0l-8 7l4 6l5 0l11-6l12 11zM60 292l-4 2l0 7l-3 6l3 12l4 0l3-5l1-17zM326 290l-5 3l-1 9zM129 289l-3 7l1 7l4 3l13 0l0-5l-10-12zM248 286l-4 4l0 5l5 6l4 0l3-7l-3-6zM339 275l-1 4l6 9l1-6l-3-3l6-2l0-2zM230 276l-3-3l-4 0l-11 18l-9 0l-3 4l6 5l15-2l10-13zM514 265l-2 2l0 8l-4 5l-7 3l-3 10l7-10l12-6l1-5zM280 259l-7 1l-2 14l-3 4l0 5l9 9l-12 12l5 12l3 2l10-12l8-1l5-4l3-12l7-10l-1-4l-6-1l-8 9l-6 1l-4-7l4-15zM20 253l2 7l6 6l0 12l-3 6l2 7l7-2l8-13l21 2l2-4l0-7l-11-6l-14-2l-7-6zM207 250l-10-1l-12 5l-3 4l0 7l-12 7l-5 10l1 5l-6 6l0 4l7 11l13 1l2-2l1-10l-3-6l3-12l-1-12l2-2l13-1l10-10zM142 244l-2 2l1 5l5 2l1-6zM302 241l-3 4l0 7l7 2l3-8l-3-4zM269 242l-8-4l-5 7l-8 0l-5-4l-1 2l11 13l3 0l6-7l8-3zM229 236l-9 9l0 5l5 4l5-1l7-10zM241 222l-2 8l5 4l6-4l1-4l-3-3zM0 212l10-2l3-3l-2 2l-11-2zM268 199l-2 0l-7 17l1 6l4 3l4 0l1-4l-5-7l3-9l6 14l-1 5l4-3l5-14l-9-3zM126 209l0 4l11 12l11-2l29 9l0-7l5-1l-3-5l-26-11l-12-9l-6 0zM292 194l-5 5l-1 6l9 6l1 10l16 0l5-5l-6-1l-5-6l-2-14l-2-2zM557 192l-5 6l5-1zM241 209l-3-19l-9-7l-4-10l-2 0l0 5l6 13l-1 6l-13-4l-24 3l-24-8l-2 3l14 15l21-3l11 5l18-3l9 7zM549 168l-7 5l-10-3l-6 13l-11 9l4 15l9 6l0 5l-4 7l-1 15l6 9l1 7l3 3l12 0l3 4l0 10l-3 7l-12 12l-1 7l2 1l11-3l4-4l2-7l6-4l0-25l-11 0l-8-11l5-11l-1-12l5-7l-5-13l7-4l0-4l8-7l0-4l-7 1l-5-3zM310 168l-6-1l-4 5l1 2l3-7l2 5zM554 165l3 13l0-13zM35 173l2 4l7-1l2 3l-2 5l2 13l-4 9l-12 14l5 0l6 5l-1 5l-8 8l1 6l14-1l7 7l8-2l4-12l14 7l21-1l4 3l1 4l-2 12l5 2l13-1l3-3l0-6l-14-17l3-11l-11-1l-4-3l3-18l-11-11l-10-3l-11 12l-7 4l0 5l4 4l5 1l4 5l-1 4l-10 10l-6-2l-13-13l-1-6l5-11l-1-17l5-5l10-4l4-5l-20-7zM254 160l-2 3l1 11l-3 11l8 1l5-3l7-17l-5-4zM460 153l0 3l4-1zM70 151l2 9l3 3l8-1l1-4l-5-7zM535 143l-8 0l-5 5l0 4l9 14l7-13l0-7zM316 144l1 6l7 10l0 6l4 4l4-1l6-9l8-1l5-4l-4-7l0-8l-6 2l-3 14l-3 3l-7-4l-3-16l-6 1zM513 135l0 7l3 1l3-7zM280 133l-3 4l1 7l3 4l4 0l7-6l1-5zM557 127l-3 3l0 5l3 3zM97 124l-8-2l-17 4l4 8l7-4l10 2l4-3zM240 120l-2 6l8 9l-1 9l6 3l2-8l-4-6l0-8l-3-4zM331 120l-3 5l1 6l11 3l2-2l-1-9l-3-3zM506 117l-6 1l-4 7l-14 11l-11 1l0 10l11 2l5 7l0 4l-13 1l-9 7l10-2l7 6l4-1l2-7l10-8l-4-19l4-6l10-3l1-6zM363 118l-2 12l7 12l-7 8l2 5l13-10l5 2l0 6l3 2l7-7l13 0l-2-9l-13 5l-6-1l-4-4l1-18l-11-5zM18 115l-8-1l-10 8l0 33l8-2l-2-17l7-7zM535 110l-4 14l1 5l8 8l9 0l-6-24zM116 107l-2 2l0 7l5 4l5 0l-2-9zM389 107l-1 4l7 16l3 2l17 0l0-8l-4-7l-13-2l-7-6zM434 102l2 20l6 7l5-8l5 0l12 9l4 0l11-16l0-4l-10-6l-6 4l-9-1l-6-11l-6 8zM330 101l-5-5l-18 7l-13-4l-5 4l-1 6l18 1l9-2l5 5l6 2l4-6zM253 92l-9 6l-13 1l-7 6l-6 1l-1 10l3 5l5 1l5-4l3-11l4-5l6 2l6-2zM401 91l-7 2l-3 4l1 6l8-4zM179 91l-7 9l4 13l3 3l4 0l7-6l1-15zM131 93l-1 3l13 4l3 6l-2 16l-3 6l2 13l-14 20l-22 3l-5 3l-2 18l12 1l14-5l4-5l2-8l7 5l6 12l22-6l14-14l11 1l8 7l5-1l-4-6l1-5l6-6l9-1l-6-14l-5-1l-8 5l-3-3l0-10l-10-6l-10-2l-11-12l0-9l-8-7l-18-5zM154 146l8-4l14 1l5 7l-3 13l-8 4l-15 0l-2-2zM366 89l-6 8l-9 0l12 8l5-6zM112 83l-4 0l-1-3l-9 3l-10-2l-10 8l-1 5l19 13l7 0l7-4l-1-13zM292 68l8 8l11 3l5 9l2-7l-4-6l-11 1zM166 65l0 4l4 0zM87 55l3 5l10 2l5-12l8-4l1-10l6-4l10 0l4 3l0 7l-4 5l-12 3l3 6l5-4l5 3l13-7l8-1l3-4l-8-11l-14-1l-12-8l-10-2l-2-3l-5 5l7 8l1 5l-9 9l-11 0l-4 4zM457 9l-4 4l2 1zM369 8l-9 6l4 0zM494 0l5 7l5 0l1-4l-2-3zM476 3l7 3l7-6l-14 0zM389 0l3 9l6-3l6 1l0-7zM305 3l3-3l-3 0z" fill="#9f69aa" fill-rule="evenodd"/>
<path d="M160 569l-4-2l-7 2l-4 8l11 0l4-3zM82 564l-4 3l-1 6l3-2l5 4l2-10zM12 561l-12 1l0 15l11-10zM34 549l1 5l4 3l12-5l-1-5l-4-2l-6 0zM106 544l-4-3l-11 1l-4 6l3 7l11-2l5-3zM0 541l1 5l1-3zM85 532l-1 2l3 1l1-2zM43 530l-7 5l5-1zM420 520l-1 2l6 6l1-6zM171 514l-9 4l3 13l-11 9l-1 6l2 2l18 2l3-3l-2-30zM393 516l6-1l-4-2zM513 513l-1 3l9 5l8-2l-9-9l-3 3zM124 508l-8 2l-1 6l2 2l8-3l1-4zM0 507l0 17l17-4l6 5l3 8l6 2l-4-10l3-10l-8-3l-7 1l-6-8zM438 507l5-4l-5 0zM390 501l-1 3l5 3l1-5zM342 499l7 2l6-7l-10-2l-3 2zM41 493l8 8l16 2l-3-4l-13-7l-6-1zM17 489l-5 2l-1 5l2 4l7-4l0-4zM200 487l-5 4l-1 6l4 5l7 2l3-4l1-8l-4-5zM141 487l0 9l11 10l5 0l8-6l7 4l0-4l-6-3l-3-6l2-2l5 2l4-2l2-6l-3-4l-15-2l-6 6l-8 1zM126 474l-4 3l3 0zM327 478l-4-6l-8-3l-11 5l-6 8l-13 4l4 5l0 4l7-1l8 2l5 4l4-4l-2-11l7-6zM88 464l-10 9l-9 4l-3 10l5 5l4-3l7 0l4 5l-2 12l8 3l3-2l0-8l3-5l0-27l-3-3zM489 462l-5 1l-4 4l0 9l-7 4l5 9l5 4l9-6l-8-10l10-10l0-3zM201 455l-5 5l0 13l3 4l11 0l7-7l-12-14zM433 455l5 6l5-3l-8-4zM308 448l-4 5l2 6zM50 447l-4-5l-6-1l-10 7l0 5l6 1zM13 433l-5 4l2 7l6-3l0-5zM445 432l-5 4l-1 6l9 13l6 1l8-7l1-6l-8-9zM58 430l0 4l8 2l3-3l-3-5zM395 424l-3-6l-8 0l-7 8l-1 10l-12 8l-6 0l-3-3l-1-11l-9 0l-11 11l13 6l9 11l13-7l22-2l5-16zM283 405l-7 1l-8 6l0 8l4 6l7-1l5-4l1-3l-3 2l-3-2l3-5l3 0zM428 402l-1 7l2 2l10-2l1-5l-3-3l-7-1zM540 399l-3 0l-2 4l5-2zM223 396l-4 2l2 4zM146 394l2 9l6 2l6-2l0-4l-12-6zM369 392l-6 4l-3 12l4 5l5-1l7-9l-2-8zM556 388l-1 3l2 1zM480 389l-3-1l-8 6l-8 0l-2 5l-7-3l-3 3l0 5l7 7l7 2l16-16zM517 385l-4-1l-4 5l6 1zM64 387l-9-3l-5 2l-3 14l2 6l5-2l4-13l7 0zM416 382l0 6l6 1l1-7zM187 381l2 15l-10 8l2 16l9 11l4 11l16 1l7-5l7-14l0-5l-7-3l-11 9l-8-3l3-11l-2-18l-3-9l-3-3zM0 380l0 35l11 5l11-1l2-3l-7-6l-5-11l-9-8zM116 376l-4 3l-1 7l-14 7l-1 4l7 6l8 0l4 3l-4 9l9 19l11-6l1-14l-17-26l3-6l0-5zM86 367l-1 10l6 5l3-3l1-8l-2-4zM457 362l-7 3l-2 7l4-3l2 1l0 8l9-3l-1-9zM412 361l-6-2l-17 21l8 3l14-6zM490 354l-4 1l2 8l-7 9l1 3l8-7zM376 353l-6 1l-4 15l-11 11l-13 5l3 6l16-5l13 0l8-6l-6-13l0-4l4-5zM77 351l-3 9l7 3zM304 343l5 6l0 10l5 1l4-2l-1-11zM503 340l-4 0l-4 4l-1 8l7 0l4-4l1-4zM188 346l0 9l16 1l3 3l6 16l5 1l12-3l6 3l2 3l-1 9l3 3l9 1l6-4l11 3l11-4l3-5l1-9l-3-4l-8 0l-6 5l-5 0l-16-5l-13-12l-11-2l-5-6l-1-11l-3-4l-5 0zM165 331l-2 4l4 14l-7 11l0 4l4 3l6 0l3-3l-2-11l1-13l-2-6zM265 329l-3 6l2 3l5 1l2-7zM522 328l-1 3l5 5l8 4l5-1l1-9l-3-4l-7-2zM132 316l-4 6l2 8l13 13l8-2l5-5l1-5l-14-6l-8-9zM418 315l-9 1l-11 10l7 0l2 3l-2 3l9 2l0-10l6-7zM448 318l9 12l10 2l6-2l-2-10l-8-8zM75 311l-7 19l15 5l19 20l0-8l-3-4l2-13l-7-13l-9-8zM395 308l8-2l-5-1zM0 302l0 19l6 0l2-2l0-10l-4-6zM216 309l-11-3l-9-6l-5 0l-9 21l-1 13l6 1l15-21l5-2l6 1zM235 294l-4 1l-6 9l6 7l-5 8l0 7l4 8l-3 12l2 7l6-2l5-5l9-19l11-5l2-4l-3-8l-13 4l-11-1l-1-3l6-5l0-4zM557 290l-1 5l-15 11l2 4l14 2zM312 288l-7 4l-4 11l-5 5l-11 5l-3 7l1 4l9 2l8-8l16-6l-4-12zM519 286l-5-1l-5 4l0 9l10-3zM52 282l-7 1l-9 12l5 10l-6 11l5 7l8-3l-1-17l2-11l5-7zM291 271l-3 4l3-1zM521 263l11 16l9-2l2-4l-1-6zM297 264l0 3l9 2l10 9l9 0l-9-14l-1-6zM217 257l-6 1l-10 12l-2 5l1 9l9 1l4-4l8-17zM240 256l-6 5l-1 6l5 13l5 1l9-10l-5-12zM43 249l-1 2l3 2l1-3zM90 247l-13 12l-2 10l-6 11l-1 10l12 10l12 4l9 0l2 4l-5 8l6 4l19-9l0-22l-4-5l2-10l-3-3l-16 3l-6-6l-4 0l-2-4l3-1l0-4l6-6l0-4zM112 286l2-2l3 1zM99 286l-6 7l-7 3l-3-3l0-8l-6 3l-7-8l2-2l10 2l13-5l4 5zM519 230l-4 14l3-3zM131 230l-6 6l0 5l6 8l7-13l-1-3zM305 228l0 5l7 6l5 1l1-3l-7-9zM557 223l-3 0l2 3l-4-2l-2 2l-1 9l-5 7l0 5l7 5l6-1zM288 215l-5 2l-3 9l-11 6l12 15l7-1l6-9l-1-5l-9-6zM54 211l-1 4l3 1l1-3zM232 214l-5-3l-6 2l-18 0l-7-3l-11 1l-1 4l4 8l0 13l-8 9l-4-3l0-6l-29-6l-2 4l6 7l2 8l-2 29l3 1l6-4l22-28l31-5l10-16l9-1l2-4zM552 203l1 8l4 2l0-12zM155 198l1 6l14 4l-3-7l-7-4zM256 193l-10 0l-2 3l3 18l5-1l7-8l0-8zM132 185l-6 1l-13 8l-6 17l1 5l6 0l5-10l15-15zM32 180l-2 13l7 7l2-8l-6-7zM32 194l4-2l3 3l-6 1zM76 181l-5-2l-14 7l-2 7l3 3l10-3l5-4zM10 176l-2 7l-8 0l0 19l8 0l7-4l-2-5l2-11zM184 175l-6 9l2 2l9 0l-1-8zM336 174l-5 1l0 7l6 12l-3 12l1 10l2-2l-1-13l7-4l-7-14zM91 168l-10 5l-2 5l3 3l6 1l5-5l0-7zM0 163l0 5l8 3l1-8zM244 157l-8 4l1 9l-2 6l3 5l6-1l3-4zM173 150l-2-2l-8 1l-3 4l1 6l10-3zM549 141l-6 3l-2 20l7-7l-1-9zM83 142l3 9l4 4l9 1l2-2l-3-9l-4-4zM265 140l-4 3l-2 9l8 5l4-2l1-6l-3-7zM503 138l-3 2l2 6l4-3zM385 131l6 3l-2-4zM231 127l-4 3l0 9l4 0l4-4zM206 117l-4 4l0 5l6 5l5-3l1-6l-3-4zM29 115l1 4l3 1l0-3zM313 115l-19 0l-9 9l5 6l14-3l3 6l-19 21l0 8l-4 7l0 10l-11 11l3 8l3 0l12-15l4-15l5-5l14-5l-5-14l12-12l0-7zM104 114l0 21l4 4l5 14l3 3l4 0l10-8l0-14l-4-4l-8-2zM78 110l1 5l11-1l-7-6zM129 104l-1 7l3 4l6 1l4-10l-5-3zM25 103l-2 4l4 5l1-9zM475 102l10 9l-1 5l-9 9l2 6l5-1l20-20l5 0l5 5l5 11l7-4l0-4l-7-13l-5 3l-9-1l-4 2l-10-6zM338 102l-1 9l9 8l4 12l5 1l2-5l-2-21l-8-6l-2 2zM259 99l-12 12l0 3l11 5l3 3l1 7l5 3l6-6l2-9l-13-18zM557 97l-2 1l-2 11l4 0zM199 96l-2 4l1 8l5 4l4 0l3-4l-2-11zM408 95l-2 7l12 10l4 14l-2 11l2 0l7-9l-1-26zM377 95l-7 11l2 5l5-1l3-4l0-9zM160 87l0 4l7 4l-2-5zM113 58l-3-1l-1 9l-7 6l-4 0l-7-6l0 7l6 1l11-3l6-10zM82 23l6 7l10 4l4-1l-7-10zM126 21l9 2l-5-4zM88 6l3-1l7 10l8-2l-3-6l-10 0l-3-3zM555 0l1 10l-6 9l7 5l0-24zM461 0l4 5l3 0l1-5zM451 0l-5 0l2 7zM409 0l2 5l4 0l3-5zM340 0l12 10l7-2l9-8z" fill="#c698c8" fill-rule="evenodd"/>
<path d="M337 165l0 18l6 9l1 6l-7 8l1 8l-4 10l11 5l5 5l-2 9l-10 13l12 5l2 12l-9 8l3 1l9 18l13 1l19 11l3 0l8-8l4 0l4 11l18-2l4-3l11-2l13-12l5 0l7 5l10-6l12 1l12-13l10-4l3-4l1-13l8-9l-1-5l-4-1l0-9l3-8l8-9l1-8l-9-6l-4-10l-11-9l-1-10l3-4l-2-4l-7 6l-6 1l-15-10l-12 2l-4-7l-2 0l-3-9l-5 4l-13-3l-19 1l-13-6l-10-1l-5 2l-5 6l-4-3l0-6l-3-1l-13 10l-13 1l-7 6zM383 136l5 3l4-2l-4-4l-3 0zM306 8l4 20l6 6l0 13l-5 11l4 17l4 6l-3 8l10 2l3 5l11 6l5-1l7-6l2 2l6-1l7-10l10 2l9 10l4-1l5-6l6-1l5 4l12 2l6 5l10-1l8 3l3-6l6-3l6 5l0 7l3 1l12-6l20 2l7 5l4-2l9 1l9-5l17 6l-4-4l0-5l3-4l6 0l1-2l-8-14l4-7l-4-13l3-7l-12-17l2-12l4-7l-4-16l-25 0l4 4l-4 4l-5 0l-8-8l-11 8l-21-1l-4 8l-6-3l-4-12l-12 0l-10 9l-12 6l-10-8l-12 3l-9-5l-5 0l-11 10l-12 2l-3-9l-10-8l-20 0l-5 7z" fill="#b877b4" fill-rule="evenodd"/>
<path d="M451 287l3 5l8-2l-3-6l-5 0zM482 260l-4 18l11 11l5-4l1-19l-8-6zM416 255l6 14l3 2l4 0l10-6l13 0l2-2l-3-5l-8-4l-8 2l-8-2zM516 252l-1 5l4-3zM384 235l-3 2l4 13l0 16l-15 10l-9-5l-6 1l-5 13l0 6l6 5l5-12l16-3l5 5l4 21l8 2l4-5l4 0l2 4l5-11l-11-8l-1-5l8-13l-5-14l6-7l1-8l-3-6l-12 1zM451 236l-5-4l-6-1l-9 2l-4 4l3 5l4 1l14-4zM483 225l4 9l12 1l11 11l6 2l-2-5l5-14l-2-4l-14 1l-16-4zM464 201l-5-1l-8 4l-8 11l-1 5l20 0l3-8zM389 216l10 4l0-12l3-4l8 0l14 9l8-3l3-6l-3-6l-8-7l-12 1l-11-2l-3 13l-7 6zM496 176l-14 5l2 15l4 6l9-1l10-5l-5-14zM357 159l-15 7l-5 6l0 11l6 9l0 7l5 4l1 4l-5 4l-5-3l-1-4l0 10l-2 3l16 1l12-6l4 1l4 4l0 4l-12 10l2 11l5 5l4-10l6-7l2-8l-1-14l7-11l1-8l-18-15l-2-10zM355 173l6 5l0 5l-6 9l-6 1l-5-3l-1-7l7-9zM434 154l1 3l12 6l5-3l-1-4l-8 1zM383 136l5 3l4-2l-4-4l-3 0zM407 94l5 0l12 7l5 0l-4-5l-10-4zM373 83l0 3l9 8l-3-9zM356 76l1 2l4-2zM521 72l-2 3l1 4l9 8l-1-15zM331 62l0 7l-7 14l1 4l11 13l4 2l5-1l2-3l-7-9l-4-14l0-6l5-6zM469 59l-6 20l-8 7l4 15l30 1l10 6l4-2l9 1l6-4l-2-10l-9-9l-12 1l-5-5l-11 1l-5-5l1-6l6-7l15 0l1-6l-3-3l-5 0l-6 4zM520 43l13 1l-2-3l-9 0zM458 20l-1 14l-4 3l-10-3l-4 3l0 6l19 14l5 1l8-18l-5-17l-3-3zM423 29l-16-13l-5 0l-6 5l-13-5l-9 8l-9 0l-10 4l-15-1l-6-5l-6 0l-2 2l2 13l-3 11l-3 4l-6-1l-1 2l5 1l14-6l10-12l17 3l8 8l-4 10l-1 13l3 1l6-6l6 0l9 11l4 1l6-6l6-12l-3-8l2-11l5-4l13-2zM388 55l4-2l2 4l-4 1zM465 7l5 1l3 7l4 3l11 0l-1-5l-6-4zM510 0l-6 14l0 6l11 3l6-5l-2-18zM445 0l-12 0l-4 4l5 10l-4 8l1 2l4 0l11-8l2-8zM306 8l4 19l4-4l2-11l5-4l9-1l20 4l-11-11l-20 0l-5 7z" fill="#c691c2" fill-rule="evenodd"/>
<path d="M185 520l5 6l3 9l-7 19l0 7l11 3l-3 13l363 0l0-53l-6-5l1-4l5-3l0-10l-5-1l-5 1l-4 5l-10 5l-3 7l-4 3l-5 0l-7-5l-20-4l-7 8l-34-4l-5-8l-5-2l-2 2l2 5l-11 7l-4 8l-4 0l-13-17l-7 0l-12 6l-27 1l-5-4l-2-9l-3-2l-9 6l-16 1l-8-4l-6 3l-12-13l-3 0l-10 9l-6 0l-8-5l-11 1l-7 8l-8 0l-11-6l-5 0l-9 6l-8-2l-8 6l-9 2l-6 7l-3-2l0-3l6-8l-4-2zM206 538l3-8l5-3l-4-4l1-2l5-2l11 7l12 4l4 5l-3 6l-5-1l-8-8l-3 0l-11 9zM264 525l11-7l8 0l6 9l10 0l3-2l1 2l1-4l8 10l-4 5l-4 0l-6-5l-19 4l0-9l-3-3z" fill="#d8c2dc" fill-rule="evenodd"/>
<path d="M507 559l-3 5l0 8l3 5l3 0l8-10l0-3zM510 544l-4 0l-1 4l3 1zM377 540l-11 3l0 11l-4 6l0 5l3 3l6-3l1-8l10-11zM402 533l-7 2l2 12l-3 13l2 3l4 0l15-13l-2-7zM520 532l-5 10l20 11l6 10l8 7l2 7l6 0l0-49l-8-1l-1 11l-4 4l-12-12zM348 525l-3 2l1 7l3 5l4 0l3-3l1-9l-2-2zM436 522l-4 4l-1 5l5 4l8 2l2 8l-22 10l1 7l8 5l11-9l4-7l5 0l9 8l1 12l3 6l4 0l1-11l11-5l3-4l-1-11l-6-3l-9 9l-2-2l1-9l-8-12l-11-1l-9-6zM289 541l-3-3l-11 0l-5-13l-5 1l3-4l-5-2l-4 4l0 11l4 5l9 2l8 12l0 7l-2 2l-12 2l-6 5l-5 0l-13-13l-15-7l-11-11l-3 2l-5-1l-1-4l-17 7l-3 8l2 5l-2 6l10 2l-3 10l9-4l7-10l12 0l20 17l29 0l3-7l6-6l11-4zM471 519l1 4l4 3l5-5zM385 517l-9 2l-4 4l1 7l7 6l4-3zM250 517l-10 9l2 8l5 1l5-5l0-11zM504 514l-4 0l-3 18l2 8l3 0l10-10zM306 509l-2 11l15 12l3 18l-7 12l1 15l27 0l-6-10l1-20l-8-12l5-10l-1-4l-8-6l-8-2l-5-5zM194 508l-5 6l3 4l-3 7l6 5l6 0l6-5l1-11l-7 2l-7 7l-2-5l6-8zM296 502l-2 2l3 1l1-2zM557 502l-6-1l-18 12l6-1l9 8l9-8zM263 505l7 7l5 1l3-3l0-4l-4-5l-8 1z" fill="#c4a3cd" fill-rule="evenodd"/>
<path d="M101 521l-4-7l-11-1l-3-2l0-5l-4-8l-6-5l-7 10l1 6l-5 5l-5-1l-6-6l-2-5l-3-1l-12 5l0 6l-2 3l6 2l6 8l0 5l9 5l17 0l8-8l9-5l7 5l4 0l3-2zM60 523l4 4l0 5l-3 3l-5-3l0-5zM315 413l-4-2l-8 3l-4-1l-3-3l0-4l-11 8l0 3l5-1l3 4l-5 10l-11 6l-4-1l-6-6l-5 1l-6 7l-1-1l-6 4l0 6l-3 4l-2-1l-1 3l-12 5l-1-1l-8 4l-2-1l0 2l-5 4l5 5l-4 6l-4 1l0 5l5 3l3-1l4 5l0 6l3 2l3 0l3-3l6 0l4 5l1 5l6 0l1-2l6 2l6-5l10-4l6 2l-2-2l0-5l4-4l3 0l-3-1l-2-4l14-9l9-20l-7 3l-11-9l-10 5l-5-1l-1-3l16-12l10-5l5-6l5 0l7-4zM231 465l3-1l4 4l-4 0z" fill="#d73c74" fill-rule="evenodd"/>
<path d="M354 576l-2-1l-3 2zM251 576l4 1l-1-2zM217 577l6 0l0-2l-4 0zM484 573l0 4l7-1l-3-3zM149 573l4 2l2-1zM158 573l6 3l-1-3zM431 571l0 3l2 2l0-4zM182 570l-1 2l1 2l2 0l1-4zM526 568l2 4l3-1l-1-3zM286 566l0 3l3 5l6-1l-5-1l-2-2l0-3zM122 566l-2 3l3 2l1-4zM99 565l1 2l3 0l-1-2zM196 569l5-1l4 4l2 0l-3-8l-2 0l-3 4l-1-1zM7 564l0 3l3 1l1-2zM408 563l-4 1l1 4l4-3zM82 566l3 1l2-2l-1-2l-2 0zM473 562l3 5l-6 0l-1 2l6 5l0-5l4-6zM46 562l0 9l3 1l2-4l-1-4zM328 562l0 2l6 4l3-2l-6-5zM292 561l0 2l3 2l1-2zM17 561l-2 1l0 3l3-1zM343 569l3 1l3-2l4 0l2 2l0 3l3-1l-7-12l-1 3zM392 559l-4 0l-4 4l6 1zM221 558l-5 1l1 5l4-4zM551 558l1 2l3 0l-1-3zM272 557l-2 2l0 3l3 6l1-9zM135 557l-1 2l3 1l0-2zM421 556l-1 7l5 4l-3 2l0 2l4 2l1-3l-2-3l0-8zM542 555l-6 2l5 1zM530 555l-4-1l0 2l-4 2l1 1l6-2zM502 554l-6 2l-2 5l6 2l0-5zM65 555l2 4l4-2l-1-3zM31 553l0 2l3 2l1-3zM386 552l-4 1l-1 2l2 2l4 0zM265 552l-2 0l-1 2l2 1zM510 551l-2 2l2 4l-1 2l3 1l0-8zM285 553l0 4l7-2l-2-4l-3 0zM194 548l-5 3l0 6l2 1l6-1zM75 548l-2 2l0 2l2 1zM374 550l-4-3l-2 3l-4 2l4 1l2-3zM245 551l6-3l-5-1zM327 545l-5 3l2 2l-2 9l4-5l4 2zM453 544l-1 3l3 0l1-3zM431 541l1 4l5-1zM514 540l-10 2l4 1zM59 540l-1 3l2 1l1-3zM179 539l-1 4l3 2l0-5zM354 538l0 3l3 3l1-3l-2-3zM312 536l-1 4l3 1l1-2zM526 534l-4 4l4-2zM425 534l-1 2l3 2l1-4zM396 534l-2 2l3 1zM258 533l-3 0l0 5l4-3zM438 530l4 6l-2-6zM389 529l-2 1l-1 5l3-1zM377 529l-6 4l-1 4l3 0l4-4zM467 528l-3 3l0 3l2-1zM244 527l4 8l2-5zM170 525l0 6l-2 3l6 4l2-2l-5-1l-1-3l3-1l-1-6zM256 524l-1 2l1 2l2 0l1-4zM350 523l-2-1l-3 3l-5 0l0 4l3 1l3-3l2 1zM122 522l2 3l2 0zM247 520l-6 1l0 3l4 0zM199 536l0 3l5 2l3-2l6 1l4-4l3 2l2-2l0-3l2-2l3 0l10 9l-2 3l3 1l2 3l1-4l-2-2l3-4l-3-6l-12-4l-10-7l-5 1l-1 2l3 1l1 3l-5 3l-3 7zM554 518l-1 1l2 4l2 0l0-4zM502 517l-3 1l-5 6l-6 0l0 2l3 2l0 4l7-7l7-4zM259 516l0 2l3 1l0-2zM533 517l3 0l1-2l-3 0zM524 512l-1 2l3 1l0-2zM264 516l2 3l-1 6l11-1l4 4l-1 8l5-2l2 2l5 0l1-4l6 0l6 5l6-1l1-7l-3 0l-4-5l-5 4l-10 0l-3-4l0-5l-3-7l-7 3l0 3l-5 4l-2-1l-1-4zM177 512l-5 2l-1 2l3 1l3-3zM14 512l-1 3l3 3l1-4l-1-2zM157 511l-4 3l-5-1l0 3l5 2l3-1zM29 511l0 2l3 1l0-3zM321 510l0 4l3 3l3 0l-1-3zM376 511l2 4l4-2l6 0l-1-3l-6 2l-3-3zM308 508l-4 4l-9 3l0 3l6 1l3-3l0-3l3-1zM546 506l1 4l3-2zM428 506l-5 0l-2 3l0 7l4 3l5-6l-1-2l2-1l0-2l-1 1zM228 507l-2-1l-3 2l3 1zM187 506l1 2l4 1l-2 5l2 4l4 1l0-2l-3-3l1-4l-2-2l2-3zM283 507l-3-3l-4 1l-4 8l2 1l2-4l4-3zM94 503l1 3l2-1l-1-2zM86 502l-2 3l1 2l2-2zM33 499l-1 3l3 1l1-3zM125 496l-1 4l2 0zM134 492l-1 5l3 2l1-4zM5 491l3 0l1-2l-3 0zM320 492l-2-4l-2 0l-3 5zM476 487l-2 2l2 3l2 0zM94 486l0 5l3 3l2 0l1-8zM173 486l0 3l5 2l-1-5zM118 485l-1 2l3 1zM19 485l1 4l4-1zM169 480l-1 2l3 1l0-3zM444 479l1 6l2 0l2-4l4 2l2-2l-1-2zM464 477l-1 6l2 3l-1 4l2 2l5-4l-6-2zM182 479l2 0l3-3l-4 0zM190 475l3 2l2-1l-3-2zM310 471l-3 2l2 1zM170 471l5 3l-2-3zM25 470l1 4l3 1l0-4zM555 468l-4 4l2 2zM73 467l-2 0l0 4l2-1zM133 464l-1 3l2 1l1-3zM2 460l2 2l6-1zM488 459l-1 2l2 1l1-2zM205 459l-2 0l-1 2l2 1zM374 458l4 4l0-2zM156 459l-2-1l-5 6l4 0zM183 457l0 3l3 1l0-3zM168 454l2 3l3 1l-2-4zM48 456l3 1l2-2l-4-1zM42 454l0 2l2 1l1-2zM516 450l-1 3l3 0l0-2zM370 448l2 7l0-6zM220 453l-2-5l-3 4l-5 0zM378 448l2 4l10 0l0-2l-5 1l-5-5zM461 445l-17 1l-2 2l1 4l-4 3l0 2l4 4l5 2l1-2l-4-5l1-5l3-3l3 0l2 7l1-4l3-3l3 0zM522 445l7 0l3-2l3 1l1-2l-10-2l-3 2zM425 439l-1 3l2 1zM73 439l-1 2l4 3l-1-4zM210 441l1 2l5 1l-2-6zM21 437l-2 5l5 0l-1-5zM557 436l0 2l-3 3l-2 0l0 6l5-2zM236 436l3 4l1-2zM133 437l2 2l2-1l-1-2zM351 434l-3 0l1 5l3-2zM494 432l-4 0l0 4l2 0zM540 429l-1 3l3 0l1-2zM446 429l-2 4l2 0zM423 430l-3-2l0 3l-4 1l0 2l3-2l3 1zM32 430l4 4l4-1l-5-5zM13 427l-2 1l0 3l2-1zM92 427l-3-1l-2 3l1 1zM456 426l1 2l7 1l-6-4zM400 424l-2 6l4 1l2-4l-2-3zM2 423l-2 0l1 7l2-2zM244 423l1 1l6-4l-5-1zM126 419l6 2l-2-2zM49 421l4 0l1-2l-4 0zM520 418l3 3l4-1l0-2l-3-1zM492 418l-4-3l-3 5l3 1zM268 415l1 3l2-2zM452 412l1 7l3 3l-2-9zM275 412l-1 2l3 1l0-3zM11 412l-1 1l2 2l1-2zM261 412l2 2l3 0l0-2l-2-1zM92 411l0 6l11 10l-4 5l-8 4l-4-2l-3 0l-2 2l2 3l3-1l1 4l13-8l2 3l1 7l2-6l-4-4l6-5l0-5l-11-6zM540 407l0 2l4 0l3 4l4 0l-3-6zM513 407l0 3l7 0l0-3zM5 405l-3 0l0 2l2 0zM472 403l1 5l1-3zM157 403l-1 2l3 2l1-3zM555 402l1 2l-3 3l0 3l4 2l0-10zM302 398l-7 2l4 1zM225 398l0 10l3 0l1-6l2-2zM120 398l-1 4l3 2l1 3l1-8zM430 398l-1-1l-3 2l3 1zM196 395l-4 2l2 1zM508 391l0 4l2 0zM3 391l1 3l4 0l2 2l2-2l-2-3zM73 391l1 4l3 0l2-2l-1-3zM479 389l1 2l4-1l-2-2zM50 389l1 2l4-1l-1-2zM413 387l0 3l3 3zM101 386l-2 1l0 5l-3 3l2 6l2-1l-1-5l4-5zM288 384l-1 4l2 1l1-3zM381 383l-2 0l-2 3l1 4l5-3zM259 383l-2 2l1 2l2-1zM140 385l3 3l4-1l-2-4zM276 381l-2 5l4 1l2-3zM192 380l-4 1l0 2l2 0zM361 379l-3-1l-3 7l5-1zM394 377l-1-1l-6 2l5 2zM370 375l-7 3l6-1zM404 374l-2 2l3 4l3 0l0-3zM300 374l0 2l3 2l1-2zM231 374l-5 1l-1 3l-3 2l0 5l3-6l5 2l1-1zM375 372l2 3l2 0zM269 370l6 1l-1-2zM514 368l-4 1l0 2l3 0zM135 368l-3 2l0 2l3-2zM407 368l4 3l2-1l-3-3zM546 365l-1 3l4 1zM118 365l-4 1l1 6l3-2zM489 364l5-1l-4-1zM211 362l-3 2l0 2l3-1zM454 364l2 0l2-3l-4 0zM164 361l-1 7l2 3l4-1l0-6l-3-3zM134 361l-5 3l6 0zM54 360l1 7l3 1l0-4zM147 359l-5 1l-3 6l3 1l4-4zM287 357l-3 0l-2 2l2 4zM84 357l0 3l3 0l1-2zM194 361l6-3l-2-2l-3 0zM9 356l-2 0l0 6l3-2zM3 355l-3 0l0 3zM496 353l0 4l2 3l2-1l-1-6zM222 353l-2 8l3 3l5-6l-4-1zM286 351l0 2l3 1l0-3zM502 348l4 3l3 5l2 0l-2-6zM358 348l-1 4l3 0zM351 348l-1 6l4 0zM484 347l0 7l-5 4l-1 3l1 2l-3 9l2 1l9-10l-2-6l2-5zM466 347l-2 0l2 5l-2 2l2 2l-3 2l0 5l4 5l4 2l-4 3l-3-3l-4 8l3-3l8-1l1-3l-2-2l5-2l-1-7l-8-5l4-3zM102 347l3 6l-1 3l5 0l-3-6zM473 343l1 3l5-1l0-2l-2-1zM213 340l-3 0l0 4l3-2zM198 339l-2 4l3-2zM76 339l-2 0l1 8l-5 5l-6-2l2 8l5 7l0 3l1-3l4-3l-5-3l3-7l5 0l3-6l5 4l4-1l-3-2l0-3l-4 0zM297 337l-1 3l5 5l0 3l4 3l1-8l-6-6zM160 337l-4 2l2 4l4-2zM67 337l-1 3l1 2l2 0l1-3zM42 338l-2-1l-1 4zM353 336l3 3l2 0l-2-4zM284 335l-3 0l-3 3l0 3l2 0l4-4zM30 334l-2 2l4 4l0-4zM5 336l5 1l-3-4zM543 331l-5 1l1 4l4 0zM477 331l-2 1l1 3l3-2zM445 331l-9 8l-8 13l-3 2l-4 0l0 4l-5-4l-3 0l0 3l5 4l6-1l0-2l11-1l6 5l-1 3l3 3l3-2l5 5l-9 7l-5 0l-1-1l2-1l-2 0l0 19l3 1l4-3l3 0l3 3l4-2l2 3l4 1l4-11l-9-7l-1-11l-4-4l-3 1l-6-6l5-8l10-2l1-2l5-2l1-4l-8-2l-5-7zM446 387l3-1l3 6l-5 0zM130 329l1 6l-2 3l6 2l1-2l-2-5l2-4zM141 327l0 2l7 1l-4-3zM371 336l4-1l5 2l1-4l7 0l2 2l0 8l2 1l4-2l4-7l6-6l-1-2l-10 0l-4 3l-12 2l-1-2l2-3l-2-1l-5 2zM314 325l-1 2l1 2l2 0l1-3zM149 322l0 4l5-2l-2-2zM296 321l0 2l2 1l1-2zM197 320l-5 0l-2 6l4-1zM103 320l1 3l4 2l3-1l-4-5zM167 318l-1 2l3 1l0-2zM246 320l5 0l1-2l-4-1zM43 316l0 2l6 0zM5 316l-5 2l0 3l4 1zM378 315l-2-1l-2 2l-4 0l-1 3l4-2l5 0zM272 314l-1 2l3 3l2 0l1-2zM263 314l-1 2l-4 1l6 5l-2-4zM513 314l-2 0l0 11l-2 2l-2-1l0-3l-2 0l-3 3l-4-3l3-5l-4-4l2 5l-3 2l-4 0l-4 6l-4 1l0 2l3 2l0 3l2 0l-2-4l2-3l3 3l5-4l4 1l3 3l9-1l3-5l0-4l-4-4zM290 314l1 1l3-2l-3-1zM434 310l0 2l4 0zM114 310l-1 4l3 0l1-2l-1-2zM93 309l-3 1l1 5zM367 309l-3-1l-2 3l3 0zM8 308l1 3l4 1l4 4l0 5l5-3l-1-4l-3 0l-1-2l-3 0l-3-4zM67 307l-3 2l1 3l3-1zM472 310l-4-4l-6 3l-1 2l4-2l6 3zM520 305l1 2l4 0l-1-3zM483 303l0 6l7-1zM46 304l4 2l3-1l0-2zM133 304l-2-2l-3 1l-4 8l9-4zM70 302l0 6l3 1l1-2zM4 296l-4 0l0 6l5-3zM96 295l0 2l2 1l1-2zM288 295l-4 0l-1 2l2 1zM183 294l-2 5l4 1l2-4zM126 293l-6 2l-1 2zM492 291l-2 6l3 0zM113 293l-1-2l-2 0l-3 3zM499 290l-1 2l2 7l2 0l1-8zM135 289l-2 0l-1 2l2 1zM260 288l1 4l3 1l0-2zM541 287l-4 5l1 5l-2 5l4-2l-2-4l6-3l0-3zM236 286l1 3l3 0l0-2zM461 282l1 2l3 0l-1-2zM153 281l-4 3l-3 0l0 3l2 0l1-3zM51 282l0 2l6 0l-1-3zM554 280l-1 2l4 4l0-5zM207 279l0 2l4 2l3-2l-1-2zM71 280l0 2l6 5l5-3l7-1l-1-4l-6 2l-4-2zM166 276l-1 4l-4 4l3 2l6 0l4 4l2-3l-8-5l0-5zM75 273l-5 2l5 1zM307 272l-3 0l-2 3l4 0zM217 272l0 5l4 2l2-4zM129 273l-6-1l-10 4l0 2l6 0l5-3l4 1zM178 271l-2 1l-2 7l3-1l2-5zM531 270l-2 2l3 4l-3 3l4-2zM202 268l-4 1l-2 3l2 2l5-4zM186 267l-3 2l1 2l2-1zM307 267l4 3l2-1l-2-3zM214 266l-2 0l-2 4l2 0zM376 264l-1 2l2 1l1-2zM523 262l-1 2l2 2l1-2zM427 261l0 3l2 0l1-2zM512 261l-4-1l-1 5l4-1zM297 256l-3 0l-4 4l-2 0l7 0l2-1zM263 255l2 4l5 0l-2-3zM131 258l0 2l2 0l4-4l6 4l-6-6zM107 253l-4 0l-1 5l-4 0l-1 4l-6 2l0 6l5 7l6-3l-2-5l4-2l1-5l4 3l3-3l-1-4l-2 0l-2 3l-3-1l-1-3zM554 249l1 7l2 0l0-7zM278 247l-4 0l-1 3l2 1zM249 246l-3 1l1 4l3-3zM526 247l-5-2l-7 2l-2 2l3 1l3-3l2 3l5 0zM291 244l-4 4l0 2l2 0l3-3zM219 242l-2 0l-1 3l2 0zM557 241l-3 2l-4 0l7 1zM170 239l-4 2l1 3l4-2zM141 239l-3 2l0 2l3 0zM93 236l-2 8l4 1l1-3zM50 237l1 2l3 0l2 2l2-1l0-2l-4 0l-3-2zM301 233l-2 3l3 1zM39 231l-3 1l1 6l2-2zM107 226l-1 4l2 1l1-4zM188 223l-4 2l-6 0l0 19l5-2l4-6zM73 223l-3 4l4 2l1-3zM250 222l-2 5l4 2l2-3l-2-4zM225 220l-4 2l3 3l0 3l2-5zM90 221l5 1l-1-2zM378 218l-4 2l1 4l4-4zM353 219l-4-1l-3 4l5 0zM214 219l-3 0l-2-2l-2 7l6-2zM127 217l0 3l3 0l2 4l4-1l-1-3l-4 1l-1-4zM62 222l-7-6l3 4l-2 2l-4 0l-2 4l2 1l4-3l4 1l2-1zM436 213l0 2l2 1l1-2zM307 213l-2 1l-1 7l4-4zM138 213l-1 3l4 2l1-1l-2-4zM175 212l-2 0l0 3l-2 2l2-2l3 0zM200 211l-2 0l-1 5l2 0zM537 208l-5 5l0 3l3 0l2-2zM96 207l3 3l0 5l5 2l0-7zM267 206l-2 8l5 6l-2 4l1 2l3-3l0-4l-4-6zM192 204l-7 1l-3 3l2 4l4 0l1-4l4-2zM208 198l1 2l3-1zM519 197l0 2l5 2l0 5l3 4l0-6l-3-3l-1-4zM224 197l3 3l2 0l-1-2zM42 196l-1 3l2 1l1-3zM38 194l-2-1l-3 2zM254 192l-2-1l-4 3zM557 189l-4 2l-3 4l1 7l-4 2l0 2l4 4l0 10l4 5l-4-6l2-16l-2-1l0-6l3-3l3 1zM267 186l-1 6l5 6l-3 4l4 1l-1-9l-3-3zM452 184l-1 7l2 1zM377 182l1 3l3 0l-2-3zM274 184l3 1l3-2l-5-1zM516 181l-1 1l3 3l0-3zM96 182l-1-1l-8 4l9 0zM523 182l1 2l4-3l-4-1zM199 180l-1 2l4 2l1-3zM44 177l-5 2l1 5l7-2l-2-1zM345 177l3 5l0-6zM169 176l-2 3l3 1l1-3zM67 175l-1 1l2 4l-4 3l6 1l4 3l0-3l-6-3l2-5zM527 173l-1 3l3 2l1-3zM182 172l1 2l-2 4l2 0l1-2zM294 170l-1 2l2 1l1-2zM156 169l-2 4l3 4l1-6zM304 168l-2 4l9 12l-3 17l3 6l8 7l-2 4l-6 5l0 4l10 13l2 8l-2 6l-6 5l10 16l2 7l-4 4l-1 4l3 4l-4 5l-2-3l3 4l-3 10l1 7l-4 0l-3 3l-8 1l6 1l2-2l8 0l0 5l-3 5l0 3l-3 2l2 2l0 8l2 4l-1 5l3 19l-5 6l-6 3l0 7l-2 6l-4 6l-7 6l0 3l5 3l7-3l7 3l0 2l-5 6l-7 4l-5 0l-8 9l0 7l2 4l5 1l0 3l3 3l2 0l-2 5l5 3l2 7l2-1l4 2l5 0l4 3l5 9l4 3l8-1l5 1l5 4l7 1l8-6l5 1l3 6l-1 1l6 9l11-3l6 1l4 4l0 4l-2 3l8-6l12 0l8-3l4 3l1 3l4-3l12-1l4 1l9 10l6 2l20 2l7-7l15 2l4-1l2 2l4 0l7-7l7-2l2 1l1-2l-2-6l10-12l5-15l5-7l5-4l0-6l-7 2l-4-2l-1 1l-1-2l-4 0l-8 11l-8 3l-6 5l-6 11l-5-2l-1 2l3 1l-4 3l-13 3l-13 9l-8 2l-4-5l-2 2l-3-4l-2 1l-1-2l-12-2l-5-4l-6 0l-7 5l-6 0l-6-3l-5 1l-4-3l-6-13l3-4l-2 0l-3 3l-11-6l-10-1l-16 5l-4-4l5-3l-3-3l-2 5l-12-16l-9-5l-3 0l-6-9l-5-2l-1 1l-4-4l4-9l5-4l4 0l3-8l4 0l-3-4l-2 0l-6-5l0-7l-2-5l5-4l-1-16l2-3l8-3l4-8l-1-5l3-1l-2-10l-5-6l0-2l8-11l2-16l-2-3l1-2l-2-5l-8-11l-1-5l2-2l9 0l2-4l-3-9l-8-3l-2-4l10-11l2-7l-4-6l-9-2l-4-3l0-5l2-2l1-5l-2-7l5-3l1-4l-3-2l-1-7l-5-8l0-3l6-2l-5-1l-3-4l-21 2zM306 443l3 4l0 9l-2 2l-2-2l2-4l-4-6zM546 162l-2 3l1 2zM495 161l-1 3l2 2l3 0l0-4zM274 161l1 3l5 4l7-5l-1-2l-6 2l-3-3zM262 160l1 7l3 0l1-2zM156 159l0 3l5 1l2 5l5-4l-1-6l-2 0l-3 3zM485 154l-3 0l-3 3l4 1zM231 155l0 3l3-2l2 0l2 3l1-1l-4-4zM323 153l-3 0l-1 2l2 1zM308 150l-8 5l2 2l3-1zM274 150l-2-1l-1 3zM101 150l1 2l3 0l-1-3zM490 148l0 3l3 0l-1-3zM336 147l4 5l0-3zM283 146l-1 1l3 3zM229 143l-1 3l3 1l1-4zM545 142l-3 3l2 8l2-1zM102 141l-5 0l-3 6zM304 140l-4 4l2 0zM121 141l7 1l0-2l-4 0l-2-2zM452 137l-6 2l3 2zM291 138l4 1l0-2zM226 138l-13 0l-3 2l0 2l3 1l6-3l5 2l2-1zM164 136l-1 2l3 6l4-3l0-3zM423 135l-6 3l4 7l4-4zM471 134l0 5l2 0l1-4zM407 134l-1 12l2 1l2-2l0-9zM90 134l0 2l2 1l1-3zM457 134l1 2l4 0l0-2l-2-1zM354 133l-3 2l-3 6l0 7l4 6l6-3l0-7l-2-2l1-7zM234 133l-2 2l0 6l3 0l3 4l2 0l1-3l-4-3l1-5zM5 132l-3 2l3 1zM325 131l-1 2l3 1l1-2zM342 127l-2 3l1 2l3-1zM378 127l-2-1l-1 3l2 0zM78 125l0 6l3 2l3-1l1-3zM252 125l4 1l0-2zM220 124l1 6l3-4zM321 122l-2 0l-3 4l-4 0l0 2l4 2l5-4zM8 120l-1 1l3 4l1-4zM278 119l-3 0l-2 2l3 3l2-2zM493 118l-2 1l1 2l2-1zM405 118l-1 4l4 1l-1-5zM421 119l-3-3l-5 4zM167 115l-2 4l2 0zM214 114l1 4l3 1l0-4zM451 110l-1 2l3 1zM251 110l3 4l2-2zM189 110l0 2l3 1l0-2zM513 107l-4 1l0 2l2 1zM146 108l-2-1l-2 4zM475 106l-1 3l3 4zM344 106l-4 3l1 3l3-1zM85 105l0 2l2 1l1-3zM389 101l0 3l3 0zM163 99l-1 4l2 0zM249 98l0 3l2 1l1-4zM362 97l-6 0l1 2l-2 3l0 6l3-1l0-5zM401 93l-2 2l-3 0l-1 3l6 0zM129 95l6 1l0-3l-3-1zM118 93l-3-1l-7 5l5 2zM377 90l-2 4l4 1l1-3zM475 85l-7 1l0 2zM461 68l2 3l2 0zM339 66l-2 2l1 2l2-2zM322 45l-2 7l3 1l3-2l0-2zM141 46l2 3l4 0l0-3l-2-2zM483 37l-1 2l3 1l0-2zM141 34l-1 4l3-1zM518 32l2 5l0-3zM524 27l-3 2l1 3l3-1zM100 27l0 6l3 1l0-5zM513 22l-2-2l-1 3zM454 7l2 2l2-2zM530 0l0 6l4 7l0 3l-4 7l0 8l-2 4l12 17l-3 7l4 8l0 5l-4 7l5 6l3 7l0 3l-6 10l3 6l2 1l1 9l5 16l0 8l-2 3l2 24l-4 5l0 5l4 2l7-1l0-4l-3-3l1-4l-2-5l0-5l4-11l0-12l-4-4l0-5l4-4l0-6l-5-6l0-9l2-3l0-5l-3-7l0-4l2 0l0-2l4-2l0-57l-4-2l1-3l-4-3l5-7l-1-10zM409 0l-3 2l0 2l3-1zM376 0l3 7l7 0l3 2l2-1l-8-8zM0 290l2-1l4 6l10 4l4 5l7 1l2-9l-2-1l-3-10l3-7l0-12l-6-6l-2-4l0-6l3-3l0-9l5-5l5-2l-3-4l1-1l-2-1l0-4l6-6l3-8l-2-2l-1-6l-4 0l-3-2l0-4l2 0l1-3l1 1l-1-6l2-3l0-6l6-7l12-7l-1-5l3-3l5 2l8-8l3-1l8 2l-1-1l2-2l-3-7l1-6l-4-5l0-4l7-9l0-3l-5 0l-1-2l-7-1l-1-5l-6-7l21-18l4-2l2 2l2-1l-1-1l5-5l0-2l-2-3l1-5l-4-11l6-7l12-1l-2-5l-6-5l-8-2l-7-8l-2-9l5-7l6-4l2 2l-7 6l0 2l3 1l3-3l1-6l11 1l3 3l4 10l6 3l6 0l8-4l2 2l-2 2l1 3l2 0l0-2l2-1l1 2l5 2l4 5l3 1l3 6l5 5l-4 6l-5 3l-5 6l-4 1l-2 3l-4 0l-2-2l3-1l0-5l-9 0l-2 3l0 5l4 10l-13 9l-5 1l-4-3l1 4l16-4l4 0l2 2l0-3l6-1l5-4l5 3l1 3l3 2l0 4l-2 1l1 4l2 0l4-5l5-1l1 2l3 0l5 4l0 2l3 3l-1 1l11-6l4 0l11 5l14 1l2 3l0 4l-2 2l6 2l10-3l7-6l13-1l8-6l20 2l6-3l5 0l0 7l4 3l3 0l4-4l9 6l11-2l7-5l7 0l-2-3l-10-2l-5-10l-11-3l-5-5l1-2l7 5l11-1l-4-16l5-11l0-13l-6-6l-2-16l-3-5l0-7l-304 0l0 121l10-8l5 2l4-1l1-5l5-7l6 0l5 4l-6 4l0 3l2 3l2 0l0 6l-6 7l-6 1l-6 11l-5 4l0 17l-4 3l0 2l2 1l0 6l7 8l-2 5l0 6l3 7l-2 2l-4 0l4 1l1 2l-6 6l-10 2l0 66l3 1l-3 5zM287 92l2-1l4 5l-2 1zM173 74l3-4l2 2l1-1l6 3l-4 2zM293 67l2 2l-4 1l-1 9l-5 3l-4-1l0-2l3 0l4-3l1-8zM172 69l-2 4l-3 0l-4-3l-4 0l-6 4l-7 0l-5-3l3-2l6 1l10-9l2 3l3-2z" fill="#f1eef2" fill-rule="evenodd"/>
</g>
<rect width="150" height="60" fill="url(#hebl)"/>
<g transform="scale(.5)" stroke-linecap="round" fill="none">
<path d="M184 25l1 0m-6 22l2 2m0-16l1 1m7 8l3 2m6-8l1 2m84 7l0 1m-62 17l-1 2m-18-6l-1 2m-13-5l-1 3m-12-3l4 2m-135 20l4 1m17 0l3 2m116-12l1 2m11 4l-2 1m37-6l-3 1m36 9l-1 4m-258 14l2 2m16 3l1 0m24-7l2-1m-49 18l-1-2" stroke="#b88abf" stroke-width="8.8"/>
<path d="M385-2l1 0m-69 1l-1 3m-5 12l-1-1m11-11l1 1m55 7l1-1m40 1l-2 4m53-11l-1 1m30-1l1-2m58 23l-1 0m-31 0l1 0m-107-4l0 2m-92 1l-2 1m-217 3l-1 2m-26-11l-2 1m36 21l1 2m234 1l-1 2m30-4l2 1m92-8l-4 1m-12 15l-2 2m-31 2l0 2m-48-2l1 0m-285 22l0 1m4-10l0 1m7 10l1 3m291-10l2 1m103-7l2 3m2 16l0 2m-359 1l-1 4m-4-8l1 2m-41 4l2 2m-21 4l-2 2m-51 11l3 2m149-3l-2 1m8 3l-3 0m10-6l-1 1m41 3l-2 0m31-3l-1-4m24-1l3-2m21 4l-3 2m38-5l2 1m5 8l1 1m1-10l3 1m39 7l1 1m7-4l-1 2m100-4l0 3m57-6l4 2m-54 21l3 0m-19-9l0 3m-57 5l1 3m-14-5l0 1m-47 2l0 2m-19-2l0 2m-45-12l-2-3m-87 13l3 1m-40 2l-1 0m-20-3l-2-1m-17 1l0 1m-20-11l2 3m-122 13l1-2m72 9l4 2m5-8l-1 0m24-1l-1 0m41 0l-2 2m9 1l-1 3m21-1l-1-2m2 10l-1-3m8 1l-2-1m18-2l2 1m52-2l-3 0m27-3l0 1m24-5l-1-1m5 15l1 3m22-2l2 0m100-11l-3 1m8 8l-2 0m33-9l0 1m40-4l4-1m11 3l2-4m22 30l-1 1m-22-5l1 1m-16-1l1 2m-13-2l1 3m-7-1l2 3m-3 0l0 2m-30-16l-2 3m-14-3l-3 1m-45-1l-1 1m-13 3l-4 1m-34 1l1-4m-24-1l1 0m-48 14l2-1m-9-7l1 0m-13-6l-1 4m-64 6l0 1m-5 2l0 3m-34-17l1 2m-27 8l-1 2m-53-7l2 2m-66-1l2 2m-15 7l1 0m56 14l-3 3m29-2l1-1m10 1l1 0m10-3l-1 2m20-12l0 1m55-2l-3 1m15 8l2 2m27-7l0-1m39 8l0 1m16 1l3 0m42-2l4 2m120-14l-4 1m24 12l2 1m25-11l1 2m7 10l1 0m42-6l-3-2m1 21l-4-1m-25-11l4-1m-65 4l0 1m-22 7l-1 2m-37-10l1 1m-27-3l1-1m-147 9l1-2m-50 3l2 0m-29 2l-1 2m-9-5l-3-1m-58 7l2-1m-19 15l-2-3m84 3l1 1m32-3l4 0m56 2l3-2m5-10l1-4m4 12l0-2m53 8l1 0m124-7l-1 2m15-2l0 3m95-10l-2 4m24 7l-1 0m8 15l-2-1m-101-4l4-1m-164 2l2 0m-17 6l1 0m-25 0l3-1m-34-10l1 1m-29 3l2 0m-8 3l2 0m-39-5l1 1m-119 24l2 0m24-10l3-2m9 2l1 1m16-3l2 2m14 8l-3 2m16-12l3 2m33 0l2 2m10 6l2-1m0-9l1 2m49 4l3-2m21 3l2 2m28-1l2 1m105 3l2 0m133-2l-2 1m18 5l0 2m-155 1l1 2m-69-4l-1 3m-33 4l1-1m-14 1l2-2m-91 7l3-1m-14-8l0-2m-25 5l2-2m-64-4l1 2m-8 3l1 0m-33 9l1 0m5 5l3 0m2-5l2 1m28 12l2-1m0-12l1 0m14 1l-1 0m77 4l1 1m26 5l-1 1m9-3l-3 2m17-2l1 3m29-8l4 1m31-2l3 2m6 4l-3 1m79 0l1 2m90 2l3-2m22-12l2 0m22 29l-1 1m-99-1l1 0m-83-10l-1 4m-16-2l-1 3m-14-4l-2 0m-72 2l1 3m-56-7l2-1m-14 4l2 4m-117-1l-1 2m16 17l0 1m17-9l0 1m35 5l1-2m18-5l2 4m1-2l-1 2m20 9l1 2m1-11l2 1m-2-6l0 1m7 1l-1 4m54-6l1 4m3 5l-3 3m9-2l-2 3m17-9l2 2m62-3l-2 2m7-2l0 1m59 1l-1 2m50-5l0 2m92-5l1 0m23 8l2 1m34 14l-2 0m-19 5l-1 0m-9 0l0 2m-46-4l1 1m-81-7l1 2m-11 4l0 2m-76-12l3-2m-38 15l-1 2m-15-11l1 2m-10 6l1 3m-33-4l-2 0m-60-7l0 4m-52 0l1-4m-9 6l1-3m-16 6l0-3m-1-4l2-3m-20 12l1 0m-26-5l1 0m-43 11l1 0m10 1l2 1m8 7l3 1m48-8l2-3m45 4l-1-3m44 0l1-3m7 11l1-1m50-2l-1 3m19-4l0 2m21-8l2 2m93 1l3 0m18-4l-2 2m27 2l2 0m27-5l3 1m79 13l4-2m43-4l1-2m-27 20l0 1m-26-4l1 3m-8-9l0 1m-4 11l-1 0m-11-5l-3 0m-22 5l0 4m-33-17l2 1m-23 13l0 2m-33-12l0 1m-11-5l3 0m-9 9l2 1m-66-10l-1 2m-14 13l-1 3m-41-15l0 1m-49-1l3 1m-90 9l1-1m-37 1l-1 1m-10-9l4 1m2 14l0 3m16 0l-3 2m26-7l3 1m-1 10l2 1m21-13l1 1m42 0l1 1m17 5l1 2m8-6l2 2m14-3l0 2m32 9l1 2m-1-10l2 3m40-7l0 1m9 4l-2 3m9 4l0 2m85-11l0 1m111-2l-1 1m33-4l2 3m17 8l1-2m-29 7l-4 2m-13-4l1-2m-19 13l-3 1m-3-10l-1 1m-20 6l-1 2m-6-9l0 1m-37 12l-1 0m-45-9l1 2m-60 5l-2 1m-12-5l1 2m-42 3l-3-1m-38 2l-1 2m-4-12l0 2m-5 7l1 2m-20-7l-2 3m-14-10l-1 1m-89 4l0 1m-36 4l1-1m-22 20l4 1m5-2l2-1m28-1l1-1m13-6l4-1m4 8l1 1m9-2l1 3m3-12l-1 4m90 1l0 4m18-2l1 2m-1 4l-2 2m53-14l-2 1m42 9l-2 0m7-10l-3 3m60 1l1 0m21 6l0 3m31-9l1 1m12 8l-2 4m68-16l-1 0m24-3l-2 0m-1 23l1-1m-7 0l2-1m-38 8l-1 3m-14-7l1-1m-45-5l-3-2m-18 1l1 2m-10 3l3-1m-19-1l2 0m-21 10l-3 3m-65-7l0 1m-51 2l2 0m-67-8l2 2m-16-3l1 1m-32-4l0 3m-18 0l4 1m-12 2l2-1m-26 4l1-1m-50 12l3 2m13 5l2-1m5-11l3 0m85 1l-1 1m59 9l0 1m10-5l-4-1m8-4l-4 1m44-2l1 1m20 1l3-1m11 5l1 4m41-9l-1 1m34 9l-1 1m10-1l0 3m35-10l4 2m17-8l-1-2m28 13l-1 4m34-2l1 1m38-4l2-3m42 1l-2 1m-40 21l1 1m-17-7l3 1m-42-2l0 1m-215 3l0-1m-26-10l0 1m-12 11l0 3m-16-2l-1 3m-4-2l2 1m-24-6l2 3m-16-2l-1 3m-17-4l0 1m-45-4l2 0m-4 7l0 1m-5-14l3 3m-50 1l1 0m-21 15l1-1m29 9l-2 4m21-2l-2 0m20-2l-1 0m43-6l2-1m52-3l0 1m68-1l3 2m28-3l-3 2m8 7l0 2m23-2l-3-1m11 4l-1 1m47-13l-3 0m73 3l2 1m112-4l0 3m-35 18l2-1m-8 10l3 3m-36-9l0-1m-12-5l3-1m-25 8l3-3m-209-4l2 3m-13 6l4 2m-12-7l0 1m-60-3l0-4m-6 14l2 1m-31-10l3 2m-18 5l0 3m-13-13l-1 0m-10 12l-2-1m-11-10l-4 0m-33 8l1 4m47 14l0 1m101 0l-1 2m20-16l-1 1m75 0l1 4m25-3l1 1m16 10l1-2m13-6l1 4m37-1l-1 1m114-8l1 0m73 7l2 3m-49 19l2 1m-127-2l-1 1m-170-1l-1 1m-29 0l-1 2m-11-5l1 1m-6-9l2 3m-23 4l0 1m-11-11l-3 1m-9 9l-3 1m-36-9l-1 1m-29 2l-1 3m-12 3l-2 4m85 10l-1 1m11-10l1 3m24 4l3 2m33-9l-3 2m280 0l-1 1m-268 26l3 3m-34-5l4 1m-23-13l0 2m-3 13l-3 2m-10-3l-3 2m-1-10l-1 1m-26 9l-2 2m-18-11l2 2m-10 0l-2 3m-40 20l3-1m11-9l1 4m6-10l-1 2m9 4l-1 2m46 0l-1 0m12-4l-2 1m13 6l-1 1m58-4l4 0m-44 13l-1 0m-1 4l-1 0m-2-3l-1 1m-18-1l-1 4m-11-1l1 3m-13-11l1 0m-6 5l3-2m-18-3l3 1m-59 0l1 2" stroke="#6e4d9a" stroke-width="8.2"/>
<path d="M353 507l0 1m-134 11l0 3m106-2l1 1m18 2l2 4m174-1l-4 2m-13 9l3 1m-10 4l1-3m-131-8l-2-1m-12-2l-2 0m-11 7l-2 2m-15-5l-2 2m-42 4l1 1m-23 21l3-1m66 1l-2 1m17-7l-3 1m205 11l1 1m-17 6l4 0m-14-3l1-1m-18 2l-1-3m-19 0l1 0m-63-4l0 1m-20 0l0 2m-82 8l-1 2m-18-15l3 2m-10 2l4 0m-47 0l4 2m-18 7l-2 2" stroke="#b79ac6" stroke-width="8.0"/>
<path d="M555-2l-3 0m-128-3l-2 3m-331 18l-2 4m14-12l-1-1m255-3l3-2m-2 6l0-2m36 3l2 0m33-1l0 4m21-8l1 3m29-6l1 1m26 16l2 1m-10 13l4 2m-74-7l2 3m-325-8l-4 2m-3 7l-3 0m14 9l-1-2m232-3l-1 3m96 0l-1 3m89 12l1 0m-13 4l2-2m-174 2l0 2m-202-7l2 0m-23 5l2 2m-10-4l-1 1m-4 2l0 1m-6 18l0 3m33 0l4 2m33-10l3 2m147 5l0 1m31-12l-2 3m89-2l4 1m119 14l0 3m-81 7l1 1m-55-5l3 3m-57 0l2 1m-51-4l2 1m-47 4l-1-1m-91 2l-1 0m-75 0l0 4m-16-8l0 1m22 16l-3 2m16-10l0 1m19-4l-2 3m7 7l-2 2m18-5l-2-1m36-3l-1 1m51 3l-1-2m69 1l-3 2m60-1l3 0m26 5l0 4m27-3l2 1m107-12l2 1m-2 14l2 0m-3 9l2-2m-7 5l1 0m-8-11l1 1m-57 7l-2 2m-21-8l0 4m-3-8l0 1m-48 5l1 2m-26-5l2 4m-6 3l0 1m-9-9l1 4m-53 5l-2-3m-3-9l-1-3m-29 17l-1 0m-16-12l-1-2m-9 10l-1 0m-32 3l2 2m-37-8l-2 1m-26 6l-4 2m-12-8l0 1m-17-2l-1 4m-25-4l-1-1m-75 21l3 3m155-8l-2-4m63 1l3 0m6-3l0 1m6 12l3 3m17-8l-2 0m16 4l1 2m32-6l-1 1m50 2l-1 4m5-7l0 1m42-7l1 2m28-1l-4 1m44-3l-1 3m15-2l1 1m11 2l2-2m24 11l2-1m-1 8l2 1m-54-5l0 3m-38 1l-4 2m-19 1l0 1m-26-5l-2 3m-37 3l2 2m-61-11l-2 4m-75 7l2-1m-13 1l-1-4m-22 0l0 3m-39-6l1 1m-30 3l0 1m-52-4l2 1m-65-7l3-2m39 28l-3 3m16-6l1 1m3 3l1 3m34-12l1 3m6-6l1 1m25 2l0 2m9 3l0 2m57 0l2 0m23 4l1 0m11 0l2 0m4 2l-1 2m23-16l2 0m31 12l2 3m34-13l3-2m13 9l3 0m197 15l-1-3m-3 8l-2-2m-33-8l2 0m-4-5l1-1m-20 16l3 2m-109-14l3-1m-76 3l1 1m-13 3l-1 1m-6 1l1 1m-6-12l1 4m-12 5l1 0m-8 7l4-1m-10-6l2 2m-59-1l2-4m-48 10l3 2m-5-13l2 4m-4-9l1 2m-33 4l-1 0m-57 0l2-2m-18 7l1 1m-39-4l-1 1m-2 0l2 2m-11 13l3 3m16-8l1 2m42 3l0-2m14 3l2-2m1-2l1 0m31 9l-2 4m20-15l-3 0m27-3l0 2m31 4l0-1m0 10l3 0m85-4l4 1m16-9l2 0m78 3l2-2m8 8l0-2m76-5l2-1m78 7l-2 1m28 0l0-2m-26 20l-3-1m-13-5l0 1m-14 2l0 1m-40 2l0 1m-182-12l2 0m-33 7l1 0m-21-6l4-1m-64 2l0 4m-37-3l1-1m-9-3l0 1m-28 6l-1 1m-65 6l3-1m35 15l-1 1m23-7l-2 3m26 0l3 1m10-2l-3-2m47 5l2 0m23 3l1-1m0-14l1-1m10 3l1 0m43 8l0 1m44-11l2 1m-1 7l1 1m7-10l1 0m6 9l0 1m95-2l2 1m11-2l-1 3m18-3l1-2m17 7l4 0m30 0l-3 1m35 1l-2 0m28 2l-3 1m12-16l-4 1m-11 19l-1 2m-34 5l-1 1m-44-7l2 2m-165 1l-1 3m-48 3l2-1m-13-7l1 1m-31 7l0 1m-6-10l2 1m-43 6l2-1m-19-7l1-2m-3 9l0-3m-37-4l-4 0m-8 2l-3-1m-5-2l0 1m-28 9l3 2m-15-9l1 0m-23-2l0 3m33 15l1 1m22-3l0 1m38 7l1 0m8-12l1 1m5 4l3 0m1 0l2 1m15 4l1 0m75-8l1 1m16 4l4 0m43-1l-2 2m29 3l-1 0m54-8l3 2m27 0l0-3m77 1l1 0m16 3l1 2m40-8l1 2m16 10l1 1m-20 3l2-1m-17 0l2 2m-7 8l0 1m-167-11l-1-3m-50 14l-2 3m-37 0l-2 3m-6-3l1 2m-25-4l4 1m-24 2l0 4m-18-4l-2 1m-2-8l0 2m-52-5l3 1m-10 10l1 1m-23-7l2 1m-64-9l3 2m-10 8l-2 3m-3 15l-1 3m3-6l0 2m8-8l-2 1m12-4l1 1m22 11l1 1m2-4l1 2m13-8l1-1m4 12l3 2m18-4l1 2m33-1l-1 2m11-6l-1 3m34-7l-1 1m63 1l2 2m10-9l-1 2m14 8l-3 0m39-3l0-3m61 0l-1 1m78-4l1 4m16 8l0 3m3-8l2 3m38-3l3 1m15 7l1 2m-40 3l2 1m-4 5l3 1m-194-1l1 1m-14-10l0 1m-44-5l0 1m-7 2l-3 3m-34-5l-4 1m-1 8l-2 1m-18-7l-1 2m-5 4l2 2m-19-2l1 1m-32-2l3 1m-67-7l2 1m-33 8l2 1m0 6l2-2m5 7l2 0m0 8l2 2m5-9l2 0m9 1l1-1m40 0l1-1m15 6l1-2m20-6l0-1m7-5l2-4m15 7l2-1m38 4l1 2m12-4l-1 1m58 4l3 2m15-7l-1 1m9 2l0 1m16 8l-4 1m58-10l0 4m88-5l1 1m23 6l1 2m27-4l3 3m36-10l0-2m10 19l0 1m-24 0l0 3m-63-5l-2 3m-4-6l3 0m-36 15l0 2m-46-6l-2 3m-12-3l1 1m-80-4l0 1m-25-5l1 3m-2 5l0 1m-6-9l1 1m-6 6l1 3m-28-15l0 1m-12 12l-1 4m-2-16l-3 3m-24 4l4 1m-18 3l1 0m-26 1l3 1m-24-10l2-2m-62 2l3-2m-45 11l1 3m-11 13l2 0m67 3l0 2m30-2l1 3m3-16l3 2m-1 9l-1 1m67-1l-2 3m36-13l1 1m40-3l1 3m53 9l1 3m7-12l0 1m45-1l2 2m7-6l1 0m9 13l0 1m19-6l-4 1m17 3l-4 0m99 2l-4 0m46 5l1 1m-13 2l1 0m-11 3l0 2m-12-4l-2 0m-26-7l-4-1m-44 4l-2 3m-22 2l-3 1m-12-10l-1 2m-19 10l0 1m-9-3l0 2m-25-8l1 1m-4 5l2 1m-6 0l1 0m-71 3l-2 0m-52-1l2 3m-33-15l-2 3m-27 8l0 2m-5-5l-3 3m-25-6l-1 0m-9 0l0 1m-10 3l-2 1m-10-2l0 2m-26-1l3 3m-10-9l1 2m-23-3l1 2m-10 1l2 1m92 18l-2 1m12-7l-1 2m14 5l1 4m6-13l-1 2m42-1l1 4m41 4l3 3m1 0l0 4m26-16l-1 0m17 13l-2 1m51 1l0 1m80-13l-3 0m22 2l-3 0m7 4l-3-2m4-2l-2 1m34 0l0 1m2 4l-2 2m32 0l2 1m59-10l1 4m-102 13l-1 1m-2-6l-2-1m-14 12l0-1m-12 0l0-2m-39-2l0 1m-41 5l1 4m-2-15l3 0m-83-1l0 1m-7 7l1 3m-12-6l1 2m-13 2l2 1m-10 2l2 0m-33 0l-4-1m-1-3l-1 0m-8 6l-3 2m-5-12l0 3m-14-6l1 1m-28 0l-1 2m-22 5l1 4m-45-7l2 0m-35 2l2-4m-15 17l2 0m18 5l3-2m7 6l2 0m40-12l3 3m45 0l0 2m22 8l3 3m46-15l-1 4m40 5l2 0m3-1l2-1m78-2l-1 2m16-4l4-2m11 8l1-3m78 0l-1 1m39 0l1 1m20-7l2-3m9-1l3-3m24 5l-1 4m8-3l-2 3m-4 25l-1 2m-42-12l3 0m-37 1l0 1m-85-5l1 0m-47 7l-2 1m-102-6l1 0m-11 0l4 0m-25-3l-2 1m-17 1l-1 1m-9 4l-1 4m-29-9l-2 3m-22-6l1 1m-8 5l2 1m-25-6l1 1m-20 2l4 2m-9-6l2 1m-57 9l3 0m-6 5l1-1m23 9l0 1m39 1l-4-2m12-7l0 1m16 3l1 4m6 0l0 1m4-4l2 3m88 0l0 1m14 5l1 1m58-14l-1 1m95 8l-2 2m8-11l2 4m7-3l2 1m39 5l1 1m0-5l-1 4m20-7l2 0m42 4l4 2m9 0l1-2m7 1l2 4m28-1l-2 4m-12 6l0 1m-57-5l1-3m-45 18l2 3m-10-4l4 2m-103-11l-3 2m-5-5l-2 4m-15 2l-1 1m-46-7l-1 1m-23 7l0 1m-25-1l-2 1m-41 4l2-2m-27-11l3-1m-46 12l-1 0m-26-4l0 2m7 12l-1 1m41-6l-1 4m54 3l2 0m24-8l1 4m9 3l-3 1m33 4l0 2m80-7l4-1m40 3l-2 0m31-4l-1 2m75-8l3 2m31 0l4 0m70 9l2 2m-77 5l1 4m-24 7l0 2m-15-3l1 4m-24-2l0 1m-39-12l1 2m-19 1l-1 2m-11-6l0 2m-25-2l1 0m-30 7l1-3m-30 1l1 0m-5-4l3-1m-18 5l1 2m-30-2l-2 2m-3 4l-2 2m-3-14l-2 3m-7-1l-1 0m-25 1l-1 3m-7-6l1 4m-24 5l0 1m-6-9l0 1m-23-2l0 2m-82 5l-2 2m-18 1l2 2m-4 11l2 1m7 6l3 2m67-8l1 1m50-5l1 1m344-1l3 0m-299 13l1 1m-14 8l3-1m-9-6l1 1m-55 6l-2 0m-87 3l1 2m-3-13l0 1m-16 0l3 2m-5 12l3-1m15 12l1 1m19-1l0 2m18-9l0 1m72 3l-2 3m30-9l1 0m6 4l2 0m20 11l0 3m-17 3l0 2m-61-2l0 2m-48 4l1-4m-25 2l0 1m-15-4l-2 3m117 3l-1 2" stroke="#593a88" stroke-width="7.4"/>
<path d="M242 14l3 0m16 0l-1 3m30-5l-3-1m16 8l-1-1m-30 10l0 1m-3-11l4 2m-15 5l2 4m-35-1l3 3m-26-7l3 1m37 12l2 0m71 8l-1 1m-15 5l1 1m-8-4l2 3m-20 2l2 2m-16-2l0 1m-29 4l-1 3m0-12l-3 1m-23-2l-2 2m-11 13l-1 3m-12 6l-2 4m45-3l0 3m30-9l0 1m38-3l-1 4m-16 12l-2 2m-34 2l-1 2m-178-7l0 3m-41 15l1 1m0 6l2 1m-5 6l0-2" stroke="#6a4a92" stroke-width="7.2"/>
<path d="M263 511l2 0m-28-3l-3 2m-8 14l1 1m81-10l3 1m132-3l2 1m55 3l-1 1m56 8l0 1m-62 10l3 1m-116 5l-1 1m-117-1l4 1m-60-12l-2 4m22 17l4 1m6 4l4-1m5-9l2-4m40 5l1 2m56 0l-2 1m56-3l0 1m10 7l-1 1m22-14l2 3m74 13l1-2m14 1l3 3m23-9l-1 0m-92 18l0 0m-59-8l-1 1m-20 4l-1 0m-24 4l2 3m-45-6l2 4m-87-9l-3 3m-18-5l0 1" stroke="#8f74ad" stroke-width="7.2"/>
<path d="M330 19l-2 3m-200 4l-1 3m199 26l2-2m-169 18l1 1m219 7l2-3m143-5l3 1m-3 17l1 1m-129 3l3 0m-239-3l-4 1m-57 8l0 1m68 8l-3-2m163-5l1 4m-1 4l-1 3m121-5l1 2m39-3l1 1m-396 7l-2 1m233 13l-1 2m27 1l-2 2m34-3l-3 0m129 17l1 0m-198 8l3 1m-9-4l0 2m-54 1l4 0m176 17l0 1m41 7l2-2m-128 11l3-2m-120-4l3 0m-32 23l3 3m44-7l3-2m57 3l1-1m154 6l4-2m-155 4l0-2m-220 8l-1 4m-13-1l0 1m161 8l1 0m23-1l0 1m-165 28l-1 0m195 1l-2 4m21 3l-1 0m125 9l2 0m-180 0l4-1m-27 13l3 2m-140-3l1 1m185 5l0 1m39 2l3-2m-31 13l-2 1m-49 13l0 3m-61-1l1 3m-160-15l3 3m128 25l2-2m92-7l2 3m168-2l1 0m5-3l2 0m39 7l2 2m79 14l0 3m-20 1l0 1m-49-4l-2 3m-89-13l-1 2m-72 10l-2 2m-114-16l2 3m-8 7l2 0m-190 4l0 2m132 6l-2 2m92 6l1 1m38-12l-1 2m196-3l0 3m78 11l2 3m-106 9l-2 2m-32-8l0 2m-30-9l1 3m-16 0l1 0m-80 5l-2 1m-133 4l0 1m-86-11l3 0m-56 2l2-1m38 25l3-3m85 1l-1 1m11-11l-1 0m137 7l-3 2m15-10l1 2m83 3l2 3m101-8l-1 1m5 12l0 2m58 8l0 1m-327-6l1 3m-79 5l1 2m-53 2l4 0m-18-14l1 0m47 23l4-1m40 4l1 1m83 4l4 1m32-14l-2 3m14 4l-2-1m251 11l0 2m-161 3l1 1m-126 1l1 1m-43 5l1 0m-159-9l0 4m-13-4l0 1m-23-5l2 1m117 23l2-1m302 10l4 0m-342 3l1 1m-32-5l-1-1m-40 18l2 3m82-4l1 3m33 8l3 1m47-13l-1 1m346 13l1 3m-142 10l-1 3m-11-11l-4 1m-260 20l1 3m66-13l-2 3m-32 20l2 3m-55-5l-3 1m-98 17l2-1m4 3l3 2m20-11l-1 2m117 16l-1 4" stroke="#452c72" stroke-width="6.2"/>
<path d="M286 24l-3 0m-15 4l-4 1m-30-5l1-3m-51-1l3-2m79 26l-1 2m50-8l-1 0m-34 25l0 3m-33-15l-1 1" stroke="#d43c70" stroke-width="5.2"/>
<path d="M390 2l1 0m-152 22l1 0m-14-7l1 0m-20 14l1 0m-9-6l1 0m-29 3l1 0m-69 27l1 0m100 16l1 0m-52 23l1 0m-54-2l1 0m-74-2l1 0m-9-9l1 0m-8 1l1 0m39 99l1 0m-50 23l1 0m38 72l1 0m2 12l1 0m0 117l1 0m412 74l1 0m-268-5l1 0m-36 4l1 0m-116-3l1 0m-23-4l1 0m333 20l1 0m120-5l1 0m0-3l1 0m26 2l1 0m32 13l1 0m-356 5l1 0m-42 9l1 0m368 0l1 0m-362 22l1 0m-94 10l1 0m-34 4l1 0m11 27l1 0" stroke="#d8386f" stroke-width="5.2"/>
<path d="M95 64l-4 1m15 35l1 1m49 1l-2-1m266 13l-2 1m-32 6l2 2m29 14l-3 2m120-7l1-4m-123 39l2 4m98-8l2 2m-430 39l0 3m4-12l-1 2m3 3l-3 1m460 21l-1 0m-493-3l-4-2m126 11l1 0m15 44l-2 1m225 8l2 0m108 46l-2 2m-136 18l1 2m87 7l-1 3m40 1l-1-1m-266 15l-1 1m-226-1l1-1m-18 20l4 2m20-3l4 1m223 6l0 1m50-5l-1-2m186 1l-1 1m-77 17l-1-1m-291-4l1 3m-71-1l1-3m342 13l0 2m54-3l-2-1m-421 40l2 4m26-10l-3 0m64 11l2 1m43-13l3 2m10 11l2 0m327-14l2 0m-375 33l3 2m28-4l1 0m295 9l0 1m-79 21l-1 1m-188-14l-1-1m-11 25l0 2m15-7l-1 1m-54 17l-1 2m-33-2l-1 0m-43 28l3 0" stroke="#d43c70" stroke-width="4.8"/>
</g></g>
<g transform="translate(1131 73)" clip-path="url(#cpC1)">
<rect width="283.1" height="291.7" fill="#020203"/>
<g transform="scale(.5)" stroke-linecap="round" fill="none">
<path d="M340 11l3-3m36-2l3 2m169 5l4-2m-90 17l3 1m-118 5l2 1m84 1l1 3m46 11l3 1m-63 6l2 3m-43-10l2 2m-69-3l-1 3m-40 21l-5 1m53-1l-3 0m53-1l0 4m131 11l1-2m-74 2l1 3m-64-9l-1 2m-16 0l-3 0m-47 8l-2-1m-89-4l1 0m-47 7l-1 1m-108-3l1 1m27 18l2 1m30-4l0 2m61 0l2 3m86-10l-1 0m15 2l-3 0m89-1l1 2m133 3l1-2m5-6l1-1m-42 27l1-4m-70 5l0-1m-60 1l3 1m-76-12l-2-1m-58-1l3 3m-16 2l1 1m-146 5l-1 3m-6 12l1 5m14-15l1 1m114 12l-1 1m17-5l2 3m8-11l-1 3m67 2l0-1m23 9l0 3m17-5l-1 1m89 0l0-2m58-8l1-4m2 17l2-1m-14 8l4 2m-58-2l1 0m-26-3l3 1m-72 4l0 5m-80-2l1 3m-167-16l0 3m-11 15l-2 2m35 10l1 1m126-2l1 4m93-6l2 3m55-3l1 4m59-15l1-5m39 14l3 3m39-5l-2 4m11 20l-3 2m-52-16l-2 3m-26 1l2 2m-357-3l0 4m-37-9l0 4m23 14l4 2m37 10l0 1m106-13l0 1m12 9l1 1m18-4l1 3m24-4l1-1m17 4l2 0m1-4l1 0m0 8l3-1m55 0l3 0m5-1l2-1m42 2l1 1m34-5l2 0m11-8l3-1m103 0l1 2m-105 16l5 0m-15 8l1-1m-15-8l1 0m-215 3l1 1m-19-1l2 2m-140 20l2 1m94-4l2-1m349 7l4 2m-12 0l1 0m-70 7l1 1m-79 3l2 0m-186 3l1 1m-27-5l2 0m-43-1l3-2m-51 8l3-2m-22-12l1-3m10 34l0-1m34-2l-1-1m50 3l3 1m15-6l1 2m92-4l-2 2m154-2l2-3m7 5l3 3m70-13l1 0m66 0l0 1m17 9l0 4m-396 12l-2 0m-13-7l0 3m8 24l-1 1m81-3l0 2m48-4l3 2m4-6l2 0m4-5l1 2m23 11l3 2m93-3l1-1m48-3l0 2m83 2l1 1m-163 5l2 1m-34 8l4-1m-144-6l1 4m-48-7l-1 0m-111 13l2 3m55 11l1 3m54-9l-2 4m19 5l-1 1m142-4l1 2m27-7l1 0m149 3l1 0m28-11l4 1m-264 26l1 3m-81-5l0 3m-22 2l1 1m-106-14l-1 5m15 23l0 2m51-1l3-1m54 2l3-1m18-3l1 0m270-7l0 3m-39 22l3-2m-90 1l1 1m-53 1l2 0m-13-5l3 3m-15-2l0 3m-17 1l-1 3m-67-12l4-1m-68 15l0-1m51 2l2-2m50 9l2 0m111 5l3 2m25-12l1 0m138 12l-1 4m-98-1l-2-2m-81 6l1-2m-149-2l1-1m-43 3l-2-1m-99-4l1-2m18 30l4 1m49-9l2 1m37-5l-1-2m301 3l4 0m110 11l-2-1m-63 11l-4 1m-171 6l2-2m-74 3l3 2m-27-13l1 4m-20-4l3 4m-19-3l1 2m-31-5l3-3m-12 10l4 1m-86 0l0 1m-31 0l0 2m-6-8l2 1m-1 12l-4 1m49 0l1 1m42 1l1 4m12-9l1 3m35 8l0 3m100-5l1 2m27-3l2 0m8 4l1 0m63 1l-2 3m120-3l-3 0m13-4l-1 2m44-1l-2 1m27-3l-4 2m-45 20l-1 2m-60-12l-2 0m-177 10l1 0m-12-8l1 2m-92 5l1 4m-6-18l3 1m-34 14l-3 1m-82 0l-3 4m11-1l-1 3m53 9l4 0m6-4l2 2m46-5l0 3m59-1l1 4m1-12l1 1m91 13l3 1m103-14l-2 1m16-1l-4 1m146 15l-4-1m-25 8l2-3m-32 1l2 1m-12-6l5 0m-28 4l4 3m-82-3l0 1m-43 8l2-1m-38-4l2 0m-196-10l2 2m-88 21l0 1m10-5l1 4m36-4l2-3m40 8l1 0m14 2l1-1m21 3l1-3m250 2l0 3m57-13l0 1m85-1l-4-2m-191 20l3-1m-47 12l-1 2m-150-6l1-2m-77-8l0-1m-60 1l0 2m22 29l-2 2m27-8l2-2m24-6l1 0m232 9l3 1m38 1l-1-3m42 2l2 1m7-3l1 2m10 0l-2 3m57-10l0 2m51 9l-2 0m8-15l-1 0m9 25l-3-1m-417-8l-3-3m-57 23l1-1m273-2l2-1m48-1l0-2" stroke="#424548" stroke-width="5.2"/>
<path d="M510 2l3 0m35 12l3-2m-52 10l4 1m-192 19l-3 2m34-6l3 1m19 8l1 2m37-10l3 2m52-4l1 1m96 15l3 0m-30 9l2-3m-6-6l0-3m-3 0l0-3m-156 9l-1 3m-54-9l-3 0m-21 7l-4 0m-104 15l-1 1m57-6l1 1m23 4l-1 1m2-5l-2 0m155-1l2 2m61 0l3 1m-104 14l2 1m-24 3l-4-1m-56-7l-4 0m-71 1l4-2m-61 16l1 3m-2-8l-2 1m-25-7l1 3m-64 17l1 0m50 0l2 2m98-3l1 1m11 5l-1 3m64-3l-1 0m15-5l-1 1m139-1l3 0m15 8l4-3m-150 8l-1 4m-53-6l-3 0m-3 7l-1-1m-16 4l-3 1m-145 1l-1 1m-33 2l2 2m68-4l1 1m48 10l1 2m84-1l-2-2m31-8l-1 4m12-1l1 2m45-3l0-3m23 7l1-3m12 3l4-3m18 3l1-2m136 5l2 1m-64 11l1 1m-65 0l1-1m-123 6l0 3m-70-7l0 4m-33-3l-1 5m-82-1l1 2m-22-7l-1 2m-15 1l0 4m-3-11l1 1m-43 2l-1 4m93 18l0 1m5-6l1 3m82-10l1 2m22 8l2 2m22-12l-4 0m137 3l2 3m88 13l-2 0m-13-3l-1 1m-200 12l1 0m-23-9l2 1m-67 0l4 0m-158 3l3 2m-23 5l1 1m131 2l1 3m11-4l2 1m139 1l1 0m201 16l-1 2m-6-5l0 4m-26 2l3 0m-128 1l2 1m-49-5l3 1m-11-5l2 0m-23 3l1-2m-22 7l1 0m-87 21l4 1m11-6l2 0m17-4l2 2m129-6l4 2m34 0l1-1m17-1l2-1m9 12l1-3m39-6l5-1m1 13l3 1m72-5l0 1m13-4l1 1m-18 15l0 4m0-1l2 3m-14-9l1 3m-70 5l4 1m-184-2l2 3m-112 0l2 2m-22-13l4-1m-24 7l3 1m-6-2l1-1m-28-5l5-1m-29 3l4-1m131 28l-1 2m99-11l1 0m69 8l1 4m58-5l1 2m11-11l2 1m69 8l2 0m23 10l3 4m-13-5l4 0m-52 9l0 2m-5-3l3 2m-94-9l4 1m-41 3l3 2m-3-9l2 1m-42-2l2 1m-52-5l-1 1m-170 1l1-1m-41 12l2-1m14 15l3 0m45-11l2-2m20 12l3-1m62 3l-3 0m36-10l-2 0m256 11l1 4m34 2l5 0m-77 1l3 4m-73 6l2 0m-57-2l1 2m-139-1l-3 2m-14-6l1 3m-65 1l1 0m-2-11l4-1m-65 18l1 2m23-3l0 1m101 11l0 1m32-2l1 4m11-12l3 2m136-5l1 1m60 5l1-1m149 21l0-1m-128-1l1 0m-38 4l1-1m-157-10l4 0m-112-3l1 0m-29 12l-2 1m-11-7l-2 2m-10 8l1 1m-37 14l-1-4m48-5l0 2m37-8l4 3m24 11l4 3m14-1l3-2m102-7l0 2m31 4l3 1m9-9l2 1m21 10l2-1m221-1l3 0m-42 5l3 1m-179 12l3 1m-12-4l2 0m-164-7l1-3m-127 6l-3-3m-3 16l-4 2m97-6l1 0m129 2l1 5m27-5l1 0m210-4l0 3m38 6l1 4m49 19l-2-1m-37-9l-1 1m-45 0l-3-1m-149 3l3-3m-9 8l2-1m-86-10l1 2m-4 9l3 0m-7-7l3 3m-78-7l4-1m-77 8l0-5m12 16l0-4m70 1l2 0m76 12l3 3m82-10l3-1m61 9l4 2m149 2l-1-4m-54 11l1 2m-141 0l0 1m-61-7l3-3m-22 0l1-1m-176 13l2 1m-78-13l2 2m312 21l1 2m12-6l1 1m90-6l-2 1m47 1l0 3m82 7l-4 0m-17 12l1 4m-64-1l-2 3m-70-14l-1 0m-35 15l-1 2m-47-15l0 1m-30 8l1-2m-66-3l4 1m-35 5l1 1m-142-10l0 2m32 15l0 1m26 7l2 3m12-15l0 3m28 1l1 3m90 2l1 0m74 4l2 3m65-7l-1 4m9-5l0 3m63 4l0 1m73-2l2 1m9 3l2-3m-19 13l2-2m-25-3l3 2m-119 3l2 1m-10-3l-1 2m-202-9l3 0m-27 3l3-1m-69 7l4-2m-64 4l-1 1m-20-9l2 4m96 14l3 1m0 0l1-1m95 7l0-1m36-10l1-1m41 11l4 1m57-9l1-2m28 2l2 0m66 4l-2 0m46 1l1 5m48-3l-1-2m-51 6l2 3m-75 10l4 1m-27-1l-1-2m-58-6l2 0m-41-2l1 1m-20-3l1 0m-122-1l4-1m-87 30l-1 3m28-9l2-4m19 7l-1-3m54 4l1-2m7-11l1-2m6 12l1-5m16 10l1 1m167-15l2-4m33 7l0-4m134 28l0-4m-45 6l-2 3m-30-11l-3 0m-11-2l-2 1m-13 9l1 0m-22-5l2-2m-51 1l1-3m-42-4l4 0m-83 12l2 4m-76-12l1-1m-124 2l-1 0m67 13l-4-1m17 0l-2 0m42 3l2-1m89 1l4-1m184-1l1 4" stroke="#17191b" stroke-width="8.4"/>
<path d="M408 11l1 1m156-9l1 0m-137 25l1 2m-69-7l2-1m-85 14l-4-2m144 2l0 2m53 5l2 2m32-11l0-1m-38 26l3 0m-121-3l1 2m-47 2l-4 2m-20-2l-4-1m-25 14l0 2m212-2l3 4m16-1l2 0m19-9l1 0m14 7l1-1m11 19l1 1m-12-9l1 0m-42 0l3-1m-44 0l1 1m-12-3l2 1m-10 1l1 0m-69 11l-2 1m-63-2l-3-1m-34-3l1 2m-16-7l4 1m-178 7l2 4m-32 7l-2 0m309 2l-1 1m49-3l2-1m0-2l3-1m25 2l4 2m65-3l1-1m2 18l0-2m-63 0l3 0m-21 10l-1-3m-45 3l2-2m-235-2l4 2m-125 9l-2 0m109 10l1 3m211-15l2 2m7 10l1 1m133-4l3-2m-139 21l1 0m-78-11l-1-3m-15 5l-2 0m-13 2l1 2m-48-8l2 4m-42 4l0 1m-69 1l3 3m-23-6l1 4m-23 7l1 0m20 2l-1 4m49-5l-1 4m20 1l1 2m49-1l1 5m17-13l-1 4m91-5l-2 1m115-1l1-2m75 4l-1 3m26 8l-2 0m14 0l-2 4m-107 4l2 4m-115 3l3 2m-50-3l3 3m-59-13l1 2m-68 4l-1 1m-82-4l1 3m32 22l-1 3m52-14l3 1m43 1l1 3m189-6l3 1m53 7l1 0m118-7l1 4m25-4l3 3m-97 22l4 1m-96-8l4 1m-100 4l3 0m-107-6l3 0m-41-2l1 2m-22 8l3 0m-58-11l1 1m10 20l1 1m170-3l2 2m174 1l5 0m123-7l1 5m-6 17l-1 2m-3 6l3 4m-109-16l1 0m-57 1l2-1m-115 4l3 1m-47 4l-2 4m-8-11l1 3m-8-6l0 3m-169 0l1-1m7 24l0-4m71-4l3 0m65 0l-1 2m87 0l1 1m48-2l4-1m42 12l2 0m40-3l2-1m16-7l3 3m32 5l1 1m22-8l1 4m25 0l2 2m39-10l1 4m-368 13l-3 3m-30 6l-1 2m-26 0l2 2m-62-3l1-1m-8-10l-3-2m-16 9l0-3m48 20l3-3m53-2l1 3m19-2l-3 3m17 3l0-1m62-8l-1 4m2 9l2 3m132-15l4 3m2-4l1 0m11 10l4-2m120-3l3-1m-74 17l1 2m-20 2l2-1m-32-2l1-1m-64 2l4 2m-18-7l3 3m-90 1l4-2m-14-5l3 0m-145 12l0 4m-37 14l3 3m43-9l-4 2m99-9l-1 1m102 10l-2 1m8-12l1 1m108 4l1-2m89-5l3 2m19 9l4-1m-124 9l1-2m-93 8l0 1m-23 3l3 2m-38-4l1-1m-29-8l1-1m-59 11l2 1m-123-2l1-1m137 15l3 0m-1-8l2 4m39 9l2-2m21 0l0 4m60-13l0 1m31 0l1 1m4 5l4-2m205 0l4-2m-8 21l0 3m-19-6l1 1m-53-9l-2 4m-216-3l0 4m-133-1l3 1m-33 5l1 3m-18 2l4-1m90 3l2-2m309 10l0 2m110 6l-2 2m-14 2l-4 1m-39 2l-2 0m-54 6l-1 2m-143 0l2-1m-42-4l4 1m-24-9l1 1m-28 1l1 0m-33 5l2 1m-26-3l3 1m-21-7l1-1m-15 13l0-5m0-6l-1-2m-28 12l-2-3m119 10l2 1m22 4l1 1m41-9l4-2m161 13l-1 2m3-12l-3 3m31 0l-2 1m51 4l-3-1m38-7l-2 1m-5 21l0-1m-31 6l-5 0m-193 3l2-1m-199 10l0 1m173 2l1 0m29 1l1 4m80-10l-2 3m68 5l-2 3m-120 12l-2 3m-188-11l1 4m-65-8l-1 4m-11-5l0 3m-68 3l0 2m-12-9l-1 1m307 25l2 1m124-3l-1 0m26-6l0 4m45-6l1 1m2 14l1 4m-116 5l-1 2m-59-3l4 3m-322-2l0 4m104 19l4 0m41-6l2-2m11-5l2 0m59-2l1 4m167 10l0 4m18-13l-1 0m31 10l0 1m97 13l2-4m-128 4l-4 0m-76-11l4 1m-164 1l0-3m-153 9l-3 2m-1-2l-1 0m202 17l2-1m36 5l1-2m20 2l3 2m42-14l3 1m117-4l-1 2m46 12l3-1m30 2l1-2m-25 14l1-1m-17-6l2 4m-166 6l2-1m-44-9l4-1m-17 3l3-1m-23 10l2-2m-167-12l-1-3m-1 14l-1-4m-28-6l4 1m57 16l-2 0m325-2l-2 1" stroke="#2a2c2f" stroke-width="7.6"/>
<path d="M414 12l2 4m92 1l2 1m-64-1l4 3m-48 11l0 3m-9-9l4 2m-17-3l2 1m-118 16l-3 2m87-3l0 2m74 4l2 2m22 7l1 3m-48-2l1 1m-9 5l1 1m-83 9l-2-4m10 4l-2 2m43-4l-2 0m35 9l3-1m112 0l2-3m7-6l0-1m-158 22l-3 3m-95-8l-1 3m-38-1l2-1m-161 13l4 1m35 11l0 4m153-10l0 1m71 1l-1 2m8-10l-1 0m161 6l1-2m22 0l2-1m-134 14l0-3m-9 8l2-1m-34 4l2 1m-188-7l0 2m-133-3l-2 1m10 19l-4 2m60 1l-1 1m58-12l1 3m24 1l-1 2m50 0l-1 3m14-7l-3 3m17 5l-2-3m31-8l-2 1m129 1l3-2m22 6l4 0m53 1l3 1m13-3l3 0m7-1l-3 4m42 17l2 1m-239-3l3 0m-278 1l1 0m-13-6l-2 4m57 15l0 2m61 6l-1 2m36 0l2 2m25-11l2 3m33 2l0 1m47-1l1 4m26-1l3 1m22 0l1 0m30 0l2 2m30-17l2 0m124 15l2 3m20-7l3-1m-141 21l3 3m-52-17l2 4m-64 2l2 0m-62 3l1 1m-42 4l-1 2m-53-7l2 0m-61-2l0 2m-37 0l0 3m-9-7l3 0m23 12l-2 2m14 8l0 2m24 1l0 1m104-13l2 4m2 7l-1 1m108-13l1 0m43 3l1 0m22-4l1 3m78-3l-1 2m13 1l-2 1m-26 12l2 2m-81 2l0-1m-42 9l3-3m-126 3l0 1m-135-4l2 3m-42-4l0 1m-12 5l2 1m4 8l0 4m98 4l2 1m14-3l1 2m7-14l2 1m176 2l1 0m21 8l2-3m90-1l2-1m1 2l1-2m47-5l0 3m-146 10l4-1m-50 3l2-1m-27 3l1-1m-200-2l1 0m-13 13l0-1m-8 3l1-2m18 13l3-3m55 0l1 1m122 7l2 3m36-9l3 0m23-10l4 1m110 2l2 3m22-1l3 3m36 21l1 1m-13-6l2 2m-8-5l1 4m-15-8l3 2m-34-1l1 2m-97 0l0 4m-65-2l4 0m-52-3l-1 3m-105 16l3 0m95 0l2 3m51-8l4-1m131 5l3 0m15-1l2 2m64 2l4 1m30 12l3-1m-130 5l0-1m-135-5l1-1m-24 3l3 3m-18 5l4 1m-51-12l0 1m-16 5l-2 2m-30 3l3 3m-35-4l2 0m-6 3l3-2m-45-7l1 1m-28-4l1 4m122 15l-1 2m276-1l1 2m48 0l1 4m31 12l4 0m-202 3l2 1m-14-4l3 2m-41-4l-2 4m-17-5l1 1m-114-4l3 0m-33-1l2 2m-27 10l0 3m-6-16l0 1m-45 22l0-4m108-3l1 0m77-1l3 0m285 13l2 1m28-10l2 0m-22 24l0 3m-16-10l2 1m-46-5l2 3m-222 2l3 2m-12 1l2 4m-11-12l3 2m-14 11l2 0m-62-3l2-3m-24-1l0-1m-71 9l0-1m-10 10l-1-2m9 8l0-1m23 1l3-2m69-10l2-3m159 14l1 0m192-11l1 2m28 8l-1 2m37-6l0 2m-167 7l-1-3m-130 16l1 1m-185-8l4 1m-12 8l3-3m-10-1l3 0m-23 2l1-1m10 14l2 0m116-4l1 4m24-6l3 1m18 3l1 0m24-3l0 4m314-7l-1 0m-259 15l4 0m-29 3l3 1m-110-5l2 3m-100 2l1 0m-35 11l-3 3m56 9l-1 1m107-3l1 0m37-9l0 2m46 9l3-4m5-7l1-1m18 8l3-2m18 4l4 1m40-10l1 1m107-2l-1 2m53 1l-1 0m8-4l-4 3m42 23l-2 3m-8-10l1 3m-48-3l-1 4m-116 2l-2 1m-70 6l2 0m-125-5l4 0m-60-10l-1 4m-13 2l-1 3m-72-1l-2 2m89 20l0 2m0-12l0 1m31 2l0 4m15 1l2 3m151-6l1 3m34-5l1 3m5-3l0 3m94 1l0 1m19-4l0 1m29 0l-3 2m34-6l2-2m4 6l3 0m-40 22l3 0m-90-5l-1 1m-65-7l1 2m-45 5l1 1m-58-7l3 0m-16-5l2 1m-102 9l3 2m-107 4l-1 4m33 2l1-1m119-5l4-3m23 6l4 1m72-2l3 1m19 10l3 1m143-12l1 4m19-5l2 1m4 12l1 0m36 17l-2-1m-9-15l1-1m-7 15l0-1m-17 2l2 1m-68-10l-3 3m-35-4l2 0m-5 9l4-2m-169-2l4-1m-208-6l-4 2m75 12l2-1m128 11l3 2m17 2l1 0m24-11l2-2m151 2l-2 3m37 2l-3-1m113 22l-2 0m-55-10l2 1m-311 4l-2 3m-18-3l4-2m-29 0l-1-4m-69-3l3-4m-82 9l3-1m63 18l2 0m127-5l-1 3m85-4l2-2m123 6l2-3m58 0l-5 0" stroke="#35383b" stroke-width="6.4"/>
<path d="M469 16l2 0m64-7l0-4m-53 19l4 1m-8-6l3-2m-26 6l4 0m-25-4l4 3m-145 19l-2-2m85-5l2 3m55 2l0 2m31 5l2 0m46-3l0-2m14 19l1-1m-41 4l3 2m-78-11l0 2m-68-5l-1 3m-49 9l-1-1m-26-4l-3-1m-22-4l4 3m19 13l-1 2m41 3l-2 1m186 2l2-3m-1 16l3-1m-42-8l0 1m-8 9l2 1m-345-6l-2 2m-43 21l0 1m80-3l0 2m111 2l-2 2m33-2l-2 1m32-11l-3 2m174 10l1-3m-28 6l1 0m-7 5l1-3m-15 4l0-1m-68-2l3-1m-93 9l-3-1m-23 0l-1-2m-33-7l0 2m-13-2l1 2m-7-6l3 2m-29 0l0 1m-62 9l1 2m-33-6l-3 3m-69 16l-1 0m62 1l0 1m143-8l1 0m235-4l1-1m24 7l1-1m42 4l-3 3m-33 11l2-2m-51-5l2 1m-52 1l3-4m-57 12l1 1m-139 2l3 0m-179 12l-2 1m48 0l1 3m173-4l1 0m74-3l1 0m41-7l4 1m117 8l-1 1m48 12l3 2m-47 3l-2 2m-103 1l1 1m-89-9l1 1m-66-4l1 1m-207 18l2 4m138 2l2 1m37-8l2 4m48-1l2 1m136-6l3 1m60 23l1-1m-94-10l2 0m-59 10l1 1m-40-3l3-2m-67 6l2 3m-64-7l1 4m-30 10l1 1m79-6l2-1m6 11l4 3m21-12l0 5m14-7l-1 4m18 2l1 4m67-3l3 0m56-1l2-1m100 6l5 0m-237 10l0 1m-11 3l-1 2m-183 4l0-3m107 19l-1 1m10-12l2 2m60-6l-2 3m150 12l1 0m64-3l2 2m-9 17l0 3m-39-17l3-1m-47 12l0 4m-98-10l1 2m-152 0l2 0m-78-2l3 1m6 11l1-1m7 8l1-1m36-6l1 0m3 4l1 1m8 4l3 1m445 7l2 1m-191-4l3-1m-12 14l1 3m-33-4l0 1m-10-7l3 2m-16-6l-1 3m-170 23l2 0m11-4l3 3m123-8l1 2m6 6l1 1m152-3l1 0m49-8l-2 3m89 4l1 0m-81 19l0 1m-137-10l2 1m-152 6l4 3m-148-9l1 4m-5 23l2-2m150-12l1-1m215 4l4-1m60 11l1 1m16-11l3 0m13-2l1 2m6 3l2 2m-444 30l3 0m21 6l2-1m9 3l1-1m101-8l4 1m55 2l1 2m220 0l-4 2m31-9l0 2m61-4l0 1m-9 25l-2 0m-12-11l-1 2m-1 3l-1 4m-64-4l-5 0m-178 9l2-1m-13-3l1 0m-82-8l0-1m-21 13l2 1m-41-10l3-3m-67 26l2-1m144 1l4 2m9 0l3 1m66-7l3-4m181 2l-3-1m84 18l0-4m-28 9l-2 1m-32-10l-2 3m-228 9l3-3m-14 2l2 1m-16-5l2 2m-51-1l1 3m-139 8l-2 4m16-5l-1 3m67 3l2 3m21-3l1 2m232 0l-1 1m66-14l-2 1m79 11l-3-1m29-4l-3-1m-118 19l-2 2m-37-3l-4 1m-10-5l-1 0m-79 0l3 1m-40 10l2-2m-118 0l-1 2m-16-8l0 2m-57-3l-1 5m-39-10l0 4m-37 13l0 4m18-3l-2 2m211-4l3 2m71 9l4 2m145 17l1 3m-80-13l5 1m-107 8l1-1m-41-8l1 0m-26-1l2-1m-10 1l1 1m-71 7l3-2m-30 1l3-3m-38 1l3-1m90 10l2-4m88 12l2 1m14-8l2-2m28 7l1 3m23-4l1 0m25 0l3 0m41 4l2 4m37-1l-4-3m123 9l0-3m-26 6l2-2m-26-4l5-1m-352 6l1-3m-100 8l0 4m67 9l0-2m127-5l3-1m30 11l3 0m16-10l1 0m180 2l1 4m29 0l2-2m-99 18l3 3m-71-4l2-4m-42 2l5-1m-73-1l4-2m-134 5l-1-1m-40-3l1 0m-33 10l1-4m-10-4l-2-3m450 15l-4 1" stroke="#202224" stroke-width="8.8"/>
</g>
<g transform="translate(0 0.0) scale(5.53)" opacity=".93" shape-rendering="crispEdges">
<path d="M40 4h1v1h-1zM3 7h1v1h-1zM5 11h1v1h-1zM29 11h1v1h-1zM3 12h1v1h-1zM4 13h1v1h-1zM10 13h1v1h-1zM37 15h1v1h-1zM44 15h1v1h-1zM8 16h1v1h-1zM20 16h1v1h-1zM40 17h1v1h-1zM4 18h1v1h-1zM36 23h1v1h-1zM1 27h1v1h-1zM30 27h1v1h-1zM33 27h1v1h-1zM39 27h1v1h-1zM42 28h1v1h-1zM35 29h1v1h-1zM27 32h1v1h-1zM43 35h1v1h-1zM35 36h1v1h-1zM34 37h1v1h-1z" fill="#22103f"/>
<path d="M33 4h1v1h-1zM3 8h2v1h-2zM6 9h1v1h-1zM24 10h1v1h-1zM36 11h1v1h-1zM36 12h1v1h-1zM18 13h1v1h-1zM40 13h1v1h-1zM4 14h1v1h-1zM4 16h1v1h-1zM35 22h1v1h-1zM3 23h1v1h-1zM38 23h1v1h-1zM2 26h1v1h-1zM39 26h1v1h-1zM45 26h1v1h-1zM2 27h1v1h-1zM40 27h1v1h-1zM30 28h1v1h-1zM40 28h1v1h-1zM29 29h1v1h-1zM10 31h1v1h-1zM29 31h1v1h-1zM31 32h1v1h-1zM40 37h1v1h-1z" fill="#341358"/>
<path d="M41 4h1v1h-1zM32 9h1v1h-1zM5 10h1v1h-1zM30 11h1v1h-1zM2 12h1v1h-1zM31 12h1v1h-1zM37 12h1v1h-1zM18 14h1v1h-1zM40 15h1v1h-1zM23 16h1v1h-1zM40 16h1v1h-1zM5 18h1v1h-1zM36 19h1v1h-1zM35 21h1v1h-1zM44 21h1v1h-1zM32 25h1v1h-1zM40 26h1v1h-1zM43 28h1v1h-1zM44 29h1v1h-1zM28 33h1v1h-1z" fill="#4b1869"/>
<path d="M36 8h2v1h-2zM31 9h1v1h-1zM30 10h1v1h-1zM32 10h1v1h-1zM39 12h1v1h-1zM2 13h1v1h-1zM36 14h1v1h-1zM37 17h1v1h-1zM38 20h1v1h-1zM40 20h1v1h-1zM42 20h1v1h-1zM41 23h1v1h-1zM35 24h1v1h-1zM31 27h1v1h-1zM42 27h1v1h-1zM44 28h1v1h-1zM28 35h1v1h-1z" fill="#6a1f6f"/>
<path d="M5 8h1v1h-1zM37 13h1v1h-1zM37 14h1v1h-1zM19 15h1v1h-1zM39 16h1v1h-1zM37 18h1v1h-1zM36 20h1v1h-1zM41 20h1v1h-1zM35 23h1v1h-1zM39 23h1v1h-1zM34 24h1v1h-1zM45 25h1v1h-1zM34 26h1v1h-1zM29 35h1v1h-1zM42 35h1v1h-1z" fill="#8c2a6b"/>
<path d="M28 11h1v1h-1zM31 11h1v1h-1zM35 13h1v1h-1zM8 15h1v1h-1zM37 16h1v1h-1zM39 20h1v1h-1zM34 23h1v1h-1zM40 25h1v1h-1zM44 27h1v1h-1zM31 28h2v1h-2z" fill="#b03a61"/>
<path d="M39 14h1v1h-1zM18 15h1v1h-1zM38 15h1v1h-1zM37 20h1v1h-1zM36 21h1v1h-1zM37 22h1v1h-1zM45 23h1v1h-1zM43 27h1v1h-1zM36 38h1v1h-1z" fill="#cf4d47"/>
<path d="M25 10h1v1h-1zM44 22h1v1h-1z" fill="#e56c33"/>
<path d="M19 14h1v1h-1zM6 17h1v1h-1zM37 21h1v1h-1zM43 21h1v1h-1zM36 22h1v1h-1zM42 26h1v1h-1z" fill="#ee9130"/>
<path d="M40 0h1v1h-1zM7 17h1v1h-1zM41 24h1v1h-1zM34 25h1v1h-1zM42 25h1v1h-1zM43 34h1v1h-1z" fill="#edbb3f"/>
<path d="M31 10h1v1h-1zM39 13h1v1h-1zM38 21h1v1h-1zM41 22h1v1h-1zM43 22h1v1h-1z" fill="#e7da68"/>
<path d="M32 11h1v1h-1zM38 12h1v1h-1zM14 13h1v1h-1zM36 13h1v1h-1zM38 13h1v1h-1zM38 14h1v1h-1zM6 16h2v1h-2zM38 16h1v1h-1zM38 17h1v1h-1zM41 17h1v1h-1zM6 18h1v1h-1zM38 18h2v1h-2zM37 19h1v1h-1zM39 21h4v1h-4zM38 22h3v1h-3zM42 22h1v1h-1zM40 23h1v1h-1zM42 23h3v1h-3zM42 24h3v1h-3zM33 25h1v1h-1zM43 25h2v1h-2zM43 26h2v1h-2zM32 27h1v1h-1zM31 29h1v1h-1z" fill="#cbd184"/>
</g>

</g>
<g transform="translate(1443.8 74.4)" clip-path="url(#cpC2)">
<rect width="286" height="293.3" fill="#020203"/>
<g transform="scale(.5)" stroke-linecap="round" fill="none">
<path d="M40 3l0 2m310 7l3 3m183-5l-1 3m-32 13l-2-1m-88-6l3-2m-47 14l1 2m-9-6l1 1m-56-7l1 2m-54 3l-1-1m-38-6l3 1m-26-1l0-2m-99 1l4-3m-71 28l-2 4m101-5l1 1m20-11l2 1m56 12l1 0m247-4l-2 2m98-7l-1 2m6-2l2 4m-8 20l-1 2m-11-13l-2 1m-162 6l1 1m-189-3l4 1m-21-6l1 2m-11 3l-1 1m-145-4l-1 1m-1 22l-5 0m35 5l-2-2m158-9l-1 3m36-3l1 2m115 8l-1 1m120 5l-3-2m-4-2l-4-1m-38 9l-1 4m-26-5l2 0m-22 8l1 1m-24-1l-2 1m-146-3l0 3m-22-15l-3 2m-88-1l-4 2m-4 7l-1-1m-11-8l-3 0m-10 9l-3 0m-7 3l-2 0m-21 11l0 1m3 1l0 2m127-6l0 1m72 2l1 1m156-1l-1 2m78-6l0-1m73 4l2 3m-78 18l-1-4m-41-3l-2-2m-76 0l0 2m-43 2l-4 0m-42-1l0 1m-14-8l1 2m-31 12l5 0m-33-5l1 0m-161 16l4 0m27-2l1-1m37 9l4 0m94-7l4 2m90 2l0 3m48-15l-1 1m153 4l0 2m93 18l1 1m-9-6l4 1m-58-4l1 1m-181-2l-1 1m-10 2l0 5m-7-2l-1 1m-49-5l4 1m-146 11l3 3m-33-2l1 0m-49-1l1-1m-19-2l1-1m90 20l2 2m13-11l0 3m5 5l3 3m7-5l1 4m12-14l4 2m23 1l0 4m109 7l1 0m232-10l2 2m-204 19l1 3m-17-7l3 1m-17 4l3-1m-8 2l2 1m-136 0l-1 2m-100 1l4 2m7-1l1-4m12 16l2 0m117-1l1 1m62-12l3 1m87 8l1 0m48 4l0 2m3-12l1 2m19 6l1 2m56-12l4 2m17 2l2 0m28-7l4-1m1 6l2 3m-31 15l1 0m-19-2l2 0m-9 5l2 3m-78 3l1 2m-365 12l2 1m157-12l1 0m4 3l1 1m130 7l2 1m68 0l1 1m34-6l2 4m8-3l2 3m38 1l-2 3m11-13l0 3m9 4l1 4m16-6l-1 2m31-5l-2 3m22 14l-2 2m-281-4l-1 1m-58-6l-2 3m-218 6l-1 2m51 15l3-2m79 0l2 4m22-4l-1 2m35-2l0 3m36-3l-1-3m86-5l0 2m49 6l3 4m30 0l1 2m46 8l1 1m-131 2l1 2m-14 2l1 0m-33-10l0-1m-116-1l-1 3m-114 7l3 2m-20 10l1 4m403-1l3-1m86 10l-3 2m-85-4l1 0m-16 10l2 1m-28-11l0 4m-7 6l-3 2m-22-4l-3 3m-50-1l2 1m-6-3l3 3m-40-12l0 2m-110 2l-2-2m-6-1l-4 2m-34 0l-3 2m-13 0l1 2m-18 7l0 1m39 1l-2 3m141 3l1 1m49-5l3-2m12 4l3-4m47 1l-3 4m28-6l1 5m29 2l4 1m72-3l-1 1m53 14l0 1m-161-5l0 1m-29-1l-3 3m-128 13l3 2m-149-16l-1 1m74 26l-1-1m20 0l-2 1m39 2l1 4m91-8l1-1m163-2l2-1m86 1l0 2m-104 10l0 5m-13-7l1 3m-3 5l-2 3m-97-7l1 4m-93-8l3 0m-9 9l3 1m-206 7l-4 1m38 2l2 3m21 0l3 2m144 1l2 1m118-5l0 3m19-6l0 1m113-6l-4 2m36-2l-4-1m27 23l-1 4m-124 0l-2 0m-18 5l-1 0m-11-8l-2 2m-22 1l0 1m-4-8l2 4m-76-3l2 0m-34 4l2 0m-161 8l4-1m-60-1l0 3m1 1l-2 2m71 1l3-2m13 8l4-3m21 5l0-4m46 7l-1-1m9-11l-1-3m88 3l1 1m222 4l2 4m31-10l1 4m-93 23l3 3m-61-5l-2 3m-150-13l2-1m-85 4l1-3m-122 12l2 4m14 1l1 1m24 1l3 0m21 11l2-1m78-10l0-2m59 4l2-2m92 6l3 0m104-3l2 1m117-8l0 1m-141 22l2 1m-42 2l1 0m-21 1l2-1m-153 3l-1-1m-105-5l2 0m-64-6l1 4m-8 0l-1 5m-35 8l-1 3m380-5l3 1m67 2l4 0m105 5l-3 3m-106 12l4 1m-21 1l2 0m-81 5l3-1m-133-11l2-2m-49 6l0 2m-62-7l0-1m-73 2l-3-1m-29 4l-1 1m-10 6l-3 0m136 11l2 4m144 1l-2-2m52 2l0 4m18-14l1 3m83-2l5 0m13 11l2 3m74-12l1 1m-101 12l1 4m-41-5l1-1m-88 15l-2 4m-24-5l-3-1m-64-9l-4-1m-20 2l-2-3m-124 6l3 1m-24-5l-3 3m-10 4l2 4m-11-15l-1 3m-9 17l0 2m48 9l0 3m37-14l4 1m152 8l1-3m9-6l-3-2m85 13l1 0m39-1l1 2m9-2l1 3m128-17l0 2m16 22l2 0m-97 2l2-1m-39 0l-1 4m-45 2l0 4m-36-10l1 2m-22-10l0 4m-18 5l-1 0m-48-4l0-3m-20 1l-1 0m-53 1l-1 3m-9 0l1 1m-10-9l2 1m-107 4l1 2m-21-2l-1 0m28 15l0 2m234-3l-4 1m159-3l3 2" stroke="#17191b" stroke-width="8.4"/>
<path d="M305 16l1 4m91-15l0-4m120-1l-4-2m41 8l-1 1m-232 17l0 1m-240 9l4 0m29 3l0 4m99 4l3 3m63-5l-3-2m17 2l-4 1m16-11l-1 3m7 10l-2 0m10-6l-1 0m24 4l-1 1m74 0l1-1m5-8l1 1m10 2l2 1m82 12l-4 1m-91 10l4 1m-100-10l-3-2m-5 12l-4 0m-44-3l-1 1m-4-10l-4-3m-61 13l2 3m-22-3l0 1m-9-2l3 3m-59-13l2-3m-53 6l0 3m16 10l0 2m6 0l-3 1m14 10l1 3m89-9l-2 0m48 4l2 2m4-11l1 2m60-3l-1-2m76 0l2 0m6 2l1-2m78 1l-4 0m91 7l2 4m18-7l3 2m-55 16l-1 2m-136 4l2 1m-5-10l2 2m-119-2l-1 1m-23-2l1 3m-7 7l0 1m-36-15l1 2m-102 7l-2 3m-70-5l-4-1m50 19l-1 1m134-2l1 1m45 5l1 3m76-12l-4 3m63 3l-1 4m129-16l0 1m5 3l-1 3m57-2l-1 4m-109 10l-1-4m-68 1l-2 0m-51 13l1 3m-7-14l-1 1m-12 5l-2 4m-44 0l-1 1m-190-13l-4 0m-41 8l0 1m122 22l1 2m146-17l-5 0m46 15l1 1m83-10l-1-4m104 29l-1 3m-44-12l1 1m-226 9l0 2m-77-17l2 3m-14-3l3 3m-27 2l0 1m-14 0l2 1m-110-2l1-2m15 17l2-4m6 11l0-4m57-3l4 0m71-3l2 3m109 4l3 1m87 6l3 3m138-14l1 2m-39 15l3 2m-42 5l-2 4m-16-12l0 2m-41-5l1 1m-35-1l4 1m-25 1l1 0m-230 17l-1 4m9 4l-1 4m39-15l0 2m9-1l-1 4m11 8l2 4m116-17l3 2m29 9l2 3m109-4l0 1m48 17l2 1m-82-12l0 4m-31 5l0 1m-96-13l3-3m-39 18l-2 1m-3-2l-4 2m-100-16l-1 2m-15 13l-1 3m-17-6l1 4m-83 3l1 1m67-2l5 1m180 10l-2 4m45-7l1 2m35-6l1 0m8-3l4 2m-1 9l4-1m114 1l2 0m27 12l-2 0m2-1l-1 1m-73-6l1 2m-51-2l1 3m-35 2l2 3m-209-2l3 0m-28 0l1 3m-101 17l-1 1m82-10l3 1m242 7l1 4m14-16l2 1m25 0l3 2m50 11l4 0m5-11l5 1m47-1l-1 1m67-2l-4 0m-108 25l0 1m-25-7l0 1m-11-6l3 1m-68 5l1 1m-88 6l-4-1m-10 1l-2 0m-19-14l-1-2m-36 10l0 5m-57-10l0 2m-62-4l2 0m-49 10l1 0m171 8l0 3m62 5l-1 2m23-6l-2 4m13-5l0 2m187-7l-1 1m43 7l-1 0m46 13l1 0m-19 2l-1 3m-25 3l-2 0m-191-5l1 1m-107 2l1 2m-174-1l1 2m-22-5l1 0m-12-7l2 3m-14 23l1-1m12-11l2-2m98 1l-3 0m21 6l-2-1m23 2l-1 0m51-3l2 2m30 8l2 3m18-12l1 5m145 2l4 1m51-3l3 0m1-5l2 4m29 7l0 2m-25 13l4-1m-11-11l4 3m-70-4l3 2m-42 9l-2 2m-148-7l4 2m-36 3l0 1m-107-8l-2 2m-23-6l0 1m-42 25l1 0m168-7l-1 1m16-2l1 1m37 9l3 2m35-8l2 0m0 0l1 1m27 0l1-1m22 7l1 0m46-10l-2 1m7 2l0 1m118-3l3 0m63 17l-2 1m-31 5l-1 1m-56-10l0 1m-36 9l-4 2m-78-2l0 2m-33-1l2-1m-89-4l2-1m-82-4l-3 0m-10 4l-1 1m-36-4l-3 3m-9 14l3 2m25 0l2-2m1 3l5 0m32-2l2 3m32 3l2-2m3-3l3 1m2 1l1-1m127-1l2 0m0 5l3 2m119-16l-2 3m112 26l1 3m-100-2l-3 1m-155-1l3 3m-34-14l1 0m-90 12l0-1m-83-14l4 2m-79 21l1 3m66 6l4 0m64-14l2-3m33 15l-3 0m40-12l0-1m30 15l3 3m95-16l0 1m31 5l-2 1m20 3l-2 2m49-15l-4 1m7 22l1 2m-164-9l0 1m-51 11l1-1m-121-1l1-1m-54-6l4-1m-21 9l1 0m-50 8l1 4m46-5l4 3m61 8l1-2m29-7l2 0m141 3l0 1m8-7l2 1m5 10l2 2m103-4l2 1m23-6l1 3m61 16l0 4m-70-11l2 1m-50-2l2 2m-134 6l-2-4m-27 3l-1 0m-45 8l2 1m-79-11l4 0m-33 5l1 2m-52-3l-2 1m45 18l-2 3m19 0l1 1m81-4l1 3m29-9l4 1m1 2l2-3m136 7l3 2m50-5l2-2m153 24l-1 3m-110-4l2-3m-37 2l1-2m-24-10l1-3m-51 9l0 3m-5 2l-1 2m-12-15l-1 3m-5 7l-2 2m-15-3l-1 2m-97 1l0 2m-22 0l1 3m-24-13l2 0m-36 1l1-2m-32 6l0 1m-22 2l-1 1m-7-7l-2-4m45 26l3 0m151-11l0 2m6 6l-2 2m47-8l-4-2m72 7l1 0m214-5l1 1m2 28l0 4m-304-7l-2 0m-23-5l-3 1m-51-4l-4-1m-91 6l1 2m-12 0l1 1m-53-7l-1 1m76 13l4 1m9 2l1 2m149-4l-3 0m89-3l2 2m3 2l3 2m46-1l0 2m61 1l-2 3m4-8l0 4m41 9l3-1m-6 14l2-3m-79 4l5-1m-61-7l1 4m-94 3l-3 2m-96-6l0-1m-96 1l2 1m303 7l-1 0" stroke="#35383b" stroke-width="6.4"/>
<path d="M288 13l-3 0m140-13l2 0m26 27l-2 0m-160 3l0 2m-55-3l-2 0m-19 0l3 1m3 6l1 2m100-1l-2 2m138-2l-3-1m29 10l-4-3m15 3l-1-1m8-6l-3-3m10 3l-1-1m29 22l-1 3m-98-1l0 3m-8-17l4 2m-190 0l-3 4m-23 8l4 0m-77-13l1 2m-13 2l0 2m-52-5l2 1m-23 20l-2 1m171 4l1 1m54-11l-3 0m24 5l-4-1m91-5l3-2m6 15l1 0m106 0l1 4m19-17l-1 3m25 21l2 4m-117-11l-4 2m-131 9l-1 0m-21-1l-4-1m-242-1l-4 1m-30-7l-1 0m9 26l0 2m111-2l3 4m47-12l-3 1m112 7l-1 1m8-15l-1 1m65 11l-3 2m12 2l-1 3m194-14l3 1m14 14l-1 3m-58-3l3 4m-27 5l-2 2m-93-10l-4 2m-140 5l2 0m-59-11l-1 4m-173 9l0 3m69 5l0 1m73 3l4 2m58-8l1 1m178-4l-1-4m124 7l2 2m16-6l-2 4m-150 21l-3 3m-140-4l4 2m-53 3l2 2m-143-7l3-3m-15 0l2-2m11 16l4-1m145 6l4 0m30 6l3 0m12-13l2 0m177 11l-1 0m14-2l-1 1m123-2l3 3m-324 15l2 1m-10-5l3-2m-34-1l1 4m-33 4l1 4m-38-13l-1 4m-18-7l2 2m-83 13l2 1m-26 2l-1 1m172-2l0 4m21 6l-1 2m32-2l3 2m144-5l1 1m76 4l0 3m71-4l3 2m32-5l4 0m-10 21l1 2m-25-8l0 3m-30-2l0 1m-132-9l3 1m-125 0l3 3m-205 4l4-2m-22 3l0 1m-5-4l3 2m8 20l2 0m101-11l1 2m2 10l0 2m62-6l0 5m40-7l-1 1m109 0l1 0m56 1l-1 1m52 3l1 2m56 3l-1 1m-220 3l0 1m-8 3l-1 1m-62 3l-1 0m-45-9l0 2m-1 7l0 1m-30-5l1 4m-22-5l1 1m-108 18l1 4m15-3l3 2m55-3l0 2m20-3l1 2m15-6l2 2m119-8l-3-1m6 4l-2-2m204 12l2 1m107 0l-2 4m-87 6l-1 0m-20-1l2 2m-176-2l-1 2m-48 0l-5 1m-54-1l-1 1m-10-1l-3 1m-67-1l-3 3m2 1l0 1m-60-7l2 1m28 10l1 0m205-2l-2 3m63-2l0 3m77 1l4 1m47 4l2 3m36-8l-2 1m14-2l-4 1m58-3l0 3m8 7l4 1m-37 11l-2 3m-10-13l-3-1m-14 15l-3 0m-53-1l2 1m-372-13l0 4m75 24l-4-2m22-10l0 1m4 10l-2 1m16-1l-1 3m244-1l4 2m83 16l-3 1m-1-15l-4 1m2 10l-2 1m-21-3l0 2m-35-6l2 1m-74 1l-2 2m-49-3l-1 2m-127 6l1 0m-9-9l1 3m-65 3l0-1m-121-3l3-2m-11-6l2-2m5 31l0 1m41 0l0 3m5-12l-2 1m72 0l0-3m322 4l1 1m42 4l0 2m34-3l-4-1m8-5l-3 1m35 18l3 1m-190-2l0 3m-21 0l0 3m-69 1l2-2m-19-1l3-2m-97-4l-1 3m-52-6l-5 0m-12 10l1 2m-69-12l0 2m-15 3l1 2m39 21l2 3m65-17l-1 1m90 5l0-1m58 7l3 1m21-9l0-1m255 17l-1 1m-52 2l0 1m-264 7l2 0m-33-1l0-2m-52 3l0-4m-25 2l1-1m-56-5l-1-4m-74 23l-1 3m96-2l4-2m86-1l-2-2m82-7l-1 3m41 0l2 1m25-4l2 0m2 11l1-2m49 3l-4 0m93-5l-2 2m64-7l0 2m-102 20l-2 2m-309-1l2 0m-15-8l1 0m-53 16l2 3m2 9l0 3m8-3l3 3m21-14l3 0m21 4l3 2m15 1l4-1m11 7l4 0m6-14l2-1m31 2l-1-1m17-1l-4-2m56 12l4-2m61 7l3 2m29-6l1 0m15-4l-1 4m94-6l1 1m-17 26l2 1m-60-4l3-1m-91 1l4 2m-34-7l2 1m-46-3l-3-1m-69 10l5 2m-21-10l2 1m-106 6l-4 2m-20-8l-2 4m-1 18l-4 0m14-4l-4-1m148-6l2 0m21 12l2-1m7-9l-1-4m14 6l-2-2m28 2l-3-4m64 1l0 3m25-7l3 0m-1 16l2 2m23-5l1-1m77-4l3 0m25 1l1 2m43-1l0 2m22-11l-1 4m0 18l1 3m-5-2l-1 2m-90-9l2-2m-219 16l4 3m-106-3l1-2m-31 2l1-1m-75-3l-3-1m89 16l2-1m-2-9l3 0m13 11l2 1m71-4l-1 1m126 3l-1 2m58-4l1-4m25 2l1-1m67-1l2 3m15-1l-1 3m16-9l1 2m11 7l0 4m55-1l0 1m-43 3l-1 4m-121-2l1-1m-65 4l-1 3m-56-6l-5-1m-192 0l2 3m-8 7l1 1m-7 5l2 2m38 7l-1 1m33-9l1 2m35 2l-3-3m19 11l0-2m7-7l0-2m150 4l2 1m84-8l0 2m55 0l-1 2m26-2l3 2m33-4l-2 2m15 25l-3 3m-13-4l2 1m-53 0l1 1m-79 1l-1 2m-194-2l0-1m-17-2l0-1m-4-10l2-3m-82 10l3 1m-76 4l2 3m-36 1l-1 0m113 5l2-2" stroke="#2a2c2f" stroke-width="7.6"/>
<path d="M344 16l3 0m181-13l-3-1m7-1l0 3m1 27l-2 1m-10-14l-3 2m-25-4l-4-2m-10 6l-1-1m-13 6l-3 1m-219 1l-2 0m-35-10l1-1m-48 13l3 0m-28-1l4-1m46 14l3 0m-2-7l4-2m56 4l-5-1m12 4l-2-2m225-4l-1-2m22 5l-4 0m53 5l-2 4m-6 18l1 4m-62-12l-2-1m-30 7l1 3m-200-13l-1 0m-33 8l1 1m-142-4l1 2m-37-7l0 1m-13 18l-3 2m25 4l-4 0m96-4l3 4m255-2l2-3m12 1l2-1m70-2l-4-1m39 7l0 1m3-5l-1 2m42 10l2 4m-66 3l-2-2m-48 1l-2 0m-13-9l0 4m-74 4l-1 4m-4 3l2 4m-11-5l-3 2m-20-13l-2-3m-199 9l2 1m-51-2l-1-2m-57 1l-2 3m58 6l-1-3m33 8l0 3m9 4l2 2m4-11l4 2m10 9l0 2m2-13l2 3m57-5l0 2m68 7l1 1m55-11l-2 1m107 7l-3 1m23-2l-1-2m42 9l-2-3m20 1l-3 1m50-2l2 2m-127 4l-1-1m-49 13l0 4m-61-14l-1 0m-9 8l-3 0m-128-4l2 3m-19-4l2 0m-28 6l2 2m-76-9l2 2m-21 20l3 0m102-3l3 3m124 0l0 1m1-9l1 1m31-4l-1 1m10 13l-1 4m125-14l0-3m75 2l0 4m43-3l-2 1m-42 22l2 2m-65-7l-3 0m-11 0l-4-1m-53 0l1 2m-13 8l4-1m-72-14l-1 1m-36 13l4 0m-21-10l4-1m-13 11l4-2m-143 4l1 2m-29-8l-1-3m-2-5l1-1m-47 17l2 1m82 7l2 0m167-1l1 0m84-1l4 2m109 6l0 2m17-14l2 1m43-5l-1 1m3 12l2 3m-19 13l1 2m-6-12l1 2m-24 1l1 0m-5 8l2 3m-54-4l-2 4m-20-8l2 2m-56 3l3 2m-19-7l1 2m-73 3l1 0m-47-5l2 0m-36-7l1 2m-24-2l-1 1m-25 6l-1 3m-13 2l1 3m-96-4l3 2m-12-13l0 3m-7 21l-1 1m56-8l5 0m30 9l0 1m56 2l-1 2m75-16l3 0m-2 4l1 4m60-2l3 2m69-5l2 4m140 0l-1 4m8 0l1 3m38-12l-2 4m4 13l1 1m-17 7l1 2m-31-11l1 2m-59-3l0 1m-24 6l-2 4m-51-6l1 1m-37 0l3 1m-27 0l2-1m-40 8l0 4m-7-19l1 0m-48 1l0 3m-52 7l2 0m-7-2l3 3m-28-1l0 2m-40-8l0 3m-75-3l0 2m-2 14l2 2m49 6l1-1m111 2l4 3m17-16l1 3m313 11l-2-1m-35 3l4 2m-23 10l1 1m-126-12l1 1m-17 2l1 1m-45-5l-4 2m-72 11l-2 3m-28-15l2 4m-20-6l0 2m-81 7l1-1m-26 7l2-3m105 19l-2 2m3-11l-3-1m152-3l-2 0m13 7l-1 1m95-7l1 4m118-1l-1 0m24 2l-4 1m4 8l-2 1m-43 13l-4-2m-90-3l3 2m-28 3l0 4m-46-16l1 3m-93-6l1-2m-185 8l4 0m49 13l1 1m66 11l-1 1m74-5l3 1m48 3l1 1m37-16l0 1m5 8l-2 2m20-4l0 2m115-8l-4 2m47 1l-2-2m16 12l-3 3m9 13l1 2m-78-17l-1 1m-6 2l1 4m-114 7l0 1m-124-14l-2 3m0 4l0 2m-112-1l0 1m-36-1l4 2m-42 2l4 0m75 10l-2 1m87-2l-1 2m62 6l0 4m11-12l0 1m75 3l-1 1m189-11l3 4m7 4l0 1m23 8l1-1m-158 8l1 1m-20 7l0 3m-30-15l-4 2m-82 3l1 0m-12-6l1-1m-156 1l-3 3m4 11l-2-1m134 9l0 2m102 4l1 2m30-1l0 3m29-14l0 1m1 9l-1 3m35-11l1 2m43 4l2 0m56 18l-1 1m-21-4l-3-2m-16 6l0 3m-19-14l1 1m-23-3l2 2m-50 2l-2 1m-42 6l-1 1m-82-1l1-2m-25-8l4 0m-104 5l-2 3m-6-3l0 1m-79-7l0 1m-12 2l-4 3m-52 8l3 2m148 8l1 1m16-12l3 1m19 3l1 0m78 0l1-1m15 1l1-1m20 7l5-1m24-7l1 2m66 10l-4 1m63-10l-1 1m82 11l-1 1m-17 7l3 1m-11-6l1 4m-46-1l-1 1m-3-6l1 5m-9 5l-2 0m-28-9l-4-1m-90 6l2 0m-64 2l3 1m-92-7l-4-2m-64 5l1-5m-13 12l2-1m-96 6l-3 3m65 4l2-1m62-5l3-3m139 8l3 3m113-9l-4-1m65-1l-3 3m66 0l2 2m-247 18l1 4m-29-3l4 1m-122-4l3-2m-39 7l4 0m-74-6l1 4m-27 2l2 4m101 4l1-1m173 13l4 1m13-1l4 0m27-4l2 0m110 2l1 4m41-7l-1 4m-16 15l0 2m-43-1l2 1m-13-12l1 1m-112 10l1 0m-9-4l4 0m-30 1l1-1m-13-9l2-2m-14 5l0-4m-38 11l-2-2m-119 9l1 3m40-3l1-1m126 14l1 0m23-2l4 1m16-5l2 3m101-2l2-3m128 19l-1 1m-31-10l-1 3m-79 6l0-3m-200-2l3-2m-28 6l1 1m-46 4l3 2m-73 14l4 1m149-7l-2 4m38-5l0 4m136-8l4-2m86 5l-1 1m55-2l-3 1m-2 13l-2 1m-2 9l0 2m-191-10l0 3m-35-3l-2 0m-27 2l-4 0m-100 9l-4-3m-7-6l-3 0m-7-3l-3 3m-14 17l0 3m64-7l1-3m11 7l-3-3m78 0l-3 0m132-4l2 0m37 10l1 1m59 4l2-1m38-5l0 2m3-3l-3 2m12 13l0 4m-10-6l-3 3m-38-7l1-3m-88 11l3 1m-90 0l0 4m-5-1l4 1m-240-2l3 1m-11-13l2 1m-24 3l0 3m-51 4l-1 5m219 3l-2-1m13 0l-2-3" stroke="#202224" stroke-width="8.8"/>
<path d="M508 15l-4 1m-77 12l3 2m-30-6l2-3m-48 9l-1 4m-182-17l2-1m-41 3l2 2m-93 19l1 1m146 0l2-1m204-1l2-1m68-6l-4-1m-4 27l-2 1m-19-9l-1 4m-21 2l1-1m-212 4l1 0m-55-7l0 2m-26-1l1 2m-4 12l0 1m47 8l-2 0m80-1l-1 4m21-3l-2 4m65-8l-2 0m172 6l-1 3m30-6l3 2m-50 14l-1-1m-55-3l1 2m-160-1l-2 0m-19 0l2 4m-118-8l2 1m-4 9l1 3m23 10l2 2m10 2l1 3m102-3l-1 0m12-14l-2-2m29 7l-3 2m127-2l-1-1m22 4l0-4m20 1l-1-4m64 28l-2 3m-60-4l-4-3m-12 6l0-3m-13-12l0-4m-8 16l-1-1m-111-11l-1 1m-112 10l2 0m-74 1l5 1m-67-6l0 4m-31-11l-1 2m25 19l1 0m176-1l3 0m38-2l-1 1m103-3l-3-1m14 13l-1 0m3-1l-2-1m17 0l0-2m56 3l-1 1m80 3l0 2m-19 2l-1 5m-55 7l4 0m-33-14l-1-1m-62-1l-4-1m-10 15l2 1m-23-4l1 3m-50 2l-1 2m-15-10l1 3m-79-11l4 0m-25 10l1 1m-19-6l0 1m-135 24l2 0m191-7l3 1m7 5l4 0m38-5l2 1m42-1l1 1m62-7l1 4m44 7l-4 3m34-9l0 3m16-6l2 3m38 7l0 3m-49 7l0 5m-21-4l0 1m-54 6l1 2m-19-5l1-2m-153-5l3 3m-124 6l2 1m-16-7l3 0m-15-6l0-1m267 16l1 0m35 8l3 3m77 3l-1 2m-134 8l0 3m-42-5l3 1m-85-8l-4 3m-79-4l1 3m-30 5l3 1m-22 4l3-1m-12-4l4 1m-2 13l2 2m23-5l1 0m78 11l3 2m139-1l2 1m74-8l1 5m82-10l2 2m39-4l0 1m38 27l-3-1m-19 1l-3 3m-22-2l-3 3m-25-4l2-1m-92-8l1 4m-178-8l0 1m-3 8l1 4m-76-9l0 2m-4 7l3 2m-67-2l1-4m12 21l1-4m13 5l3 2m95-4l0 1m154 0l0 2m5-16l2 0m25 11l2-1m-1-6l3 3m19 0l1 0m17 3l3 0m42 0l1 1m19-5l3 0m53-4l-2 0m8 21l-4 2m-171 3l0 2m-42 1l-1 2m-12-8l-1 3m-14 1l1 3m-112-8l0 3m-5 14l-4-2m116 3l0 3m93-7l0 4m37 4l3-1m106 9l-5-1m-75-4l1 1m-43 1l1 1m-25 3l-2 1m-34 7l1 2m-48-2l3-3m-57-5l2 2m-202 1l3 0m-16 18l1-2m35-5l0 4m80 1l-3-1m69-1l0 2m199-3l1 1m42 7l4 2m34-8l-2 1m73 9l2 3m-137 7l4 1m-86 0l0 1m-24-14l2 0m-12-1l1-2m-23 6l0-1m-51 8l4 1m-18-10l1 2m-39 12l-3 3m-27-17l-3 2m-21-3l-3 0m-2 3l-4-1m-67 9l-1 3m0-15l0 4m-6 20l-3 0m57 6l-1 0m101-4l1 1m46-9l2 1m16 8l3-2m204-1l4 1m-173 21l1-2m-169-9l-3-1m-122 3l1 3m46 16l0 1m179-4l2 0m135 6l2 4m11-13l-1 1m73 10l0 1m77-13l-2 0m-42 28l0 1m-47 1l-2 2m-42-14l-2 1m-17 1l0 1m-7 6l-1 4m-81-13l4-1m-31 9l3 2m-145-12l2-1m-39 15l2-1m-35 0l2 3m-26-14l0 1m-11 10l-1 4m37 12l0 1m79-6l3-4m31-2l2-3m163 13l1-1m93-8l-3 2m16-5l-2 1m128 7l-1 2m-15 18l-2 3m-62-5l1 2m-64-4l-2 2m-52 4l-1 2m-8-10l2 3m-42-4l4-2m-6 7l2-3m-91 7l-1-3m-148-6l1 1m-56 4l4 1m-11-8l0 1m-8 11l1 1m261 11l3-2m40 0l1 0m87 4l2 1m51-6l2 3m7 9l2 0m-157-4l2 2m-102 1l-2 1m-32-5l4 1m-118 22l-1 1m25-2l3 3m25 1l2-2m74-6l-1-1m45 13l1-2m100-10l3 0m-3 10l3-1m174-2l-2 4m23-10l-1 3m23 7l-2 4m-75 10l0 1m-4-4l1 1m-29 3l4-2m-9-9l4 2m-62 3l2-3m-29 4l4-1m-17 0l2 1m-291 0l-1 1m-40 19l-1 0m288-1l-1 0m34-6l3 2m45 2l-1-2m38-2l2-2m95 9l1 2m32 1l-2 1m-84 10l2 2m-32-2l-1 3m-23-12l4 1m-151 5l-3 3m-23-3l-2 1m-83 9l-4 1m-22-7l2 2m-22-9l2 1m-104 10l-1 2m16 11l-1 3m8-6l-1 1m7-8l-1 4m17-4l2 4m107 9l-2 3m59-12l-2-1m52 12l-4 2m59-7l2 2m-1-11l0 4m14 4l4 3m37-10l2 0m65 4l2 2m7 7l1 0m76-1l4 0m19 3l3 3m-84 5l1 4m-74-8l-3 3m-16 5l0 1m-14-5l2 2m-101-10l-1 0m-181 3l1 2m-2 15l3 3m36-4l3-1m343 2l1 1m64-4l3-4" stroke="#424548" stroke-width="5.2"/>
</g>
<g transform="translate(0 -4.39) scale(5.85)" opacity=".93" shape-rendering="crispEdges">
<path d="M6 5h1v1h-1zM6 6h1v1h-1zM34 6h1v1h-1zM40 9h1v1h-1zM6 10h1v1h-1zM46 12h1v1h-1zM16 14h1v1h-1zM35 14h1v1h-1zM13 15h1v1h-1zM48 15h1v1h-1zM12 17h1v1h-1zM46 17h1v1h-1zM36 18h1v1h-1zM37 19h1v1h-1zM35 20h1v1h-1zM3 22h1v1h-1zM14 22h1v1h-1zM38 23h1v1h-1zM6 25h1v1h-1zM3 26h1v1h-1zM39 26h1v1h-1zM35 27h1v1h-1zM39 27h1v1h-1zM46 27h1v1h-1zM34 28h1v1h-1zM47 28h1v1h-1zM34 30h2v1h-2z" fill="#22103f"/>
<path d="M40 5h1v1h-1zM28 7h1v1h-1zM36 9h1v1h-1zM42 9h2v1h-2zM43 10h2v1h-2zM13 11h1v1h-1zM39 11h1v1h-1zM44 11h1v1h-1zM12 12h1v1h-1zM17 12h1v1h-1zM35 12h1v1h-1zM37 12h1v1h-1zM10 13h1v1h-1zM36 13h1v1h-1zM45 13h1v1h-1zM47 13h1v1h-1zM8 14h2v1h-2zM12 14h1v1h-1zM45 14h1v1h-1zM12 15h1v1h-1zM44 15h1v1h-1zM35 16h1v1h-1zM36 17h2v1h-2zM42 17h1v1h-1zM38 18h1v1h-1zM48 19h1v1h-1zM4 20h1v1h-1zM9 21h1v1h-1zM12 21h1v1h-1zM14 21h1v1h-1zM6 22h1v1h-1zM35 22h1v1h-1zM37 25h1v1h-1zM40 25h1v1h-1zM45 25h1v1h-1zM5 26h2v1h-2zM29 26h1v1h-1zM3 27h1v1h-1zM43 27h2v1h-2zM4 28h1v1h-1zM34 29h2v1h-2zM44 29h1v1h-1zM45 31h1v1h-1zM15 33h1v1h-1zM17 33h1v1h-1z" fill="#341358"/>
<path d="M40 6h1v1h-1zM34 7h1v1h-1zM34 8h1v1h-1zM38 9h2v1h-2zM15 10h1v1h-1zM14 11h1v1h-1zM36 11h1v1h-1zM38 11h1v1h-1zM43 11h1v1h-1zM44 12h1v1h-1zM16 13h1v1h-1zM37 13h1v1h-1zM36 14h2v1h-2zM35 15h1v1h-1zM45 15h2v1h-2zM6 16h2v1h-2zM37 16h1v1h-1zM45 16h1v1h-1zM35 17h1v1h-1zM43 17h1v1h-1zM8 19h1v1h-1zM37 20h1v1h-1zM4 21h1v1h-1zM5 22h1v1h-1zM40 22h1v1h-1zM48 22h1v1h-1zM37 23h1v1h-1zM39 23h1v1h-1zM47 23h1v1h-1zM4 24h1v1h-1zM46 24h2v1h-2zM42 25h1v1h-1zM41 26h1v1h-1zM45 26h1v1h-1zM4 27h2v1h-2zM44 28h1v1h-1zM46 29h1v1h-1zM44 30h1v1h-1z" fill="#4b1869"/>
<path d="M41 10h1v1h-1zM15 11h1v1h-1zM40 12h1v1h-1zM38 13h1v1h-1zM43 13h1v1h-1zM10 14h1v1h-1zM13 14h2v1h-2zM38 14h1v1h-1zM40 14h1v1h-1zM36 15h1v1h-1zM10 16h1v1h-1zM36 16h1v1h-1zM39 16h1v1h-1zM43 16h1v1h-1zM38 17h1v1h-1zM6 18h1v1h-1zM37 18h1v1h-1zM5 19h1v1h-1zM6 21h1v1h-1zM13 21h1v1h-1zM42 21h2v1h-2zM39 22h1v1h-1zM41 22h1v1h-1zM46 22h1v1h-1zM5 24h1v1h-1zM39 24h1v1h-1zM4 25h1v1h-1zM41 25h1v1h-1zM40 26h1v1h-1zM43 26h1v1h-1zM5 28h1v1h-1zM32 30h1v1h-1zM34 33h1v1h-1zM20 34h1v1h-1z" fill="#6a1f6f"/>
<path d="M21 11h1v1h-1zM40 11h1v1h-1zM38 12h2v1h-2zM41 12h1v1h-1zM43 12h1v1h-1zM11 13h1v1h-1zM14 13h1v1h-1zM17 13h1v1h-1zM11 14h1v1h-1zM39 14h1v1h-1zM43 14h1v1h-1zM8 15h3v1h-3zM37 15h3v1h-3zM43 15h1v1h-1zM41 16h2v1h-2zM44 16h1v1h-1zM6 17h3v1h-3zM39 17h1v1h-1zM41 17h1v1h-1zM8 18h1v1h-1zM41 18h1v1h-1zM6 20h1v1h-1zM40 20h1v1h-1zM43 22h1v1h-1zM4 23h1v1h-1zM41 23h1v1h-1zM41 24h1v1h-1zM44 24h2v1h-2zM44 25h1v1h-1z" fill="#8c2a6b"/>
<path d="M37 11h1v1h-1zM13 12h4v1h-4zM42 12h1v1h-1zM13 13h1v1h-1zM44 13h1v1h-1zM41 14h1v1h-1zM11 15h1v1h-1zM9 16h1v1h-1zM7 18h1v1h-1zM7 19h1v1h-1zM47 19h1v1h-1zM46 21h1v1h-1zM47 22h1v1h-1zM5 23h1v1h-1zM42 23h1v1h-1zM43 24h1v1h-1zM34 26h1v1h-1z" fill="#b03a61"/>
<path d="M37 10h1v1h-1zM42 11h1v1h-1zM41 13h1v1h-1zM40 15h1v1h-1zM42 15h1v1h-1zM46 18h1v1h-1zM6 19h1v1h-1zM38 19h1v1h-1zM42 19h1v1h-1zM47 20h1v1h-1zM5 21h1v1h-1zM39 21h1v1h-1zM41 21h1v1h-1zM45 21h1v1h-1zM36 23h1v1h-1zM36 24h1v1h-1zM5 25h1v1h-1zM41 27h1v1h-1z" fill="#cf4d47"/>
<path d="M15 13h1v1h-1zM40 16h1v1h-1zM39 19h3v1h-3zM5 20h1v1h-1zM42 22h1v1h-1z" fill="#e56c33"/>
<path d="M42 10h1v1h-1zM27 11h1v1h-1zM41 11h1v1h-1zM12 13h1v1h-1zM40 13h1v1h-1zM44 21h1v1h-1zM36 22h1v1h-1zM24 30h1v1h-1z" fill="#ee9130"/>
<path d="M38 10h1v1h-1zM39 13h1v1h-1zM43 18h1v1h-1zM46 19h1v1h-1zM44 22h1v1h-1z" fill="#edbb3f"/>
<path d="M42 20h1v1h-1zM38 21h1v1h-1zM47 21h1v1h-1zM44 26h1v1h-1z" fill="#e7da68"/>
<path d="M39 10h1v1h-1zM42 13h1v1h-1zM41 15h1v1h-1zM8 16h1v1h-1zM40 17h1v1h-1zM40 18h1v1h-1zM44 18h2v1h-2zM43 19h3v1h-3zM38 20h2v1h-2zM41 20h1v1h-1zM43 20h4v1h-4zM43 23h3v1h-3zM37 24h1v1h-1zM43 25h1v1h-1z" fill="#cbd184"/>
</g>

</g>
<g transform="translate(1760.3 74.8)" clip-path="url(#cpC3)">
<rect width="281" height="290.7" fill="#020203"/>
<g transform="scale(.5)" stroke-linecap="round" fill="none">
<path d="M232 1l-4 0m16 9l1-3m12 4l1-2m29 1l1-1m163 3l1-1m45-11l-2 1m22 4l-3 2m35 12l-1-2m-10 8l-1 0m-42-8l-1 2m-2 10l1 3m-18-11l3 1m-23 9l2-2m-14 2l3-1m-77 0l2-1m-22-1l2-2m-29-5l0-2m-75 11l0-5m-47-5l0-3m-19 12l0-1m-72 2l3 2m-24-4l4 2m-66 11l0 2m9 3l0 1m203-7l2 1m109 2l2-3m177-1l-3 2m9-2l0 4m19 21l1 0m-6-3l1 3m-17-1l2 1m-2-13l0 1m-154-2l1-1m-44 0l1-1m-65 5l-2-3m-145 9l3 2m-13 0l2 4m-19-9l3 3m-41 19l-4-1m84-7l3 2m1 6l4 0m22-10l1-1m46 6l2-3m17 6l1-1m44-7l2-2m152 1l0 5m10 0l-1 5m59 0l4-1m-3-12l2 1m-471 24l-1-2m-4 24l-4 0m30-9l-2-3m23 6l-1 3m484-7l0-2m-11 15l0-1m-3 5l-2-3m-447 7l1 0m-74 2l-3 1m-20-12l-1 0m27 24l-1 2m521 11l2 0m-522 25l-1 2m457-10l3 3m55 13l-3 2m-497 2l0 1m-39-9l-2 4m24 23l0 2m4-5l0 4m349 8l0-2m-360 4l-3-1m-2 21l-1 4m13-3l-2-2m537 19l-1-2m-9-3l-1-1m-546 0l1 2m4 15l1 1m318 51l1-1m-319-2l1-3m276 26l-4 0m-20 23l0-1m236-2l-1 4m-6 20l-3-2m-11-5l-5 1m-128 0l3 0m-15-1l1-3m-29 2l2 2m-99 18l2 2m111 0l1-4m67-2l1 2m24 0l2 4m60-9l-3-1m70 5l-1 1m22 19l3 2m-28 1l-2 3m-249-12l1 1m-26 7l2 1m-10-3l3 3m-45-4l2 0m5 12l4-2m17 12l1 0m16-2l4-2m148-5l2 1m29 16l1 0m-159-7l2 1m-27 14l2 2m-66-9l1 0m11 20l1 1m7-12l2 0m8 9l2-2m57-4l2 1m104 1l2 0m4 7l1-4m116 0l0 3m32-12l1 2m-118 29l2-2m-10-5l2-3m-17 7l0-2m-8-3l1-1m-71-6l0 1m-79 3l5 1m135 18l2-2m7 1l1-1m119 7l-1 3m33-5l4 1m-2 6l-1 3m-42 5l-2 3m-36-2l-2 3m-87-7l3-2m-75 6l2 4m-58-11l3 1m-72-2l-1 3m25 18l-3 1m98-5l1 2m96 8l2 2m151-11l-1 1m-13 19l-2 3m-37-1l-1 0m-61 4l2 2m-86-15l1 1m-59 6l0 1m-84 12l0 3m61 2l2-1m14-6l4 0m60 0l0 1m21 4l2 1m68-5l0 4m18-1l1 3m17 5l1 4m68-7l3 2m-69 7l1 2m-62 4l-1 3m-6-3l-1 1m-33-2l3 3m-41-6l3 0m-45 6l1-2m-36-7l1-4m-17 11l1 0m8 9l0-2m47-2l1-1" stroke="#17191b" stroke-width="8.4"/>
<path d="M251 2l1-1m125 12l1-1m27-6l1-2m78 3l0 1m22 6l1 2m10-4l-1 1m19-5l0-1m-51 16l2 2m-90 3l2 1m-81 0l1-2m-10-7l4-1m-40-2l1-2m-117 4l-2 1m-30 3l3-1m-45-1l3 2m-23 4l-1 5m80 9l1 0m130-5l0-2m226 10l1 4m53 9l0 2m-284-2l-3-2m-50 5l1-2m-14-2l3-3m-23 9l3 3m-9-17l4 1m-28 11l1 1m-58 2l-1 2m-39 5l-1 0m29 2l-1 0m38 0l2 3m68 3l0-1m36-6l1-2m265-5l2 0m31 4l2 0m11 15l1-3m-334 4l3-3m-24 2l1 0m-35 3l2-2m-61 9l1 1m-25-13l-1-2m-44 14l-4-3m-2 7l-4-1m20 3l-3-2m66 14l0 2m454-14l0-3m8 24l0-1m-20-6l1-3m-476 12l-2 1m-24-2l-5 1m-29 16l0 3m57 2l0 1m471 0l1 0m-478 9l0 2m-44 17l0 4m370-4l3 0m109-11l0 4m61 7l-1 2m-527 18l0 1m531 16l-1 3m-545-3l-3 1m553 27l3-2m-17 11l0-3m-531 17l1 4m2 26l2-3m273 41l-1 1m255 1l2-4m-212 13l3-1m-16 12l2 0m-4-10l4 1m-64 2l-1-1m58 18l2 0m229 17l1 0m-158 0l3 2m-97 13l2-2m38 9l1 0m57 0l-2 4m159-18l3 3m-55 24l-2-4m-23-1l-3 0m-14-6l-2 2m-29-1l1 3m-110 6l2 1m-118 13l3-2m19 6l3 0m28-8l2 1m86 6l1 1m45 2l4 0m38-13l1 2m16 11l1 2m7-16l-3 2m105 17l1 0m-34 10l-2 2m-190-7l1 2m-19-9l1 1m-15 13l1 2m-52 14l1 2m118-7l2 2m38 1l2-1m25-10l1 2m18 2l4-2m24 4l1 0m16 9l1 4m-13 9l1 1m-250 2l4 1m52 3l0 3m13-7l0 4m25 5l0 4m115-11l2 1m77 17l0 1m-204-6l3 4m-24-4l0 3m-61 9l2 1m-34-1l-1 4m13 7l0 4m148-11l4 1m34 5l3 1m4 7l3 1m11-2l2 1m25-7l0 4m16-7l0 2m9 0l-1-1m8 0l-1 1m57 19l-2 2m-32-10l-2-1m-23 1l-4 2m-23 9l-1 4m-63-7l-1 4m-20-6l-1 3m-109 0l2 3m-40-1l0 1m-7 12l1 1m229 2l1 3m62-1l-2 0m12 3l-1 1m-159-3l2 3m-21 8l1-1m-92-6l2-2" stroke="#2a2c2f" stroke-width="7.6"/>
<path d="M232 7l1-3m40-1l-2-4m34 16l1-2m26 0l1-3m32-5l4 1m89-5l1-1m18 5l0 2m13 7l-1 4m-136 7l3-2m-82 0l1-2m-130 7l2-4m-138 15l1 1m9-4l0 5m101-4l3 0m71 7l1 0m15-3l2-1m47 1l1-1m25-3l2-4m94 9l3-2m65 1l3-1m31 6l3 1m48 3l0 1m-18 2l4 1m-390-1l1 3m-5-8l4 2m-46 10l-2 1m-41-10l-1 1m-23 12l-3 2m138 6l3 4m23-3l3 2m348 17l1-1m-51-1l2 3m-435-8l-1-1m-4 13l-1-1m452 4l2 3m-480 9l-1 1m22 30l-1 2m7-8l-1 2m468-8l2 3m-1 26l3 3m-137-11l1 4m-365 16l-1 4m9-10l-1 2m490 3l2 1m-123 12l1-2m-3-5l2-2m169 111l-3-2m-6 25l1-1m-15 7l4-2m-236 4l2 0m-293 4l2-2m266 6l-3 3m277 22l3 0m-9-2l4 0m-219-11l3-3m-64 17l-1-3m-35 17l-3 0m50-12l-4-1m15 5l0 3m12-1l0 4m45 3l1 1m167-2l-4 1m34 3l2 3m-6 7l0 4m-39-6l-2 1m-252-10l-1-1m-10 16l-1 3m74-1l3-4m41 15l4 1m7-4l1 0m114-3l1-3m41 0l-2 1m-2 13l-1 0m-11 2l-3-3m-23 16l1-2m-36-10l0 1m-16-1l-1 3m1 4l0 1m-19-1l-3 4m-195 14l1 0m87-1l2-2m4-7l1-1m199-1l-2-1m24 6l-1 0m19 22l2 2m-72-9l-2 2m-93-7l1 3m-30 3l1 4m-79 1l2 2m13 4l2 0m131 4l2 0m15 9l4 1m70 0l2 3m9 9l1 2m-41-6l4 1m-23 6l3 2m-13-14l2 0m-7 4l1-1m-29 1l2-1m-131-1l2 2m-25-6l5-1m-15 13l3-2m-57 4l1 1m-14-3l4 0m-19-9l-1 3m43 10l2 1m18 14l2 0m17-2l2 0m55-9l2 2m172 9l-1 4m51-13l1 3m-75 22l0 1m-27-4l1 0m-47 0l3 0m-55-3l-1 2m-67-9l3 2m-62 8l-3 4m60 8l0 1m25-6l-1 3m25-2l-3 1m22 5l0 2m13-9l1 4m7-5l2 1m9 7l0 2m72-11l2 2m-2 15l3 3m-28 3l1 2m-44 3l0 2m-46-5l1 2m-27-8l3 3m-40-6l1 2m-24 27l3-3m3 0l1-1m137-2l0 3m9-4l-1 2m18 6l0 1m2-15l0 2m10 11l2 3m53-12l-1 1m51 9l1 4m15-1l3-1m-25 5l-1 1m-30 6l-2 3m-19 0l-1 2m-26-6l-2 2m-27-11l-1 3m-122-1l1-2m-14 8l2-4m-69 8l2 1m53 0l-1-3" stroke="#202224" stroke-width="8.8"/>
<path d="M279 1l-1-3m24 3l2 0m6 14l0-2m43 0l2 0m9 3l2-4m97 3l2 0m92 2l2-2m-30 6l-3 2m-73-4l2 0m-9-3l2-2m-76 3l3 0m-54 12l2-1m-33-11l1-4m-55 16l3-3m-20 1l1-3m-23-4l0-1m-60 12l3-2m31 18l2 0m30-12l2 0m22 9l3-3m37-2l3-3m8 9l0-3m57-7l2-2m93 11l2 2m114-3l-2 2m-67 4l2 1m-40 11l1 1m-11-9l0 3m-5 6l0 2m-65-16l3 0m-60 5l2-1m-55-1l0-2m-7 15l2-1m-9-3l1-2m-227 20l-4 0m11 0l-4 2m63-13l-3 1m19 5l-1 3m33-10l2 4m40 9l2 2m29-4l2-3m62-10l1-1m205 4l0 2m44 0l4 0m30 7l4 0m8 3l1 2m-49 12l2 2m-257-13l1 0m-32 1l2-3m-112 3l2 1m-17 7l2 4m-18 2l-1 1m19 12l4-1m413-6l4-1m2 6l1 1m-27 4l-1 4m-421-2l-1 4m-29-1l-4-2m-30 11l-3 2m374 19l1 2m173 37l-3-1m-518-9l1 2m-6 11l1 1m-13 5l-4 2m21-2l0 3m501 1l0 1m-533 52l-1 1m547 18l-2-3m-537 13l2-1m544 36l0-1m-236 10l3-2m202-4l2 0m33 20l1-3m-32 5l3 0m-215-5l2 1m-32 5l-3 3m20 17l1 1m210-6l0 1m47 3l4-1m-49 20l-3-1m-176 3l-1-1m-11-10l4-3m-100 9l-4 3m-9 17l2-3m88-1l2 0m40-10l2-1m82 8l-1 2m27-6l-2 0m54-3l-1-1m14 29l-3-2m-27 1l-1-1m0-8l-1-1m-39 15l0 2m-15-7l-3 4m-56-10l3 3m-39-2l2 1m-3-5l3-1m-65 3l3 3m-11 1l1 0m-46 4l2 0m-28 16l1-4m45-3l3-1m102 0l1 1m22-1l0 1m161 5l-2 4m13-2l1 3m-54 5l-2 2m-3 3l-3 3m-40 1l4 1m-68 0l2 4m-13-5l0 3m-46-13l1 0m-10 5l2-1m-82 7l1-2m-55 11l2 2m31 4l2-1m18-7l3-2m53 2l1 0m65 7l2 0m70-12l2 0m70 1l1 0m19 2l1 2m34-4l2 1m-190 20l3-1m-4 5l5 1m-44-5l0 1m0 8l1 2m-15-10l3 4m-132 3l3 3m-2 11l-1 2m50-5l2 0m45 0l4 2m73-4l1 0m12-1l3 1m38-4l1-2m8 11l2-3m126 19l-1 4m-56-1l-2 3m-11-11l-3 1m-22-2l2 4m-33-1l1-3m-12-4l2-3m-45 7l1 1m-40 9l0 1m-69-10l2 1m-37 4l-1 4m-14-12l2 4m41 19l2 4m12-12l1 2m9-2l0 1m90 8l1 1m31 2l0 4m100 2l-2 0m-52 6l0 2m-62-12l0 3m-80 8l2 2m-61-8l-1 4m-3 1l2 2m-40-12l-2 2m-3 6l-1 4m115 9l2 0m93-2l1 1m96 5l-1 1m1-8l-4 2m15 23l-3 0m-48 2l3 2m-3-8l1 2m-177-7l-1-2m-60 15l4 1m-27-16l2 2m175 15l-1 5" stroke="#35383b" stroke-width="6.4"/>
<path d="M342 14l2-1m82-6l1-1m105 0l-1-3m13 13l0-4m-37 18l-2 3m-26-3l1 2m-44-4l4-1m-106-10l3-3m-86 11l1-1m-32 8l4 0m-83-6l1-2m-35 1l1-2m-53 4l4 1m-9 1l1 1m-38-4l2 2m245 9l1-1m61 4l1-2m52-2l0-1m136 8l2 2m30-9l-2 3m18-7l-3-3m-97 31l4 2m-121-9l3-2m-54-3l0-5m-5 17l-3-3m-71-8l3-3m-33 8l2-1m-12-2l1 1m-145 9l-3 4m-18-7l0 1m-3-9l0 1m45 27l-3-1m84 1l3 0m137-8l2-2m176-3l3 2m33 9l3-1m4 1l4 1m56 16l1-1m-31-10l2-1m-443 9l-1 0m-63-4l-2-2m-4 21l-1-2m24 5l0-1m61-3l1 0m436 15l1-1m-425 6l2 4m-29-10l0 1m-11 1l-2 1m1-8l-2 0m-17 14l-1 0m-45 3l-2 0m49 13l-1 1m446-7l-2 0m59-8l0-1m9 12l0-1m-14 15l0 1m-505 3l1 4m-13-7l-1 4m-15-10l-3 1m18 18l-1 3m500 0l3 2m24 6l-2 2m-181 21l-1-1m184-5l-4-2m-13 27l4 1m3 12l2 0m8 66l-1 0m-14 38l4 1m-25 6l0 4m-9-10l-2 4m-173 7l4 0m-28-2l1 0m-7-3l1 3m-48 10l-4-2m19 7l-3-2m18 3l-2 2m77-1l2 0m129 0l-4 0m37 18l-2 1m-197-13l1-4m-87 10l-2 2m8 20l2 1m127-11l0 1m175 10l0 2m-13 11l-2 1m-129-6l0 1m-20 0l-1 3m-9-8l1 1m-11-3l1 3m-104 0l2 4m-7-8l3 3m-22 7l3-3m32 11l3 2m11 5l3 0m86-4l3 2m39 2l4 3m111 9l-1 4m-27 3l-3 2m-31-4l-1 4m-7-3l4 2m-59-11l0 2m-7 6l4 1m-5-9l2 0m-61 5l1 2m-56-7l2 1m-78 8l2-4m-14-1l1-1m49 18l4 1m146-7l4 1m8 0l2-3m48 8l3-2m75 8l5 1m2 15l1 0m-44 2l2 4m-156-7l2 1m-105-3l3 3m-15-13l4 0m-48 19l-2 1m10 8l0 1m14-8l1 1m15 6l2 4m36-4l1 0m15-11l1 1m56 11l0 1m154-3l-1 2m21-9l0 2m45 14l2 2m-116-6l2-1m-63 14l4-1m-4-12l1-2m-115 11l1 0m-20 1l3 2m-58-2l-2 2m120 15l-1 3m97-11l3 2m91 0l-1-2m22 10l-3-1m7 3l2 3m19 2l0 1m-23 9l-4 0m-3 1l-1 0m-46-11l-3 2m-5 3l0 5m-105-13l-2 4m-21-4l1 3m-27 8l1 1m-98-7l-1 1m59 11l2 3m54 7l1 0m23-1l1 1m8-12l-2 2m135 20l-1 4m-53-10l0 2m-9 3l1 2m-37-7l-1 3m-43 0l4 0m-20 10l2-2m-104-7l2 1m-28 5l2 1m110 9l4-1m106-1l2 3m121-1l1 0" stroke="#424548" stroke-width="5.2"/>
</g>
<g transform="translate(0 0.0) scale(5.5)" opacity=".93" shape-rendering="crispEdges">
<path d="M22 0h1v1h-1zM28 0h1v1h-1zM30 0h1v1h-1zM40 0h3v1h-3zM45 0h1v1h-1zM49 0h2v1h-2zM2 1h1v1h-1zM8 1h1v1h-1zM11 1h1v1h-1zM18 1h1v1h-1zM25 1h1v1h-1zM29 1h1v1h-1zM50 1h2v1h-2zM2 2h1v1h-1zM22 2h1v1h-1zM41 2h1v1h-1zM14 3h1v1h-1zM39 3h1v1h-1zM46 3h1v1h-1zM48 3h1v1h-1zM13 4h1v1h-1zM25 4h2v1h-2zM9 5h1v1h-1zM18 5h1v1h-1zM41 5h1v1h-1zM3 6h1v1h-1zM12 6h2v1h-2zM21 6h1v1h-1zM44 6h1v1h-1zM46 6h1v1h-1zM49 6h1v1h-1zM51 6h1v1h-1zM6 7h2v1h-2zM45 7h1v1h-1zM49 7h1v1h-1zM1 8h1v1h-1zM7 8h2v1h-2zM5 9h1v1h-1zM5 10h1v1h-1zM1 11h1v1h-1zM46 12h1v1h-1zM1 15h2v1h-2zM44 15h1v1h-1zM50 16h1v1h-1zM1 17h1v1h-1zM51 22h1v1h-1zM51 25h1v1h-1zM48 27h1v1h-1zM51 28h1v1h-1zM51 29h1v1h-1zM27 30h1v1h-1zM51 30h1v1h-1zM25 31h1v1h-1zM47 32h1v1h-1zM27 33h1v1h-1zM47 34h1v1h-1zM31 35h1v1h-1zM29 36h1v1h-1zM32 36h1v1h-1zM35 36h1v1h-1zM46 38h1v1h-1zM44 39h1v1h-1zM37 40h1v1h-1zM45 44h1v1h-1zM27 49h1v1h-1zM51 49h1v1h-1zM42 50h1v1h-1zM51 51h1v1h-1zM51 52h1v1h-1z" fill="#150c26"/>
<path d="M19 0h1v1h-1zM24 0h1v1h-1zM29 0h1v1h-1zM31 0h1v1h-1zM34 0h1v1h-1zM47 0h1v1h-1zM0 1h2v1h-2zM28 1h1v1h-1zM41 1h1v1h-1zM44 1h3v1h-3zM14 2h1v1h-1zM29 2h1v1h-1zM34 2h1v1h-1zM43 2h2v1h-2zM2 3h1v1h-1zM16 3h1v1h-1zM23 3h1v1h-1zM31 3h1v1h-1zM33 3h2v1h-2zM49 3h1v1h-1zM14 4h1v1h-1zM41 4h2v1h-2zM51 4h1v1h-1zM0 5h1v1h-1zM21 5h2v1h-2zM40 5h1v1h-1zM43 5h1v1h-1zM8 6h2v1h-2zM20 6h1v1h-1zM4 8h1v1h-1zM49 8h1v1h-1zM2 9h1v1h-1zM47 9h1v1h-1zM2 10h1v1h-1zM3 12h1v1h-1zM1 13h2v1h-2zM4 13h1v1h-1zM46 13h2v1h-2zM50 13h1v1h-1zM3 14h1v1h-1zM11 14h1v1h-1zM46 14h1v1h-1zM1 16h1v1h-1zM39 19h1v1h-1zM6 20h1v1h-1zM51 23h1v1h-1zM14 24h1v1h-1zM40 24h1v1h-1zM10 26h1v1h-1zM19 26h1v1h-1zM49 26h3v1h-3zM50 27h1v1h-1zM17 29h1v1h-1zM3 31h1v1h-1zM4 36h1v1h-1zM33 37h1v1h-1zM44 37h1v1h-1zM47 38h1v1h-1zM50 43h1v1h-1zM18 44h1v1h-1zM30 45h1v1h-1zM46 45h1v1h-1zM7 46h1v1h-1zM15 46h1v1h-1zM41 46h1v1h-1zM49 46h1v1h-1zM48 47h1v1h-1zM36 48h1v1h-1zM47 48h1v1h-1zM51 48h1v1h-1zM29 49h1v1h-1zM32 49h1v1h-1zM47 50h1v1h-1zM38 51h1v1h-1zM47 51h1v1h-1zM32 52h1v1h-1z" fill="#22103f"/>
<path d="M10 0h1v1h-1zM23 0h1v1h-1zM27 0h1v1h-1zM39 0h1v1h-1zM43 0h2v1h-2zM3 1h1v1h-1zM6 1h1v1h-1zM10 1h1v1h-1zM27 1h1v1h-1zM33 1h1v1h-1zM48 1h1v1h-1zM0 2h1v1h-1zM3 2h1v1h-1zM6 2h1v1h-1zM25 2h1v1h-1zM27 2h1v1h-1zM30 2h1v1h-1zM0 3h2v1h-2zM13 3h1v1h-1zM18 3h1v1h-1zM25 3h1v1h-1zM29 3h1v1h-1zM42 3h1v1h-1zM45 3h1v1h-1zM16 4h1v1h-1zM20 4h2v1h-2zM24 4h1v1h-1zM27 4h1v1h-1zM30 4h1v1h-1zM39 4h1v1h-1zM44 4h1v1h-1zM48 4h1v1h-1zM10 5h1v1h-1zM16 5h1v1h-1zM23 5h1v1h-1zM2 6h1v1h-1zM4 6h1v1h-1zM11 6h1v1h-1zM18 6h1v1h-1zM48 6h1v1h-1zM2 7h2v1h-2zM9 7h1v1h-1zM44 7h1v1h-1zM48 7h1v1h-1zM50 7h1v1h-1zM3 8h1v1h-1zM5 8h1v1h-1zM45 8h2v1h-2zM51 8h1v1h-1zM46 10h1v1h-1zM2 11h2v1h-2zM50 11h1v1h-1zM4 12h1v1h-1zM51 12h1v1h-1zM0 13h1v1h-1zM49 13h1v1h-1zM2 16h1v1h-1zM50 25h1v1h-1zM51 27h1v1h-1zM48 28h1v1h-1zM50 28h1v1h-1zM29 29h1v1h-1zM24 30h1v1h-1zM27 31h1v1h-1zM29 31h1v1h-1zM30 32h1v1h-1zM48 33h1v1h-1zM29 34h1v1h-1zM50 34h1v1h-1zM26 36h1v1h-1zM44 36h1v1h-1zM47 36h1v1h-1zM48 37h1v1h-1zM50 37h1v1h-1zM27 38h1v1h-1zM51 39h1v1h-1zM26 40h1v1h-1zM41 40h1v1h-1zM51 40h1v1h-1zM45 41h3v1h-3zM47 42h1v1h-1zM49 42h2v1h-2zM44 43h1v1h-1zM32 45h1v1h-1zM34 45h1v1h-1zM51 45h1v1h-1zM28 46h1v1h-1zM47 46h1v1h-1zM51 47h1v1h-1zM18 48h1v1h-1zM50 48h1v1h-1zM27 51h1v1h-1zM45 52h1v1h-1z" fill="#341358"/>
<path d="M16 0h1v1h-1zM25 0h1v1h-1zM4 1h1v1h-1zM20 1h1v1h-1zM24 1h1v1h-1zM30 1h1v1h-1zM34 1h1v1h-1zM42 1h1v1h-1zM15 2h1v1h-1zM17 2h2v1h-2zM26 2h1v1h-1zM28 2h1v1h-1zM31 2h1v1h-1zM3 3h1v1h-1zM22 3h1v1h-1zM24 3h1v1h-1zM26 3h3v1h-3zM15 4h1v1h-1zM17 4h1v1h-1zM45 4h1v1h-1zM13 5h1v1h-1zM45 5h1v1h-1zM50 5h1v1h-1zM14 6h2v1h-2zM17 6h1v1h-1zM42 6h2v1h-2zM0 7h1v1h-1zM8 7h1v1h-1zM11 7h1v1h-1zM20 7h1v1h-1zM51 7h1v1h-1zM2 8h1v1h-1zM47 8h2v1h-2zM1 9h1v1h-1zM4 9h1v1h-1zM8 9h1v1h-1zM46 9h1v1h-1zM51 9h1v1h-1zM45 10h1v1h-1zM50 10h1v1h-1zM0 11h1v1h-1zM4 11h1v1h-1zM48 12h1v1h-1zM45 13h1v1h-1zM1 14h1v1h-1zM4 14h1v1h-1zM49 14h1v1h-1zM0 15h1v1h-1zM49 15h1v1h-1zM34 16h1v1h-1zM51 20h1v1h-1zM50 21h1v1h-1zM1 22h1v1h-1zM50 22h1v1h-1zM1 23h1v1h-1zM7 23h1v1h-1zM4 24h1v1h-1zM24 29h1v1h-1zM28 29h1v1h-1zM50 30h1v1h-1zM8 31h1v1h-1zM48 31h1v1h-1zM20 33h1v1h-1zM0 34h1v1h-1zM46 34h1v1h-1zM0 35h1v1h-1zM21 35h1v1h-1zM9 36h1v1h-1zM48 36h2v1h-2zM2 38h1v1h-1zM37 39h1v1h-1zM37 41h1v1h-1zM51 43h1v1h-1zM49 44h1v1h-1zM6 48h1v1h-1zM25 48h1v1h-1zM43 48h1v1h-1zM49 48h1v1h-1zM36 49h1v1h-1zM46 49h2v1h-2zM44 51h1v1h-1zM46 51h1v1h-1zM50 52h1v1h-1z" fill="#4b1869"/>
<path d="M35 0h1v1h-1zM26 1h1v1h-1zM39 2h1v1h-1zM51 3h1v1h-1zM2 4h1v1h-1zM22 4h1v1h-1zM4 5h1v1h-1zM5 6h1v1h-1zM16 6h1v1h-1zM23 6h1v1h-1zM17 7h1v1h-1zM42 7h1v1h-1zM43 8h2v1h-2zM4 10h1v1h-1zM7 10h1v1h-1zM9 10h2v1h-2zM2 12h1v1h-1zM50 12h1v1h-1zM33 13h1v1h-1zM34 14h1v1h-1zM34 15h1v1h-1zM51 15h1v1h-1zM0 17h1v1h-1zM51 17h1v1h-1zM49 19h1v1h-1zM2 21h1v1h-1zM49 28h1v1h-1zM26 30h1v1h-1zM29 33h1v1h-1zM16 39h1v1h-1zM43 39h1v1h-1zM17 47h1v1h-1zM17 50h1v1h-1z" fill="#6a1f6f"/>
<path d="M37 0h1v1h-1zM9 1h1v1h-1zM14 1h1v1h-1zM10 2h1v1h-1zM11 3h1v1h-1zM7 4h1v1h-1zM11 4h1v1h-1zM32 4h1v1h-1zM3 5h1v1h-1zM27 5h1v1h-1zM22 6h1v1h-1zM14 7h1v1h-1zM21 7h1v1h-1zM43 7h1v1h-1zM10 8h1v1h-1zM0 10h1v1h-1zM6 11h1v1h-1zM34 13h1v1h-1zM35 15h1v1h-1zM47 16h2v1h-2zM35 17h1v1h-1zM49 17h1v1h-1zM1 18h1v1h-1zM17 20h1v1h-1zM39 20h1v1h-1zM49 21h1v1h-1zM19 22h1v1h-1zM15 26h1v1h-1zM20 29h1v1h-1zM25 29h1v1h-1zM13 30h1v1h-1zM1 31h1v1h-1zM2 33h1v1h-1zM19 33h1v1h-1zM32 33h1v1h-1zM37 35h1v1h-1zM13 36h1v1h-1zM17 39h1v1h-1zM14 42h1v1h-1zM28 42h1v1h-1zM15 43h1v1h-1zM16 47h1v1h-1zM18 49h1v1h-1z" fill="#8c2a6b"/>
<path d="M38 0h1v1h-1zM5 1h1v1h-1zM31 1h1v1h-1zM39 1h1v1h-1zM4 2h1v1h-1zM8 2h1v1h-1zM32 3h1v1h-1zM29 4h1v1h-1zM31 4h1v1h-1zM7 5h1v1h-1zM26 5h1v1h-1zM24 6h1v1h-1zM26 6h1v1h-1zM9 8h1v1h-1zM10 9h1v1h-1zM44 9h1v1h-1zM46 11h1v1h-1zM3 13h1v1h-1zM43 15h1v1h-1zM46 15h1v1h-1zM0 16h1v1h-1zM3 16h1v1h-1zM49 18h2v1h-2zM48 24h1v1h-1zM1 28h1v1h-1zM29 28h1v1h-1zM46 28h1v1h-1zM25 30h1v1h-1zM30 31h1v1h-1zM0 32h1v1h-1zM22 32h1v1h-1zM46 33h1v1h-1zM18 35h1v1h-1zM41 35h1v1h-1zM19 50h1v1h-1zM19 52h1v1h-1z" fill="#b03a61"/>
<path d="M11 2h1v1h-1zM30 3h1v1h-1zM8 4h1v1h-1zM10 4h1v1h-1zM8 5h1v1h-1zM19 6h1v1h-1zM12 7h1v1h-1zM22 7h1v1h-1zM8 10h1v1h-1zM44 10h1v1h-1zM5 11h1v1h-1zM45 12h1v1h-1zM35 13h1v1h-1zM48 14h1v1h-1zM34 18h2v1h-2zM7 20h1v1h-1zM1 21h1v1h-1zM4 22h1v1h-1zM17 24h1v1h-1zM1 25h1v1h-1zM49 25h1v1h-1zM48 26h1v1h-1zM1 27h1v1h-1zM5 27h1v1h-1zM37 28h1v1h-1zM5 29h1v1h-1zM22 30h1v1h-1zM46 30h1v1h-1zM23 31h1v1h-1zM32 32h1v1h-1zM21 33h1v1h-1zM18 36h1v1h-1zM2 37h1v1h-1zM18 37h1v1h-1zM15 39h1v1h-1zM16 45h1v1h-1zM9 46h1v1h-1zM3 48h1v1h-1zM2 49h1v1h-1zM18 50h1v1h-1zM14 51h1v1h-1z" fill="#cf4d47"/>
<path d="M36 2h1v1h-1zM38 2h1v1h-1zM40 2h1v1h-1zM7 3h1v1h-1zM33 4h2v1h-2zM36 4h1v1h-1zM16 7h1v1h-1zM25 7h1v1h-1zM17 8h1v1h-1zM12 10h1v1h-1zM44 11h1v1h-1zM34 12h1v1h-1zM42 14h1v1h-1zM4 15h1v1h-1zM31 16h1v1h-1zM49 16h1v1h-1zM2 18h2v1h-2zM10 19h1v1h-1zM18 19h1v1h-1zM1 20h1v1h-1zM10 21h1v1h-1zM14 23h1v1h-1zM43 23h1v1h-1zM49 23h1v1h-1zM15 24h1v1h-1zM19 24h1v1h-1zM20 25h1v1h-1zM29 25h1v1h-1zM14 26h1v1h-1zM0 27h1v1h-1zM0 28h1v1h-1zM6 28h1v1h-1zM3 29h1v1h-1zM27 29h1v1h-1zM38 29h1v1h-1zM47 29h1v1h-1zM0 30h1v1h-1zM10 30h1v1h-1zM17 30h1v1h-1zM4 31h1v1h-1zM12 31h1v1h-1zM22 31h1v1h-1zM39 35h1v1h-1zM6 37h1v1h-1zM3 39h2v1h-2zM10 40h1v1h-1zM16 46h1v1h-1zM1 48h1v1h-1zM18 51h1v1h-1zM17 52h1v1h-1z" fill="#e56c33"/>
<path d="M5 2h1v1h-1zM3 4h2v1h-2zM31 5h1v1h-1zM38 5h2v1h-2zM41 6h1v1h-1zM10 11h1v1h-1zM5 12h1v1h-1zM43 14h1v1h-1zM3 15h1v1h-1zM33 16h1v1h-1zM12 18h1v1h-1zM33 19h1v1h-1zM34 20h1v1h-1zM11 21h1v1h-1zM15 22h1v1h-1zM4 23h1v1h-1zM49 24h1v1h-1zM5 25h1v1h-1zM1 26h1v1h-1zM16 26h1v1h-1zM47 27h1v1h-1zM12 28h1v1h-1zM27 28h2v1h-2zM47 28h1v1h-1zM18 29h1v1h-1zM5 30h1v1h-1zM0 31h1v1h-1zM6 31h1v1h-1zM31 31h1v1h-1zM44 31h1v1h-1zM1 32h1v1h-1zM44 32h1v1h-1zM5 34h1v1h-1zM36 34h1v1h-1zM16 35h1v1h-1zM1 36h1v1h-1zM5 36h1v1h-1zM8 37h1v1h-1zM14 39h1v1h-1zM14 40h1v1h-1zM3 43h1v1h-1zM9 43h2v1h-2zM3 44h1v1h-1zM15 44h1v1h-1zM8 45h1v1h-1zM4 50h1v1h-1zM7 52h1v1h-1z" fill="#ee9130"/>
<path d="M36 0h1v1h-1zM35 3h2v1h-2zM38 3h1v1h-1zM30 5h1v1h-1zM34 5h1v1h-1zM40 6h1v1h-1zM18 7h1v1h-1zM23 7h2v1h-2zM11 9h1v1h-1zM43 9h1v1h-1zM11 10h1v1h-1zM9 11h1v1h-1zM33 12h1v1h-1zM16 13h1v1h-1zM5 15h1v1h-1zM4 16h1v1h-1zM46 16h1v1h-1zM35 19h1v1h-1zM15 20h1v1h-1zM19 21h1v1h-1zM11 22h1v1h-1zM19 23h1v1h-1zM6 25h1v1h-1zM2 26h1v1h-1zM26 28h1v1h-1zM30 28h1v1h-1zM26 29h1v1h-1zM31 29h1v1h-1zM41 29h1v1h-1zM8 30h1v1h-1zM30 30h1v1h-1zM45 30h1v1h-1zM16 31h1v1h-1zM45 31h2v1h-2zM6 32h1v1h-1zM31 32h1v1h-1zM35 33h1v1h-1zM19 34h1v1h-1zM39 34h1v1h-1zM43 34h1v1h-1zM5 40h1v1h-1zM16 40h1v1h-1zM1 42h1v1h-1zM16 42h1v1h-1zM7 43h1v1h-1zM16 43h1v1h-1zM6 45h1v1h-1zM15 48h2v1h-2zM0 49h1v1h-1z" fill="#edbb3f"/>
<path d="M37 4h1v1h-1zM39 6h1v1h-1zM32 18h1v1h-1zM20 21h1v1h-1zM8 24h1v1h-1zM11 27h1v1h-1zM15 29h1v1h-1zM1 30h1v1h-1zM6 34h1v1h-1zM1 41h1v1h-1zM5 49h1v1h-1zM8 49h1v1h-1zM15 52h1v1h-1z" fill="#e7da68"/>
<path d="M36 1h3v1h-3zM9 2h1v1h-1zM37 2h1v1h-1zM4 3h3v1h-3zM8 3h2v1h-2zM37 3h1v1h-1zM5 4h2v1h-2zM38 4h1v1h-1zM5 5h1v1h-1zM28 5h2v1h-2zM32 5h2v1h-2zM35 5h3v1h-3zM25 6h1v1h-1zM27 6h12v1h-12zM13 7h1v1h-1zM15 7h1v1h-1zM26 7h16v1h-16zM11 8h6v1h-6zM18 8h25v1h-25zM12 9h31v1h-31zM13 10h31v1h-31zM7 11h2v1h-2zM11 11h33v1h-33zM6 12h27v1h-27zM35 12h10v1h-10zM5 13h11v1h-11zM17 13h16v1h-16zM36 13h9v1h-9zM5 14h6v1h-6zM12 14h22v1h-22zM36 14h6v1h-6zM6 15h28v1h-28zM36 15h7v1h-7zM5 16h26v1h-26zM32 16h1v1h-1zM36 16h10v1h-10zM3 17h31v1h-31zM36 17h13v1h-13zM4 18h8v1h-8zM13 18h19v1h-19zM33 18h1v1h-1zM36 18h13v1h-13zM2 19h8v1h-8zM11 19h7v1h-7zM19 19h14v1h-14zM36 19h3v1h-3zM40 19h8v1h-8zM2 20h4v1h-4zM8 20h7v1h-7zM16 20h1v1h-1zM18 20h16v1h-16zM35 20h4v1h-4zM40 20h10v1h-10zM3 21h7v1h-7zM12 21h7v1h-7zM21 21h28v1h-28zM2 22h2v1h-2zM5 22h6v1h-6zM12 22h3v1h-3zM16 22h3v1h-3zM20 22h30v1h-30zM2 23h2v1h-2zM5 23h2v1h-2zM8 23h6v1h-6zM15 23h4v1h-4zM20 23h23v1h-23zM44 23h5v1h-5zM2 24h2v1h-2zM5 24h3v1h-3zM9 24h5v1h-5zM16 24h1v1h-1zM18 24h1v1h-1zM20 24h20v1h-20zM41 24h7v1h-7zM2 25h3v1h-3zM7 25h13v1h-13zM21 25h8v1h-8zM30 25h19v1h-19zM3 26h7v1h-7zM11 26h3v1h-3zM17 26h2v1h-2zM20 26h28v1h-28zM2 27h3v1h-3zM6 27h5v1h-5zM12 27h35v1h-35zM2 28h4v1h-4zM7 28h5v1h-5zM13 28h13v1h-13zM31 28h6v1h-6zM38 28h8v1h-8zM0 29h3v1h-3zM4 29h1v1h-1zM6 29h9v1h-9zM16 29h1v1h-1zM19 29h1v1h-1zM21 29h3v1h-3zM30 29h1v1h-1zM32 29h6v1h-6zM39 29h2v1h-2zM42 29h5v1h-5zM2 30h3v1h-3zM6 30h2v1h-2zM9 30h1v1h-1zM11 30h2v1h-2zM14 30h3v1h-3zM18 30h4v1h-4zM31 30h14v1h-14zM2 31h1v1h-1zM5 31h1v1h-1zM7 31h1v1h-1zM9 31h3v1h-3zM13 31h3v1h-3zM17 31h5v1h-5zM32 31h12v1h-12zM2 32h4v1h-4zM7 32h15v1h-15zM33 32h11v1h-11zM0 33h2v1h-2zM3 33h16v1h-16zM36 33h8v1h-8zM1 34h4v1h-4zM7 34h12v1h-12zM37 34h2v1h-2zM40 34h3v1h-3zM1 35h15v1h-15zM17 35h1v1h-1zM42 35h1v1h-1zM0 36h1v1h-1zM2 36h2v1h-2zM6 36h3v1h-3zM10 36h3v1h-3zM14 36h4v1h-4zM0 37h2v1h-2zM3 37h3v1h-3zM7 37h1v1h-1zM9 37h9v1h-9zM0 38h2v1h-2zM3 38h14v1h-14zM0 39h3v1h-3zM5 39h9v1h-9zM0 40h5v1h-5zM6 40h4v1h-4zM11 40h3v1h-3zM15 40h1v1h-1zM0 41h1v1h-1zM2 41h15v1h-15zM0 42h1v1h-1zM2 42h12v1h-12zM15 42h1v1h-1zM0 43h3v1h-3zM4 43h3v1h-3zM8 43h1v1h-1zM11 43h4v1h-4zM0 44h3v1h-3zM4 44h11v1h-11zM0 45h6v1h-6zM7 45h1v1h-1zM9 45h7v1h-7zM0 46h7v1h-7zM8 46h1v1h-1zM10 46h5v1h-5zM0 47h16v1h-16zM0 48h1v1h-1zM2 48h1v1h-1zM4 48h2v1h-2zM7 48h8v1h-8zM17 48h1v1h-1zM1 49h1v1h-1zM3 49h2v1h-2zM6 49h2v1h-2zM9 49h9v1h-9zM0 50h4v1h-4zM5 50h12v1h-12zM0 51h14v1h-14zM15 51h3v1h-3zM0 52h7v1h-7zM8 52h7v1h-7zM16 52h1v1h-1zM18 52h1v1h-1z" fill="#cbd184"/>
</g>
<g transform="scale(.5)" stroke-linecap="round" fill="none"><path d="M413 29l1 1m-3-7l2-1m-355 33l-1 2m225 19l0-1m51-5l3-2m58 10l3 3m35-1l0 1m-28 3l2 3m-13 9l5 0m-45-15l2 0m-88 2l4-2m-8 12l1 0m-39 4l3-2m42 7l2 1m91-5l2-2m94 9l-1 2m27 14l-4 2m-23-7l-3 1m-83-1l3 0m-48 9l2-1m-43 1l3 1m-38 1l3 3m-7-17l2 2m-14 1l0 1m-47 3l3 1m-46-4l3 1m-18 7l2 0m-16 18l3-1m95 2l2 1m-1-15l0 1m12 2l1 2m37-1l1 0m10-4l4-1m9 6l1 0m84-4l4-1m18 13l2 4m33-16l-1 4m39 8l-4-2m-7 13l-2 1m-53-11l0 2m-9 14l2 3m-233-11l1 0m-6 6l4-2m-47-2l1 1m-30-2l2 4m-4-13l4 0m-34 30l1 1m18-5l3 0m20-9l1-1m73 8l3 1m16-8l0 2m51 5l-3 2m37-1l0-1m11 3l-2-2m165 4l0 3m19-14l-1 1m-36 14l0 2m-75 10l-2-3m-131-5l-2 3m-110-8l4-2m-33 9l5 1m-17-5l2 1m-13 12l2 1m0 12l2 4m147-15l3 0m6 3l2 3m52 6l3 2m43-6l4-2m37 2l-1-2m137 17l2-4m-10 4l2 1m-288 0l2 4m-110-13l1 0m107 20l0 2m39-6l1 1m40 1l1 1m11-2l4 1m159 1l2 1m50 4l2-4m26 16l0-1m-77 4l1 1m-34-6l3 2m-78 3l4 1m-97 5l1 4m-41-12l-1 1m-39 3l-2 0m-111 3l-2 1m-20 2l-1 3m58 12l0 3m84-10l-2-2m130 5l3-3m182-5l3 0m18 16l-1-2m-98 11l1 1m-5-4l2 0m-47-5l2 1m-183 9l1 2m-107-16l1 1m-43 6l2 1m-25 1l2 0m41 15l2 1m22-9l3 1m142 10l-1 2m181-3l0-2m14 8l1-3m83-5l1-1m3-2l0-1m18 5l-1-4m-9 12l4 0m-85 1l0-2m-27 15l-1-5m-147-9l1 2m-78 9l2 4m-34-9l1 2m-26 3l0 1m-110 9l4-2m122 3l3-1m0 6l2 2m54 0l3 1m189-8l0-2m21 21l2-2m-47 1l1-1m-20 8l3-2m-124-14l-2 1m-5 12l-2 2m-37-7l1-2m-17-3l2-1m-45 0l1 3m-45-2l1-4m-67 27l4-1m21 1l1-1m56-8l1 0m16 6l2 3m51-8l4 1m237 2l3 3m69-7l-1 2m-290 25l1 4m-9 0l3 3m-22-7l0 1m-106-5l1 0m-4 4l5 0m-51 10l4 2m47-3l3-1m56-2l1 0m54 12l1 2m15-1l2 1m-40 1l0 2m-20 6l3 3m-130 1l-3 1m5 6l-1 1m14 8l-3 1m14-3l1 4m69-9l2 0m53-3l2 3m8-1l2 1m-130 11l-2 2m-28 18l-2 0m129-4l3 3m24 4l2 1m-13 12l4-1m-42 6l2 1m-9-10l0 3m-9 19l-1 2m44 1l5-1m18 12l2 1m-13 3l4 1m-8-2l2 2m-128 4l0 3m62 5l1 2m88 5l2 0m-70 17l2 3m-6-11l-2 3m-8-1l2 1m-13 5l3 3m-23-14l1 3m-53 18l-1 1m65-4l1 0m90-1l4-3m-122 26l2-1m-25 9l-2 4m154-5l1-3" stroke="#d3d88f" stroke-width="6.4"/><path d="M407 46l3 2m12-5l4 0m-41 19l3 3m-36-5l1-2m-50 7l-1-2m157 22l-3 3m-125-4l4 1m-54 1l1 0m-31 9l3 0m-40 0l3-2m-93 8l3 2m2 2l2-1m44-8l3 0m3 8l4-3m80 5l2 1m-1-4l2-1m18-4l1 1m122-1l0 3m-7 16l3 3m-57-3l2 0m-6 4l4-1m-185-4l3 2m-40 3l1 1m58 15l1 1m2 3l1 0m167-1l2 2m44-10l3 3m54-6l-4 3m-31 12l1 3m-90 8l-3-3m-51 2l-1-4m-38-5l2 1m-43 13l0 2m-61-17l2 1m-77 4l-1 3m152 10l-1 3m14 4l-3 0m138 2l3-3m54-6l3 2m74 27l2 4m-21-10l3 2m-71-1l1 1m-13-5l2-2m-34 7l0-3m0-5l1-2m-196 5l2-2m-16 9l1 0m-33-9l2-2m-35 13l4-2m-30-4l4 1m135 11l1 3m127-5l0-1m62 5l0-2m10 0l5 0m66 14l2 1m-22 11l2-1m-32-4l5 0m-83-8l1-1m-14 14l1-1m-23 0l3-1m-7-6l3 0m-9 7l3 1m-6-10l3 1m-21-5l2-1m-98 2l2-1m-24 5l3-4m-31 5l0-3m-89 12l0 1m-5-9l1 2m-13 16l-1 0m50 1l1 2m30-4l1-1m33 8l3-2m40-11l2 4m73 1l1 1m147-2l2-2m32 7l1-1m0 4l4 2m17-10l3 2m45-6l2-1m-35 17l1 1m-67 10l1 0m-8-7l3 1m-42 8l1 0m-75-11l2 1m-97 0l-2 1m-10 0l-1 3m-25 1l-1 2m-48 0l4-1m-44-9l-3 1m-48 22l0 3m23-1l0 2m46-13l0 3m36 10l2 3m8-9l2 1m73 5l-4 2m64-2l2-1m100 3l2 2m20-10l1 1m109 7l2-4m13 20l0-3m-40-12l3 1m-15 10l3 2m-30-13l1 1m-4 13l2 0m-42-7l2 0m-89-3l1-1m-91-1l-4 1m-78 9l3 2m-31-3l4 2m-15 0l3 2m-45 6l1 1m83 5l1 2m64-5l0 5m71-2l2-1m31-2l2-4m2-3l2-1m22-1l4-1m49 4l4 0m106 17l3 1m-41 3l0 1m-57-1l-2-1m-122 7l3 2m-107-9l4 1m-150-2l3 0m-12-3l2-1m6 18l3 1m135-3l1-2m16 15l2-2m155-1l1-1m157-10l0 4m-113 21l3-1m-327-1l4 1m-59 5l2 1m44 13l2 1m365-8l0 4m19-4l-2 3m9 6l-2 0m-35 4l0 1m-204 3l-1 4m-112-7l1-1m-47 26l2-1m41 4l-1-2m24 1l4-1m52 12l-1 2m0-8l-1 3m-19 1l0 3m-108 5l1 2m-19-5l0 4m16 11l-1 3m41-9l2-2m33-2l1 4m11 10l1 1m-15 8l0 3m-110 19l-4 0m14-8l-1 1m16-4l-3-1m64 10l0 3m28-13l1 3m26 16l0 3m-30-1l2 4m-102 9l-1 1m100-3l2 4m60-4l0 2m-41 25l4 2m-36-1l0 4m-8-16l-1 1m-71 0l-1 3m-8 22l-1 1m29-6l1 2m53-2l-1 2m29-5l1 2m20 4l1 1m-3 15l3-1m-89 1l2-1m-29-9l0 5m2 22l1 2m104-6l5-1m50-4l0 4m-137 25l-1-2m-21-6l0 3m-15-2l-2 1m-10-5l-3-1" stroke="#d3d88f" stroke-width="5.6"/><path d="M68 35l1 3m21 1l0 3m312 13l2 0m-79 4l4-2m-266 7l-3-3m251 17l4-2m4-10l3-1m91 13l-1 3m11 14l-5 0m-57-9l3 2m-18 6l2 0m-100-2l3-2m-120 15l2 0m208-1l1 1m7-1l5 0m25 8l4 1m18-2l5 0m24-4l-2 1m18 10l-3 2m-30 2l-1 2m-53-11l2 0m-33 2l3 3m-32 0l1-1m-30 5l3 0m-170 17l4 1m89-9l4 2m103 4l1-4m52-1l2 0m81 12l0 2m45-15l-2 1m3 19l-1 3m-140-6l0-3m-15 4l-2-2m-2 3l1-2m-15 2l-2 0m-7 0l-2-1m-48 2l2 3m-27-1l-1 1m-51-10l1 1m-122 25l1 0m87-9l2 0m43 0l2 1m59 6l1 4m102-3l1-3m9 9l3-3m61-10l1 2m-11 18l1 0m-15 2l3 0m-87-7l-3-1m-28 14l2-1m-19-11l3 1m-21 8l0 3m-16-4l-2 3m-59-6l4-2m-28 6l-1-2m-96 12l3 1m52 8l3-1m25-11l0-1m155 3l3-2m149 14l4-2m7-12l3 2m1 6l3 4m37-5l1 2m31 19l0 1m-14-13l2 0m-16 2l2 2m-138-3l1-2m-27 9l2-3m-74 8l4-2m-32-8l3 3m-8 3l3 0m-176 2l-2 3m-11-10l0 2m3 21l-1 2m16-1l-2 2m22-16l-1 4m74 4l4 1m46-5l0 5m41-1l2-1m44 2l2 1m11-7l2-2m19 14l4-1m3-3l4-1m8-3l1-1m123 15l2-1m-38 5l3 2m-43 2l2 1m-34-7l1 0m-127 5l-2 4m-61-15l-1 3m-13 2l-1 1m-42-1l0-3m-86 9l-1 2m-5-11l-4-2m94 22l3-1m131-1l-2 4m43-8l2-1m93 14l1 1m37-11l0 1m57 3l2 1m36-8l-2-4m-55 31l3 2m-139-11l4 0m-75 8l4 2m-58-6l0 1m-3 5l-1 4m-26-5l-2 4m-49-5l2 1m-19-9l4 1m-40 0l3 1m32 20l1 1m21-10l4 1m113 0l2 3m26-4l4 1m29 7l1-3m49 8l1 0m8-7l2 0m5-4l2 0m74 5l3 0m39 18l0 4m-36-9l4-2m-16 11l2-3m-74 4l2-2m-26-11l2-1m-9 11l0-2m-115 3l-1 4m-49-11l2 2m-76 3l4 3m-53-1l0 2m15 14l2 4m3-10l2 2m27-8l1-1m108 6l1 1m149 9l3-3m12-4l1 0m109 5l-3 2m6 10l-3 3m-46-12l4 0m-40 9l3-2m-53 1l2 0m-105-7l-3 1m2 2l-1-1m-4 8l-1-1m-47 2l1 0m-6 3l3 2m-104-4l4-1m-54-11l1 0m-11 12l4 0m87 14l1 0m82-11l0 1m274 5l-1 1m-32 14l-4 2m-313-2l3 3m-52 6l2-1m-69 0l2 3m33 7l4-1m33 2l-1-4m12 0l1-5m13 13l1-3m57 12l-4 1m-120-4l1 0m57 30l4 1m26-14l1 0m49 5l2 0m-68 8l2 2m-25 7l1 1m-85-4l-1-1m36 23l-3 1m113-6l1 3m1 20l3-1m-22-7l2 1m-16 1l2 3m-35-10l-1 1m-6 3l0 3m-25-1l-2 0m-47 9l-4 1m84 4l-1 3m40-2l3 3m-2 5l-1 3m34-15l2 2m18 27l0 1m-75-10l-1 2m-15-1l0 3m-45-3l-1 3m-4-3l-1 3m26 13l0 2m-57 22l-1 0m179 25l2 1m-36 2l3-2m-19 0l3-3m-8 8l3-2m-32-10l2-1m-14 14l2-1m-73 7l-4 2m63-4l1 0" stroke="#d3d88f" stroke-width="6.8"/><path d="M414 17l2 1m-55 39l1-2m-88 22l3-4m23-1l-1-5m35 13l3 3m-9 0l2 1m-74 1l3 0m-118 2l1 0m-20 6l1 1m78 16l2 1m52-4l1 0m27 2l2-1m31 3l3 1m153-16l-1 4m2 7l-3 1m18 15l-2 3m-27-1l-1 1m-75-5l1 1m-137 5l0 1m-14-7l4-1m-25 5l3 2m-125 14l1 1m229-8l-1-4m10 3l3 1m89 8l1 4m23-13l-2 1m10 18l-3 3m-37 2l2 2m-59-6l1 0m-85-6l3-3m-56 5l-1 3m-20-7l-2 2m-116 5l1 1m-13 3l0 1m10 6l2 1m76-1l2 3m38-3l-1 2m58 9l0 1m44-7l-3-3m235 26l-2 4m-57-5l1 5m-182-18l2 0m-87 0l4 2m-12 6l1 2m-2-6l2 2m-19 5l0-1m-32-8l1-1m-30 7l1-2m-18-1l0-4m-24 4l2 0m7 16l1 1m59-5l-1-2m26 6l2-2m8-1l3 0m30 13l4 1m54-13l3 0m71 10l1-3m145 11l1 0m-41 3l3-3m-130 1l1-4m-73 9l2 1m-87 0l1 0m-52-10l3 0m-48 1l-2 3m-20 16l0 3m93 0l3-3m3 8l2-1m88-8l4-1m47 8l2-2m69-4l3-3m12 8l1-1m10-9l3-1m-34 16l2 0m-21 13l2 1m-59-3l2-2m-41-3l-1 2m-123 6l1-1m-25-7l4 2m-32-5l-1 2m12 22l4 1m8-3l3 2m-1-8l2 1m66 10l-1 2m15-1l-2 4m62-12l2 4m63-5l2-2m33 3l4 1m18-5l3 0m5 2l3 2m87 3l0 1m7 1l3 4m14-7l2 1m12 14l3-1m-157 3l2-1m-36 2l0-5m-134 7l-3 3m-121-4l2 4m-11-10l4 1m-20 14l3-2m14 12l0 1m104-9l-1 4m23 2l0 1m130-2l3-2m2-11l-1-1m36 12l4-1m71-8l3 1m-105 17l2 1m-59-3l0 3m-26 6l0 4m-20-12l2 3m-153 9l1 1m4 7l0 2m88-7l1 1m73 11l1 1m206-1l0-5m36-7l3 0m31 14l-2 1m-29 10l0 3m-115 1l4 0m-170-15l1 0m-23 7l3 1m-12 8l3 1m-12-4l1 0m-95-10l1 5m-27-5l2-1m-2 0l2-2m87 27l0 3m33-7l3 3m240-4l5 0m65-1l-4 1m-12 13l-2 0m-248 0l4 2m-53 5l1 3m-26 0l1 1m-89 15l3 1m74-13l2-1m85 6l1 3m-89 19l3-3m-28 5l4 1m-67 1l-1 1m12 9l-1 0m27-9l1 3m11 5l2 2m18 1l3 2m75-2l1 1m-164 6l-2-1m15 27l-3 3m44-8l-3 3m15-11l0 3m7 7l-4 1m12-11l-1 4m56 4l1 1m40 0l2 2m-51 14l2 3m-102 6l-1-1m21 0l-4 0m19 8l-2 1m70 15l0 1m-128 8l-2 3m2-1l-1 2m79-5l-1 1m51 17l4 0m-26 4l-1 3m-89 4l-3 4m10 13l-2 3m66-5l3-1m4-9l2 1m24-1l1 1m0 2l1 2m56-5l3-1m-22 22l4-2m-20 5l4 0m-27-4l3 1m-24-3l2 1m-27 0l1-4m-13 11l1-2m-2-10l4-3" stroke="#d3d88f" stroke-width="4.4"/><path d="M113 44l1 1m286 3l5-1m-338 12l-2 0m301 13l3 1m27-9l0 3m36 25l-1 1m-5 1l-3 4m-4-4l-1 3m-40-16l4 2m-12 5l3 0m-138 0l1-1m-90 22l3-2m-2-11l3-2m82 9l3-1m94 1l2-1m88 4l1 2m24 8l-3 2m-52-1l2 4m-79 6l3 0m-8-15l0 1m-18 3l2 2m-72-1l2 2m-25-2l4-2m-22 6l1-1m-19 2l2-4m-68 17l4 1m17 2l3 2m84-2l0 2m44-3l2 4m164-6l3 2m60-5l-4 0m-32 19l-2 4m-77-9l2 2m-74 1l-3-3m-15 5l3-4m-56 11l-1 1m-113 9l3-2m45 9l3 0m157-3l-1 0m15-8l-3 0m20 1l-1-3m63 10l2 1m103 7l0 4m-1 4l1 1m-20-12l0 1m-27 0l1 3m-35 2l2 1m-94-5l-4-1m-10 14l1-3m-7-6l0-4m-96 9l1 4m-92 4l1-4m151 9l1 3m68-10l0-1m176 14l1 4m-58 12l1 1m-30-2l1 0m-80 2l1-3m-100-9l1 2m-15 1l3 2m-32-9l1 1m-4 8l1 1m-187-3l-2 3m2 3l-2 3m16 14l0 1m37-15l1 5m54 3l4-2m35 3l1 1m5 0l-3 1m51 1l0 1m99 1l1-1m79-12l3-1m68 7l2 3m10 1l2 0m40 15l1-1m-14-5l0-1m-9 0l2-4m-10 13l3-2m-251-6l0 2m-115 4l1 0m-37-5l1-1m-40 25l2 3m118-15l0 1m5 4l-1 0m110-1l4-2m14 6l1 0m86 7l2 3m62-16l2 1m31 8l1 0m-32 12l2 4m-23-7l3 3m-124 4l1 0m-53-4l1-2m-71-3l-2 1m-22 3l0 1m-13-8l-3 2m-9 4l0 4m-65-6l1 1m-36-4l2 4m59 25l3 2m111-3l-2 1m20 0l1 1m11-6l2 2m137 4l0-3m61-2l3 2m37-12l2-2m15 20l2-2m-88 15l0-4m-32 1l-1-2m-17-3l1-1m-66 0l1-3m-34 4l1 1m-91-7l1 1m-41 12l0 1m-19-5l3 3m-30 0l1 0m-21-2l3 1m-80 12l0-1m44 4l4 2m33 0l3 1m72 1l1 1m182-11l2 0m40-3l0-1m70 3l1 2m21-2l1 1m11 2l1 4m-5 10l-2 4m-268 6l-3-1m-1-8l-2 1m-103-1l2 1m-18-6l1-1m-4 7l3-2m-88 0l4 1m6 17l4 1m38-8l4 0m7 10l2-2m10 7l3-1m60-4l1 2m72 0l-4-1m152-9l1 0m107 13l-1 0m-8 3l-4 1m-34 9l1 4m-237-13l0 1m-17 1l2 2m-21-5l-2 3m-126 10l3 2m-9-1l1 0m108 1l1 2m51 21l1 0m-59-7l5 1m-51-2l1-1m-72 4l1 4m45 21l0 3m113 0l2 1m8 15l3 0m-49-9l1 4m-82 6l-4 0m31 10l-2 2m95 9l3 2m-15 3l1 1m-101-4l-4 2m-25-2l-3 2m9 12l-3 3m41 2l-1 2m16 19l0 3m-29-3l0 1m-6-6l-3 3m-43-3l-2 2m114 6l3 4m56 16l2 2m-134 1l1 4m-47 10l-4 0m46-5l1 4m4-1l1 0m12 5l1-2m9-6l4 1m79 4l4 0m12-1l3 0m23 25l0 1m-162-5l2 4m66 6l2-1" stroke="#d3d88f" stroke-width="3.2"/></g>
</g>
<text x="3.4" y="41.3" font-size="57.8" textLength="37" lengthAdjust="spacingAndGlyphs">A</text>
<text x="751.9" y="41" font-size="57.8" textLength="37" lengthAdjust="spacingAndGlyphs">B</text>
<text x="1107" y="44" font-size="59.3" textLength="41.2" lengthAdjust="spacingAndGlyphs">C</text>
<text x="-3.6" y="852.8" font-size="57.8" textLength="40.1" lengthAdjust="spacingAndGlyphs">D</text>
<text x="1130.5" y="853.2" font-size="57.8" textLength="37" lengthAdjust="spacingAndGlyphs">E</text>
<rect x="358" y="676.6" width="397" height="29.6" fill="#fff"/>
<text x="554.8" y="701.3" font-size="30.7" text-anchor="middle" fill="#111" textLength="74" lengthAdjust="spacingAndGlyphs">1mm</text>
<rect x="566.8" y="164.3" width="185.8" height="193.3" fill="none" stroke="#fff" stroke-width="3.5"/>
<path d="M754.3 163.5L802.5 79.5M754.6 378.8L803 371.4" stroke="#000" stroke-width="3.6" fill="none"/>
<text x="955" y="60" font-size="29.1" text-anchor="middle" fill="#231f20" textLength="57.6" lengthAdjust="spacingAndGlyphs">H&amp;E</text>
<rect x="803.8" y="80.6" width="281.9" height="291.6" fill="none" stroke="#2b2b2b" stroke-width="3.7"/>
<rect x="949.8" y="357.4" width="127" height="2.6" fill="#000"/>
<text x="1011.6" y="352.8" font-size="20.1" text-anchor="middle" textLength="65.5" lengthAdjust="spacingAndGlyphs">200µm</text>
<text x="928.2" y="429.7" font-size="29.3" text-anchor="middle" fill="#231f20" textLength="222.5" lengthAdjust="spacingAndGlyphs">Density [Q-Score]</text>
<rect x="779.8" y="440" width="275.2" height="27.7" fill="url(#inf)"/>
<text x="765.5" y="499.3" font-size="28.1" fill="#231f20" textLength="37.5" lengthAdjust="spacingAndGlyphs">1.0</text>
<text x="1037.5" y="493" font-size="28.1" fill="#231f20" textLength="30" lengthAdjust="spacingAndGlyphs">15</text>
<rect x="763.6" y="584" width="85" height="34" fill="#628ac4" stroke="#332f30" stroke-width="1.2"/>
<text x="862.8" y="617" font-size="28.7" fill="#4a7fc1" textLength="128.8" lengthAdjust="spacingAndGlyphs">Cluster K2</text>
<rect x="764.4" y="626.4" width="85" height="33.6" fill="#e9404a" stroke="#332f30" stroke-width="1.2"/>
<text x="865" y="657.3" font-size="28.7" fill="#d2232a" textLength="128.8" lengthAdjust="spacingAndGlyphs">Cluster K4</text>
<rect x="764.2" y="675.2" width="85" height="33.6" fill="#8d8670" stroke="#332f30" stroke-width="1.2"/>
<text x="866" y="701" font-size="28.7" fill="#8d8670" textLength="128.8" lengthAdjust="spacingAndGlyphs">Cluster K5</text>
<text x="1283" y="47.4" font-size="29.1" text-anchor="middle" fill="#231f20" textLength="151" lengthAdjust="spacingAndGlyphs">APOBEC3A</text>
<text x="1591" y="49.2" font-size="29.1" text-anchor="middle" fill="#231f20" textLength="42" lengthAdjust="spacingAndGlyphs">IVL</text>
<text x="1902.5" y="51" font-size="29.1" text-anchor="middle" fill="#231f20" textLength="90.2" lengthAdjust="spacingAndGlyphs">KRT6A</text>
<rect x="1316.3" y="352.4" width="85.6" height="3" fill="#fff"/>
<text x="1362.6" y="346.4" font-size="20.1" text-anchor="middle" fill="#fff" textLength="64" lengthAdjust="spacingAndGlyphs">150µm</text>
<rect x="1630.8" y="352.4" width="86.2" height="3" fill="#fff"/>
<text x="1676.8" y="346.4" font-size="20.1" text-anchor="middle" fill="#fff" textLength="64" lengthAdjust="spacingAndGlyphs">150µm</text>
<rect x="1945.7" y="352.4" width="86" height="3" fill="#fff"/>
<text x="1991.8" y="346.4" font-size="20.1" text-anchor="middle" fill="#fff" textLength="64" lengthAdjust="spacingAndGlyphs">150µm</text>
<path d="M1149.9 394.2V699.9M1148 698H1409" stroke="#000" stroke-width="3.9" fill="none"/>
<text x="1138.2" y="420.3" font-size="22.7" text-anchor="end" fill="#111" textLength="12.1" lengthAdjust="spacingAndGlyphs">6</text>
<text x="1138.2" y="511" font-size="22.7" text-anchor="end" fill="#111" textLength="12.1" lengthAdjust="spacingAndGlyphs">4</text>
<text x="1138.2" y="601.9" font-size="22.7" text-anchor="end" fill="#111" textLength="12.1" lengthAdjust="spacingAndGlyphs">2</text>
<text x="1138.2" y="692.6" font-size="22.7" text-anchor="end" fill="#111" textLength="12.1" lengthAdjust="spacingAndGlyphs">0</text>
<path d="M1148.3 411.9h-5.2M1148.3 502.6h-5.2M1148.3 593.5h-5.2M1148.3 684.2h-5.2M1220.1 699.5v5M1338.2 699.5v5" stroke="#3a3a3a" stroke-width="2" fill="none"/>
<text transform="translate(1111.2 536) rotate(-90)" font-size="29.1" text-anchor="middle" textLength="271.6" lengthAdjust="spacingAndGlyphs">Log2 (APOBEC3A+1)</text>
<text x="1219.8" y="731" font-size="29" text-anchor="middle" fill="#231f20" textLength="15.5" lengthAdjust="spacingAndGlyphs">2</text>
<text x="1337.9" y="731" font-size="29" text-anchor="middle" fill="#231f20" textLength="15.5" lengthAdjust="spacingAndGlyphs">4</text>
<text x="1274.4" y="412.5" font-size="20.8" text-anchor="middle" fill="#111" textLength="15.6" lengthAdjust="spacingAndGlyphs">**</text>
<path d="M1454 394.2V699.9M1452 698H1713.6" stroke="#000" stroke-width="3.9" fill="none"/>
<text x="1446" y="437.8" font-size="22.7" text-anchor="end" fill="#111" textLength="12.1" lengthAdjust="spacingAndGlyphs">6</text>
<text x="1446" y="523.6" font-size="22.7" text-anchor="end" fill="#111" textLength="12.1" lengthAdjust="spacingAndGlyphs">4</text>
<text x="1446" y="609.1" font-size="22.7" text-anchor="end" fill="#111" textLength="12.1" lengthAdjust="spacingAndGlyphs">2</text>
<text x="1446" y="694.9" font-size="22.7" text-anchor="end" fill="#111" textLength="12.1" lengthAdjust="spacingAndGlyphs">0</text>
<path d="M1452.4 429.4h-5.2M1452.4 515.2h-5.2M1452.4 600.7h-5.2M1452.4 686.5h-5.2M1525.4 699.5v5M1643 699.5v5" stroke="#3a3a3a" stroke-width="2" fill="none"/>
<text transform="translate(1416.2 536) rotate(-90)" font-size="29.1" text-anchor="middle" textLength="162.7" lengthAdjust="spacingAndGlyphs">Log2 (IVL+1)</text>
<text x="1525.1" y="731" font-size="29" text-anchor="middle" fill="#231f20" textLength="15.5" lengthAdjust="spacingAndGlyphs">2</text>
<text x="1642.7" y="731" font-size="29" text-anchor="middle" fill="#231f20" textLength="15.5" lengthAdjust="spacingAndGlyphs">4</text>
<text x="1575.2" y="412.5" font-size="20.8" text-anchor="middle" fill="#111" textLength="15.6" lengthAdjust="spacingAndGlyphs">**</text>
<path d="M1786.9 394.2V699.9M1785 698H2047" stroke="#000" stroke-width="3.9" fill="none"/>
<text x="1780" y="471.7" font-size="22.7" text-anchor="end" fill="#111" textLength="12.1" lengthAdjust="spacingAndGlyphs">6</text>
<text x="1780" y="545.3" font-size="22.7" text-anchor="end" fill="#111" textLength="12.1" lengthAdjust="spacingAndGlyphs">4</text>
<text x="1780" y="619.4" font-size="22.7" text-anchor="end" fill="#111" textLength="12.1" lengthAdjust="spacingAndGlyphs">2</text>
<text x="1780" y="693" font-size="22.7" text-anchor="end" fill="#111" textLength="12.1" lengthAdjust="spacingAndGlyphs">0</text>
<path d="M1785.3 463.3h-5.2M1785.3 536.9h-5.2M1785.3 611h-5.2M1785.3 684.6h-5.2M1857.6 699.5v5M1974.7 699.5v5" stroke="#3a3a3a" stroke-width="2" fill="none"/>
<text transform="translate(1746.1 536) rotate(-90)" font-size="29.1" text-anchor="middle" textLength="210.9" lengthAdjust="spacingAndGlyphs">Log2 (KRT6A+1)</text>
<text x="1857.3" y="731" font-size="29" text-anchor="middle" fill="#231f20" textLength="15.5" lengthAdjust="spacingAndGlyphs">2</text>
<text x="1974.4" y="731" font-size="29" text-anchor="middle" fill="#231f20" textLength="15.5" lengthAdjust="spacingAndGlyphs">4</text>
<text x="1923.8" y="412.5" font-size="20.8" text-anchor="middle" fill="#111" textLength="15.6" lengthAdjust="spacingAndGlyphs">**</text>
<text x="1079.3" y="731" font-size="28.9" textLength="89.5" lengthAdjust="spacingAndGlyphs">Cluster</text>
<path d="M1220 515.6C1219.9 528 1219.8 574 1219.7 590.4C1219.7 606.7 1219.6 607.5 1219.4 613.8C1219.2 620 1218.9 623.6 1218.5 627.8C1218 632 1216.8 635.5 1216.8 639C1216.8 642.5 1218 645.2 1218.5 648.8C1218.9 652.4 1219.4 657.3 1219.5 660.5C1219.6 663.7 1219.9 666 1219.2 668C1218.4 669.9 1217.4 670.7 1215 672.2C1212.5 673.7 1208.3 675.3 1204.7 676.9C1201 678.4 1195.4 680.3 1193 681.5C1190.6 682.8 1190.6 684.1 1190.2 684.6L1250 684.6C1249.6 684.1 1249.6 682.8 1247.2 681.5C1244.8 680.3 1239.2 678.4 1235.5 676.9C1231.9 675.3 1227.7 673.7 1225.2 672.2C1222.8 670.7 1221.8 669.9 1221 668C1220.3 666 1220.6 663.7 1220.7 660.5C1220.8 657.3 1221.3 652.4 1221.7 648.8C1222.2 645.2 1223.4 642.5 1223.4 639C1223.4 635.5 1222.2 632 1221.7 627.8C1221.3 623.6 1221 620 1220.8 613.8C1220.6 607.5 1220.5 606.7 1220.5 590.4C1220.4 574 1220.3 528 1220.2 515.6Z" fill="#3b63ab" stroke="#3a3a3a" stroke-width="1.8" stroke-linejoin="round"/>
<path d="M1338.1 413.4C1338 427.3 1337.8 471.3 1337.6 496.9C1337.4 522.5 1337.3 547.5 1337.1 567C1337 586.5 1336.8 602.1 1336.7 613.8C1336.5 625.4 1336.4 631.3 1336.2 637.1C1336 643 1335.9 644.9 1335.6 648.8C1335.3 652.7 1335 656.6 1334.3 660.5C1333.7 664.4 1332.5 669.1 1331.8 672.2C1331 675.3 1330.4 677.4 1329.9 679.2C1329.4 681 1329 682.3 1328.9 683.2C1328.9 684.1 1329.3 684.3 1329.4 684.6L1347.2 684.6C1347.3 684.3 1347.7 684.1 1347.7 683.2C1347.6 682.3 1347.2 681 1346.7 679.2C1346.2 677.4 1345.6 675.3 1344.8 672.2C1344.1 669.1 1342.9 664.4 1342.3 660.5C1341.6 656.6 1341.3 652.7 1341 648.8C1340.7 644.9 1340.6 643 1340.4 637.1C1340.2 631.3 1340.1 625.4 1339.9 613.8C1339.8 602.1 1339.6 586.5 1339.5 567C1339.3 547.5 1339.2 522.5 1339 496.9C1338.8 471.3 1338.6 427.3 1338.5 413.4Z" fill="#8e1019" stroke="#3a3a3a" stroke-width="1.8" stroke-linejoin="round"/>
<path d="M1525.3 535C1525.2 540.3 1525.1 555.8 1524.9 567C1524.8 578.2 1524.5 592.7 1524.2 602.1C1524 611.4 1523.9 618 1523.5 623.1C1523.2 628.2 1522.7 629.5 1522.1 632.5C1521.6 635.4 1520.3 637.9 1520.3 640.6C1520.2 643.4 1521 646.3 1521.7 648.8C1522.3 651.3 1523.6 653.5 1524.1 655.8C1524.6 658.2 1524.8 660.8 1524.5 662.8C1524.1 664.9 1523.5 666.3 1522.1 668C1520.8 669.6 1518.9 671.1 1516.5 672.7C1514.2 674.2 1511.2 675.9 1508.1 677.3C1505 678.8 1499.9 680.3 1497.8 681.5C1495.7 682.8 1495.9 684.1 1495.5 684.6L1555.3 684.6C1554.9 684.1 1555.1 682.8 1553 681.5C1550.9 680.3 1545.8 678.8 1542.7 677.3C1539.6 675.9 1536.6 674.2 1534.3 672.7C1531.9 671.1 1530 669.6 1528.7 668C1527.3 666.3 1526.7 664.9 1526.3 662.8C1526 660.8 1526.2 658.2 1526.7 655.8C1527.2 653.5 1528.5 651.3 1529.1 648.8C1529.8 646.3 1530.6 643.4 1530.5 640.6C1530.5 637.9 1529.2 635.4 1528.7 632.5C1528.1 629.5 1527.6 628.2 1527.3 623.1C1526.9 618 1526.8 611.4 1526.6 602.1C1526.3 592.7 1526 578.2 1525.9 567C1525.7 555.8 1525.6 540.3 1525.5 535Z" fill="#3b63ab" stroke="#3a3a3a" stroke-width="1.8" stroke-linejoin="round"/>
<path d="M1642.8 407.6C1642.7 422.5 1642.5 470.3 1642.3 496.9C1642.1 523.4 1641.8 547.5 1641.6 567C1641.4 586.5 1641.1 602.1 1640.9 613.8C1640.7 625.4 1640.4 631.3 1640.2 637.1C1640 643 1639.9 644.9 1639.5 648.8C1639.1 652.7 1638.5 657 1637.9 660.5C1637.2 664 1636.3 666.7 1635.5 669.9C1634.7 673 1633.5 677 1632.9 679.2C1632.4 681.4 1632.3 682.3 1632.2 683.2C1632.2 684.1 1632.6 684.3 1632.7 684.6L1653.3 684.6C1653.4 684.3 1653.8 684.1 1653.8 683.2C1653.7 682.3 1653.6 681.4 1653.1 679.2C1652.5 677 1651.3 673 1650.5 669.9C1649.7 666.7 1648.8 664 1648.1 660.5C1647.5 657 1646.9 652.7 1646.5 648.8C1646.1 644.9 1646 643 1645.8 637.1C1645.6 631.3 1645.3 625.4 1645.1 613.8C1644.9 602.1 1644.6 586.5 1644.4 567C1644.2 547.5 1643.9 523.4 1643.7 496.9C1643.5 470.3 1643.3 422.5 1643.2 407.6Z" fill="#8e1019" stroke="#3a3a3a" stroke-width="1.8" stroke-linejoin="round"/>
<path d="M1856 436.6C1855.7 438.4 1855.8 444 1854.3 447.8C1852.8 451.6 1850.4 455.2 1847.1 459.5C1843.7 463.8 1837.1 470 1834.2 473.5C1831.3 477 1830.6 478.2 1829.5 480.5C1828.5 482.9 1827.7 484.8 1827.7 487.5C1827.7 490.3 1828.4 493 1829.5 496.9C1830.7 500.8 1833.2 507 1834.7 510.9C1836.2 514.8 1837 516.7 1838.4 520.3C1839.9 523.8 1841.6 528 1843.6 531.9C1845.5 535.8 1848.6 539.7 1850.1 543.6C1851.6 547.5 1851.9 551.4 1852.5 555.3C1853 559.2 1853.2 563.1 1853.6 567C1854 570.9 1854.5 574.8 1854.8 578.7C1855.1 582.6 1855.3 586.9 1855.3 590.4C1855.3 593.9 1855 596.4 1854.8 599.7C1854.6 603 1854.3 606.7 1854.3 610.2C1854.4 613.8 1854.8 617.1 1855 620.8C1855.3 624.5 1855.8 627.8 1856 632.5C1856.1 637.1 1855.9 644.1 1856 648.8C1856 653.5 1856.1 656.6 1856.2 660.5C1856.3 664.4 1856.4 668.2 1856.4 672.2C1856.5 676.2 1856.4 682.5 1856.4 684.6L1858.8 684.6C1858.8 682.5 1858.7 676.2 1858.8 672.2C1858.8 668.2 1858.9 664.4 1859 660.5C1859.1 656.6 1859.2 653.5 1859.2 648.8C1859.3 644.1 1859.1 637.1 1859.2 632.5C1859.4 627.8 1859.9 624.5 1860.2 620.8C1860.4 617.1 1860.8 613.8 1860.9 610.2C1860.9 606.7 1860.6 603 1860.4 599.7C1860.2 596.4 1859.9 593.9 1859.9 590.4C1859.9 586.9 1860.1 582.6 1860.4 578.7C1860.7 574.8 1861.2 570.9 1861.6 567C1862 563.1 1862.2 559.2 1862.7 555.3C1863.3 551.4 1863.6 547.5 1865.1 543.6C1866.6 539.7 1869.7 535.8 1871.6 531.9C1873.6 528 1875.3 523.8 1876.8 520.3C1878.2 516.7 1879 514.8 1880.5 510.9C1882 507 1884.5 500.8 1885.7 496.9C1886.8 493 1887.5 490.3 1887.5 487.5C1887.5 484.8 1886.7 482.9 1885.7 480.5C1884.6 478.2 1883.9 477 1881 473.5C1878.1 470 1871.5 463.8 1868.1 459.5C1864.8 455.2 1862.4 451.6 1860.9 447.8C1859.4 444 1859.5 438.4 1859.2 436.6Z" fill="#3b63ab" stroke="#3a3a3a" stroke-width="1.8" stroke-linejoin="round"/>
<path d="M1973 436.6C1972.7 438.4 1971.8 443.6 1970.9 447.8C1970.1 452 1968.8 457.5 1967.9 461.8C1967 466.1 1966.2 469.6 1965.5 473.5C1964.9 477.4 1964.5 481.3 1964.1 485.2C1963.8 489.1 1963.7 493 1963.7 496.9C1963.7 500.8 1963.9 504.7 1964.1 508.6C1964.4 512.5 1964.7 514.4 1965.1 520.3C1965.5 526.1 1966.4 537.8 1966.7 543.6C1967 549.5 1967 551.4 1967 555.3C1966.9 559.2 1966.6 563.1 1966.3 567C1965.9 570.9 1965.5 574.8 1965.1 578.7C1964.7 582.6 1964.1 586.5 1963.7 590.4C1963.3 594.3 1962.8 598.2 1962.5 602.1C1962.2 606 1962.1 609.9 1962 613.8C1962 617.6 1962 621.5 1962.3 625.4C1962.5 629.3 1963.1 633.2 1963.7 637.1C1964.2 641 1965 644.9 1965.5 648.8C1966.1 652.7 1966.7 656.6 1967.2 660.5C1967.7 664.4 1968.2 668.2 1968.6 672.2C1968.9 676.2 1969.2 682.5 1969.3 684.6L1980.5 684.6C1980.6 682.5 1980.9 676.2 1981.2 672.2C1981.6 668.2 1982.1 664.4 1982.6 660.5C1983.1 656.6 1983.7 652.7 1984.3 648.8C1984.8 644.9 1985.6 641 1986.1 637.1C1986.7 633.2 1987.3 629.3 1987.5 625.4C1987.8 621.5 1987.8 617.6 1987.8 613.8C1987.7 609.9 1987.6 606 1987.3 602.1C1987 598.2 1986.5 594.3 1986.1 590.4C1985.7 586.5 1985.1 582.6 1984.7 578.7C1984.3 574.8 1983.9 570.9 1983.5 567C1983.2 563.1 1982.9 559.2 1982.8 555.3C1982.8 551.4 1982.8 549.5 1983.1 543.6C1983.4 537.8 1984.3 526.1 1984.7 520.3C1985.1 514.4 1985.4 512.5 1985.7 508.6C1985.9 504.7 1986.1 500.8 1986.1 496.9C1986.1 493 1986 489.1 1985.7 485.2C1985.3 481.3 1984.9 477.4 1984.3 473.5C1983.6 469.6 1982.8 466.1 1981.9 461.8C1981 457.5 1979.7 452 1978.9 447.8C1978 443.6 1977.1 438.4 1976.8 436.6Z" fill="#8e1019" stroke="#3a3a3a" stroke-width="1.8" stroke-linejoin="round"/>
<rect x="116.4" y="949.3" width="80.7" height="33.7" fill="#f8e79b"/>
<rect x="196.8" y="949.3" width="80.7" height="33.7" fill="#e04538"/>
<rect x="277.2" y="949.3" width="80.7" height="33.7" fill="#f3efb6"/>
<rect x="357.6" y="949.3" width="80.7" height="33.7" fill="#e3edda"/>
<rect x="438" y="949.3" width="80.7" height="33.7" fill="#e3edda"/>
<rect x="518.4" y="949.3" width="80.7" height="33.7" fill="#e8eeca"/>
<rect x="598.7" y="949.3" width="80.7" height="33.7" fill="#e6edcf"/>
<rect x="679.1" y="949.3" width="80.7" height="33.7" fill="#e6edcf"/>
<rect x="759.5" y="949.3" width="80.7" height="33.7" fill="#eeeec4"/>
<rect x="839.9" y="949.3" width="80.7" height="33.7" fill="#e3edda"/>
<rect x="116.4" y="982.7" width="80.7" height="33.7" fill="#e8eeca"/>
<rect x="196.8" y="982.7" width="80.7" height="33.7" fill="#dd2e2f"/>
<rect x="277.2" y="982.7" width="80.7" height="33.7" fill="#e6edcf"/>
<rect x="357.6" y="982.7" width="80.7" height="33.7" fill="#e6edcf"/>
<rect x="438" y="982.7" width="80.7" height="33.7" fill="#e6edcf"/>
<rect x="518.4" y="982.7" width="80.7" height="33.7" fill="#e6edcf"/>
<rect x="598.7" y="982.7" width="80.7" height="33.7" fill="#e8eeca"/>
<rect x="679.1" y="982.7" width="80.7" height="33.7" fill="#e8eeca"/>
<rect x="759.5" y="982.7" width="80.7" height="33.7" fill="#f3efb6"/>
<rect x="839.9" y="982.7" width="80.7" height="33.7" fill="#e6edcf"/>
<rect x="116.4" y="1016" width="80.7" height="33.7" fill="#e8eeca"/>
<rect x="196.8" y="1016" width="80.7" height="33.7" fill="#dd2e2f"/>
<rect x="277.2" y="1016" width="80.7" height="33.7" fill="#eeeec4"/>
<rect x="357.6" y="1016" width="80.7" height="33.7" fill="#e6edcf"/>
<rect x="438" y="1016" width="80.7" height="33.7" fill="#e6edcf"/>
<rect x="518.4" y="1016" width="80.7" height="33.7" fill="#e8eeca"/>
<rect x="598.7" y="1016" width="80.7" height="33.7" fill="#e6edcf"/>
<rect x="679.1" y="1016" width="80.7" height="33.7" fill="#e6edcf"/>
<rect x="759.5" y="1016" width="80.7" height="33.7" fill="#eeeec4"/>
<rect x="839.9" y="1016" width="80.7" height="33.7" fill="#e6edcf"/>
<rect x="116.4" y="1049.4" width="80.7" height="33.7" fill="#e65c44"/>
<rect x="196.8" y="1049.4" width="80.7" height="33.7" fill="#f7d386"/>
<rect x="277.2" y="1049.4" width="80.7" height="33.7" fill="#e6edcf"/>
<rect x="357.6" y="1049.4" width="80.7" height="33.7" fill="#e3edda"/>
<rect x="438" y="1049.4" width="80.7" height="33.7" fill="#dcebe3"/>
<rect x="518.4" y="1049.4" width="80.7" height="33.7" fill="#f3efb6"/>
<rect x="598.7" y="1049.4" width="80.7" height="33.7" fill="#eeeec4"/>
<rect x="679.1" y="1049.4" width="80.7" height="33.7" fill="#eeeec4"/>
<rect x="759.5" y="1049.4" width="80.7" height="33.7" fill="#e3edda"/>
<rect x="839.9" y="1049.4" width="80.7" height="33.7" fill="#dcebe3"/>
<rect x="116.4" y="1082.8" width="80.7" height="33.7" fill="#ee8f64"/>
<rect x="196.8" y="1082.8" width="80.7" height="33.7" fill="#ee8f64"/>
<rect x="277.2" y="1082.8" width="80.7" height="33.7" fill="#e3edda"/>
<rect x="357.6" y="1082.8" width="80.7" height="33.7" fill="#e6edcf"/>
<rect x="438" y="1082.8" width="80.7" height="33.7" fill="#e6edcf"/>
<rect x="518.4" y="1082.8" width="80.7" height="33.7" fill="#eeeec4"/>
<rect x="598.7" y="1082.8" width="80.7" height="33.7" fill="#e6edcf"/>
<rect x="679.1" y="1082.8" width="80.7" height="33.7" fill="#e6edcf"/>
<rect x="759.5" y="1082.8" width="80.7" height="33.7" fill="#e6edcf"/>
<rect x="839.9" y="1082.8" width="80.7" height="33.7" fill="#e3edda"/>
<rect x="116.4" y="1116.1" width="80.7" height="33.7" fill="#f0a06e"/>
<rect x="196.8" y="1116.1" width="80.7" height="33.7" fill="#ec7a58"/>
<rect x="277.2" y="1116.1" width="80.7" height="33.7" fill="#e6edcf"/>
<rect x="357.6" y="1116.1" width="80.7" height="33.7" fill="#e3edda"/>
<rect x="438" y="1116.1" width="80.7" height="33.7" fill="#e3edda"/>
<rect x="518.4" y="1116.1" width="80.7" height="33.7" fill="#eeeec4"/>
<rect x="598.7" y="1116.1" width="80.7" height="33.7" fill="#e8eeca"/>
<rect x="679.1" y="1116.1" width="80.7" height="33.7" fill="#eeeec4"/>
<rect x="759.5" y="1116.1" width="80.7" height="33.7" fill="#e3edda"/>
<rect x="839.9" y="1116.1" width="80.7" height="33.7" fill="#e3edda"/>
<rect x="116.4" y="1149.5" width="80.7" height="33.7" fill="#d5e9ea"/>
<rect x="196.8" y="1149.5" width="80.7" height="33.7" fill="#dcebe3"/>
<rect x="277.2" y="1149.5" width="80.7" height="33.7" fill="#dcebe3"/>
<rect x="357.6" y="1149.5" width="80.7" height="33.7" fill="#d5e9ea"/>
<rect x="438" y="1149.5" width="80.7" height="33.7" fill="#e6edcf"/>
<rect x="518.4" y="1149.5" width="80.7" height="33.7" fill="#f3efb6"/>
<rect x="598.7" y="1149.5" width="80.7" height="33.7" fill="#e3edda"/>
<rect x="679.1" y="1149.5" width="80.7" height="33.7" fill="#f7d386"/>
<rect x="759.5" y="1149.5" width="80.7" height="33.7" fill="#f0a06e"/>
<rect x="839.9" y="1149.5" width="80.7" height="33.7" fill="#f0a06e"/>
<rect x="116.4" y="1182.9" width="80.7" height="33.7" fill="#dcebe3"/>
<rect x="196.8" y="1182.9" width="80.7" height="33.7" fill="#e3edda"/>
<rect x="277.2" y="1182.9" width="80.7" height="33.7" fill="#dcebe3"/>
<rect x="357.6" y="1182.9" width="80.7" height="33.7" fill="#e3edda"/>
<rect x="438" y="1182.9" width="80.7" height="33.7" fill="#e6edcf"/>
<rect x="518.4" y="1182.9" width="80.7" height="33.7" fill="#eeeec4"/>
<rect x="598.7" y="1182.9" width="80.7" height="33.7" fill="#f8e79b"/>
<rect x="679.1" y="1182.9" width="80.7" height="33.7" fill="#e3edda"/>
<rect x="759.5" y="1182.9" width="80.7" height="33.7" fill="#f7d386"/>
<rect x="839.9" y="1182.9" width="80.7" height="33.7" fill="#e65c44"/>
<rect x="116.4" y="1216.3" width="80.7" height="33.7" fill="#e8eeca"/>
<rect x="196.8" y="1216.3" width="80.7" height="33.7" fill="#e8eeca"/>
<rect x="277.2" y="1216.3" width="80.7" height="33.7" fill="#e8eeca"/>
<rect x="357.6" y="1216.3" width="80.7" height="33.7" fill="#e8eeca"/>
<rect x="438" y="1216.3" width="80.7" height="33.7" fill="#e8eeca"/>
<rect x="518.4" y="1216.3" width="80.7" height="33.7" fill="#dd2e2f"/>
<rect x="598.7" y="1216.3" width="80.7" height="33.7" fill="#e8eeca"/>
<rect x="679.1" y="1216.3" width="80.7" height="33.7" fill="#e8eeca"/>
<rect x="759.5" y="1216.3" width="80.7" height="33.7" fill="#eeeec4"/>
<rect x="839.9" y="1216.3" width="80.7" height="33.7" fill="#e8eeca"/>
<rect x="116.4" y="1249.6" width="80.7" height="33.7" fill="#e3edda"/>
<rect x="196.8" y="1249.6" width="80.7" height="33.7" fill="#f3efb6"/>
<rect x="277.2" y="1249.6" width="80.7" height="33.7" fill="#e6edcf"/>
<rect x="357.6" y="1249.6" width="80.7" height="33.7" fill="#e6edcf"/>
<rect x="438" y="1249.6" width="80.7" height="33.7" fill="#e6edcf"/>
<rect x="518.4" y="1249.6" width="80.7" height="33.7" fill="#f3efb6"/>
<rect x="598.7" y="1249.6" width="80.7" height="33.7" fill="#dd2e2f"/>
<rect x="679.1" y="1249.6" width="80.7" height="33.7" fill="#eeeec4"/>
<rect x="759.5" y="1249.6" width="80.7" height="33.7" fill="#e3edda"/>
<rect x="839.9" y="1249.6" width="80.7" height="33.7" fill="#eeeec4"/>
<rect x="116.4" y="1283" width="80.7" height="33.7" fill="#dcebe3"/>
<rect x="196.8" y="1283" width="80.7" height="33.7" fill="#e3edda"/>
<rect x="277.2" y="1283" width="80.7" height="33.7" fill="#dcebe3"/>
<rect x="357.6" y="1283" width="80.7" height="33.7" fill="#e3edda"/>
<rect x="438" y="1283" width="80.7" height="33.7" fill="#e6edcf"/>
<rect x="518.4" y="1283" width="80.7" height="33.7" fill="#f3efb6"/>
<rect x="598.7" y="1283" width="80.7" height="33.7" fill="#f8e79b"/>
<rect x="679.1" y="1283" width="80.7" height="33.7" fill="#e04538"/>
<rect x="759.5" y="1283" width="80.7" height="33.7" fill="#f3efb6"/>
<rect x="839.9" y="1283" width="80.7" height="33.7" fill="#f3efb6"/>
<rect x="116.4" y="1316.4" width="80.7" height="33.7" fill="#e3edda"/>
<rect x="196.8" y="1316.4" width="80.7" height="33.7" fill="#e6edcf"/>
<rect x="277.2" y="1316.4" width="80.7" height="33.7" fill="#dd2e2f"/>
<rect x="357.6" y="1316.4" width="80.7" height="33.7" fill="#e8eeca"/>
<rect x="438" y="1316.4" width="80.7" height="33.7" fill="#e8eeca"/>
<rect x="518.4" y="1316.4" width="80.7" height="33.7" fill="#e8eeca"/>
<rect x="598.7" y="1316.4" width="80.7" height="33.7" fill="#e6edcf"/>
<rect x="679.1" y="1316.4" width="80.7" height="33.7" fill="#e6edcf"/>
<rect x="759.5" y="1316.4" width="80.7" height="33.7" fill="#f3efb6"/>
<rect x="839.9" y="1316.4" width="80.7" height="33.7" fill="#e6edcf"/>
<rect x="116.4" y="1349.7" width="80.7" height="33.7" fill="#e8eeca"/>
<rect x="196.8" y="1349.7" width="80.7" height="33.7" fill="#e8eeca"/>
<rect x="277.2" y="1349.7" width="80.7" height="33.7" fill="#dd2e2f"/>
<rect x="357.6" y="1349.7" width="80.7" height="33.7" fill="#e8eeca"/>
<rect x="438" y="1349.7" width="80.7" height="33.7" fill="#eeeec4"/>
<rect x="518.4" y="1349.7" width="80.7" height="33.7" fill="#eeeec4"/>
<rect x="598.7" y="1349.7" width="80.7" height="33.7" fill="#e8eeca"/>
<rect x="679.1" y="1349.7" width="80.7" height="33.7" fill="#e8eeca"/>
<rect x="759.5" y="1349.7" width="80.7" height="33.7" fill="#eeeec4"/>
<rect x="839.9" y="1349.7" width="80.7" height="33.7" fill="#e6edcf"/>
<rect x="116.4" y="1383.1" width="80.7" height="33.7" fill="#e3edda"/>
<rect x="196.8" y="1383.1" width="80.7" height="33.7" fill="#e3edda"/>
<rect x="277.2" y="1383.1" width="80.7" height="33.7" fill="#e3edda"/>
<rect x="357.6" y="1383.1" width="80.7" height="33.7" fill="#ee8f64"/>
<rect x="438" y="1383.1" width="80.7" height="33.7" fill="#ec7a58"/>
<rect x="518.4" y="1383.1" width="80.7" height="33.7" fill="#e6edcf"/>
<rect x="598.7" y="1383.1" width="80.7" height="33.7" fill="#e3edda"/>
<rect x="679.1" y="1383.1" width="80.7" height="33.7" fill="#e6edcf"/>
<rect x="759.5" y="1383.1" width="80.7" height="33.7" fill="#e6edcf"/>
<rect x="839.9" y="1383.1" width="80.7" height="33.7" fill="#eeeec4"/>
<rect x="116.4" y="1416.5" width="80.7" height="33.7" fill="#e8eeca"/>
<rect x="196.8" y="1416.5" width="80.7" height="33.7" fill="#e8eeca"/>
<rect x="277.2" y="1416.5" width="80.7" height="33.7" fill="#e6edcf"/>
<rect x="357.6" y="1416.5" width="80.7" height="33.7" fill="#dd2e2f"/>
<rect x="438" y="1416.5" width="80.7" height="33.7" fill="#eeeec4"/>
<rect x="518.4" y="1416.5" width="80.7" height="33.7" fill="#e8eeca"/>
<rect x="598.7" y="1416.5" width="80.7" height="33.7" fill="#e6edcf"/>
<rect x="679.1" y="1416.5" width="80.7" height="33.7" fill="#e8eeca"/>
<rect x="759.5" y="1416.5" width="80.7" height="33.7" fill="#eeeec4"/>
<rect x="839.9" y="1416.5" width="80.7" height="33.7" fill="#e8eeca"/>
<path d="M116.4 947.9V1451.2M196.8 947.9V1451.2M277.2 947.9V1451.2M357.6 947.9V1451.2M438 947.9V1451.2M518.4 947.9V1451.2M598.7 947.9V1451.2M679.1 947.9V1451.2M759.5 947.9V1451.2M839.9 947.9V1451.2M920.3 947.9V1451.2M115.1 949.3H921.6M115.1 982.7H921.6M115.1 1016H921.6M115.1 1049.4H921.6M115.1 1082.8H921.6M115.1 1116.1H921.6M115.1 1149.5H921.6M115.1 1182.9H921.6M115.1 1216.3H921.6M115.1 1249.6H921.6M115.1 1283H921.6M115.1 1316.4H921.6M115.1 1349.7H921.6M115.1 1383.1H921.6M115.1 1416.5H921.6M115.1 1449.8H921.6" stroke="#8e8f92" stroke-width="2.7" fill="none"/>
<path d="M156.6 947.7V896.2H237V947.7M397.8 947.7V916.5H478.2V947.7M799.7 947.7V928.7H880.1V947.7M719.3 947.7V907.7H839.9V928.7M638.9 947.7V905.3H779.6V907.7M558.5 947.7V903.7H709.3V905.3M438 916.5V894.3H633.9V903.7M317.4 947.7V887.6H535.9V894.3M196.8 896.2V868.5H426.7V887.6M114.6 999.4H105.8V1032.7H114.6M114.6 966H95.9V1016H105.8M114.6 1099.5H108.2V1132.8H114.6M114.6 1066.1H92.2V1116.2H108.2M95.9 991H63.5V1091.1H92.2M114.6 1166.2H82.2V1199.6H114.6M114.6 1266.3H60.6V1299.7H114.6M114.6 1232.9H52.3V1283H60.6M82.2 1182.9H46V1258H52.3M114.6 1333.1H106.6V1366.4H114.6M114.6 1399.8H76.7V1433.2H114.6M106.6 1349.7H45V1416.5H76.7M46 1220.4H43.2V1383.1H45M63.5 1041.1H39.6V1301.8H43.2" stroke="#000" stroke-width="2.9" fill="none" stroke-linejoin="round" stroke-linecap="round"/>
<text x="937.6" y="970.2" font-size="28.8" textLength="86.1" lengthAdjust="spacingAndGlyphs">KRT14</text>
<text x="937.6" y="1003.6" font-size="28.8" textLength="149.1" lengthAdjust="spacingAndGlyphs">APOBEC3A</text>
<text x="937.6" y="1036.9" font-size="28.8" textLength="41.5" lengthAdjust="spacingAndGlyphs">IVL</text>
<text x="937.6" y="1070.3" font-size="28.8" textLength="70.7" lengthAdjust="spacingAndGlyphs">KRT5</text>
<text x="937.6" y="1103.7" font-size="28.8" textLength="75.3" lengthAdjust="spacingAndGlyphs">DSG3</text>
<text x="937.6" y="1137" font-size="28.8" textLength="89.1" lengthAdjust="spacingAndGlyphs">KRT6A</text>
<text x="937.6" y="1170.4" font-size="28.8" textLength="149.1" lengthAdjust="spacingAndGlyphs">APOBEC3B</text>
<text x="937.6" y="1203.8" font-size="28.8" textLength="70.7" lengthAdjust="spacingAndGlyphs">CD19</text>
<text x="937.6" y="1237.2" font-size="28.8" textLength="90.7" lengthAdjust="spacingAndGlyphs">MS4A2</text>
<text x="937.6" y="1270.5" font-size="28.8" textLength="70.7" lengthAdjust="spacingAndGlyphs">CD68</text>
<text x="937.6" y="1303.9" font-size="28.8" textLength="93.7" lengthAdjust="spacingAndGlyphs">PTPRC</text>
<text x="937.6" y="1337.3" font-size="28.8" textLength="86.1" lengthAdjust="spacingAndGlyphs">KRT20</text>
<text x="937.6" y="1370.6" font-size="28.8" textLength="90.7" lengthAdjust="spacingAndGlyphs">UPK3B</text>
<text x="937.6" y="1404" font-size="28.8" textLength="89.1" lengthAdjust="spacingAndGlyphs">ACTA2</text>
<text x="937.6" y="1437.4" font-size="28.8" textLength="61.4" lengthAdjust="spacingAndGlyphs">VWF</text>
<text transform="translate(28 1602.1) rotate(-45)" font-size="28.4" fill="#4a7fc1" textLength="177.5" lengthAdjust="spacingAndGlyphs">Basal-like (K2)</text>
<text transform="translate(101.1 1606.5) rotate(-45)" font-size="28.4" fill="#d2232a" textLength="189.7" lengthAdjust="spacingAndGlyphs">Squamous (K4)</text>
<text transform="translate(177.9 1625) rotate(-45)" font-size="28.4" fill="#8d8670" textLength="204.8" lengthAdjust="spacingAndGlyphs">Luminal-like (K5)</text>
<text transform="translate(268.1 1625) rotate(-45)" font-size="28.4" textLength="194.2" lengthAdjust="spacingAndGlyphs">Endothelial (K7)</text>
<text transform="translate(363.4 1601.4) rotate(-45)" font-size="28.4" textLength="179" lengthAdjust="spacingAndGlyphs">Fibroblast (K8)</text>
<text x="555.3" y="1485.7" font-size="28.1" text-anchor="middle" textLength="48" lengthAdjust="spacingAndGlyphs">K10</text>
<text x="638.6" y="1486.5" font-size="28.1" text-anchor="middle" textLength="33" lengthAdjust="spacingAndGlyphs">K3</text>
<text x="720.7" y="1487.3" font-size="28.1" text-anchor="middle" textLength="33" lengthAdjust="spacingAndGlyphs">K6</text>
<text x="802.7" y="1486.5" font-size="28.1" text-anchor="middle" textLength="33" lengthAdjust="spacingAndGlyphs">K1</text>
<text x="887.7" y="1486.5" font-size="28.1" text-anchor="middle" textLength="33" lengthAdjust="spacingAndGlyphs">K9</text>
<rect x="530.5" y="1513.2" width="392" height="1.6" fill="#000"/>
<text x="734.4" y="1544.7" font-size="28.8" text-anchor="middle" textLength="345.7" lengthAdjust="spacingAndGlyphs">Immune-related cell clusters</text>
<text x="1061" y="1284.2" font-size="29.1" textLength="85.6" lengthAdjust="spacingAndGlyphs">Scaled</text>
<text x="1061" y="1317.9" font-size="29.1" textLength="138.5" lengthAdjust="spacingAndGlyphs">Expression</text>
<rect x="1071.1" y="1332.5" width="26.6" height="126.3" rx="1.5" fill="url(#rdbu)"/>
<text x="1109.3" y="1343.7" font-size="26" textLength="13.9" lengthAdjust="spacingAndGlyphs">4</text>
<text x="1109.3" y="1372.6" font-size="26" textLength="13.9" lengthAdjust="spacingAndGlyphs">2</text>
<text x="1109.3" y="1401.5" font-size="26" textLength="13.9" lengthAdjust="spacingAndGlyphs">0</text>
<text x="1109.3" y="1430.4" font-size="26" textLength="28.5" lengthAdjust="spacingAndGlyphs">−2</text>
<text x="1109.3" y="1459.3" font-size="26" textLength="28.5" lengthAdjust="spacingAndGlyphs">−4</text>
<path d="M1090.4 1337.8H1097.3M1090.4 1366.8H1097.3M1090.4 1395.8H1097.3M1090.4 1424.8H1097.3M1090.4 1453.8H1097.3" stroke="#fff" stroke-width="2.4" stroke-linecap="round" fill="none"/>
<rect x="1304" y="862" width="507.8" height="597.4" fill="#e4e4e4"/>
<path d="M1304 1060.3H1811.8M1304 1289.3H1811.8" stroke="#fff" stroke-width="1.8" fill="none"/>
<path d="M1304 945.4H1811.8M1304 1174.5H1811.8M1304 1434.8H1811.8M1408.1 862V1459.4M1555.4 862V1459.4M1702.9 862V1459.4" stroke="#fff" stroke-width="3.6" fill="none"/>
<rect x="1341.9" y="950.5" width="132.9" height="453.7" fill="#dc5f85" stroke="#000" stroke-width="3.3"/>
<rect x="1488.8" y="1320.1" width="133.2" height="84.1" fill="#edd778" stroke="#000" stroke-width="3.3"/>
<rect x="1635.9" y="1331.5" width="133.7" height="72.7" fill="#54939e" stroke="#000" stroke-width="3.3"/>
<path d="M1298.8 946H1304M1298.8 1172.5H1304M1298.8 1434.8H1304M1408.1 1459.4v4.4M1555.4 1459.4v4.4M1702.9 1459.4v4.4" stroke="#333" stroke-width="3" fill="none"/>
<text x="1408.1" y="945.2" font-size="30.7" text-anchor="middle" textLength="53.5" lengthAdjust="spacingAndGlyphs">989</text>
<text x="1555.4" y="1312.3" font-size="30.7" text-anchor="middle" textLength="53.5" lengthAdjust="spacingAndGlyphs">183</text>
<text x="1702.9" y="1325" font-size="30.7" text-anchor="middle" textLength="53.5" lengthAdjust="spacingAndGlyphs">161</text>
<text x="1291" y="954.6" font-size="31.2" text-anchor="end" textLength="69" lengthAdjust="spacingAndGlyphs">1000</text>
<text x="1291" y="1179.5" font-size="31.2" text-anchor="end" textLength="52" lengthAdjust="spacingAndGlyphs">500</text>
<text x="1291" y="1441.4" font-size="31.2" text-anchor="end" textLength="17.3" lengthAdjust="spacingAndGlyphs">0</text>
<text transform="translate(1223 1143) rotate(-90)" font-size="32.6" text-anchor="middle" textLength="168.7" lengthAdjust="spacingAndGlyphs">Cell number</text>
<text x="1238.5" y="832.4" font-size="31" textLength="749" lengthAdjust="spacingAndGlyphs"><tspan font-style="italic">APOBEC3A/B</tspan> expression [<tspan font-style="italic">KRT6A/IVL/DSG3</tspan> subset]</text>
<text x="1827.3" y="971.1" font-size="31" textLength="179" lengthAdjust="spacingAndGlyphs">A3 transcript</text>
<rect x="1826.4" y="990.9" width="29.8" height="29.3" fill="#dc5f85" stroke="#ededed" stroke-width="1.2"/>
<text x="1866" y="1013.2" font-size="31" font-style="italic" textLength="173" lengthAdjust="spacingAndGlyphs">APOBEC3A</text>
<rect x="1826.4" y="1031.7" width="29.8" height="29.3" fill="#edd778" stroke="#ededed" stroke-width="1.2"/>
<text x="1866" y="1053.8" font-size="31" font-style="italic" textLength="173.5" lengthAdjust="spacingAndGlyphs">APOBEC3B</text>
<rect x="1826.4" y="1072.9" width="29.8" height="29.3" fill="#54939e" stroke="#ededed" stroke-width="1.2"/>
<text x="1866" y="1095.2" font-size="31" textLength="66" lengthAdjust="spacingAndGlyphs">Both</text>
<text transform="translate(1426.6 1490.9) rotate(-45)" font-size="31.2" text-anchor="end" font-style="italic" fill="#4d4d4d" textLength="171" lengthAdjust="spacingAndGlyphs">APOBEC3A</text>
<text transform="translate(1572.5 1491.2) rotate(-45)" font-size="31.2" text-anchor="end" font-style="italic" fill="#4d4d4d" textLength="171" lengthAdjust="spacingAndGlyphs">APOBEC3B</text>
<text transform="translate(1696.5 1487.3) rotate(-45)" font-size="31.2" text-anchor="end" fill="#4d4d4d" textLength="67" lengthAdjust="spacingAndGlyphs">Both</text>
</svg>
</body></html>
